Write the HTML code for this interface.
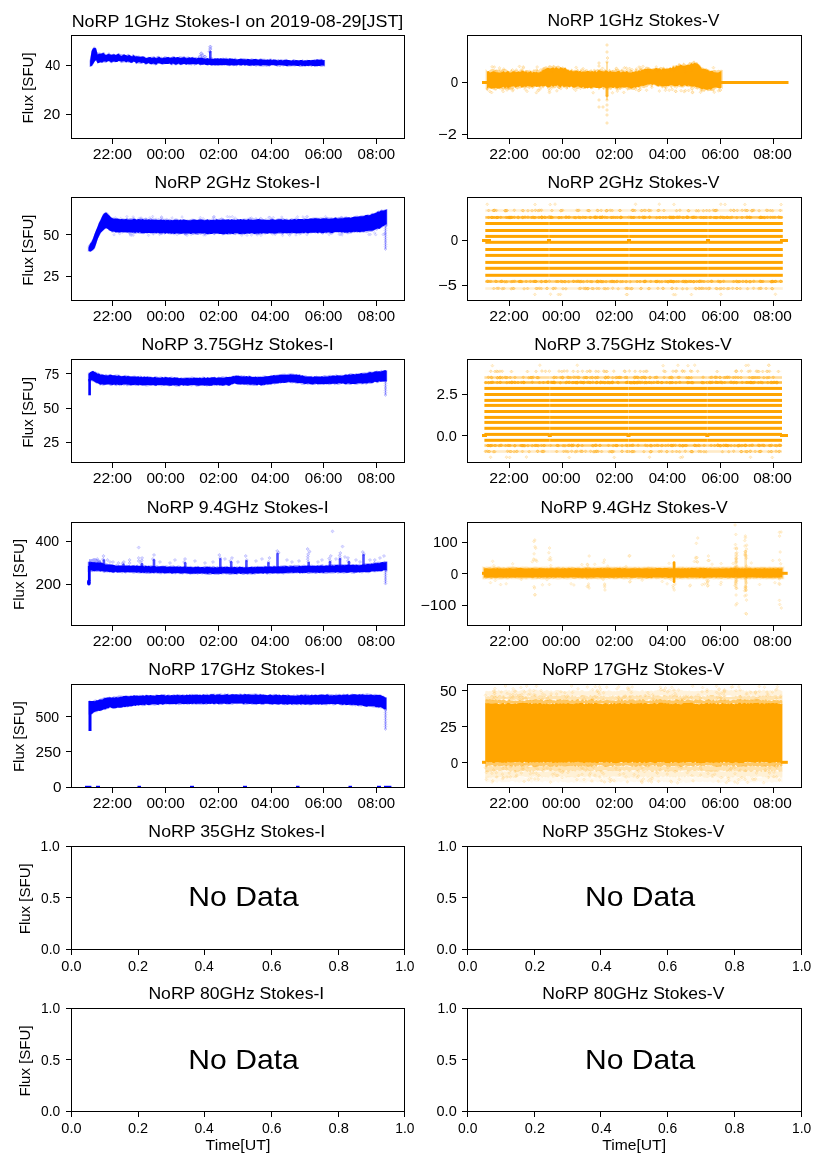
<!DOCTYPE html>
<html><head><meta charset="utf-8"><title>NoRP plots</title>
<style>
html,body{margin:0;padding:0;background:#fff;}
svg{display:block;will-change:transform;}
text{font-family:"Liberation Sans",sans-serif;fill:#000;}
</style></head>
<body>
<svg width="827" height="1169" viewBox="0 0 827 1169">
<rect x="0" y="0" width="827" height="1169" fill="#fff"/>
<defs>
<clipPath id="c00"><rect x="71" y="35" width="334" height="103"/></clipPath>
<clipPath id="c01"><rect x="467" y="35" width="335" height="103"/></clipPath>
<clipPath id="c10"><rect x="71" y="197" width="334" height="103"/></clipPath>
<clipPath id="c11"><rect x="467" y="197" width="335" height="103"/></clipPath>
<clipPath id="c20"><rect x="71" y="359" width="334" height="103"/></clipPath>
<clipPath id="c21"><rect x="467" y="359" width="335" height="103"/></clipPath>
<clipPath id="c30"><rect x="71" y="522" width="334" height="103"/></clipPath>
<clipPath id="c31"><rect x="467" y="522" width="335" height="103"/></clipPath>
<clipPath id="c40"><rect x="71" y="684" width="334" height="103"/></clipPath>
<clipPath id="c41"><rect x="467" y="684" width="335" height="103"/></clipPath>
</defs>
<g clip-path="url(#c00)">
<path d="M89.5,60.9 L91,54.06 L92.5,48.48 L94,46.54 L95.5,47.29 L97,52.08 L98.5,52.7 L100,52.43 L101.51,53.78 L103.01,51.93 L104.51,52.56 L106.01,54.99 L107.51,53.63 L109.01,52.22 L110.51,54.36 L112.01,54.68 L113.51,53.59 L115.01,54.32 L116.51,54.93 L118.01,53.02 L119.51,53.43 L121.01,54.35 L122.51,54.31 L124.01,53.99 L125.52,55.39 L127.02,54.45 L128.52,53.86 L130.02,55.4 L131.52,55.8 L133.02,54.08 L134.52,55.59 L136.02,55.61 L137.52,55.82 L139.02,55.45 L140.52,56.62 L142.02,56.09 L143.52,56.17 L145.02,56.74 L146.52,57.4 L148.02,56.77 L149.53,57.11 L151.03,56.74 L152.53,56.63 L154.03,56.08 L155.53,57.42 L157.03,56.36 L158.53,55.76 L160.03,57.04 L161.53,56.83 L163.03,57.46 L164.53,56.28 L166.03,56.6 L167.53,57.1 L169.03,56.67 L170.53,57.85 L172.04,56.47 L173.54,55.98 L175.04,57.01 L176.54,57.01 L178.04,57.35 L179.54,56.13 L181.04,56.44 L182.54,56.75 L184.04,55.95 L185.54,57.11 L187.04,56.83 L188.54,56.46 L190.04,57.68 L191.54,57.05 L193.04,56.87 L194.54,57.32 L196.05,56.98 L197.55,57.85 L199.05,57.73 L200.55,57.96 L202.05,57.25 L203.55,57.48 L205.05,57.61 L206.55,58.16 L208.05,57.91 L209.55,57.71 L211.05,57.53 L212.55,57.49 L214.05,58.7 L215.55,58.66 L217.05,58.52 L218.55,58.43 L220.06,58.36 L221.56,58.28 L223.06,57.53 L224.56,58.15 L226.06,57.51 L227.56,58.06 L229.06,57.88 L230.56,58.54 L232.06,58.25 L233.56,58.96 L235.06,57.62 L236.56,58.63 L238.06,58.97 L239.56,59.05 L241.06,58.04 L242.56,58.28 L244.07,58.27 L245.57,58.49 L247.07,58.71 L248.57,59.28 L250.07,59.02 L251.57,58.21 L253.07,58.79 L254.57,58.94 L256.07,58.61 L257.57,59.47 L259.07,58.91 L260.57,58.35 L262.07,58.79 L263.57,58.77 L265.07,58.76 L266.58,59.49 L268.08,59.32 L269.58,58.7 L271.08,58.49 L272.58,59.53 L274.08,59.44 L275.58,59.23 L277.08,59.64 L278.58,59.01 L280.08,59.99 L281.58,59.13 L283.08,59.71 L284.58,59.22 L286.08,58.84 L287.58,59.92 L289.08,60.1 L290.59,60.06 L292.09,59.97 L293.59,58.99 L295.09,59.77 L296.59,60.03 L298.09,59.89 L299.59,60.21 L301.09,60.46 L302.59,59.14 L304.09,60.53 L305.59,60.52 L307.09,59.56 L308.59,60.62 L310.09,60.5 L311.59,59.81 L313.09,59.79 L314.6,59 L316.1,59.25 L317.6,59.61 L319.1,59.07 L320.6,58.77 L322.1,58.65 L323.6,60.08 L325.1,60.03 L325.1,66.7 L323.6,66.26 L322.1,66.79 L320.6,66.8 L319.1,65.94 L317.6,66.25 L316.1,65.72 L314.6,66.88 L313.09,65.85 L311.59,66.99 L310.09,66.11 L308.59,66.46 L307.09,66 L305.59,66.54 L304.09,66.37 L302.59,66.67 L301.09,66.82 L299.59,67.04 L298.09,66 L296.59,65.84 L295.09,66.5 L293.59,66.27 L292.09,66.13 L290.59,66.45 L289.08,66.56 L287.58,66.79 L286.08,65.99 L284.58,65.89 L283.08,66.44 L281.58,65.77 L280.08,66.88 L278.58,66.13 L277.08,66.84 L275.58,65.53 L274.08,65.61 L272.58,65.84 L271.08,65.37 L269.58,66.79 L268.08,66.25 L266.58,66.68 L265.07,66.32 L263.57,66.56 L262.07,66.39 L260.57,66.41 L259.07,66.29 L257.57,65.92 L256.07,66.63 L254.57,65.9 L253.07,65.5 L251.57,66.21 L250.07,66.17 L248.57,65.74 L247.07,65.41 L245.57,65.64 L244.07,65.7 L242.56,65.06 L241.06,65.68 L239.56,66.22 L238.06,65.09 L236.56,66.46 L235.06,65.48 L233.56,66.16 L232.06,65.76 L230.56,65.95 L229.06,66.34 L227.56,65.64 L226.06,65.01 L224.56,65.67 L223.06,65.27 L221.56,65.28 L220.06,64.86 L218.55,65.83 L217.05,65.84 L215.55,65.9 L214.05,65.42 L212.55,65.87 L211.05,65.96 L209.55,64.67 L208.05,65.63 L206.55,64.8 L205.05,64.81 L203.55,64.93 L202.05,64.59 L200.55,65.67 L199.05,64.65 L197.55,64.37 L196.05,64.8 L194.54,65.64 L193.04,64.44 L191.54,65.62 L190.04,64.96 L188.54,65.3 L187.04,64.4 L185.54,64.74 L184.04,64.13 L182.54,64.72 L181.04,65.15 L179.54,65.07 L178.04,64.16 L176.54,65.3 L175.04,65.2 L173.54,64.15 L172.04,65.58 L170.53,64.71 L169.03,63.77 L167.53,64.09 L166.03,64.06 L164.53,64.26 L163.03,64.85 L161.53,64.44 L160.03,64.01 L158.53,63.84 L157.03,64.68 L155.53,65.48 L154.03,64.82 L152.53,64.6 L151.03,64.38 L149.53,64.34 L148.02,63.33 L146.52,64.78 L145.02,64.66 L143.52,62.73 L142.02,63.91 L140.52,63.96 L139.02,63.51 L137.52,63.45 L136.02,64.35 L134.52,61.97 L133.02,62.35 L131.52,63.26 L130.02,62.76 L128.52,62.77 L127.02,62.19 L125.52,62.49 L124.01,62.15 L122.51,62.79 L121.01,63.34 L119.51,61.18 L118.01,61.15 L116.51,61.96 L115.01,62.46 L113.51,62.06 L112.01,63.28 L110.51,62.9 L109.01,61.38 L107.51,61.85 L106.01,62.95 L104.51,62.41 L103.01,62.51 L101.51,62.53 L100,62.67 L98.5,62.87 L97,62.3 L95.5,60.45 L94,63.12 L92.5,66.01 L91,66.77 L89.5,67.08Z" fill="#0000ff" fill-opacity="0.35"/>
<path d="M90.1,61.05 L91.6,50.81 L93.11,48.22 L94.61,48.04 L96.11,48.3 L97.61,54.38 L99.12,53.67 L100.62,53.65 L102.12,53.25 L103.62,53.05 L105.13,54.66 L106.63,54.82 L108.13,54.04 L109.63,54.24 L111.14,54.83 L112.64,54.41 L114.14,54.21 L115.64,55.07 L117.15,54.23 L118.65,53.69 L120.15,55.22 L121.65,55.93 L123.16,54.63 L124.66,54.58 L126.16,55.19 L127.66,55.77 L129.17,54.87 L130.67,55.78 L132.17,56.43 L133.67,54.93 L135.18,56.38 L136.68,56.19 L138.18,56.54 L139.68,56.78 L141.19,56.66 L142.69,56.41 L144.19,56.82 L145.69,57.96 L147.2,57.92 L148.7,57.17 L150.2,56.95 L151.71,57.96 L153.21,57.56 L154.71,57.17 L156.21,58.35 L157.72,57.53 L159.22,56.75 L160.72,58.04 L162.22,58.21 L163.73,57.47 L165.23,57.65 L166.73,57.17 L168.23,57.04 L169.74,57.76 L171.24,57.5 L172.74,57.53 L174.24,56.71 L175.75,57.84 L177.25,57.12 L178.75,57.21 L180.25,57.92 L181.76,57.78 L183.26,57.28 L184.76,57.28 L186.26,58.27 L187.77,58 L189.27,57.29 L190.77,57.68 L192.27,57.34 L193.78,58.07 L195.28,58.09 L196.78,58.43 L198.28,57.56 L199.79,57.98 L201.29,57.57 L202.79,57.92 L204.29,58.53 L205.8,58.71 L207.3,58.09 L208.8,58.83 L210.31,58.43 L211.81,58.65 L213.31,58.96 L214.81,58.36 L216.32,58.38 L217.82,58.35 L219.32,58.82 L220.82,58.3 L222.33,58.8 L223.83,58.38 L225.33,58.65 L226.83,58.71 L228.34,59.24 L229.84,58.35 L231.34,58.64 L232.84,58.66 L234.35,58.98 L235.85,59.36 L237.35,59.44 L238.85,59.02 L240.36,58.82 L241.86,58.93 L243.36,59.32 L244.86,59.3 L246.37,59.44 L247.87,58.77 L249.37,59.28 L250.87,59.44 L252.38,59.61 L253.88,59.04 L255.38,59.01 L256.88,59.35 L258.39,59.84 L259.89,59.18 L261.39,59.35 L262.89,59.82 L264.4,59.69 L265.9,59.97 L267.4,59.6 L268.91,59.95 L270.41,59.33 L271.91,60.26 L273.41,59.5 L274.92,59.69 L276.42,60.12 L277.92,60.44 L279.42,60.03 L280.93,59.69 L282.43,60.41 L283.93,59.95 L285.43,59.98 L286.94,59.83 L288.44,59.98 L289.94,60.22 L291.44,60.71 L292.95,60.03 L294.45,60.49 L295.95,60.09 L297.45,60.2 L298.96,60.44 L300.46,59.95 L301.96,59.95 L303.46,60.77 L304.97,60.3 L306.47,60.57 L307.97,60.09 L309.47,60.05 L310.98,60.25 L312.48,60.03 L313.98,59.96 L315.48,60.24 L316.99,59.32 L318.49,59.69 L319.99,59.97 L321.49,59.51 L323,60.35 L324.5,59.95 L324.5,65.77 L323,65.51 L321.49,65.49 L319.99,66.12 L318.49,66.07 L316.99,66.28 L315.48,66.2 L313.98,66.02 L312.48,66.12 L310.98,65.5 L309.47,65.76 L307.97,66.09 L306.47,65.85 L304.97,66.18 L303.46,65.72 L301.96,65.98 L300.46,65.34 L298.96,66.04 L297.45,65.99 L295.95,65.75 L294.45,65.57 L292.95,65.39 L291.44,65.68 L289.94,65.38 L288.44,65.38 L286.94,66.13 L285.43,65.81 L283.93,65.59 L282.43,65.17 L280.93,65.35 L279.42,65.12 L277.92,65.22 L276.42,65.86 L274.92,65.62 L273.41,65.08 L271.91,65.05 L270.41,65.46 L268.91,65.83 L267.4,65.46 L265.9,65.36 L264.4,65.21 L262.89,65.08 L261.39,65.85 L259.89,65.73 L258.39,65.36 L256.88,65.16 L255.38,65.21 L253.88,65.72 L252.38,65.22 L250.87,65.44 L249.37,65.64 L247.87,65.39 L246.37,64.89 L244.86,65.38 L243.36,64.69 L241.86,65.59 L240.36,65.15 L238.85,64.87 L237.35,65.22 L235.85,65.36 L234.35,65.43 L232.84,65.16 L231.34,64.95 L229.84,65.43 L228.34,65.17 L226.83,65.13 L225.33,64.89 L223.83,65.06 L222.33,65.26 L220.82,65.33 L219.32,65.13 L217.82,65.34 L216.32,65.12 L214.81,65.3 L213.31,64.9 L211.81,65.31 L210.31,65.01 L208.8,64.87 L207.3,65.16 L205.8,65.06 L204.29,64.15 L202.79,64.66 L201.29,64.69 L199.79,64.73 L198.28,63.79 L196.78,64.52 L195.28,64.17 L193.78,63.95 L192.27,64.07 L190.77,64.21 L189.27,64.36 L187.77,63.98 L186.26,64.87 L184.76,63.9 L183.26,64.11 L181.76,64.5 L180.25,64.72 L178.75,63.5 L177.25,64.33 L175.75,64.67 L174.24,64.04 L172.74,63.58 L171.24,64.8 L169.74,63.62 L168.23,63.97 L166.73,64.06 L165.23,63.88 L163.73,63.7 L162.22,64.24 L160.72,63.76 L159.22,63.17 L157.72,63.31 L156.21,64.72 L154.71,63.93 L153.21,63.41 L151.71,64.37 L150.2,63.93 L148.7,62.88 L147.2,63.71 L145.69,64.02 L144.19,63.06 L142.69,62.76 L141.19,63.01 L139.68,62.34 L138.18,62.34 L136.68,63.38 L135.18,62.3 L133.67,61.48 L132.17,62.63 L130.67,62.66 L129.17,61.75 L127.66,61.48 L126.16,62.5 L124.66,61.31 L123.16,61.29 L121.65,61.79 L120.15,61.26 L118.65,60.93 L117.15,62.12 L115.64,61.92 L114.14,61.6 L112.64,61.86 L111.14,62.47 L109.63,61.17 L108.13,61.02 L106.63,62.08 L105.13,61.62 L103.62,61.45 L102.12,62.69 L100.62,62.24 L99.12,62.85 L97.61,63.54 L96.11,60.04 L94.61,61.6 L93.11,64.06 L91.6,65.96 L90.1,66.26Z" fill="#0000ff"/>
<rect x="209" y="51" width="2.6" height="8" rx="1" fill="#0000ff" fill-opacity="0.75"/>
<path d="M210.3,45l1.8,1.8l-1.8,1.8l-1.8,-1.8zM210.3,47.2l1.8,1.8l-1.8,1.8l-1.8,-1.8zM209.8,49.7l1.8,1.8l-1.8,1.8l-1.8,-1.8zM201.3,51.7l1.8,1.8l-1.8,1.8l-1.8,-1.8zM202.5,53.7l1.8,1.8l-1.8,1.8l-1.8,-1.8zM200,54.7l1.8,1.8l-1.8,1.8l-1.8,-1.8zM205,55l1.8,1.8l-1.8,1.8l-1.8,-1.8z" fill="#0000ff" fill-opacity="0.210" stroke="#0000ff" stroke-opacity="0.300" stroke-width="0.7"/>
</g>
<g clip-path="url(#c01)">
<rect x="482" y="81" width="6" height="3" fill="#ffa500"/>
<rect x="721" y="81" width="67.5" height="3" fill="#ffa500"/>
<path d="M485.7,68.73 L487.21,71.53 L488.72,71.09 L490.23,69.72 L491.74,69.04 L493.25,68.87 L494.76,69.98 L496.27,69.76 L497.78,69.72 L499.29,69.24 L500.8,70.97 L502.31,69.35 L503.81,69.09 L505.32,69.02 L506.83,69.8 L508.34,71.12 L509.85,70.96 L511.36,69.04 L512.87,71.47 L514.38,69.9 L515.89,71.75 L517.4,71.8 L518.91,70.38 L520.42,70.67 L521.93,69.15 L523.44,70.78 L524.95,71.01 L526.46,70.27 L527.97,69.88 L529.48,71.64 L530.99,70.83 L532.5,70.69 L534.01,69.04 L535.52,70.7 L537.02,69.21 L538.53,70.26 L540.04,70.88 L541.55,70.24 L543.06,68.15 L544.57,66.76 L546.08,66.24 L547.59,66.99 L549.1,65.35 L550.61,65.47 L552.12,66.33 L553.63,64.82 L555.14,66.29 L556.65,65.89 L558.16,65.57 L559.67,66.2 L561.18,68.08 L562.69,66.33 L564.2,67.83 L565.71,67.45 L567.22,69.38 L568.73,69.21 L570.24,70.26 L571.74,68.39 L573.25,70.23 L574.76,69.73 L576.27,70.18 L577.78,68.51 L579.29,71.25 L580.8,68.89 L582.31,70.91 L583.82,70.44 L585.33,69.51 L586.84,70.99 L588.35,71.02 L589.86,69.9 L591.37,69.14 L592.88,71.53 L594.39,69.78 L595.9,70.03 L597.41,69.08 L598.92,69.38 L600.43,68.67 L601.94,69.65 L603.45,70.27 L604.95,68.88 L606.46,70.23 L607.97,70.89 L609.48,68.77 L610.99,70.41 L612.5,69.99 L614.01,70.74 L615.52,69.1 L617.03,69.59 L618.54,68.82 L620.05,70.58 L621.56,69.58 L623.07,69.96 L624.58,71.5 L626.09,70.9 L627.6,70.55 L629.11,71.71 L630.62,69.53 L632.13,70.34 L633.64,71.66 L635.15,69.47 L636.66,68.86 L638.16,70.94 L639.67,69.43 L641.18,67.92 L642.69,68.47 L644.2,69.02 L645.71,66.87 L647.22,66.68 L648.73,67.11 L650.24,67.96 L651.75,68.69 L653.26,68.01 L654.77,68.01 L656.28,67.67 L657.79,68.53 L659.3,67.87 L660.81,66.72 L662.32,67.59 L663.83,66.38 L665.34,69.11 L666.85,67.39 L668.36,68.24 L669.87,67.4 L671.38,67.88 L672.88,65.16 L674.39,65.71 L675.9,65.17 L677.41,65.19 L678.92,62.99 L680.43,63.98 L681.94,65.04 L683.45,62.6 L684.96,63.77 L686.47,64.66 L687.98,64.06 L689.49,62.02 L691,62.6 L692.51,61.71 L694.02,60.41 L695.53,62.32 L697.04,62.11 L698.55,64.1 L700.06,64.96 L701.57,67.18 L703.08,67.58 L704.59,68.95 L706.09,67.88 L707.6,69.13 L709.11,69.49 L710.62,70.81 L712.13,70.53 L713.64,70.54 L715.15,69.98 L716.66,70.55 L718.17,69.65 L719.68,70.11 L721.19,69.66 L722.7,69.96 L722.7,89.24 L721.19,87.52 L719.68,88.33 L718.17,87.8 L716.66,88.32 L715.15,88.88 L713.64,91.4 L712.13,91.12 L710.62,90.65 L709.11,90.91 L707.6,91.15 L706.09,89.78 L704.59,91.71 L703.08,91.57 L701.57,91.64 L700.06,88.65 L698.55,88.64 L697.04,89.71 L695.53,87.1 L694.02,87.96 L692.51,86.26 L691,88.11 L689.49,86.8 L687.98,87.36 L686.47,86.09 L684.96,86.55 L683.45,87.56 L681.94,87.45 L680.43,87.14 L678.92,87 L677.41,86.47 L675.9,85.61 L674.39,87.88 L672.88,85.9 L671.38,88.65 L669.87,86.23 L668.36,86.68 L666.85,86.77 L665.34,89.12 L663.83,87.28 L662.32,88.59 L660.81,86.69 L659.3,86.64 L657.79,86.82 L656.28,86.19 L654.77,85.31 L653.26,84.88 L651.75,87.4 L650.24,85.15 L648.73,85.58 L647.22,87.27 L645.71,87.31 L644.2,88.3 L642.69,87.86 L641.18,87.13 L639.67,88.97 L638.16,86.95 L636.66,86.96 L635.15,89.35 L633.64,90.03 L632.13,89.74 L630.62,89.49 L629.11,89.46 L627.6,90.68 L626.09,88.46 L624.58,87.88 L623.07,88.29 L621.56,88.85 L620.05,90.29 L618.54,88.22 L617.03,90.08 L615.52,89.14 L614.01,88.06 L612.5,88.12 L610.99,90.07 L609.48,89.14 L607.97,89.87 L606.46,89.35 L604.95,87.43 L603.45,89.96 L601.94,87.76 L600.43,88.01 L598.92,90.27 L597.41,87.34 L595.9,87.43 L594.39,87.48 L592.88,88.87 L591.37,89.32 L589.86,87.87 L588.35,87.52 L586.84,87.95 L585.33,88.58 L583.82,89.37 L582.31,88.52 L580.8,87.09 L579.29,88.05 L577.78,89.35 L576.27,88.99 L574.76,87.34 L573.25,86.94 L571.74,87.12 L570.24,87.28 L568.73,86.78 L567.22,89.23 L565.71,87.05 L564.2,88.26 L562.69,87.18 L561.18,87.62 L559.67,88.92 L558.16,88.52 L556.65,87.09 L555.14,88.18 L553.63,88.24 L552.12,87.78 L550.61,87.54 L549.1,87.44 L547.59,88.56 L546.08,86.25 L544.57,86.7 L543.06,88.49 L541.55,86.21 L540.04,87.17 L538.53,87.18 L537.02,86.69 L535.52,86.5 L534.01,87.79 L532.5,89.08 L530.99,87.62 L529.48,89.35 L527.97,87.99 L526.46,87.74 L524.95,88.26 L523.44,88.26 L521.93,87.47 L520.42,88.57 L518.91,88.21 L517.4,89.51 L515.89,88.4 L514.38,87.44 L512.87,89.43 L511.36,88.98 L509.85,89.45 L508.34,90.05 L506.83,89.1 L505.32,89.03 L503.81,89.73 L502.31,89.23 L500.8,88.13 L499.29,89.4 L497.78,87.83 L496.27,90.52 L494.76,90.6 L493.25,88.82 L491.74,88.61 L490.23,89.01 L488.72,88.4 L487.21,91.09 L485.7,88.52Z" fill="#ffa500" fill-opacity="0.4"/>
<path d="M487,71.45 L488.5,71.1 L490.01,72.45 L491.51,71.96 L493.01,71.16 L494.51,71.46 L496.02,72.32 L497.52,72.32 L499.02,72.56 L500.52,72.55 L502.03,72.03 L503.53,71.02 L505.03,72.58 L506.53,71.68 L508.04,70.73 L509.54,72.47 L511.04,72.43 L512.54,71.46 L514.05,71.31 L515.55,72.36 L517.05,71.9 L518.55,71.51 L520.06,71.93 L521.56,71.25 L523.06,70.75 L524.56,71.99 L526.07,71.32 L527.57,72.47 L529.07,71.97 L530.57,71.08 L532.08,72.64 L533.58,71.84 L535.08,72.26 L536.58,71.92 L538.09,72.49 L539.59,72.34 L541.09,71.86 L542.59,70.2 L544.1,69.73 L545.6,68.74 L547.1,68.1 L548.61,67.99 L550.11,68.51 L551.61,68.01 L553.11,67.14 L554.62,68.51 L556.12,67.04 L557.62,68.2 L559.12,68.71 L560.63,66.93 L562.13,67.99 L563.63,68.46 L565.13,67.6 L566.64,69.56 L568.14,69.81 L569.64,71 L571.14,69.97 L572.65,71.25 L574.15,71.35 L575.65,70.95 L577.15,70.65 L578.66,71.56 L580.16,70.84 L581.66,72.02 L583.16,71.52 L584.67,71.56 L586.17,71.39 L587.67,70.74 L589.17,71.14 L590.68,71.48 L592.18,70.97 L593.68,71.75 L595.18,70.87 L596.69,72.2 L598.19,70.32 L599.69,70.23 L601.19,70.96 L602.7,71.31 L604.2,71.41 L605.7,70.28 L607.21,71.11 L608.71,71.98 L610.21,70.87 L611.71,71.82 L613.22,71.71 L614.72,72.11 L616.22,71.82 L617.72,70.99 L619.23,70.7 L620.73,72.57 L622.23,71.8 L623.73,71.41 L625.24,72.33 L626.74,70.98 L628.24,72.21 L629.74,72.59 L631.25,72.4 L632.75,71.64 L634.25,72.12 L635.75,71.04 L637.26,71.56 L638.76,70.15 L640.26,71.19 L641.76,69.81 L643.27,69.67 L644.77,68.75 L646.27,69.02 L647.77,68.6 L649.28,68.75 L650.78,69.01 L652.28,69.22 L653.78,69.22 L655.29,68.17 L656.79,67.95 L658.29,69.1 L659.79,68.13 L661.3,69.72 L662.8,68.34 L664.3,68.51 L665.81,68.7 L667.31,68.82 L668.81,68.57 L670.31,67.42 L671.82,68.33 L673.32,66.35 L674.82,67.71 L676.32,65.6 L677.83,66.16 L679.33,65.8 L680.83,64.38 L682.33,65.52 L683.84,65.73 L685.34,65.59 L686.84,65.12 L688.34,64.69 L689.85,64.75 L691.35,63 L692.85,64.1 L694.35,62.81 L695.86,63.18 L697.36,63.57 L698.86,64.84 L700.36,66.52 L701.87,68.71 L703.37,68.71 L704.87,68.78 L706.37,69.41 L707.88,69.7 L709.38,71.24 L710.88,71.12 L712.38,70.73 L713.89,72.35 L715.39,72.37 L716.89,72.59 L718.39,72.44 L719.9,71.5 L721.4,70.88 L721.4,87.79 L719.9,88.49 L718.39,88.2 L716.89,87.59 L715.39,87.47 L713.89,87.83 L712.38,88.14 L710.88,89.65 L709.38,89.11 L707.88,89.66 L706.37,89.68 L704.87,89.28 L703.37,88.86 L701.87,89.27 L700.36,88.26 L698.86,87.69 L697.36,87.24 L695.86,87 L694.35,86.3 L692.85,86.77 L691.35,86.61 L689.85,86.01 L688.34,85.61 L686.84,86.52 L685.34,85.28 L683.84,85.4 L682.33,86.39 L680.83,86.15 L679.33,84.71 L677.83,85.98 L676.32,86.23 L674.82,86.33 L673.32,85.78 L671.82,85.33 L670.31,85.31 L668.81,85.92 L667.31,86.03 L665.81,85.95 L664.3,86.24 L662.8,86.44 L661.3,86.31 L659.79,85.48 L658.29,86.4 L656.79,85.66 L655.29,84.84 L653.78,84.17 L652.28,84.98 L650.78,83.97 L649.28,84.44 L647.77,84.62 L646.27,84.93 L644.77,85.6 L643.27,86.07 L641.76,85.79 L640.26,86.33 L638.76,87.17 L637.26,86.69 L635.75,87.71 L634.25,87.21 L632.75,87.93 L631.25,88.63 L629.74,87.86 L628.24,87.54 L626.74,86.97 L625.24,87.59 L623.73,87.6 L622.23,87.26 L620.73,87.85 L619.23,87.59 L617.72,88.16 L616.22,88.21 L614.72,86.98 L613.22,88.13 L611.71,87.55 L610.21,87.49 L608.71,87.74 L607.21,87.89 L605.7,87.99 L604.2,87.21 L602.7,86.75 L601.19,88.1 L599.69,88.32 L598.19,88.11 L596.69,87.95 L595.18,87.67 L593.68,87.3 L592.18,87.74 L590.68,88.4 L589.17,87.4 L587.67,88.42 L586.17,87.68 L584.67,88.32 L583.16,86.77 L581.66,88 L580.16,87.55 L578.66,86.6 L577.15,86.45 L575.65,87.35 L574.15,87.77 L572.65,87.57 L571.14,86.08 L569.64,87.57 L568.14,86.84 L566.64,86.55 L565.13,86.69 L563.63,86.95 L562.13,85.39 L560.63,87.31 L559.12,86.52 L557.62,85.27 L556.12,85.91 L554.62,85.74 L553.11,87.04 L551.61,85.61 L550.11,87.1 L548.61,87.18 L547.1,87.2 L545.6,85.86 L544.1,86.22 L542.59,86.57 L541.09,85.85 L539.59,86.7 L538.09,86.45 L536.58,86.93 L535.08,86.28 L533.58,86.5 L532.08,87.14 L530.57,86.54 L529.07,86.6 L527.57,86.08 L526.07,87 L524.56,86.41 L523.06,87.05 L521.56,87.7 L520.06,85.86 L518.55,86.83 L517.05,86.79 L515.55,87.65 L514.05,86.2 L512.54,86.5 L511.04,86.87 L509.54,87.17 L508.04,88.29 L506.53,86.66 L505.03,88.38 L503.53,86.66 L502.03,87.51 L500.52,88.15 L499.02,88.48 L497.52,88.71 L496.02,87.83 L494.51,88.33 L493.01,88.27 L491.51,88.75 L490.01,87.93 L488.5,87.53 L487,88.61Z" fill="#ffa500"/>
<path d="M576.16,65.88l1.5,1.5l-1.5,1.5l-1.5,-1.5zM525.85,69.98l1.5,1.5l-1.5,1.5l-1.5,-1.5zM622.24,68.64l1.5,1.5l-1.5,1.5l-1.5,-1.5zM616.42,66.8l1.5,1.5l-1.5,1.5l-1.5,-1.5zM658.2,67.96l1.5,1.5l-1.5,1.5l-1.5,-1.5zM669.8,68.47l1.5,1.5l-1.5,1.5l-1.5,-1.5zM683.4,67.14l1.5,1.5l-1.5,1.5l-1.5,-1.5zM523.28,65.4l1.5,1.5l-1.5,1.5l-1.5,-1.5zM656.22,65.51l1.5,1.5l-1.5,1.5l-1.5,-1.5zM640.19,68.22l1.5,1.5l-1.5,1.5l-1.5,-1.5zM500.92,69.21l1.5,1.5l-1.5,1.5l-1.5,-1.5zM494.72,69.7l1.5,1.5l-1.5,1.5l-1.5,-1.5zM683.8,65.8l1.5,1.5l-1.5,1.5l-1.5,-1.5zM656.94,68.89l1.5,1.5l-1.5,1.5l-1.5,-1.5zM516.25,68.52l1.5,1.5l-1.5,1.5l-1.5,-1.5zM515.96,69.98l1.5,1.5l-1.5,1.5l-1.5,-1.5zM648.19,70.38l1.5,1.5l-1.5,1.5l-1.5,-1.5zM499.53,66.41l1.5,1.5l-1.5,1.5l-1.5,-1.5zM632.06,68.15l1.5,1.5l-1.5,1.5l-1.5,-1.5zM529.61,69.83l1.5,1.5l-1.5,1.5l-1.5,-1.5zM685.09,66.31l1.5,1.5l-1.5,1.5l-1.5,-1.5zM521.14,68.51l1.5,1.5l-1.5,1.5l-1.5,-1.5zM582.28,68.48l1.5,1.5l-1.5,1.5l-1.5,-1.5zM602.42,66.87l1.5,1.5l-1.5,1.5l-1.5,-1.5zM492.07,65.31l1.5,1.5l-1.5,1.5l-1.5,-1.5zM594.27,68.87l1.5,1.5l-1.5,1.5l-1.5,-1.5zM586.61,68.97l1.5,1.5l-1.5,1.5l-1.5,-1.5zM613.31,69.78l1.5,1.5l-1.5,1.5l-1.5,-1.5zM640.3,66.43l1.5,1.5l-1.5,1.5l-1.5,-1.5zM519.48,64.89l1.5,1.5l-1.5,1.5l-1.5,-1.5zM496.27,69.67l1.5,1.5l-1.5,1.5l-1.5,-1.5zM691.65,69.01l1.5,1.5l-1.5,1.5l-1.5,-1.5zM512.58,68.46l1.5,1.5l-1.5,1.5l-1.5,-1.5zM516.87,69.83l1.5,1.5l-1.5,1.5l-1.5,-1.5zM640.37,69l1.5,1.5l-1.5,1.5l-1.5,-1.5zM629.52,67.01l1.5,1.5l-1.5,1.5l-1.5,-1.5zM685.53,70.27l1.5,1.5l-1.5,1.5l-1.5,-1.5zM543.57,67.12l1.5,1.5l-1.5,1.5l-1.5,-1.5zM658.62,68.58l1.5,1.5l-1.5,1.5l-1.5,-1.5zM583.08,67.2l1.5,1.5l-1.5,1.5l-1.5,-1.5zM713.43,66.16l1.5,1.5l-1.5,1.5l-1.5,-1.5zM536.5,68.62l1.5,1.5l-1.5,1.5l-1.5,-1.5zM551.81,69.88l1.5,1.5l-1.5,1.5l-1.5,-1.5zM563.22,70.05l1.5,1.5l-1.5,1.5l-1.5,-1.5zM575.88,69.81l1.5,1.5l-1.5,1.5l-1.5,-1.5zM662.76,68.89l1.5,1.5l-1.5,1.5l-1.5,-1.5zM537.15,65.49l1.5,1.5l-1.5,1.5l-1.5,-1.5zM494.26,65.58l1.5,1.5l-1.5,1.5l-1.5,-1.5zM642.97,64.89l1.5,1.5l-1.5,1.5l-1.5,-1.5zM542.51,67.9l1.5,1.5l-1.5,1.5l-1.5,-1.5zM523.31,66.47l1.5,1.5l-1.5,1.5l-1.5,-1.5zM540.44,68.56l1.5,1.5l-1.5,1.5l-1.5,-1.5zM514.73,70.49l1.5,1.5l-1.5,1.5l-1.5,-1.5zM627.1,68.78l1.5,1.5l-1.5,1.5l-1.5,-1.5zM616.3,67.49l1.5,1.5l-1.5,1.5l-1.5,-1.5zM714.14,69.86l1.5,1.5l-1.5,1.5l-1.5,-1.5zM679.34,64.68l1.5,1.5l-1.5,1.5l-1.5,-1.5zM624.95,70.15l1.5,1.5l-1.5,1.5l-1.5,-1.5zM636.36,67.58l1.5,1.5l-1.5,1.5l-1.5,-1.5zM639.03,65.56l1.5,1.5l-1.5,1.5l-1.5,-1.5zM657.28,69.2l1.5,1.5l-1.5,1.5l-1.5,-1.5zM503.78,67.56l1.5,1.5l-1.5,1.5l-1.5,-1.5zM626.28,66.61l1.5,1.5l-1.5,1.5l-1.5,-1.5zM646.52,70.03l1.5,1.5l-1.5,1.5l-1.5,-1.5zM699.05,66.35l1.5,1.5l-1.5,1.5l-1.5,-1.5zM522.51,69.62l1.5,1.5l-1.5,1.5l-1.5,-1.5zM630.2,69.48l1.5,1.5l-1.5,1.5l-1.5,-1.5zM690.33,66.18l1.5,1.5l-1.5,1.5l-1.5,-1.5zM624.45,66.32l1.5,1.5l-1.5,1.5l-1.5,-1.5zM673.61,68.65l1.5,1.5l-1.5,1.5l-1.5,-1.5zM636.63,85.65l1.5,1.5l-1.5,1.5l-1.5,-1.5zM551.36,86.84l1.5,1.5l-1.5,1.5l-1.5,-1.5zM659.33,89.56l1.5,1.5l-1.5,1.5l-1.5,-1.5zM695.77,86.02l1.5,1.5l-1.5,1.5l-1.5,-1.5zM585.73,85.68l1.5,1.5l-1.5,1.5l-1.5,-1.5zM538.16,88.53l1.5,1.5l-1.5,1.5l-1.5,-1.5zM493.21,86.69l1.5,1.5l-1.5,1.5l-1.5,-1.5zM639.07,88.77l1.5,1.5l-1.5,1.5l-1.5,-1.5zM538.58,89.04l1.5,1.5l-1.5,1.5l-1.5,-1.5zM676.41,85.54l1.5,1.5l-1.5,1.5l-1.5,-1.5zM675.56,89.69l1.5,1.5l-1.5,1.5l-1.5,-1.5zM566.62,86.43l1.5,1.5l-1.5,1.5l-1.5,-1.5zM710.99,87.52l1.5,1.5l-1.5,1.5l-1.5,-1.5zM508.7,86.08l1.5,1.5l-1.5,1.5l-1.5,-1.5zM685.31,89.12l1.5,1.5l-1.5,1.5l-1.5,-1.5zM675.87,89.88l1.5,1.5l-1.5,1.5l-1.5,-1.5zM612.48,91.34l1.5,1.5l-1.5,1.5l-1.5,-1.5zM575.58,88.81l1.5,1.5l-1.5,1.5l-1.5,-1.5zM681.08,89.21l1.5,1.5l-1.5,1.5l-1.5,-1.5zM688.64,88.96l1.5,1.5l-1.5,1.5l-1.5,-1.5zM651.87,85.77l1.5,1.5l-1.5,1.5l-1.5,-1.5zM540.33,87.24l1.5,1.5l-1.5,1.5l-1.5,-1.5zM505.67,86.9l1.5,1.5l-1.5,1.5l-1.5,-1.5zM510.63,87.17l1.5,1.5l-1.5,1.5l-1.5,-1.5zM635.75,87.69l1.5,1.5l-1.5,1.5l-1.5,-1.5zM573.62,86.76l1.5,1.5l-1.5,1.5l-1.5,-1.5zM549.47,91.12l1.5,1.5l-1.5,1.5l-1.5,-1.5zM638.64,89.15l1.5,1.5l-1.5,1.5l-1.5,-1.5zM527.05,89.87l1.5,1.5l-1.5,1.5l-1.5,-1.5zM525.24,87.78l1.5,1.5l-1.5,1.5l-1.5,-1.5zM718.55,89.34l1.5,1.5l-1.5,1.5l-1.5,-1.5zM617.33,89.61l1.5,1.5l-1.5,1.5l-1.5,-1.5zM684.23,90.16l1.5,1.5l-1.5,1.5l-1.5,-1.5zM540.6,85.69l1.5,1.5l-1.5,1.5l-1.5,-1.5zM560.82,87.11l1.5,1.5l-1.5,1.5l-1.5,-1.5zM536.37,91.16l1.5,1.5l-1.5,1.5l-1.5,-1.5zM692.07,87.39l1.5,1.5l-1.5,1.5l-1.5,-1.5zM640.37,87.87l1.5,1.5l-1.5,1.5l-1.5,-1.5zM701,88.25l1.5,1.5l-1.5,1.5l-1.5,-1.5zM548.98,86.98l1.5,1.5l-1.5,1.5l-1.5,-1.5zM618.36,87.08l1.5,1.5l-1.5,1.5l-1.5,-1.5zM623.79,90.89l1.5,1.5l-1.5,1.5l-1.5,-1.5zM580.46,86.82l1.5,1.5l-1.5,1.5l-1.5,-1.5zM720.42,88.56l1.5,1.5l-1.5,1.5l-1.5,-1.5zM508.27,85.78l1.5,1.5l-1.5,1.5l-1.5,-1.5zM512.66,89.26l1.5,1.5l-1.5,1.5l-1.5,-1.5zM672.35,88.03l1.5,1.5l-1.5,1.5l-1.5,-1.5zM501.87,87.79l1.5,1.5l-1.5,1.5l-1.5,-1.5zM720.09,88.67l1.5,1.5l-1.5,1.5l-1.5,-1.5zM714.23,90.66l1.5,1.5l-1.5,1.5l-1.5,-1.5zM489.69,89.82l1.5,1.5l-1.5,1.5l-1.5,-1.5zM646.52,88.72l1.5,1.5l-1.5,1.5l-1.5,-1.5zM549.44,89.35l1.5,1.5l-1.5,1.5l-1.5,-1.5zM513.1,88.11l1.5,1.5l-1.5,1.5l-1.5,-1.5zM593.17,91.22l1.5,1.5l-1.5,1.5l-1.5,-1.5zM691.95,87.08l1.5,1.5l-1.5,1.5l-1.5,-1.5zM604.14,86.57l1.5,1.5l-1.5,1.5l-1.5,-1.5zM700.55,90.72l1.5,1.5l-1.5,1.5l-1.5,-1.5zM556.84,89.33l1.5,1.5l-1.5,1.5l-1.5,-1.5zM629.5,86.42l1.5,1.5l-1.5,1.5l-1.5,-1.5zM665.43,88.74l1.5,1.5l-1.5,1.5l-1.5,-1.5zM669.2,88.68l1.5,1.5l-1.5,1.5l-1.5,-1.5zM487.13,87.44l1.5,1.5l-1.5,1.5l-1.5,-1.5zM491.56,91.07l1.5,1.5l-1.5,1.5l-1.5,-1.5zM692.62,90.49l1.5,1.5l-1.5,1.5l-1.5,-1.5zM558.96,85.85l1.5,1.5l-1.5,1.5l-1.5,-1.5zM692.45,91.18l1.5,1.5l-1.5,1.5l-1.5,-1.5zM507.04,88.42l1.5,1.5l-1.5,1.5l-1.5,-1.5zM503.2,90.06l1.5,1.5l-1.5,1.5l-1.5,-1.5zM666.21,86.27l1.5,1.5l-1.5,1.5l-1.5,-1.5z" fill="#ffa500" fill-opacity="0.175" stroke="#ffa500" stroke-opacity="0.250" stroke-width="0.7"/>
<path d="M607,43.5l1.5,1.5l-1.5,1.5l-1.5,-1.5zM607,50.5l1.5,1.5l-1.5,1.5l-1.5,-1.5zM607.5,56.5l1.5,1.5l-1.5,1.5l-1.5,-1.5zM607,60.5l1.5,1.5l-1.5,1.5l-1.5,-1.5zM599,61.5l1.5,1.5l-1.5,1.5l-1.5,-1.5zM599,64.5l1.5,1.5l-1.5,1.5l-1.5,-1.5zM607,94.5l1.5,1.5l-1.5,1.5l-1.5,-1.5zM607,98.5l1.5,1.5l-1.5,1.5l-1.5,-1.5zM607,103.5l1.5,1.5l-1.5,1.5l-1.5,-1.5zM607,108.5l1.5,1.5l-1.5,1.5l-1.5,-1.5zM607,113.5l1.5,1.5l-1.5,1.5l-1.5,-1.5zM607,121.5l1.5,1.5l-1.5,1.5l-1.5,-1.5zM599,98.5l1.5,1.5l-1.5,1.5l-1.5,-1.5zM599,105.5l1.5,1.5l-1.5,1.5l-1.5,-1.5zM603,105.5l1.5,1.5l-1.5,1.5l-1.5,-1.5z" fill="#ffa500" fill-opacity="0.210" stroke="#ffa500" stroke-opacity="0.300" stroke-width="0.7"/>
<rect x="606" y="62" width="2" height="38" fill="#ffa500" fill-opacity="0.35"/>
<rect x="605.5" y="86" width="3" height="11" rx="1.4" fill="#ffa500" fill-opacity="0.75"/>
</g>
<g clip-path="url(#c10)">
<path d="M87.8,246.06 L89.31,244.23 L90.81,241.84 L92.32,239.31 L93.82,235.8 L95.33,231.79 L96.84,228.32 L98.34,223.62 L99.85,220.52 L101.35,217.31 L102.86,213.89 L104.37,212.82 L105.87,211.63 L107.38,212.46 L108.88,214 L110.39,216.22 L111.9,217.38 L113.4,217.62 L114.91,217.96 L116.41,218.7 L117.92,217.77 L119.43,218.85 L120.93,218.98 L122.44,218.21 L123.94,218.59 L125.45,218.68 L126.96,217.97 L128.46,218.77 L129.97,218 L131.47,217.96 L132.98,218.41 L134.49,218.36 L135.99,219.02 L137.5,219.21 L139.01,219.28 L140.51,218.31 L142.02,218.16 L143.52,218.58 L145.03,218.29 L146.54,217.97 L148.04,219.17 L149.55,218.78 L151.05,218.1 L152.56,219.2 L154.07,218.76 L155.57,218.76 L157.08,219.22 L158.58,218.27 L160.09,219.13 L161.6,218.45 L163.1,218.66 L164.61,218.67 L166.11,218.78 L167.62,219.32 L169.13,218.63 L170.63,218.98 L172.14,219.67 L173.64,219.35 L175.15,218.62 L176.66,218.47 L178.16,219.08 L179.67,219.59 L181.17,219.24 L182.68,218.86 L184.19,219.36 L185.69,219.7 L187.2,219.6 L188.7,219.64 L190.21,219.25 L191.72,218.83 L193.22,218.84 L194.73,219.03 L196.23,219.41 L197.74,219.71 L199.25,218.54 L200.75,218.66 L202.26,218.91 L203.76,219.33 L205.27,219.35 L206.78,219.28 L208.28,219.15 L209.79,219.05 L211.29,219.38 L212.8,219.62 L214.31,219.35 L215.81,218.98 L217.32,219.03 L218.82,218.87 L220.33,218.42 L221.84,218.42 L223.34,218.22 L224.85,219.62 L226.35,219.26 L227.86,219.44 L229.37,219.52 L230.87,219.06 L232.38,219.21 L233.88,218.28 L235.39,219.4 L236.9,218.28 L238.4,219.62 L239.91,219.44 L241.42,218.95 L242.92,218.8 L244.43,218.42 L245.93,218.76 L247.44,219.45 L248.95,218.36 L250.45,219.01 L251.96,218.72 L253.46,218.36 L254.97,219.11 L256.48,218.53 L257.98,219.18 L259.49,218.18 L260.99,219.46 L262.5,218.49 L264.01,219.59 L265.51,218.56 L267.02,218.85 L268.52,219.04 L270.03,219.18 L271.54,218.42 L273.04,219.03 L274.55,219.18 L276.05,218.98 L277.56,218.42 L279.07,218.2 L280.57,218.72 L282.08,218.74 L283.58,218.18 L285.09,219 L286.6,218.39 L288.1,219.08 L289.61,219.6 L291.11,218.15 L292.62,218.5 L294.13,219.1 L295.63,218.56 L297.14,218.53 L298.64,218.55 L300.15,219.21 L301.66,219.04 L303.16,218.75 L304.67,218.04 L306.17,218.31 L307.68,218.54 L309.19,218.61 L310.69,218.22 L312.2,217.72 L313.7,217.42 L315.21,217.62 L316.72,217.41 L318.22,217.68 L319.73,217.66 L321.23,217.23 L322.74,218.39 L324.25,218.39 L325.75,217.27 L327.26,216.97 L328.76,217.59 L330.27,217.45 L331.78,217.29 L333.28,217.91 L334.79,217.06 L336.29,216.88 L337.8,217.73 L339.31,217.01 L340.81,216.49 L342.32,216.69 L343.83,217 L345.33,216.61 L346.84,217.55 L348.34,217.17 L349.85,216.89 L351.36,216.85 L352.86,217.16 L354.37,216.08 L355.87,215.64 L357.38,215.48 L358.89,216.28 L360.39,215.42 L361.9,215.18 L363.4,215.15 L364.91,214.93 L366.42,214.63 L367.92,214.12 L369.43,214.73 L370.93,213.44 L372.44,212.65 L373.95,213.28 L375.45,212.33 L376.96,211.52 L378.46,210.51 L379.97,210.69 L381.48,209.31 L382.98,209.98 L384.49,209.42 L385.99,208.98 L387.5,208.89 L387.5,226.15 L385.99,226.54 L384.49,225.45 L382.98,227.21 L381.48,228.07 L379.97,228.91 L378.46,228.91 L376.96,230.65 L375.45,229.89 L373.95,230.75 L372.44,231.76 L370.93,231.88 L369.43,231.98 L367.92,232.43 L366.42,232.66 L364.91,232.16 L363.4,232.66 L361.9,232.18 L360.39,233.09 L358.89,231.93 L357.38,233 L355.87,232.21 L354.37,232.91 L352.86,232.57 L351.36,233.45 L349.85,233.61 L348.34,233.15 L346.84,233.49 L345.33,233.27 L343.83,233.19 L342.32,233.49 L340.81,232.37 L339.31,232.61 L337.8,232.5 L336.29,232.7 L334.79,232.56 L333.28,233.58 L331.78,233.81 L330.27,234 L328.76,232.94 L327.26,233.5 L325.75,233.65 L324.25,232.72 L322.74,233.85 L321.23,234.09 L319.73,232.82 L318.22,234.09 L316.72,232.92 L315.21,233.57 L313.7,232.77 L312.2,233.2 L310.69,233.59 L309.19,233.22 L307.68,234.28 L306.17,233.13 L304.67,233.76 L303.16,233.81 L301.66,233.86 L300.15,233.62 L298.64,233.12 L297.14,233.73 L295.63,233.07 L294.13,233.25 L292.62,234.02 L291.11,234.15 L289.61,233.64 L288.1,233.16 L286.6,233.68 L285.09,233.2 L283.58,234.12 L282.08,234.52 L280.57,233.8 L279.07,233.98 L277.56,234.06 L276.05,233.47 L274.55,234.24 L273.04,233.62 L271.54,234.15 L270.03,233.92 L268.52,233.39 L267.02,233.63 L265.51,234.47 L264.01,233.95 L262.5,234.62 L260.99,233.96 L259.49,234.88 L257.98,234.75 L256.48,234.83 L254.97,234.44 L253.46,234.13 L251.96,234.29 L250.45,233.99 L248.95,233.84 L247.44,233.69 L245.93,234.05 L244.43,234.49 L242.92,234.76 L241.42,234.68 L239.91,234.73 L238.4,234.57 L236.9,233.94 L235.39,235.15 L233.88,234.69 L232.38,233.84 L230.87,234.76 L229.37,234.85 L227.86,235 L226.35,234.28 L224.85,234.94 L223.34,234.67 L221.84,234.09 L220.33,234.1 L218.82,234.37 L217.32,233.88 L215.81,233.86 L214.31,234.97 L212.8,234.01 L211.29,234.09 L209.79,234.5 L208.28,234.89 L206.78,234.24 L205.27,235.09 L203.76,234.17 L202.26,234.08 L200.75,234.64 L199.25,234.37 L197.74,234.94 L196.23,234.96 L194.73,234.4 L193.22,234.41 L191.72,234.32 L190.21,233.71 L188.7,234.26 L187.2,234.6 L185.69,234.87 L184.19,234.75 L182.68,233.57 L181.17,234.23 L179.67,234.38 L178.16,234.32 L176.66,233.59 L175.15,233.81 L173.64,234.24 L172.14,234.32 L170.63,234.57 L169.13,234.13 L167.62,233.88 L166.11,233.59 L164.61,234.44 L163.1,233.78 L161.6,234.47 L160.09,234.43 L158.58,233.72 L157.08,233.65 L155.57,234.21 L154.07,233.21 L152.56,233.07 L151.05,234.31 L149.55,233.14 L148.04,232.93 L146.54,233.34 L145.03,233.26 L143.52,234.19 L142.02,234.1 L140.51,234.1 L139.01,233.82 L137.5,233.19 L135.99,234 L134.49,233.92 L132.98,233.84 L131.47,232.79 L129.97,233.46 L128.46,232.52 L126.96,233.15 L125.45,232.75 L123.94,232.81 L122.44,233.45 L120.93,232.6 L119.43,232.3 L117.92,232.41 L116.41,232.57 L114.91,232.31 L113.4,232.5 L111.9,232.7 L110.39,230.92 L108.88,230.63 L107.38,228.68 L105.87,228.49 L104.37,229.78 L102.86,231.03 L101.35,232.16 L99.85,235.45 L98.34,238 L96.84,242.06 L95.33,247.63 L93.82,249.89 L92.32,250.93 L90.81,251.86 L89.31,251.11 L87.8,251.97Z" fill="#0000ff" fill-opacity="0.3"/>
<path d="M88.5,247.64 L90.01,243.71 L91.51,241.94 L93.02,238.53 L94.53,233.93 L96.03,230.29 L97.54,226.76 L99.05,222.71 L100.55,220.12 L102.06,216.53 L103.57,214.12 L105.07,212.85 L106.58,212.78 L108.09,214.38 L109.59,215.65 L111.1,217.46 L112.61,218.37 L114.11,218.84 L115.62,218.59 L117.12,218.45 L118.63,218.9 L120.14,219.34 L121.64,219.06 L123.15,219.32 L124.66,219.3 L126.16,218.97 L127.67,219.46 L129.18,219.38 L130.68,219.45 L132.19,219.59 L133.7,218.73 L135.2,218.99 L136.71,219.69 L138.22,218.95 L139.72,219.14 L141.23,219.39 L142.74,218.94 L144.24,219.65 L145.75,219.5 L147.26,219.76 L148.76,219.32 L150.27,219.73 L151.78,219.38 L153.28,219.63 L154.79,219.67 L156.3,219.87 L157.8,219.95 L159.31,220.01 L160.82,219.55 L162.32,220.09 L163.83,219.81 L165.33,220.17 L166.84,220.08 L168.35,219.95 L169.85,220.17 L171.36,219.9 L172.87,220.28 L174.37,219.82 L175.88,219.82 L177.39,219.69 L178.89,220.35 L180.4,219.49 L181.91,220.13 L183.41,219.53 L184.92,219.78 L186.43,220.12 L187.93,220.15 L189.44,220.31 L190.95,220.25 L192.45,219.73 L193.96,219.54 L195.47,219.83 L196.97,219.97 L198.48,219.85 L199.99,219.42 L201.49,219.45 L203,219.96 L204.51,220.22 L206.01,219.88 L207.52,219.36 L209.03,220.18 L210.53,220.09 L212.04,219.89 L213.54,219.65 L215.05,220.18 L216.56,219.31 L218.06,219.69 L219.57,219.82 L221.08,219.94 L222.58,219.48 L224.09,219.62 L225.6,219.69 L227.1,219.5 L228.61,219.21 L230.12,219.96 L231.62,219.29 L233.13,219.8 L234.64,219.8 L236.14,220.05 L237.65,219.37 L239.16,219.38 L240.66,219.1 L242.17,219.68 L243.68,219.27 L245.18,219.81 L246.69,219.99 L248.2,219.1 L249.7,219.83 L251.21,219.65 L252.72,220.07 L254.22,219.77 L255.73,219.85 L257.24,219.25 L258.74,219.11 L260.25,219.62 L261.76,219.64 L263.26,219.56 L264.77,219.72 L266.27,219.91 L267.78,220.07 L269.29,219.92 L270.79,219.51 L272.3,219.21 L273.81,219.58 L275.31,219.89 L276.82,219.45 L278.33,219.14 L279.83,219.24 L281.34,219.26 L282.85,220.05 L284.35,219.17 L285.86,219.61 L287.37,219.86 L288.87,220.09 L290.38,219.33 L291.89,219.82 L293.39,219.29 L294.9,219.02 L296.41,219.79 L297.91,218.9 L299.42,218.95 L300.93,219.01 L302.43,219.09 L303.94,219.5 L305.45,218.99 L306.95,218.89 L308.46,218.97 L309.97,218.56 L311.47,218.57 L312.98,218.76 L314.48,218.35 L315.99,218.28 L317.5,218.51 L319,218.45 L320.51,219.01 L322.02,218.62 L323.52,218.2 L325.03,218.48 L326.54,218.32 L328.04,218.75 L329.55,218.64 L331.06,218.43 L332.56,218.47 L334.07,218.34 L335.58,217.61 L337.08,218.42 L338.59,218.41 L340.1,218.22 L341.6,218.36 L343.11,218.28 L344.62,217.71 L346.12,217.57 L347.63,217.48 L349.14,217.28 L350.64,217.96 L352.15,217.3 L353.66,216.84 L355.16,216.72 L356.67,216.81 L358.18,216.76 L359.68,216.29 L361.19,216.37 L362.69,216.35 L364.2,216.09 L365.71,215.09 L367.21,215.05 L368.72,215.36 L370.23,214.97 L371.73,214.1 L373.24,213.78 L374.75,213.37 L376.25,212.63 L377.76,211.51 L379.27,211.69 L380.77,210.46 L382.28,210.44 L383.79,210.44 L385.29,209.92 L386.8,209.59 L386.8,224.62 L385.29,224.75 L383.79,225.92 L382.28,226.53 L380.77,227.84 L379.27,228.9 L377.76,228.59 L376.25,228.91 L374.75,229.65 L373.24,230.43 L371.73,230.71 L370.23,230.64 L368.72,230.78 L367.21,230.99 L365.71,231.11 L364.2,231.81 L362.69,231.69 L361.19,231.84 L359.68,232.13 L358.18,231.89 L356.67,231.64 L355.16,231.92 L353.66,231.75 L352.15,232.19 L350.64,232.38 L349.14,231.97 L347.63,232.63 L346.12,232.56 L344.62,232.76 L343.11,232.12 L341.6,232.61 L340.1,232.09 L338.59,232.34 L337.08,232.1 L335.58,232.08 L334.07,232.22 L332.56,232.97 L331.06,233.02 L329.55,232.4 L328.04,232.31 L326.54,232.86 L325.03,232.54 L323.52,233.14 L322.02,232.99 L320.51,232.67 L319,232.59 L317.5,233.15 L315.99,232.59 L314.48,232.72 L312.98,232.71 L311.47,232.81 L309.97,232.71 L308.46,233.13 L306.95,232.98 L305.45,232.45 L303.94,233.14 L302.43,232.69 L300.93,233.12 L299.42,233.16 L297.91,233.31 L296.41,233.43 L294.9,233.28 L293.39,232.98 L291.89,232.63 L290.38,232.93 L288.87,233.06 L287.37,233.16 L285.86,233.26 L284.35,232.92 L282.85,233.18 L281.34,232.85 L279.83,232.86 L278.33,232.76 L276.82,233.18 L275.31,233.52 L273.81,233.62 L272.3,233.3 L270.79,233.13 L269.29,232.94 L267.78,233.68 L266.27,233.45 L264.77,233.37 L263.26,233.11 L261.76,233.83 L260.25,233.21 L258.74,233.73 L257.24,233.4 L255.73,233.85 L254.22,233.95 L252.72,233.29 L251.21,233.06 L249.7,233.85 L248.2,233.56 L246.69,233.41 L245.18,233.88 L243.68,233.86 L242.17,233.78 L240.66,233.98 L239.16,234.06 L237.65,233.32 L236.14,233.26 L234.64,233.33 L233.13,234.23 L231.62,233.81 L230.12,233.83 L228.61,233.41 L227.1,234.13 L225.6,233.86 L224.09,234.2 L222.58,234.21 L221.08,233.98 L219.57,234.06 L218.06,233.62 L216.56,233.4 L215.05,233.49 L213.54,233.36 L212.04,234.12 L210.53,234.03 L209.03,233.75 L207.52,234.2 L206.01,233.65 L204.51,233.33 L203,233.58 L201.49,233.4 L199.99,233.29 L198.48,233.31 L196.97,233.46 L195.47,233.72 L193.96,233.35 L192.45,233.15 L190.95,233.9 L189.44,233.54 L187.93,233.48 L186.43,233.41 L184.92,233.48 L183.41,233.37 L181.91,233.79 L180.4,233.84 L178.89,233.58 L177.39,233.34 L175.88,233.48 L174.37,233.94 L172.87,233.27 L171.36,233.74 L169.85,233.34 L168.35,233.43 L166.84,233.1 L165.33,233.76 L163.83,232.82 L162.32,233.13 L160.82,233.2 L159.31,233.27 L157.8,232.81 L156.3,233.24 L154.79,232.81 L153.28,233.21 L151.78,233.04 L150.27,233.03 L148.76,233.1 L147.26,233.32 L145.75,233.03 L144.24,233.13 L142.74,233.04 L141.23,233.07 L139.72,232.33 L138.22,232.97 L136.71,232.24 L135.2,233 L133.7,232.42 L132.19,232.65 L130.68,232.33 L129.18,232.16 L127.67,232.38 L126.16,232.25 L124.66,232.28 L123.15,232.31 L121.64,231.93 L120.14,232.4 L118.63,232.43 L117.12,232.34 L115.62,232.41 L114.11,231.59 L112.61,231.7 L111.1,231.3 L109.59,230.5 L108.09,229.24 L106.58,228.29 L105.07,228.53 L103.57,229.9 L102.06,231.47 L100.55,233.07 L99.05,236.12 L97.54,239.57 L96.03,244.37 L94.53,248.2 L93.02,249.81 L91.51,250.9 L90.01,251.75 L88.5,250.79Z" fill="#0000ff"/>
<path d="M120.64,217.19l1.4,1.4l-1.4,1.4l-1.4,-1.4zM149.73,216.49l1.4,1.4l-1.4,1.4l-1.4,-1.4zM295.37,217.48l1.4,1.4l-1.4,1.4l-1.4,-1.4zM235.08,216.59l1.4,1.4l-1.4,1.4l-1.4,-1.4zM115.29,216.4l1.4,1.4l-1.4,1.4l-1.4,-1.4zM212.78,217.66l1.4,1.4l-1.4,1.4l-1.4,-1.4zM260.97,217.37l1.4,1.4l-1.4,1.4l-1.4,-1.4zM229.8,215.63l1.4,1.4l-1.4,1.4l-1.4,-1.4zM344.84,217.56l1.4,1.4l-1.4,1.4l-1.4,-1.4zM213.74,215.39l1.4,1.4l-1.4,1.4l-1.4,-1.4zM251.43,216.59l1.4,1.4l-1.4,1.4l-1.4,-1.4zM323.16,216.89l1.4,1.4l-1.4,1.4l-1.4,-1.4zM249.84,216.83l1.4,1.4l-1.4,1.4l-1.4,-1.4zM214.03,215.25l1.4,1.4l-1.4,1.4l-1.4,-1.4zM126.89,217.93l1.4,1.4l-1.4,1.4l-1.4,-1.4zM341.59,215.99l1.4,1.4l-1.4,1.4l-1.4,-1.4zM355.3,216.67l1.4,1.4l-1.4,1.4l-1.4,-1.4zM138.44,217.67l1.4,1.4l-1.4,1.4l-1.4,-1.4zM271.29,217.9l1.4,1.4l-1.4,1.4l-1.4,-1.4zM297.47,215.38l1.4,1.4l-1.4,1.4l-1.4,-1.4zM281.88,217.46l1.4,1.4l-1.4,1.4l-1.4,-1.4zM358.1,216.09l1.4,1.4l-1.4,1.4l-1.4,-1.4zM255.97,217.2l1.4,1.4l-1.4,1.4l-1.4,-1.4zM156.04,217.65l1.4,1.4l-1.4,1.4l-1.4,-1.4zM325.52,215.25l1.4,1.4l-1.4,1.4l-1.4,-1.4zM273.23,216.2l1.4,1.4l-1.4,1.4l-1.4,-1.4zM161.34,216.91l1.4,1.4l-1.4,1.4l-1.4,-1.4zM377.49,216.76l1.4,1.4l-1.4,1.4l-1.4,-1.4zM141.27,216.58l1.4,1.4l-1.4,1.4l-1.4,-1.4zM325.04,217.97l1.4,1.4l-1.4,1.4l-1.4,-1.4zM307.39,215.22l1.4,1.4l-1.4,1.4l-1.4,-1.4zM376.77,216.91l1.4,1.4l-1.4,1.4l-1.4,-1.4zM133.09,215.48l1.4,1.4l-1.4,1.4l-1.4,-1.4zM133.8,217.09l1.4,1.4l-1.4,1.4l-1.4,-1.4zM152.53,217.52l1.4,1.4l-1.4,1.4l-1.4,-1.4zM140.07,216.71l1.4,1.4l-1.4,1.4l-1.4,-1.4zM232.29,215.21l1.4,1.4l-1.4,1.4l-1.4,-1.4zM110.7,217.81l1.4,1.4l-1.4,1.4l-1.4,-1.4zM379.54,215.47l1.4,1.4l-1.4,1.4l-1.4,-1.4zM312.75,218.07l1.4,1.4l-1.4,1.4l-1.4,-1.4zM359.45,217.76l1.4,1.4l-1.4,1.4l-1.4,-1.4zM203.19,217.25l1.4,1.4l-1.4,1.4l-1.4,-1.4zM247.48,217.91l1.4,1.4l-1.4,1.4l-1.4,-1.4zM304.03,217.63l1.4,1.4l-1.4,1.4l-1.4,-1.4zM346.59,216.26l1.4,1.4l-1.4,1.4l-1.4,-1.4zM306.61,215.38l1.4,1.4l-1.4,1.4l-1.4,-1.4zM166.88,217.91l1.4,1.4l-1.4,1.4l-1.4,-1.4zM221.69,217.16l1.4,1.4l-1.4,1.4l-1.4,-1.4zM268.87,215.88l1.4,1.4l-1.4,1.4l-1.4,-1.4zM271.83,217.84l1.4,1.4l-1.4,1.4l-1.4,-1.4zM200.35,216.14l1.4,1.4l-1.4,1.4l-1.4,-1.4zM161.28,215.63l1.4,1.4l-1.4,1.4l-1.4,-1.4zM338.35,217.22l1.4,1.4l-1.4,1.4l-1.4,-1.4zM376.34,217.11l1.4,1.4l-1.4,1.4l-1.4,-1.4zM374.63,215.77l1.4,1.4l-1.4,1.4l-1.4,-1.4zM161.83,215.75l1.4,1.4l-1.4,1.4l-1.4,-1.4zM215.92,218.07l1.4,1.4l-1.4,1.4l-1.4,-1.4zM172.06,216.47l1.4,1.4l-1.4,1.4l-1.4,-1.4zM126.9,215.18l1.4,1.4l-1.4,1.4l-1.4,-1.4zM260.64,216.94l1.4,1.4l-1.4,1.4l-1.4,-1.4zM250.99,217.84l1.4,1.4l-1.4,1.4l-1.4,-1.4zM347.63,217.95l1.4,1.4l-1.4,1.4l-1.4,-1.4zM269.79,215.89l1.4,1.4l-1.4,1.4l-1.4,-1.4zM145.86,217.39l1.4,1.4l-1.4,1.4l-1.4,-1.4zM152.67,215.12l1.4,1.4l-1.4,1.4l-1.4,-1.4zM302.99,215.47l1.4,1.4l-1.4,1.4l-1.4,-1.4zM281.79,215.7l1.4,1.4l-1.4,1.4l-1.4,-1.4zM227.33,215.14l1.4,1.4l-1.4,1.4l-1.4,-1.4zM213.81,216.09l1.4,1.4l-1.4,1.4l-1.4,-1.4zM182.07,215.5l1.4,1.4l-1.4,1.4l-1.4,-1.4zM222.76,232.73l1.4,1.4l-1.4,1.4l-1.4,-1.4zM347.92,231.63l1.4,1.4l-1.4,1.4l-1.4,-1.4zM172.14,231.19l1.4,1.4l-1.4,1.4l-1.4,-1.4zM142.2,231.13l1.4,1.4l-1.4,1.4l-1.4,-1.4zM153.25,232.64l1.4,1.4l-1.4,1.4l-1.4,-1.4zM383.1,233.18l1.4,1.4l-1.4,1.4l-1.4,-1.4zM214.45,232.32l1.4,1.4l-1.4,1.4l-1.4,-1.4zM300.8,232.08l1.4,1.4l-1.4,1.4l-1.4,-1.4zM130.3,233.62l1.4,1.4l-1.4,1.4l-1.4,-1.4zM280.35,231.44l1.4,1.4l-1.4,1.4l-1.4,-1.4zM129.34,231.38l1.4,1.4l-1.4,1.4l-1.4,-1.4zM374.66,231.42l1.4,1.4l-1.4,1.4l-1.4,-1.4zM282.59,234.01l1.4,1.4l-1.4,1.4l-1.4,-1.4zM119.66,232.26l1.4,1.4l-1.4,1.4l-1.4,-1.4zM241.73,233.85l1.4,1.4l-1.4,1.4l-1.4,-1.4zM162.05,231.88l1.4,1.4l-1.4,1.4l-1.4,-1.4zM178.44,231.25l1.4,1.4l-1.4,1.4l-1.4,-1.4zM295.95,233.55l1.4,1.4l-1.4,1.4l-1.4,-1.4zM230.44,231.21l1.4,1.4l-1.4,1.4l-1.4,-1.4zM306.95,233.31l1.4,1.4l-1.4,1.4l-1.4,-1.4zM290.35,232.09l1.4,1.4l-1.4,1.4l-1.4,-1.4zM339.21,232.99l1.4,1.4l-1.4,1.4l-1.4,-1.4zM272.83,232.72l1.4,1.4l-1.4,1.4l-1.4,-1.4zM174.38,232.47l1.4,1.4l-1.4,1.4l-1.4,-1.4zM329.16,233.15l1.4,1.4l-1.4,1.4l-1.4,-1.4zM205.47,233.56l1.4,1.4l-1.4,1.4l-1.4,-1.4zM341.68,231.23l1.4,1.4l-1.4,1.4l-1.4,-1.4zM153.41,231.77l1.4,1.4l-1.4,1.4l-1.4,-1.4zM114.03,233.36l1.4,1.4l-1.4,1.4l-1.4,-1.4zM288.51,232.73l1.4,1.4l-1.4,1.4l-1.4,-1.4zM384.53,232.17l1.4,1.4l-1.4,1.4l-1.4,-1.4zM164.94,231.43l1.4,1.4l-1.4,1.4l-1.4,-1.4zM203.88,233.61l1.4,1.4l-1.4,1.4l-1.4,-1.4zM277.46,231.28l1.4,1.4l-1.4,1.4l-1.4,-1.4zM229.57,231.24l1.4,1.4l-1.4,1.4l-1.4,-1.4zM281.97,231.47l1.4,1.4l-1.4,1.4l-1.4,-1.4zM159.53,233.03l1.4,1.4l-1.4,1.4l-1.4,-1.4zM340.61,232.96l1.4,1.4l-1.4,1.4l-1.4,-1.4zM191.06,233.04l1.4,1.4l-1.4,1.4l-1.4,-1.4zM185.09,231.12l1.4,1.4l-1.4,1.4l-1.4,-1.4zM185.6,233.16l1.4,1.4l-1.4,1.4l-1.4,-1.4zM282.91,231.68l1.4,1.4l-1.4,1.4l-1.4,-1.4zM342.01,233.59l1.4,1.4l-1.4,1.4l-1.4,-1.4zM187.11,233.98l1.4,1.4l-1.4,1.4l-1.4,-1.4zM182.47,231.29l1.4,1.4l-1.4,1.4l-1.4,-1.4zM251.38,233.69l1.4,1.4l-1.4,1.4l-1.4,-1.4zM275.52,232.74l1.4,1.4l-1.4,1.4l-1.4,-1.4zM244.59,231.95l1.4,1.4l-1.4,1.4l-1.4,-1.4zM192.77,232.31l1.4,1.4l-1.4,1.4l-1.4,-1.4zM261,233.93l1.4,1.4l-1.4,1.4l-1.4,-1.4zM130.09,231.86l1.4,1.4l-1.4,1.4l-1.4,-1.4zM370.4,233.07l1.4,1.4l-1.4,1.4l-1.4,-1.4zM130.52,232.42l1.4,1.4l-1.4,1.4l-1.4,-1.4zM289.68,233.84l1.4,1.4l-1.4,1.4l-1.4,-1.4zM133.25,233.81l1.4,1.4l-1.4,1.4l-1.4,-1.4zM322.71,231.94l1.4,1.4l-1.4,1.4l-1.4,-1.4zM257.22,233.58l1.4,1.4l-1.4,1.4l-1.4,-1.4zM177.1,233.2l1.4,1.4l-1.4,1.4l-1.4,-1.4zM264.58,231.32l1.4,1.4l-1.4,1.4l-1.4,-1.4zM185,232.34l1.4,1.4l-1.4,1.4l-1.4,-1.4zM148.52,233.93l1.4,1.4l-1.4,1.4l-1.4,-1.4zM179.02,231.8l1.4,1.4l-1.4,1.4l-1.4,-1.4zM274.82,232.68l1.4,1.4l-1.4,1.4l-1.4,-1.4zM198.07,232.08l1.4,1.4l-1.4,1.4l-1.4,-1.4zM247.04,233.83l1.4,1.4l-1.4,1.4l-1.4,-1.4zM131.8,233.84l1.4,1.4l-1.4,1.4l-1.4,-1.4zM368.89,233.15l1.4,1.4l-1.4,1.4l-1.4,-1.4zM331.54,232.25l1.4,1.4l-1.4,1.4l-1.4,-1.4zM375.69,233.33l1.4,1.4l-1.4,1.4l-1.4,-1.4zM299.54,232.45l1.4,1.4l-1.4,1.4l-1.4,-1.4z" fill="#0000ff" fill-opacity="0.098" stroke="#0000ff" stroke-opacity="0.140" stroke-width="0.7"/>
<path d="M385.5,224.5l1.5,1.5l-1.5,1.5l-1.5,-1.5zM385.5,226.8l1.5,1.5l-1.5,1.5l-1.5,-1.5zM385.5,229.1l1.5,1.5l-1.5,1.5l-1.5,-1.5zM385.5,231.4l1.5,1.5l-1.5,1.5l-1.5,-1.5zM385.5,233.7l1.5,1.5l-1.5,1.5l-1.5,-1.5zM385.5,236l1.5,1.5l-1.5,1.5l-1.5,-1.5zM385.5,238.3l1.5,1.5l-1.5,1.5l-1.5,-1.5zM385.5,240.6l1.5,1.5l-1.5,1.5l-1.5,-1.5zM385.5,242.9l1.5,1.5l-1.5,1.5l-1.5,-1.5zM385.5,245.2l1.5,1.5l-1.5,1.5l-1.5,-1.5zM385.5,247.5l1.5,1.5l-1.5,1.5l-1.5,-1.5z" fill="#0000ff" fill-opacity="0.154" stroke="#0000ff" stroke-opacity="0.220" stroke-width="0.7"/>
<rect x="385" y="226" width="1" height="23" fill="#0000ff" fill-opacity="0.25"/>
</g>
<g clip-path="url(#c11)">
<path d="M535.04,203.01l1.5,1.5l-1.5,1.5l-1.5,-1.5zM673.94,202.89l1.5,1.5l-1.5,1.5l-1.5,-1.5zM550.13,203.08l1.5,1.5l-1.5,1.5l-1.5,-1.5zM725.02,202.91l1.5,1.5l-1.5,1.5l-1.5,-1.5zM635.55,202.74l1.5,1.5l-1.5,1.5l-1.5,-1.5zM487.24,202.82l1.5,1.5l-1.5,1.5l-1.5,-1.5zM659.27,202.64l1.5,1.5l-1.5,1.5l-1.5,-1.5zM720.85,202.74l1.5,1.5l-1.5,1.5l-1.5,-1.5zM555.06,202.63l1.5,1.5l-1.5,1.5l-1.5,-1.5zM781.08,203.04l1.5,1.5l-1.5,1.5l-1.5,-1.5zM744.87,202.97l1.5,1.5l-1.5,1.5l-1.5,-1.5z" fill="#ffa500" fill-opacity="0.167" stroke="#ffa500" stroke-opacity="0.238" stroke-width="0.7"/>
<rect x="485.3" y="209.2" width="297.5" height="2.6" fill="#ffa500" fill-opacity="0.16499999999999998"/>
<path d="M496.37,208.9l1.5,1.5l-1.5,1.5l-1.5,-1.5zM633.33,208.77l1.5,1.5l-1.5,1.5l-1.5,-1.5zM767.61,208.92l1.5,1.5l-1.5,1.5l-1.5,-1.5zM532.05,209.19l1.5,1.5l-1.5,1.5l-1.5,-1.5zM523.2,209.26l1.5,1.5l-1.5,1.5l-1.5,-1.5zM620.2,209.03l1.5,1.5l-1.5,1.5l-1.5,-1.5zM587.63,208.99l1.5,1.5l-1.5,1.5l-1.5,-1.5zM541.53,208.72l1.5,1.5l-1.5,1.5l-1.5,-1.5zM742.17,208.84l1.5,1.5l-1.5,1.5l-1.5,-1.5zM716.87,208.83l1.5,1.5l-1.5,1.5l-1.5,-1.5zM772.57,209.24l1.5,1.5l-1.5,1.5l-1.5,-1.5zM709.34,209.16l1.5,1.5l-1.5,1.5l-1.5,-1.5zM657.92,209.14l1.5,1.5l-1.5,1.5l-1.5,-1.5zM522.49,208.99l1.5,1.5l-1.5,1.5l-1.5,-1.5zM730.68,208.82l1.5,1.5l-1.5,1.5l-1.5,-1.5zM759.1,209.23l1.5,1.5l-1.5,1.5l-1.5,-1.5zM607.34,208.92l1.5,1.5l-1.5,1.5l-1.5,-1.5zM619.67,208.93l1.5,1.5l-1.5,1.5l-1.5,-1.5zM780.28,208.93l1.5,1.5l-1.5,1.5l-1.5,-1.5zM494.23,208.76l1.5,1.5l-1.5,1.5l-1.5,-1.5zM698.5,209.3l1.5,1.5l-1.5,1.5l-1.5,-1.5zM632.87,208.99l1.5,1.5l-1.5,1.5l-1.5,-1.5zM648.95,209.15l1.5,1.5l-1.5,1.5l-1.5,-1.5zM551.91,209.07l1.5,1.5l-1.5,1.5l-1.5,-1.5zM650.74,209.07l1.5,1.5l-1.5,1.5l-1.5,-1.5zM539.69,208.8l1.5,1.5l-1.5,1.5l-1.5,-1.5zM589.2,209.26l1.5,1.5l-1.5,1.5l-1.5,-1.5zM588.72,209.06l1.5,1.5l-1.5,1.5l-1.5,-1.5zM576.9,208.76l1.5,1.5l-1.5,1.5l-1.5,-1.5zM505.7,209.19l1.5,1.5l-1.5,1.5l-1.5,-1.5zM715.91,208.92l1.5,1.5l-1.5,1.5l-1.5,-1.5zM688.23,209.11l1.5,1.5l-1.5,1.5l-1.5,-1.5zM751.87,209.27l1.5,1.5l-1.5,1.5l-1.5,-1.5zM606.57,209.29l1.5,1.5l-1.5,1.5l-1.5,-1.5zM770.4,209.05l1.5,1.5l-1.5,1.5l-1.5,-1.5zM747.28,208.99l1.5,1.5l-1.5,1.5l-1.5,-1.5zM597.28,208.85l1.5,1.5l-1.5,1.5l-1.5,-1.5zM745.2,208.8l1.5,1.5l-1.5,1.5l-1.5,-1.5zM506.79,209.18l1.5,1.5l-1.5,1.5l-1.5,-1.5zM714.99,208.99l1.5,1.5l-1.5,1.5l-1.5,-1.5zM733.63,208.73l1.5,1.5l-1.5,1.5l-1.5,-1.5zM562.53,208.87l1.5,1.5l-1.5,1.5l-1.5,-1.5zM610.28,208.8l1.5,1.5l-1.5,1.5l-1.5,-1.5zM506.82,208.9l1.5,1.5l-1.5,1.5l-1.5,-1.5zM752,209.29l1.5,1.5l-1.5,1.5l-1.5,-1.5zM706.7,208.99l1.5,1.5l-1.5,1.5l-1.5,-1.5zM560.83,209.28l1.5,1.5l-1.5,1.5l-1.5,-1.5zM641.62,209.14l1.5,1.5l-1.5,1.5l-1.5,-1.5zM494.66,208.83l1.5,1.5l-1.5,1.5l-1.5,-1.5zM734.01,209.18l1.5,1.5l-1.5,1.5l-1.5,-1.5zM746.77,209.06l1.5,1.5l-1.5,1.5l-1.5,-1.5zM612.21,209.05l1.5,1.5l-1.5,1.5l-1.5,-1.5zM737.28,208.88l1.5,1.5l-1.5,1.5l-1.5,-1.5zM644.2,208.87l1.5,1.5l-1.5,1.5l-1.5,-1.5zM713.32,208.71l1.5,1.5l-1.5,1.5l-1.5,-1.5zM688.81,209.27l1.5,1.5l-1.5,1.5l-1.5,-1.5zM493.24,209.06l1.5,1.5l-1.5,1.5l-1.5,-1.5zM676.56,209.21l1.5,1.5l-1.5,1.5l-1.5,-1.5zM658.97,208.85l1.5,1.5l-1.5,1.5l-1.5,-1.5zM606.16,209.28l1.5,1.5l-1.5,1.5l-1.5,-1.5zM753.91,208.78l1.5,1.5l-1.5,1.5l-1.5,-1.5zM514.32,208.76l1.5,1.5l-1.5,1.5l-1.5,-1.5zM493.78,208.97l1.5,1.5l-1.5,1.5l-1.5,-1.5zM527.91,209.22l1.5,1.5l-1.5,1.5l-1.5,-1.5zM679.95,208.78l1.5,1.5l-1.5,1.5l-1.5,-1.5zM645.47,208.89l1.5,1.5l-1.5,1.5l-1.5,-1.5zM632.24,208.83l1.5,1.5l-1.5,1.5l-1.5,-1.5zM535.38,208.81l1.5,1.5l-1.5,1.5l-1.5,-1.5zM597.94,209.13l1.5,1.5l-1.5,1.5l-1.5,-1.5zM648.84,208.73l1.5,1.5l-1.5,1.5l-1.5,-1.5zM696.36,209.22l1.5,1.5l-1.5,1.5l-1.5,-1.5zM715.09,209.17l1.5,1.5l-1.5,1.5l-1.5,-1.5zM488.61,208.98l1.5,1.5l-1.5,1.5l-1.5,-1.5zM505.06,209.16l1.5,1.5l-1.5,1.5l-1.5,-1.5zM538.1,209.13l1.5,1.5l-1.5,1.5l-1.5,-1.5zM561.03,209.12l1.5,1.5l-1.5,1.5l-1.5,-1.5zM578.97,208.73l1.5,1.5l-1.5,1.5l-1.5,-1.5zM601.21,208.89l1.5,1.5l-1.5,1.5l-1.5,-1.5zM752.47,208.88l1.5,1.5l-1.5,1.5l-1.5,-1.5zM634.97,209.03l1.5,1.5l-1.5,1.5l-1.5,-1.5zM766.5,208.76l1.5,1.5l-1.5,1.5l-1.5,-1.5zM663.95,209l1.5,1.5l-1.5,1.5l-1.5,-1.5zM703.37,209.28l1.5,1.5l-1.5,1.5l-1.5,-1.5zM577.95,209.12l1.5,1.5l-1.5,1.5l-1.5,-1.5zM641.67,209.04l1.5,1.5l-1.5,1.5l-1.5,-1.5zM505.13,209.19l1.5,1.5l-1.5,1.5l-1.5,-1.5z" fill="#ffa500" fill-opacity="0.264" stroke="#ffa500" stroke-opacity="0.378" stroke-width="0.7"/>
<rect x="485.3" y="216.1" width="297.5" height="2.6" fill="#ffa500" fill-opacity="0.6600000000000001"/>
<path d="M774.96,215.81l1.5,1.5l-1.5,1.5l-1.5,-1.5zM580.3,216.2l1.5,1.5l-1.5,1.5l-1.5,-1.5zM518.1,215.65l1.5,1.5l-1.5,1.5l-1.5,-1.5zM507.97,216.09l1.5,1.5l-1.5,1.5l-1.5,-1.5zM710.85,215.87l1.5,1.5l-1.5,1.5l-1.5,-1.5zM669.92,215.61l1.5,1.5l-1.5,1.5l-1.5,-1.5zM676.79,215.87l1.5,1.5l-1.5,1.5l-1.5,-1.5zM639.2,215.83l1.5,1.5l-1.5,1.5l-1.5,-1.5zM604.95,215.74l1.5,1.5l-1.5,1.5l-1.5,-1.5zM500.73,215.86l1.5,1.5l-1.5,1.5l-1.5,-1.5zM559.31,216.02l1.5,1.5l-1.5,1.5l-1.5,-1.5zM727.81,216.03l1.5,1.5l-1.5,1.5l-1.5,-1.5zM621.05,215.74l1.5,1.5l-1.5,1.5l-1.5,-1.5zM600.19,215.89l1.5,1.5l-1.5,1.5l-1.5,-1.5zM673,216.18l1.5,1.5l-1.5,1.5l-1.5,-1.5zM511.54,215.89l1.5,1.5l-1.5,1.5l-1.5,-1.5zM631.65,216.03l1.5,1.5l-1.5,1.5l-1.5,-1.5zM749.44,216.07l1.5,1.5l-1.5,1.5l-1.5,-1.5zM671.52,216.06l1.5,1.5l-1.5,1.5l-1.5,-1.5zM683.7,216.12l1.5,1.5l-1.5,1.5l-1.5,-1.5zM692.86,216.01l1.5,1.5l-1.5,1.5l-1.5,-1.5zM558.79,216.15l1.5,1.5l-1.5,1.5l-1.5,-1.5zM600.35,215.97l1.5,1.5l-1.5,1.5l-1.5,-1.5zM730.04,216.18l1.5,1.5l-1.5,1.5l-1.5,-1.5zM778.61,215.6l1.5,1.5l-1.5,1.5l-1.5,-1.5zM578.68,215.79l1.5,1.5l-1.5,1.5l-1.5,-1.5zM601.91,215.69l1.5,1.5l-1.5,1.5l-1.5,-1.5zM649.78,215.65l1.5,1.5l-1.5,1.5l-1.5,-1.5zM575.72,216.17l1.5,1.5l-1.5,1.5l-1.5,-1.5zM705.67,215.88l1.5,1.5l-1.5,1.5l-1.5,-1.5zM518.28,216.17l1.5,1.5l-1.5,1.5l-1.5,-1.5zM694.32,215.72l1.5,1.5l-1.5,1.5l-1.5,-1.5zM585.38,215.98l1.5,1.5l-1.5,1.5l-1.5,-1.5zM687.72,215.76l1.5,1.5l-1.5,1.5l-1.5,-1.5zM767.39,215.79l1.5,1.5l-1.5,1.5l-1.5,-1.5zM561.43,216.11l1.5,1.5l-1.5,1.5l-1.5,-1.5zM531.63,216.01l1.5,1.5l-1.5,1.5l-1.5,-1.5zM545.36,215.96l1.5,1.5l-1.5,1.5l-1.5,-1.5zM568.27,215.83l1.5,1.5l-1.5,1.5l-1.5,-1.5zM764.29,215.88l1.5,1.5l-1.5,1.5l-1.5,-1.5zM615.4,215.97l1.5,1.5l-1.5,1.5l-1.5,-1.5zM569.23,215.7l1.5,1.5l-1.5,1.5l-1.5,-1.5zM599.96,215.76l1.5,1.5l-1.5,1.5l-1.5,-1.5zM541.99,216.18l1.5,1.5l-1.5,1.5l-1.5,-1.5zM496.46,216.09l1.5,1.5l-1.5,1.5l-1.5,-1.5zM762.52,216.02l1.5,1.5l-1.5,1.5l-1.5,-1.5zM491.91,215.9l1.5,1.5l-1.5,1.5l-1.5,-1.5zM497.9,215.96l1.5,1.5l-1.5,1.5l-1.5,-1.5zM693.27,215.74l1.5,1.5l-1.5,1.5l-1.5,-1.5zM488.55,215.93l1.5,1.5l-1.5,1.5l-1.5,-1.5zM514.23,215.79l1.5,1.5l-1.5,1.5l-1.5,-1.5zM620.49,216.14l1.5,1.5l-1.5,1.5l-1.5,-1.5zM595.65,215.68l1.5,1.5l-1.5,1.5l-1.5,-1.5zM720.25,216.09l1.5,1.5l-1.5,1.5l-1.5,-1.5zM642.74,215.63l1.5,1.5l-1.5,1.5l-1.5,-1.5zM541.73,215.84l1.5,1.5l-1.5,1.5l-1.5,-1.5zM649.39,215.74l1.5,1.5l-1.5,1.5l-1.5,-1.5zM723.4,216.11l1.5,1.5l-1.5,1.5l-1.5,-1.5zM759.69,216.13l1.5,1.5l-1.5,1.5l-1.5,-1.5zM491.5,215.95l1.5,1.5l-1.5,1.5l-1.5,-1.5zM510.07,216.14l1.5,1.5l-1.5,1.5l-1.5,-1.5zM707.02,216.06l1.5,1.5l-1.5,1.5l-1.5,-1.5zM541.94,215.64l1.5,1.5l-1.5,1.5l-1.5,-1.5zM727.19,215.96l1.5,1.5l-1.5,1.5l-1.5,-1.5zM669.59,215.88l1.5,1.5l-1.5,1.5l-1.5,-1.5zM722.73,215.8l1.5,1.5l-1.5,1.5l-1.5,-1.5zM566,215.81l1.5,1.5l-1.5,1.5l-1.5,-1.5zM574.36,215.98l1.5,1.5l-1.5,1.5l-1.5,-1.5zM749.34,215.64l1.5,1.5l-1.5,1.5l-1.5,-1.5zM506.28,215.91l1.5,1.5l-1.5,1.5l-1.5,-1.5zM686.65,215.71l1.5,1.5l-1.5,1.5l-1.5,-1.5zM566.04,215.64l1.5,1.5l-1.5,1.5l-1.5,-1.5zM497.28,215.9l1.5,1.5l-1.5,1.5l-1.5,-1.5zM687.46,215.99l1.5,1.5l-1.5,1.5l-1.5,-1.5zM533.04,215.66l1.5,1.5l-1.5,1.5l-1.5,-1.5zM761.37,215.92l1.5,1.5l-1.5,1.5l-1.5,-1.5zM606.99,216.01l1.5,1.5l-1.5,1.5l-1.5,-1.5zM701.37,215.91l1.5,1.5l-1.5,1.5l-1.5,-1.5zM509.44,216.1l1.5,1.5l-1.5,1.5l-1.5,-1.5zM549.45,215.62l1.5,1.5l-1.5,1.5l-1.5,-1.5zM590.4,215.92l1.5,1.5l-1.5,1.5l-1.5,-1.5zM671.94,215.7l1.5,1.5l-1.5,1.5l-1.5,-1.5zM696,215.9l1.5,1.5l-1.5,1.5l-1.5,-1.5zM534.17,216.11l1.5,1.5l-1.5,1.5l-1.5,-1.5zM724.69,216.14l1.5,1.5l-1.5,1.5l-1.5,-1.5zM687.09,215.73l1.5,1.5l-1.5,1.5l-1.5,-1.5zM716.1,216.14l1.5,1.5l-1.5,1.5l-1.5,-1.5zM643.88,216.15l1.5,1.5l-1.5,1.5l-1.5,-1.5zM772.99,215.83l1.5,1.5l-1.5,1.5l-1.5,-1.5zM764.61,216.16l1.5,1.5l-1.5,1.5l-1.5,-1.5zM720.89,215.61l1.5,1.5l-1.5,1.5l-1.5,-1.5zM590.29,215.97l1.5,1.5l-1.5,1.5l-1.5,-1.5zM665.72,216.05l1.5,1.5l-1.5,1.5l-1.5,-1.5zM677.45,215.7l1.5,1.5l-1.5,1.5l-1.5,-1.5zM761.35,215.92l1.5,1.5l-1.5,1.5l-1.5,-1.5zM746.84,215.72l1.5,1.5l-1.5,1.5l-1.5,-1.5zM781.23,215.93l1.5,1.5l-1.5,1.5l-1.5,-1.5zM715.48,216.04l1.5,1.5l-1.5,1.5l-1.5,-1.5zM747.16,215.82l1.5,1.5l-1.5,1.5l-1.5,-1.5zM510.77,215.84l1.5,1.5l-1.5,1.5l-1.5,-1.5zM538.98,215.92l1.5,1.5l-1.5,1.5l-1.5,-1.5zM727.13,215.82l1.5,1.5l-1.5,1.5l-1.5,-1.5zM525.03,215.62l1.5,1.5l-1.5,1.5l-1.5,-1.5zM611.28,215.95l1.5,1.5l-1.5,1.5l-1.5,-1.5zM494.07,216l1.5,1.5l-1.5,1.5l-1.5,-1.5zM548.61,215.66l1.5,1.5l-1.5,1.5l-1.5,-1.5zM760.43,215.91l1.5,1.5l-1.5,1.5l-1.5,-1.5zM750.79,215.91l1.5,1.5l-1.5,1.5l-1.5,-1.5zM522.6,215.74l1.5,1.5l-1.5,1.5l-1.5,-1.5zM611.67,215.98l1.5,1.5l-1.5,1.5l-1.5,-1.5zM714.09,216.05l1.5,1.5l-1.5,1.5l-1.5,-1.5zM678.61,215.75l1.5,1.5l-1.5,1.5l-1.5,-1.5zM613.4,215.83l1.5,1.5l-1.5,1.5l-1.5,-1.5zM630.97,215.76l1.5,1.5l-1.5,1.5l-1.5,-1.5zM645.23,215.88l1.5,1.5l-1.5,1.5l-1.5,-1.5zM496.81,216.09l1.5,1.5l-1.5,1.5l-1.5,-1.5zM659.59,216.08l1.5,1.5l-1.5,1.5l-1.5,-1.5zM703.95,216.04l1.5,1.5l-1.5,1.5l-1.5,-1.5zM779.87,215.83l1.5,1.5l-1.5,1.5l-1.5,-1.5zM602.61,215.6l1.5,1.5l-1.5,1.5l-1.5,-1.5zM682.61,215.95l1.5,1.5l-1.5,1.5l-1.5,-1.5zM656.64,216.2l1.5,1.5l-1.5,1.5l-1.5,-1.5zM544.49,215.74l1.5,1.5l-1.5,1.5l-1.5,-1.5zM703.24,216.09l1.5,1.5l-1.5,1.5l-1.5,-1.5zM628.98,215.63l1.5,1.5l-1.5,1.5l-1.5,-1.5zM595.76,216.1l1.5,1.5l-1.5,1.5l-1.5,-1.5zM634,215.88l1.5,1.5l-1.5,1.5l-1.5,-1.5zM601.38,215.98l1.5,1.5l-1.5,1.5l-1.5,-1.5zM663.15,216.02l1.5,1.5l-1.5,1.5l-1.5,-1.5zM741.99,216.05l1.5,1.5l-1.5,1.5l-1.5,-1.5zM597.09,215.75l1.5,1.5l-1.5,1.5l-1.5,-1.5zM717.35,216.08l1.5,1.5l-1.5,1.5l-1.5,-1.5zM760.57,215.72l1.5,1.5l-1.5,1.5l-1.5,-1.5zM736.79,216.13l1.5,1.5l-1.5,1.5l-1.5,-1.5zM509.12,215.78l1.5,1.5l-1.5,1.5l-1.5,-1.5zM673.55,215.69l1.5,1.5l-1.5,1.5l-1.5,-1.5zM731.91,215.76l1.5,1.5l-1.5,1.5l-1.5,-1.5zM687.93,215.78l1.5,1.5l-1.5,1.5l-1.5,-1.5zM550.78,215.72l1.5,1.5l-1.5,1.5l-1.5,-1.5zM633.33,216.03l1.5,1.5l-1.5,1.5l-1.5,-1.5zM550.68,216.01l1.5,1.5l-1.5,1.5l-1.5,-1.5zM585.32,215.99l1.5,1.5l-1.5,1.5l-1.5,-1.5zM595.1,215.72l1.5,1.5l-1.5,1.5l-1.5,-1.5zM527.97,215.63l1.5,1.5l-1.5,1.5l-1.5,-1.5zM692.07,215.85l1.5,1.5l-1.5,1.5l-1.5,-1.5zM522.72,216.13l1.5,1.5l-1.5,1.5l-1.5,-1.5zM679.79,215.61l1.5,1.5l-1.5,1.5l-1.5,-1.5zM700.46,215.96l1.5,1.5l-1.5,1.5l-1.5,-1.5zM617.43,215.9l1.5,1.5l-1.5,1.5l-1.5,-1.5zM770.63,215.82l1.5,1.5l-1.5,1.5l-1.5,-1.5zM674.3,215.98l1.5,1.5l-1.5,1.5l-1.5,-1.5zM594.37,215.81l1.5,1.5l-1.5,1.5l-1.5,-1.5zM709.4,215.98l1.5,1.5l-1.5,1.5l-1.5,-1.5zM621.32,215.91l1.5,1.5l-1.5,1.5l-1.5,-1.5zM552.34,216.07l1.5,1.5l-1.5,1.5l-1.5,-1.5zM492.17,215.99l1.5,1.5l-1.5,1.5l-1.5,-1.5zM620.74,215.73l1.5,1.5l-1.5,1.5l-1.5,-1.5zM659.7,215.95l1.5,1.5l-1.5,1.5l-1.5,-1.5zM511.94,215.89l1.5,1.5l-1.5,1.5l-1.5,-1.5zM535.08,216.08l1.5,1.5l-1.5,1.5l-1.5,-1.5zM582.91,215.8l1.5,1.5l-1.5,1.5l-1.5,-1.5zM549.95,215.63l1.5,1.5l-1.5,1.5l-1.5,-1.5zM541.46,215.69l1.5,1.5l-1.5,1.5l-1.5,-1.5zM670.74,216.11l1.5,1.5l-1.5,1.5l-1.5,-1.5zM551.61,215.67l1.5,1.5l-1.5,1.5l-1.5,-1.5zM644.23,215.67l1.5,1.5l-1.5,1.5l-1.5,-1.5z" fill="#ffa500" fill-opacity="0.406" stroke="#ffa500" stroke-opacity="0.580" stroke-width="0.7"/>
<rect x="485.3" y="222" width="297.5" height="3" fill="#ffa500"/>
<rect x="485.3" y="229" width="297.5" height="3" fill="#ffa500"/>
<rect x="485.3" y="234.9" width="297.5" height="3" fill="#ffa500"/>
<rect x="485.3" y="240.8" width="297.5" height="3" fill="#ffa500"/>
<rect x="485.3" y="248" width="297.5" height="3" fill="#ffa500"/>
<rect x="485.3" y="253.9" width="297.5" height="3" fill="#ffa500"/>
<rect x="485.3" y="260.9" width="297.5" height="3" fill="#ffa500"/>
<rect x="485.3" y="266.8" width="297.5" height="3" fill="#ffa500"/>
<rect x="485.3" y="273.8" width="297.5" height="3" fill="#ffa500"/>
<rect x="485.3" y="280.2" width="297.5" height="2.6" fill="#ffa500" fill-opacity="0.5499999999999999"/>
<path d="M606.05,280.16l1.5,1.5l-1.5,1.5l-1.5,-1.5zM546.33,280.12l1.5,1.5l-1.5,1.5l-1.5,-1.5zM645.49,279.75l1.5,1.5l-1.5,1.5l-1.5,-1.5zM557.97,280.06l1.5,1.5l-1.5,1.5l-1.5,-1.5zM514.74,279.82l1.5,1.5l-1.5,1.5l-1.5,-1.5zM656.72,280.19l1.5,1.5l-1.5,1.5l-1.5,-1.5zM640.08,280.1l1.5,1.5l-1.5,1.5l-1.5,-1.5zM488.98,279.88l1.5,1.5l-1.5,1.5l-1.5,-1.5zM580.31,280.25l1.5,1.5l-1.5,1.5l-1.5,-1.5zM591.95,280.17l1.5,1.5l-1.5,1.5l-1.5,-1.5zM496.44,280l1.5,1.5l-1.5,1.5l-1.5,-1.5zM749.72,280.16l1.5,1.5l-1.5,1.5l-1.5,-1.5zM657.59,279.81l1.5,1.5l-1.5,1.5l-1.5,-1.5zM760,279.75l1.5,1.5l-1.5,1.5l-1.5,-1.5zM771.37,280.17l1.5,1.5l-1.5,1.5l-1.5,-1.5zM698.97,280.02l1.5,1.5l-1.5,1.5l-1.5,-1.5zM534.76,279.9l1.5,1.5l-1.5,1.5l-1.5,-1.5zM682.5,280.09l1.5,1.5l-1.5,1.5l-1.5,-1.5zM601.34,280.18l1.5,1.5l-1.5,1.5l-1.5,-1.5zM502.08,279.87l1.5,1.5l-1.5,1.5l-1.5,-1.5zM513.03,279.89l1.5,1.5l-1.5,1.5l-1.5,-1.5zM720.61,280.15l1.5,1.5l-1.5,1.5l-1.5,-1.5zM530.44,279.89l1.5,1.5l-1.5,1.5l-1.5,-1.5zM519.43,280.1l1.5,1.5l-1.5,1.5l-1.5,-1.5zM617.08,279.84l1.5,1.5l-1.5,1.5l-1.5,-1.5zM596.87,280.22l1.5,1.5l-1.5,1.5l-1.5,-1.5zM611.93,280.11l1.5,1.5l-1.5,1.5l-1.5,-1.5zM671.79,279.98l1.5,1.5l-1.5,1.5l-1.5,-1.5zM650.72,279.92l1.5,1.5l-1.5,1.5l-1.5,-1.5zM544.92,280l1.5,1.5l-1.5,1.5l-1.5,-1.5zM576.28,279.9l1.5,1.5l-1.5,1.5l-1.5,-1.5zM541.42,280.25l1.5,1.5l-1.5,1.5l-1.5,-1.5zM612.04,279.82l1.5,1.5l-1.5,1.5l-1.5,-1.5zM495.68,279.83l1.5,1.5l-1.5,1.5l-1.5,-1.5zM742.93,279.9l1.5,1.5l-1.5,1.5l-1.5,-1.5zM683.42,279.84l1.5,1.5l-1.5,1.5l-1.5,-1.5zM678.56,279.97l1.5,1.5l-1.5,1.5l-1.5,-1.5zM703.9,280.02l1.5,1.5l-1.5,1.5l-1.5,-1.5zM597.22,279.87l1.5,1.5l-1.5,1.5l-1.5,-1.5zM661.9,280.2l1.5,1.5l-1.5,1.5l-1.5,-1.5zM690.66,279.99l1.5,1.5l-1.5,1.5l-1.5,-1.5zM583.37,280.23l1.5,1.5l-1.5,1.5l-1.5,-1.5zM736.36,279.79l1.5,1.5l-1.5,1.5l-1.5,-1.5zM687.02,280.16l1.5,1.5l-1.5,1.5l-1.5,-1.5zM685.99,280.28l1.5,1.5l-1.5,1.5l-1.5,-1.5zM746.05,279.85l1.5,1.5l-1.5,1.5l-1.5,-1.5zM780.84,279.9l1.5,1.5l-1.5,1.5l-1.5,-1.5zM598.54,280.29l1.5,1.5l-1.5,1.5l-1.5,-1.5zM535.73,279.94l1.5,1.5l-1.5,1.5l-1.5,-1.5zM671.26,279.86l1.5,1.5l-1.5,1.5l-1.5,-1.5zM565.2,280.18l1.5,1.5l-1.5,1.5l-1.5,-1.5zM667.3,280.15l1.5,1.5l-1.5,1.5l-1.5,-1.5zM719.72,280.22l1.5,1.5l-1.5,1.5l-1.5,-1.5zM750.36,280.19l1.5,1.5l-1.5,1.5l-1.5,-1.5zM775.43,280l1.5,1.5l-1.5,1.5l-1.5,-1.5zM693.62,280.01l1.5,1.5l-1.5,1.5l-1.5,-1.5zM772.73,280.09l1.5,1.5l-1.5,1.5l-1.5,-1.5zM613.54,280.1l1.5,1.5l-1.5,1.5l-1.5,-1.5zM573.44,279.78l1.5,1.5l-1.5,1.5l-1.5,-1.5zM600.45,279.78l1.5,1.5l-1.5,1.5l-1.5,-1.5zM487.49,279.76l1.5,1.5l-1.5,1.5l-1.5,-1.5zM620.56,280.16l1.5,1.5l-1.5,1.5l-1.5,-1.5zM500.64,280.08l1.5,1.5l-1.5,1.5l-1.5,-1.5zM519.2,280.01l1.5,1.5l-1.5,1.5l-1.5,-1.5zM573.7,279.97l1.5,1.5l-1.5,1.5l-1.5,-1.5zM696.67,279.95l1.5,1.5l-1.5,1.5l-1.5,-1.5zM602.06,280.14l1.5,1.5l-1.5,1.5l-1.5,-1.5zM520.54,279.91l1.5,1.5l-1.5,1.5l-1.5,-1.5zM693.69,280.2l1.5,1.5l-1.5,1.5l-1.5,-1.5zM775.72,279.85l1.5,1.5l-1.5,1.5l-1.5,-1.5zM671.05,279.89l1.5,1.5l-1.5,1.5l-1.5,-1.5zM693.69,280.21l1.5,1.5l-1.5,1.5l-1.5,-1.5zM526.22,279.91l1.5,1.5l-1.5,1.5l-1.5,-1.5zM762.96,279.91l1.5,1.5l-1.5,1.5l-1.5,-1.5zM673.1,280.19l1.5,1.5l-1.5,1.5l-1.5,-1.5zM568.65,280.17l1.5,1.5l-1.5,1.5l-1.5,-1.5zM487.37,279.9l1.5,1.5l-1.5,1.5l-1.5,-1.5zM535.62,279.91l1.5,1.5l-1.5,1.5l-1.5,-1.5zM549.28,279.72l1.5,1.5l-1.5,1.5l-1.5,-1.5zM723.63,279.8l1.5,1.5l-1.5,1.5l-1.5,-1.5zM655.68,280.03l1.5,1.5l-1.5,1.5l-1.5,-1.5zM737.32,280.21l1.5,1.5l-1.5,1.5l-1.5,-1.5zM670,279.8l1.5,1.5l-1.5,1.5l-1.5,-1.5zM711.13,279.76l1.5,1.5l-1.5,1.5l-1.5,-1.5zM760.69,279.89l1.5,1.5l-1.5,1.5l-1.5,-1.5zM560.99,279.83l1.5,1.5l-1.5,1.5l-1.5,-1.5zM603.35,280.17l1.5,1.5l-1.5,1.5l-1.5,-1.5zM738.92,280.15l1.5,1.5l-1.5,1.5l-1.5,-1.5zM701.81,279.85l1.5,1.5l-1.5,1.5l-1.5,-1.5zM581.21,279.88l1.5,1.5l-1.5,1.5l-1.5,-1.5zM614.35,280.22l1.5,1.5l-1.5,1.5l-1.5,-1.5zM780.6,279.75l1.5,1.5l-1.5,1.5l-1.5,-1.5zM771.33,280.25l1.5,1.5l-1.5,1.5l-1.5,-1.5zM622.5,280.12l1.5,1.5l-1.5,1.5l-1.5,-1.5zM718.12,279.81l1.5,1.5l-1.5,1.5l-1.5,-1.5zM668.28,280.29l1.5,1.5l-1.5,1.5l-1.5,-1.5zM746.45,280.25l1.5,1.5l-1.5,1.5l-1.5,-1.5zM511.34,280.13l1.5,1.5l-1.5,1.5l-1.5,-1.5zM630.07,280.25l1.5,1.5l-1.5,1.5l-1.5,-1.5zM535.62,280.03l1.5,1.5l-1.5,1.5l-1.5,-1.5zM521.94,280.18l1.5,1.5l-1.5,1.5l-1.5,-1.5zM699.82,279.72l1.5,1.5l-1.5,1.5l-1.5,-1.5zM577.78,279.78l1.5,1.5l-1.5,1.5l-1.5,-1.5zM674.08,280.08l1.5,1.5l-1.5,1.5l-1.5,-1.5zM504.82,280.27l1.5,1.5l-1.5,1.5l-1.5,-1.5zM771.54,279.96l1.5,1.5l-1.5,1.5l-1.5,-1.5zM655.97,279.92l1.5,1.5l-1.5,1.5l-1.5,-1.5zM665.42,279.94l1.5,1.5l-1.5,1.5l-1.5,-1.5zM616.53,280.15l1.5,1.5l-1.5,1.5l-1.5,-1.5zM541.4,279.88l1.5,1.5l-1.5,1.5l-1.5,-1.5zM711.96,279.83l1.5,1.5l-1.5,1.5l-1.5,-1.5zM506.63,280.25l1.5,1.5l-1.5,1.5l-1.5,-1.5zM533.44,279.95l1.5,1.5l-1.5,1.5l-1.5,-1.5zM578.94,279.86l1.5,1.5l-1.5,1.5l-1.5,-1.5zM590.45,280.02l1.5,1.5l-1.5,1.5l-1.5,-1.5zM520.59,280.02l1.5,1.5l-1.5,1.5l-1.5,-1.5zM501.39,279.75l1.5,1.5l-1.5,1.5l-1.5,-1.5zM546.04,279.84l1.5,1.5l-1.5,1.5l-1.5,-1.5zM587.22,279.87l1.5,1.5l-1.5,1.5l-1.5,-1.5zM733.59,280.09l1.5,1.5l-1.5,1.5l-1.5,-1.5zM626.12,280.16l1.5,1.5l-1.5,1.5l-1.5,-1.5zM688.98,279.89l1.5,1.5l-1.5,1.5l-1.5,-1.5zM668.29,280.15l1.5,1.5l-1.5,1.5l-1.5,-1.5zM644.2,280.15l1.5,1.5l-1.5,1.5l-1.5,-1.5zM673.29,280.26l1.5,1.5l-1.5,1.5l-1.5,-1.5zM564.35,280.1l1.5,1.5l-1.5,1.5l-1.5,-1.5zM774.95,280.02l1.5,1.5l-1.5,1.5l-1.5,-1.5zM753.8,279.76l1.5,1.5l-1.5,1.5l-1.5,-1.5zM700.1,279.86l1.5,1.5l-1.5,1.5l-1.5,-1.5zM708.01,279.95l1.5,1.5l-1.5,1.5l-1.5,-1.5zM644.4,279.85l1.5,1.5l-1.5,1.5l-1.5,-1.5zM562.26,280.22l1.5,1.5l-1.5,1.5l-1.5,-1.5zM676.4,280.08l1.5,1.5l-1.5,1.5l-1.5,-1.5zM520.5,279.88l1.5,1.5l-1.5,1.5l-1.5,-1.5zM772.38,279.82l1.5,1.5l-1.5,1.5l-1.5,-1.5zM645.23,280.12l1.5,1.5l-1.5,1.5l-1.5,-1.5zM637.15,280.03l1.5,1.5l-1.5,1.5l-1.5,-1.5zM772.99,280.17l1.5,1.5l-1.5,1.5l-1.5,-1.5zM556.34,279.96l1.5,1.5l-1.5,1.5l-1.5,-1.5zM610.32,280.11l1.5,1.5l-1.5,1.5l-1.5,-1.5zM685.76,279.86l1.5,1.5l-1.5,1.5l-1.5,-1.5zM690.91,279.96l1.5,1.5l-1.5,1.5l-1.5,-1.5zM490.81,279.88l1.5,1.5l-1.5,1.5l-1.5,-1.5zM597.67,279.82l1.5,1.5l-1.5,1.5l-1.5,-1.5zM684.5,280.3l1.5,1.5l-1.5,1.5l-1.5,-1.5zM761.56,280.08l1.5,1.5l-1.5,1.5l-1.5,-1.5zM739.61,279.99l1.5,1.5l-1.5,1.5l-1.5,-1.5zM659.64,280.24l1.5,1.5l-1.5,1.5l-1.5,-1.5z" fill="#ffa500" fill-opacity="0.374" stroke="#ffa500" stroke-opacity="0.535" stroke-width="0.7"/>
<rect x="485.3" y="287.2" width="297.5" height="2.6" fill="#ffa500" fill-opacity="0.16499999999999998"/>
<path d="M503.93,286.92l1.5,1.5l-1.5,1.5l-1.5,-1.5zM596.85,286.9l1.5,1.5l-1.5,1.5l-1.5,-1.5zM612.72,286.73l1.5,1.5l-1.5,1.5l-1.5,-1.5zM686.96,287.27l1.5,1.5l-1.5,1.5l-1.5,-1.5zM555.5,286.81l1.5,1.5l-1.5,1.5l-1.5,-1.5zM585.19,287.18l1.5,1.5l-1.5,1.5l-1.5,-1.5zM553.23,287.16l1.5,1.5l-1.5,1.5l-1.5,-1.5zM537.33,287.06l1.5,1.5l-1.5,1.5l-1.5,-1.5zM699.41,287.1l1.5,1.5l-1.5,1.5l-1.5,-1.5zM511.25,287.27l1.5,1.5l-1.5,1.5l-1.5,-1.5zM736.88,286.99l1.5,1.5l-1.5,1.5l-1.5,-1.5zM740.25,287.06l1.5,1.5l-1.5,1.5l-1.5,-1.5zM536.11,286.94l1.5,1.5l-1.5,1.5l-1.5,-1.5zM728.83,286.98l1.5,1.5l-1.5,1.5l-1.5,-1.5zM498.68,286.8l1.5,1.5l-1.5,1.5l-1.5,-1.5zM541.32,287.05l1.5,1.5l-1.5,1.5l-1.5,-1.5zM676.54,286.97l1.5,1.5l-1.5,1.5l-1.5,-1.5zM605.61,287.28l1.5,1.5l-1.5,1.5l-1.5,-1.5zM587.62,287.1l1.5,1.5l-1.5,1.5l-1.5,-1.5zM546.75,287.01l1.5,1.5l-1.5,1.5l-1.5,-1.5zM539.37,286.77l1.5,1.5l-1.5,1.5l-1.5,-1.5zM585.8,286.77l1.5,1.5l-1.5,1.5l-1.5,-1.5zM598.94,287.09l1.5,1.5l-1.5,1.5l-1.5,-1.5zM648.56,287.18l1.5,1.5l-1.5,1.5l-1.5,-1.5zM627.34,286.75l1.5,1.5l-1.5,1.5l-1.5,-1.5zM701.23,286.94l1.5,1.5l-1.5,1.5l-1.5,-1.5zM708.36,287.29l1.5,1.5l-1.5,1.5l-1.5,-1.5zM641.21,286.85l1.5,1.5l-1.5,1.5l-1.5,-1.5zM592.04,287l1.5,1.5l-1.5,1.5l-1.5,-1.5zM580.61,286.76l1.5,1.5l-1.5,1.5l-1.5,-1.5zM604.03,287.09l1.5,1.5l-1.5,1.5l-1.5,-1.5zM727.43,287.16l1.5,1.5l-1.5,1.5l-1.5,-1.5zM747.54,287.18l1.5,1.5l-1.5,1.5l-1.5,-1.5zM607.87,287.09l1.5,1.5l-1.5,1.5l-1.5,-1.5zM502.3,287.18l1.5,1.5l-1.5,1.5l-1.5,-1.5zM695.51,286.86l1.5,1.5l-1.5,1.5l-1.5,-1.5zM625.86,286.86l1.5,1.5l-1.5,1.5l-1.5,-1.5zM721.26,286.96l1.5,1.5l-1.5,1.5l-1.5,-1.5zM717.07,287.25l1.5,1.5l-1.5,1.5l-1.5,-1.5zM716.1,286.93l1.5,1.5l-1.5,1.5l-1.5,-1.5zM587.49,287.27l1.5,1.5l-1.5,1.5l-1.5,-1.5zM753.58,286.81l1.5,1.5l-1.5,1.5l-1.5,-1.5zM593.34,287.17l1.5,1.5l-1.5,1.5l-1.5,-1.5zM709.83,286.87l1.5,1.5l-1.5,1.5l-1.5,-1.5zM618.18,287.28l1.5,1.5l-1.5,1.5l-1.5,-1.5zM512.96,286.86l1.5,1.5l-1.5,1.5l-1.5,-1.5zM682.6,287.24l1.5,1.5l-1.5,1.5l-1.5,-1.5zM766.1,286.98l1.5,1.5l-1.5,1.5l-1.5,-1.5zM719.83,287.28l1.5,1.5l-1.5,1.5l-1.5,-1.5zM583.66,286.84l1.5,1.5l-1.5,1.5l-1.5,-1.5zM563,287.17l1.5,1.5l-1.5,1.5l-1.5,-1.5zM527.54,287.03l1.5,1.5l-1.5,1.5l-1.5,-1.5zM761.05,286.82l1.5,1.5l-1.5,1.5l-1.5,-1.5zM672.1,287.02l1.5,1.5l-1.5,1.5l-1.5,-1.5zM771.84,287.01l1.5,1.5l-1.5,1.5l-1.5,-1.5zM631.35,287.24l1.5,1.5l-1.5,1.5l-1.5,-1.5zM708.61,286.79l1.5,1.5l-1.5,1.5l-1.5,-1.5zM723.82,286.94l1.5,1.5l-1.5,1.5l-1.5,-1.5zM772.56,287.28l1.5,1.5l-1.5,1.5l-1.5,-1.5zM632.05,286.95l1.5,1.5l-1.5,1.5l-1.5,-1.5zM553.38,286.87l1.5,1.5l-1.5,1.5l-1.5,-1.5zM547.2,286.8l1.5,1.5l-1.5,1.5l-1.5,-1.5zM702.07,286.73l1.5,1.5l-1.5,1.5l-1.5,-1.5zM663.24,287.06l1.5,1.5l-1.5,1.5l-1.5,-1.5zM703.66,287.04l1.5,1.5l-1.5,1.5l-1.5,-1.5zM760.31,286.87l1.5,1.5l-1.5,1.5l-1.5,-1.5zM513.81,287.05l1.5,1.5l-1.5,1.5l-1.5,-1.5zM565.89,287.29l1.5,1.5l-1.5,1.5l-1.5,-1.5zM758.69,287.11l1.5,1.5l-1.5,1.5l-1.5,-1.5zM732.64,286.85l1.5,1.5l-1.5,1.5l-1.5,-1.5zM629.61,286.93l1.5,1.5l-1.5,1.5l-1.5,-1.5zM588.3,286.92l1.5,1.5l-1.5,1.5l-1.5,-1.5zM627.47,287.09l1.5,1.5l-1.5,1.5l-1.5,-1.5zM493.74,287.02l1.5,1.5l-1.5,1.5l-1.5,-1.5zM524.1,287.28l1.5,1.5l-1.5,1.5l-1.5,-1.5zM649.34,287.05l1.5,1.5l-1.5,1.5l-1.5,-1.5zM579.39,287.12l1.5,1.5l-1.5,1.5l-1.5,-1.5zM696.11,287.25l1.5,1.5l-1.5,1.5l-1.5,-1.5zM657.89,286.86l1.5,1.5l-1.5,1.5l-1.5,-1.5zM672.04,286.73l1.5,1.5l-1.5,1.5l-1.5,-1.5zM706.17,286.88l1.5,1.5l-1.5,1.5l-1.5,-1.5zM698.88,286.78l1.5,1.5l-1.5,1.5l-1.5,-1.5zM662.86,286.8l1.5,1.5l-1.5,1.5l-1.5,-1.5zM497.1,286.86l1.5,1.5l-1.5,1.5l-1.5,-1.5zM737.01,286.93l1.5,1.5l-1.5,1.5l-1.5,-1.5zM640.79,287.17l1.5,1.5l-1.5,1.5l-1.5,-1.5z" fill="#ffa500" fill-opacity="0.264" stroke="#ffa500" stroke-opacity="0.378" stroke-width="0.7"/>
<path d="M775.41,292.76l1.5,1.5l-1.5,1.5l-1.5,-1.5zM691.4,293.07l1.5,1.5l-1.5,1.5l-1.5,-1.5zM720.88,292.81l1.5,1.5l-1.5,1.5l-1.5,-1.5zM626.48,293.07l1.5,1.5l-1.5,1.5l-1.5,-1.5zM560.42,292.89l1.5,1.5l-1.5,1.5l-1.5,-1.5zM673.5,293.11l1.5,1.5l-1.5,1.5l-1.5,-1.5zM558.34,293l1.5,1.5l-1.5,1.5l-1.5,-1.5zM550.46,292.69l1.5,1.5l-1.5,1.5l-1.5,-1.5zM627.26,292.99l1.5,1.5l-1.5,1.5l-1.5,-1.5zM675.46,293.17l1.5,1.5l-1.5,1.5l-1.5,-1.5zM534.86,292.92l1.5,1.5l-1.5,1.5l-1.5,-1.5z" fill="#ffa500" fill-opacity="0.170" stroke="#ffa500" stroke-opacity="0.242" stroke-width="0.7"/>
<rect x="548.5" y="202.4" width="1" height="94" fill="#ffffff" fill-opacity="0.3"/>
<rect x="628.5" y="202.4" width="1" height="94" fill="#ffffff" fill-opacity="0.3"/>
<rect x="707.5" y="202.4" width="1" height="94" fill="#ffffff" fill-opacity="0.3"/>
<rect x="482" y="239" width="9" height="3" fill="#ffa500"/>
<rect x="780" y="239" width="8" height="3" fill="#ffa500"/>
<rect x="547" y="239" width="4" height="3" fill="#ffa500"/>
<rect x="627" y="239" width="4" height="3" fill="#ffa500"/>
<rect x="706" y="239" width="4" height="3" fill="#ffa500"/>
</g>
<g clip-path="url(#c20)">
<rect x="88.3" y="379" width="2.6" height="16.3" fill="#0000ff"/>
<path d="M87.9,372.58 L89.4,372.65 L90.91,371.43 L92.41,371.16 L93.92,371.38 L95.42,371.27 L96.93,372.45 L98.43,372.38 L99.94,373.84 L101.44,373.63 L102.95,374.38 L104.45,374.8 L105.95,373.76 L107.46,374.63 L108.96,374.4 L110.47,373.97 L111.97,374.93 L113.48,375.4 L114.98,374.6 L116.49,374.47 L117.99,374.5 L119.49,374.77 L121,375.84 L122.5,375.84 L124.01,375.45 L125.51,374.81 L127.02,375.6 L128.52,375.31 L130.03,376.19 L131.53,376.21 L133.04,375.67 L134.54,375.5 L136.04,376.04 L137.55,376.42 L139.05,375.98 L140.56,375.58 L142.06,376.38 L143.57,376.31 L145.07,376.36 L146.58,377.02 L148.08,376.06 L149.59,376.37 L151.09,376.61 L152.59,376.94 L154.1,376.88 L155.6,376.01 L157.11,376.46 L158.61,377.07 L160.12,376.48 L161.62,376.61 L163.13,377.21 L164.63,376.52 L166.14,376.62 L167.64,377.73 L169.14,377.7 L170.65,376.58 L172.15,376.55 L173.66,377.28 L175.16,377.92 L176.67,377.97 L178.17,377.26 L179.68,378.07 L181.18,376.95 L182.68,377.84 L184.19,377.34 L185.69,376.88 L187.2,377.01 L188.7,377.06 L190.21,377.05 L191.71,376.52 L193.22,376.74 L194.72,377.69 L196.23,377.76 L197.73,377.51 L199.23,377.57 L200.74,377.53 L202.24,376.76 L203.75,376.45 L205.25,377.44 L206.76,377.51 L208.26,376.97 L209.77,377.28 L211.27,376.74 L212.78,377.69 L214.28,376.51 L215.78,377.38 L217.29,377.24 L218.79,376.56 L220.3,377.17 L221.8,376.23 L223.31,376.22 L224.81,376.66 L226.32,376.2 L227.82,377.23 L229.33,376.13 L230.83,376.61 L232.33,375.64 L233.84,375.45 L235.34,375.2 L236.85,375.95 L238.35,374.72 L239.86,375.78 L241.36,375.05 L242.87,375.82 L244.37,375.36 L245.87,376.16 L247.38,376.37 L248.88,375.28 L250.39,375.75 L251.89,376.51 L253.4,376.15 L254.9,376.65 L256.41,376.76 L257.91,375.71 L259.42,376.4 L260.92,376.43 L262.42,375.75 L263.93,375.59 L265.43,375.46 L266.94,376.35 L268.44,376.09 L269.95,375.76 L271.45,374.65 L272.96,375.26 L274.46,374.7 L275.97,374.81 L277.47,374.53 L278.97,374.2 L280.48,374.22 L281.98,373.83 L283.49,373.77 L284.99,373.5 L286.5,374.14 L288,373.63 L289.51,373.59 L291.01,373.34 L292.52,373.41 L294.02,373.85 L295.52,374.29 L297.03,373.82 L298.53,374.93 L300.04,374.27 L301.54,375.25 L303.05,375.45 L304.55,375.14 L306.06,375.18 L307.56,376.27 L309.06,376.23 L310.57,375.9 L312.07,375.87 L313.58,376.47 L315.08,376.62 L316.59,375.55 L318.09,376.67 L319.6,376.32 L321.1,376.1 L322.61,376.07 L324.11,375.12 L325.61,375.15 L327.12,375.77 L328.62,374.91 L330.13,374.69 L331.63,375.12 L333.14,375.8 L334.64,374.97 L336.15,374.36 L337.65,374.98 L339.16,375.27 L340.66,374.69 L342.16,374.86 L343.67,375.08 L345.17,373.67 L346.68,375 L348.18,374.65 L349.69,373.34 L351.19,373.25 L352.7,373.48 L354.2,373.91 L355.71,373.25 L357.21,373.74 L358.71,372.99 L360.22,373.53 L361.72,372.79 L363.23,372.4 L364.73,372.21 L366.24,372.59 L367.74,371.89 L369.25,371.25 L370.75,371.42 L372.25,371.73 L373.76,371.25 L375.26,371.31 L376.77,370.39 L378.27,370.96 L379.78,371.13 L381.28,369.64 L382.79,370.7 L384.29,370.7 L385.8,370 L387.3,370.14 L387.3,381 L385.8,381.71 L384.29,381.83 L382.79,381.9 L381.28,382.1 L379.78,382.05 L378.27,382.98 L376.77,383.22 L375.26,382.04 L373.76,382.81 L372.25,383.76 L370.75,384.04 L369.25,384.07 L367.74,383.82 L366.24,384.65 L364.73,383.88 L363.23,384.33 L361.72,384.52 L360.22,383.94 L358.71,384.31 L357.21,384.77 L355.71,384.83 L354.2,384.48 L352.7,383.54 L351.19,385 L349.69,384.89 L348.18,384.42 L346.68,384.7 L345.17,384.82 L343.67,384.05 L342.16,383.86 L340.66,384.29 L339.16,384.76 L337.65,385 L336.15,384.31 L334.64,385.15 L333.14,383.77 L331.63,384.48 L330.13,385.01 L328.62,385.23 L327.12,383.92 L325.61,384.01 L324.11,384.96 L322.61,383.93 L321.1,384.04 L319.6,384.65 L318.09,385.24 L316.59,384.1 L315.08,384.99 L313.58,385 L312.07,384.71 L310.57,384.85 L309.06,384.62 L307.56,385.02 L306.06,383.9 L304.55,384.89 L303.05,384.71 L301.54,384.64 L300.04,383.69 L298.53,383.13 L297.03,383.65 L295.52,383.85 L294.02,382.65 L292.52,383.59 L291.01,383.31 L289.51,382.92 L288,382.88 L286.5,383.26 L284.99,382.39 L283.49,383.32 L281.98,383.01 L280.48,383.88 L278.97,383.37 L277.47,383.13 L275.97,383.88 L274.46,384.79 L272.96,383.8 L271.45,385.18 L269.95,384.86 L268.44,385.1 L266.94,385.32 L265.43,385.1 L263.93,385.88 L262.42,385.72 L260.92,385.74 L259.42,384.97 L257.91,385.03 L256.41,385.78 L254.9,386.08 L253.4,386.07 L251.89,385.49 L250.39,385.72 L248.88,385.34 L247.38,385.69 L245.87,384.55 L244.37,385.25 L242.87,384.4 L241.36,384.86 L239.86,385.05 L238.35,385.07 L236.85,384.42 L235.34,383.89 L233.84,384.09 L232.33,385.11 L230.83,384.71 L229.33,385.82 L227.82,386.29 L226.32,385.62 L224.81,385.93 L223.31,385.45 L221.8,385.93 L220.3,385.46 L218.79,385.47 L217.29,386.15 L215.78,385.49 L214.28,386.24 L212.78,385.41 L211.27,385.4 L209.77,386.31 L208.26,385.89 L206.76,386.66 L205.25,385.29 L203.75,385.56 L202.24,386.13 L200.74,385.69 L199.23,386.16 L197.73,386.55 L196.23,386.7 L194.72,385.49 L193.22,385.78 L191.71,386.55 L190.21,385.9 L188.7,385.98 L187.2,385.69 L185.69,386.06 L184.19,385.44 L182.68,385.55 L181.18,385.5 L179.68,386.71 L178.17,386.39 L176.67,386.73 L175.16,386.55 L173.66,385.56 L172.15,385.61 L170.65,386.07 L169.14,386.44 L167.64,385.94 L166.14,385.83 L164.63,385.7 L163.13,385.79 L161.62,386.56 L160.12,385.82 L158.61,385.99 L157.11,385.19 L155.6,386.35 L154.1,385.65 L152.59,385.59 L151.09,385.71 L149.59,385.97 L148.08,386.31 L146.58,386.57 L145.07,386.22 L143.57,385.53 L142.06,385.13 L140.56,385.41 L139.05,385.67 L137.55,385.29 L136.04,386.25 L134.54,385.59 L133.04,385.56 L131.53,385.93 L130.03,385.9 L128.52,385.72 L127.02,386.39 L125.51,385.06 L124.01,385.84 L122.5,385.01 L121,385.51 L119.49,386.13 L117.99,385.11 L116.49,386.17 L114.98,385.85 L113.48,384.76 L111.97,385.93 L110.47,385.95 L108.96,385.08 L107.46,384.96 L105.95,384.71 L104.45,385.58 L102.95,385.84 L101.44,385.05 L99.94,385.76 L98.43,383.74 L96.93,384.11 L95.42,383.11 L93.92,382.02 L92.41,381.49 L90.91,381.36 L89.4,381.85 L87.9,381.61Z" fill="#0000ff" fill-opacity="0.3"/>
<path d="M88.5,373.89 L90.01,372.14 L91.51,371.6 L93.02,370.78 L94.52,371.96 L96.03,372.62 L97.54,373.65 L99.04,373.62 L100.55,374.77 L102.05,374.5 L103.56,374.67 L105.07,375.16 L106.57,375.29 L108.08,375.43 L109.58,374.63 L111.09,374.71 L112.6,375.19 L114.1,375.21 L115.61,375.4 L117.12,375.9 L118.62,375.3 L120.13,376.08 L121.63,376.15 L123.14,375.97 L124.65,375.74 L126.15,376.38 L127.66,376.01 L129.16,376.32 L130.67,376.44 L132.18,376.43 L133.68,376.53 L135.19,376.47 L136.69,376.64 L138.2,376.3 L139.71,377.14 L141.21,376.56 L142.72,377.29 L144.22,376.41 L145.73,377.06 L147.24,376.51 L148.74,377.2 L150.25,376.92 L151.75,377.34 L153.26,377.61 L154.77,376.71 L156.27,377.46 L157.78,377.43 L159.28,377.8 L160.79,377.69 L162.3,377.06 L163.8,377.73 L165.31,377.11 L166.82,377.32 L168.32,377.57 L169.83,377.23 L171.33,377.71 L172.84,377.9 L174.35,377.36 L175.85,377.59 L177.36,377.5 L178.86,378.22 L180.37,378.03 L181.88,378.21 L183.38,378.26 L184.89,378.3 L186.39,377.98 L187.9,378.02 L189.41,378.13 L190.91,377.94 L192.42,378.13 L193.92,377.61 L195.43,377.65 L196.94,377.65 L198.44,377.93 L199.95,377.6 L201.45,378.2 L202.96,377.96 L204.47,377.27 L205.97,378.13 L207.48,377.24 L208.98,378.06 L210.49,377.71 L212,377.24 L213.5,377.17 L215.01,377.29 L216.52,377.93 L218.02,377.45 L219.53,377.58 L221.03,377.51 L222.54,377.69 L224.05,377.72 L225.55,377.31 L227.06,376.94 L228.56,376.93 L230.07,376.96 L231.58,376.66 L233.08,375.96 L234.59,376.34 L236.09,375.47 L237.6,375.78 L239.11,376.03 L240.61,376.17 L242.12,376.61 L243.62,376.16 L245.13,376.38 L246.64,375.89 L248.14,376.72 L249.65,376.12 L251.15,376.67 L252.66,377.01 L254.17,376.97 L255.67,376.42 L257.18,377.27 L258.68,376.88 L260.19,376.83 L261.7,376.94 L263.2,376.99 L264.71,376.44 L266.22,376.25 L267.72,376.35 L269.23,376.1 L270.73,375.78 L272.24,375.68 L273.75,374.96 L275.25,375.41 L276.76,375.36 L278.26,375.13 L279.77,374.78 L281.28,374.7 L282.78,374.65 L284.29,374.67 L285.79,374.78 L287.3,374.84 L288.81,374.71 L290.31,374.14 L291.82,374.55 L293.32,374.52 L294.83,374.78 L296.34,374.42 L297.84,375.05 L299.35,374.54 L300.85,375.74 L302.36,375.13 L303.87,376.1 L305.37,376.45 L306.88,376.61 L308.38,376.51 L309.89,376.61 L311.4,376.56 L312.9,377.19 L314.41,376.37 L315.92,376.53 L317.42,376.52 L318.93,376.61 L320.43,376.78 L321.94,376.22 L323.45,376.69 L324.95,376.61 L326.46,376.4 L327.96,376.46 L329.47,376.02 L330.98,376.36 L332.48,375.38 L333.99,375.38 L335.49,375.94 L337,375.17 L338.51,375.44 L340.01,375.55 L341.52,375.79 L343.02,375.47 L344.53,375.05 L346.04,374.49 L347.54,374.85 L349.05,374.17 L350.55,374.64 L352.06,374.28 L353.57,374 L355.07,374.4 L356.58,373.87 L358.08,373.96 L359.59,373.82 L361.1,373.01 L362.6,373.59 L364.11,373.48 L365.62,373.27 L367.12,373.31 L368.63,372.47 L370.13,372.03 L371.64,372.52 L373.15,372.31 L374.65,371.53 L376.16,371.3 L377.66,371.45 L379.17,371.31 L380.68,371.51 L382.18,370.91 L383.69,370.53 L385.19,370.12 L386.7,371 L386.7,381.41 L385.19,381.26 L383.69,381.46 L382.18,381.39 L380.68,381.77 L379.17,381.33 L377.66,382.24 L376.16,381.91 L374.65,381.7 L373.15,382.71 L371.64,383.07 L370.13,382.87 L368.63,382.82 L367.12,383.45 L365.62,383.15 L364.11,383.22 L362.6,383.66 L361.1,383.17 L359.59,383.23 L358.08,383.33 L356.58,383.8 L355.07,384.06 L353.57,384.08 L352.06,384.11 L350.55,384 L349.05,383.61 L347.54,383.39 L346.04,384.14 L344.53,384.03 L343.02,383.37 L341.52,383.66 L340.01,383.31 L338.51,383.35 L337,384.11 L335.49,383.8 L333.99,383.7 L332.48,383.74 L330.98,384.06 L329.47,383.79 L327.96,383.89 L326.46,384.34 L324.95,384.01 L323.45,384.21 L321.94,384.31 L320.43,384.36 L318.93,384.04 L317.42,384.28 L315.92,383.75 L314.41,383.8 L312.9,384.39 L311.4,384.35 L309.89,384.03 L308.38,383.57 L306.88,383.71 L305.37,384.03 L303.87,383.84 L302.36,383.08 L300.85,383.08 L299.35,383.06 L297.84,383.28 L296.34,382.85 L294.83,382.48 L293.32,382.57 L291.82,382.2 L290.31,382.54 L288.81,381.84 L287.3,382.34 L285.79,382.76 L284.29,383.05 L282.78,382.86 L281.28,383.04 L279.77,382.64 L278.26,383.52 L276.76,383.6 L275.25,383.51 L273.75,383.38 L272.24,383.78 L270.73,384.25 L269.23,384.3 L267.72,384.6 L266.22,384.3 L264.71,384.95 L263.2,384.76 L261.7,385.46 L260.19,385.33 L258.68,384.62 L257.18,385.41 L255.67,384.74 L254.17,384.69 L252.66,384.61 L251.15,384.86 L249.65,384.75 L248.14,384.19 L246.64,384.46 L245.13,384.61 L243.62,384.61 L242.12,384.14 L240.61,384.48 L239.11,384.3 L237.6,384.32 L236.09,384.04 L234.59,383.26 L233.08,383.94 L231.58,384.25 L230.07,385.52 L228.56,385.64 L227.06,384.95 L225.55,384.73 L224.05,385.42 L222.54,385.72 L221.03,385.28 L219.53,385.55 L218.02,384.78 L216.52,385.16 L215.01,385.1 L213.5,384.87 L212,385.64 L210.49,385.8 L208.98,385.69 L207.48,385.38 L205.97,385.52 L204.47,385.72 L202.96,385.33 L201.45,385.28 L199.95,385.44 L198.44,385.82 L196.94,385.55 L195.43,385.13 L193.92,385.06 L192.42,385.07 L190.91,385.06 L189.41,385.31 L187.9,385.74 L186.39,385.51 L184.89,385.23 L183.38,385.67 L181.88,385.09 L180.37,385.34 L178.86,385.92 L177.36,385.59 L175.85,385.28 L174.35,385.5 L172.84,385.33 L171.33,385.77 L169.83,385.68 L168.32,385.5 L166.82,385.26 L165.31,385.17 L163.8,385.47 L162.3,385.12 L160.79,385.08 L159.28,384.98 L157.78,385.07 L156.27,385.75 L154.77,385.38 L153.26,385.1 L151.75,385.16 L150.25,385.23 L148.74,384.94 L147.24,385 L145.73,385.3 L144.22,385.14 L142.72,385.41 L141.21,385.26 L139.71,384.82 L138.2,385.6 L136.69,384.89 L135.19,384.74 L133.68,385.07 L132.18,385.07 L130.67,385.29 L129.16,384.68 L127.66,384.67 L126.15,384.55 L124.65,384.58 L123.14,384.57 L121.63,385.23 L120.13,384.86 L118.62,384.89 L117.12,384.44 L115.61,384.95 L114.1,384.39 L112.6,385.12 L111.09,384.66 L109.58,384.6 L108.08,384.37 L106.57,384.47 L105.07,384.75 L103.56,384.74 L102.05,384.19 L100.55,384.82 L99.04,383.88 L97.54,382.99 L96.03,382.79 L94.52,381.7 L93.02,380.67 L91.51,380.26 L90.01,380.94 L88.5,380.7Z" fill="#0000ff"/>
<path d="M385.5,379.5l1.5,1.5l-1.5,1.5l-1.5,-1.5zM385.5,381.83l1.5,1.5l-1.5,1.5l-1.5,-1.5zM385.5,384.17l1.5,1.5l-1.5,1.5l-1.5,-1.5zM385.5,386.5l1.5,1.5l-1.5,1.5l-1.5,-1.5zM385.5,388.83l1.5,1.5l-1.5,1.5l-1.5,-1.5zM385.5,391.17l1.5,1.5l-1.5,1.5l-1.5,-1.5zM385.5,393.5l1.5,1.5l-1.5,1.5l-1.5,-1.5z" fill="#0000ff" fill-opacity="0.154" stroke="#0000ff" stroke-opacity="0.220" stroke-width="0.7"/>
<rect x="385" y="381" width="1" height="14" fill="#0000ff" fill-opacity="0.25"/>
</g>
<g clip-path="url(#c21)">
<path d="M768.65,363.68l1.5,1.5l-1.5,1.5l-1.5,-1.5zM492.38,364.2l1.5,1.5l-1.5,1.5l-1.5,-1.5zM539.87,363.67l1.5,1.5l-1.5,1.5l-1.5,-1.5zM677.96,363.81l1.5,1.5l-1.5,1.5l-1.5,-1.5zM748.35,363.74l1.5,1.5l-1.5,1.5l-1.5,-1.5zM769.02,363.79l1.5,1.5l-1.5,1.5l-1.5,-1.5zM663.1,364.16l1.5,1.5l-1.5,1.5l-1.5,-1.5zM687.96,364.15l1.5,1.5l-1.5,1.5l-1.5,-1.5zM694.72,363.63l1.5,1.5l-1.5,1.5l-1.5,-1.5zM745.93,363.95l1.5,1.5l-1.5,1.5l-1.5,-1.5zM577.24,363.71l1.5,1.5l-1.5,1.5l-1.5,-1.5z" fill="#ffa500" fill-opacity="0.163" stroke="#ffa500" stroke-opacity="0.234" stroke-width="0.7"/>
<rect x="484.4" y="370" width="297.6" height="2.6" fill="#ffa500" fill-opacity="0.021999999999999992"/>
<path d="M736.6,369.85l1.5,1.5l-1.5,1.5l-1.5,-1.5zM762.67,369.96l1.5,1.5l-1.5,1.5l-1.5,-1.5zM769.53,369.84l1.5,1.5l-1.5,1.5l-1.5,-1.5zM691.84,369.87l1.5,1.5l-1.5,1.5l-1.5,-1.5zM561.79,370.07l1.5,1.5l-1.5,1.5l-1.5,-1.5zM577.77,369.97l1.5,1.5l-1.5,1.5l-1.5,-1.5zM767.59,369.89l1.5,1.5l-1.5,1.5l-1.5,-1.5zM527.44,370l1.5,1.5l-1.5,1.5l-1.5,-1.5zM682.71,369.61l1.5,1.5l-1.5,1.5l-1.5,-1.5zM499.92,369.82l1.5,1.5l-1.5,1.5l-1.5,-1.5zM494.94,370.06l1.5,1.5l-1.5,1.5l-1.5,-1.5zM635.06,369.81l1.5,1.5l-1.5,1.5l-1.5,-1.5zM606.43,369.9l1.5,1.5l-1.5,1.5l-1.5,-1.5zM756.31,369.68l1.5,1.5l-1.5,1.5l-1.5,-1.5zM595.89,369.85l1.5,1.5l-1.5,1.5l-1.5,-1.5zM573.29,369.86l1.5,1.5l-1.5,1.5l-1.5,-1.5zM645.95,369.76l1.5,1.5l-1.5,1.5l-1.5,-1.5zM684.41,369.82l1.5,1.5l-1.5,1.5l-1.5,-1.5zM511.45,370.1l1.5,1.5l-1.5,1.5l-1.5,-1.5zM590.54,369.76l1.5,1.5l-1.5,1.5l-1.5,-1.5zM604.47,370.06l1.5,1.5l-1.5,1.5l-1.5,-1.5zM766.86,369.81l1.5,1.5l-1.5,1.5l-1.5,-1.5zM603.83,369.56l1.5,1.5l-1.5,1.5l-1.5,-1.5zM750.11,369.6l1.5,1.5l-1.5,1.5l-1.5,-1.5zM646.98,369.71l1.5,1.5l-1.5,1.5l-1.5,-1.5zM582.44,369.71l1.5,1.5l-1.5,1.5l-1.5,-1.5zM541.94,369.52l1.5,1.5l-1.5,1.5l-1.5,-1.5zM643.68,369.98l1.5,1.5l-1.5,1.5l-1.5,-1.5zM676.68,369.62l1.5,1.5l-1.5,1.5l-1.5,-1.5zM690.44,369.53l1.5,1.5l-1.5,1.5l-1.5,-1.5zM606.82,370l1.5,1.5l-1.5,1.5l-1.5,-1.5zM757.65,369.78l1.5,1.5l-1.5,1.5l-1.5,-1.5zM735.64,369.8l1.5,1.5l-1.5,1.5l-1.5,-1.5zM640.28,369.85l1.5,1.5l-1.5,1.5l-1.5,-1.5zM778.42,369.95l1.5,1.5l-1.5,1.5l-1.5,-1.5zM625.23,369.94l1.5,1.5l-1.5,1.5l-1.5,-1.5zM675.55,369.71l1.5,1.5l-1.5,1.5l-1.5,-1.5zM717.2,369.99l1.5,1.5l-1.5,1.5l-1.5,-1.5zM665.25,370.07l1.5,1.5l-1.5,1.5l-1.5,-1.5zM490.78,369.8l1.5,1.5l-1.5,1.5l-1.5,-1.5zM672.98,369.7l1.5,1.5l-1.5,1.5l-1.5,-1.5zM536.06,369.92l1.5,1.5l-1.5,1.5l-1.5,-1.5zM613.81,369.66l1.5,1.5l-1.5,1.5l-1.5,-1.5zM497.78,370.08l1.5,1.5l-1.5,1.5l-1.5,-1.5zM589.53,369.57l1.5,1.5l-1.5,1.5l-1.5,-1.5zM549.35,369.65l1.5,1.5l-1.5,1.5l-1.5,-1.5zM741.45,369.61l1.5,1.5l-1.5,1.5l-1.5,-1.5zM567.09,369.56l1.5,1.5l-1.5,1.5l-1.5,-1.5zM624.32,369.62l1.5,1.5l-1.5,1.5l-1.5,-1.5zM587.13,369.94l1.5,1.5l-1.5,1.5l-1.5,-1.5zM758.85,370l1.5,1.5l-1.5,1.5l-1.5,-1.5zM496.72,369.73l1.5,1.5l-1.5,1.5l-1.5,-1.5zM736.35,369.52l1.5,1.5l-1.5,1.5l-1.5,-1.5zM545.47,369.79l1.5,1.5l-1.5,1.5l-1.5,-1.5zM598.45,369.95l1.5,1.5l-1.5,1.5l-1.5,-1.5zM697.68,369.78l1.5,1.5l-1.5,1.5l-1.5,-1.5zM559.01,369.64l1.5,1.5l-1.5,1.5l-1.5,-1.5zM564.11,369.54l1.5,1.5l-1.5,1.5l-1.5,-1.5zM682.2,369.59l1.5,1.5l-1.5,1.5l-1.5,-1.5zM748.31,369.89l1.5,1.5l-1.5,1.5l-1.5,-1.5zM502.19,369.8l1.5,1.5l-1.5,1.5l-1.5,-1.5zM663.84,369.53l1.5,1.5l-1.5,1.5l-1.5,-1.5zM629.28,369.52l1.5,1.5l-1.5,1.5l-1.5,-1.5z" fill="#ffa500" fill-opacity="0.223" stroke="#ffa500" stroke-opacity="0.319" stroke-width="0.7"/>
<rect x="484.4" y="376.2" width="297.6" height="2.6" fill="#ffa500" fill-opacity="0.38500000000000006"/>
<path d="M711.91,375.7l1.5,1.5l-1.5,1.5l-1.5,-1.5zM672.22,376.29l1.5,1.5l-1.5,1.5l-1.5,-1.5zM735.59,375.84l1.5,1.5l-1.5,1.5l-1.5,-1.5zM643.41,375.78l1.5,1.5l-1.5,1.5l-1.5,-1.5zM586.58,376.22l1.5,1.5l-1.5,1.5l-1.5,-1.5zM727.12,375.71l1.5,1.5l-1.5,1.5l-1.5,-1.5zM597.69,376.08l1.5,1.5l-1.5,1.5l-1.5,-1.5zM537.27,376.18l1.5,1.5l-1.5,1.5l-1.5,-1.5zM749.39,376.03l1.5,1.5l-1.5,1.5l-1.5,-1.5zM592.43,376.21l1.5,1.5l-1.5,1.5l-1.5,-1.5zM636.99,375.81l1.5,1.5l-1.5,1.5l-1.5,-1.5zM567.51,375.8l1.5,1.5l-1.5,1.5l-1.5,-1.5zM733.33,376.01l1.5,1.5l-1.5,1.5l-1.5,-1.5zM691.33,376.19l1.5,1.5l-1.5,1.5l-1.5,-1.5zM773.25,375.81l1.5,1.5l-1.5,1.5l-1.5,-1.5zM605.33,376.22l1.5,1.5l-1.5,1.5l-1.5,-1.5zM710.55,375.93l1.5,1.5l-1.5,1.5l-1.5,-1.5zM679.25,375.82l1.5,1.5l-1.5,1.5l-1.5,-1.5zM533.21,375.73l1.5,1.5l-1.5,1.5l-1.5,-1.5zM597.64,375.84l1.5,1.5l-1.5,1.5l-1.5,-1.5zM638.43,376.28l1.5,1.5l-1.5,1.5l-1.5,-1.5zM530.59,376.03l1.5,1.5l-1.5,1.5l-1.5,-1.5zM740.99,376.06l1.5,1.5l-1.5,1.5l-1.5,-1.5zM641.24,376.16l1.5,1.5l-1.5,1.5l-1.5,-1.5zM491.85,376.27l1.5,1.5l-1.5,1.5l-1.5,-1.5zM688.32,376.18l1.5,1.5l-1.5,1.5l-1.5,-1.5zM729.33,375.76l1.5,1.5l-1.5,1.5l-1.5,-1.5zM505.09,375.81l1.5,1.5l-1.5,1.5l-1.5,-1.5zM634.61,376.26l1.5,1.5l-1.5,1.5l-1.5,-1.5zM754.19,375.95l1.5,1.5l-1.5,1.5l-1.5,-1.5zM669.39,376.14l1.5,1.5l-1.5,1.5l-1.5,-1.5zM583.66,376.28l1.5,1.5l-1.5,1.5l-1.5,-1.5zM763.79,376.14l1.5,1.5l-1.5,1.5l-1.5,-1.5zM751.86,376.18l1.5,1.5l-1.5,1.5l-1.5,-1.5zM678.2,375.89l1.5,1.5l-1.5,1.5l-1.5,-1.5zM568.57,375.84l1.5,1.5l-1.5,1.5l-1.5,-1.5zM502.36,376.26l1.5,1.5l-1.5,1.5l-1.5,-1.5zM573.59,375.71l1.5,1.5l-1.5,1.5l-1.5,-1.5zM578.84,375.76l1.5,1.5l-1.5,1.5l-1.5,-1.5zM616.99,375.9l1.5,1.5l-1.5,1.5l-1.5,-1.5zM537.27,375.99l1.5,1.5l-1.5,1.5l-1.5,-1.5zM608.03,375.91l1.5,1.5l-1.5,1.5l-1.5,-1.5zM725.8,375.88l1.5,1.5l-1.5,1.5l-1.5,-1.5zM645.39,376.23l1.5,1.5l-1.5,1.5l-1.5,-1.5zM768.9,375.92l1.5,1.5l-1.5,1.5l-1.5,-1.5zM497.37,376.27l1.5,1.5l-1.5,1.5l-1.5,-1.5zM637.38,375.83l1.5,1.5l-1.5,1.5l-1.5,-1.5zM523.29,375.84l1.5,1.5l-1.5,1.5l-1.5,-1.5zM577.18,375.78l1.5,1.5l-1.5,1.5l-1.5,-1.5zM499.89,376.3l1.5,1.5l-1.5,1.5l-1.5,-1.5zM727.87,375.77l1.5,1.5l-1.5,1.5l-1.5,-1.5zM627.5,376.18l1.5,1.5l-1.5,1.5l-1.5,-1.5zM634.53,375.74l1.5,1.5l-1.5,1.5l-1.5,-1.5zM585.8,375.93l1.5,1.5l-1.5,1.5l-1.5,-1.5zM755.73,376.05l1.5,1.5l-1.5,1.5l-1.5,-1.5zM621.07,376.08l1.5,1.5l-1.5,1.5l-1.5,-1.5zM499.78,376.11l1.5,1.5l-1.5,1.5l-1.5,-1.5zM724.24,376.1l1.5,1.5l-1.5,1.5l-1.5,-1.5zM592.07,375.87l1.5,1.5l-1.5,1.5l-1.5,-1.5zM488.4,375.75l1.5,1.5l-1.5,1.5l-1.5,-1.5zM531.09,375.97l1.5,1.5l-1.5,1.5l-1.5,-1.5zM715.46,375.83l1.5,1.5l-1.5,1.5l-1.5,-1.5zM625.03,376.08l1.5,1.5l-1.5,1.5l-1.5,-1.5zM671.48,375.71l1.5,1.5l-1.5,1.5l-1.5,-1.5zM757.52,376.05l1.5,1.5l-1.5,1.5l-1.5,-1.5zM575.04,375.84l1.5,1.5l-1.5,1.5l-1.5,-1.5zM689.06,376.26l1.5,1.5l-1.5,1.5l-1.5,-1.5zM585.12,375.94l1.5,1.5l-1.5,1.5l-1.5,-1.5zM650.08,375.8l1.5,1.5l-1.5,1.5l-1.5,-1.5zM605.38,376.25l1.5,1.5l-1.5,1.5l-1.5,-1.5zM649.87,376.19l1.5,1.5l-1.5,1.5l-1.5,-1.5zM562.81,376.22l1.5,1.5l-1.5,1.5l-1.5,-1.5zM716.75,375.84l1.5,1.5l-1.5,1.5l-1.5,-1.5zM642.07,376.11l1.5,1.5l-1.5,1.5l-1.5,-1.5zM654.74,376.06l1.5,1.5l-1.5,1.5l-1.5,-1.5zM556.36,376.03l1.5,1.5l-1.5,1.5l-1.5,-1.5zM590.21,376.18l1.5,1.5l-1.5,1.5l-1.5,-1.5zM595.57,376.29l1.5,1.5l-1.5,1.5l-1.5,-1.5zM657,375.84l1.5,1.5l-1.5,1.5l-1.5,-1.5zM608.29,375.78l1.5,1.5l-1.5,1.5l-1.5,-1.5zM703.07,375.73l1.5,1.5l-1.5,1.5l-1.5,-1.5zM664.22,375.88l1.5,1.5l-1.5,1.5l-1.5,-1.5zM715.09,375.78l1.5,1.5l-1.5,1.5l-1.5,-1.5zM686.54,376.13l1.5,1.5l-1.5,1.5l-1.5,-1.5zM554.31,375.78l1.5,1.5l-1.5,1.5l-1.5,-1.5zM595.52,376.09l1.5,1.5l-1.5,1.5l-1.5,-1.5zM562.53,375.71l1.5,1.5l-1.5,1.5l-1.5,-1.5zM615.89,376.19l1.5,1.5l-1.5,1.5l-1.5,-1.5zM532.05,376.26l1.5,1.5l-1.5,1.5l-1.5,-1.5zM635.63,375.8l1.5,1.5l-1.5,1.5l-1.5,-1.5zM514.98,375.92l1.5,1.5l-1.5,1.5l-1.5,-1.5zM626.22,375.81l1.5,1.5l-1.5,1.5l-1.5,-1.5zM510.26,376l1.5,1.5l-1.5,1.5l-1.5,-1.5zM560.49,375.97l1.5,1.5l-1.5,1.5l-1.5,-1.5zM618.64,376.12l1.5,1.5l-1.5,1.5l-1.5,-1.5zM656.13,375.84l1.5,1.5l-1.5,1.5l-1.5,-1.5zM538.52,376.22l1.5,1.5l-1.5,1.5l-1.5,-1.5zM500.33,375.77l1.5,1.5l-1.5,1.5l-1.5,-1.5zM506.06,376.2l1.5,1.5l-1.5,1.5l-1.5,-1.5zM645.31,376.25l1.5,1.5l-1.5,1.5l-1.5,-1.5zM670.53,375.9l1.5,1.5l-1.5,1.5l-1.5,-1.5zM612.65,376.14l1.5,1.5l-1.5,1.5l-1.5,-1.5zM553.75,376.18l1.5,1.5l-1.5,1.5l-1.5,-1.5zM605.86,375.73l1.5,1.5l-1.5,1.5l-1.5,-1.5zM586.99,376.04l1.5,1.5l-1.5,1.5l-1.5,-1.5zM528.73,376.24l1.5,1.5l-1.5,1.5l-1.5,-1.5zM759.17,376.01l1.5,1.5l-1.5,1.5l-1.5,-1.5zM752.8,376.11l1.5,1.5l-1.5,1.5l-1.5,-1.5zM644.44,375.79l1.5,1.5l-1.5,1.5l-1.5,-1.5zM767.05,376.25l1.5,1.5l-1.5,1.5l-1.5,-1.5zM619.01,375.93l1.5,1.5l-1.5,1.5l-1.5,-1.5zM507.17,376.07l1.5,1.5l-1.5,1.5l-1.5,-1.5zM738.11,375.93l1.5,1.5l-1.5,1.5l-1.5,-1.5zM570.76,376.07l1.5,1.5l-1.5,1.5l-1.5,-1.5zM719.92,375.8l1.5,1.5l-1.5,1.5l-1.5,-1.5zM568.86,376.09l1.5,1.5l-1.5,1.5l-1.5,-1.5zM497.61,376.19l1.5,1.5l-1.5,1.5l-1.5,-1.5zM578.67,376.2l1.5,1.5l-1.5,1.5l-1.5,-1.5zM619.86,375.8l1.5,1.5l-1.5,1.5l-1.5,-1.5zM491.13,375.77l1.5,1.5l-1.5,1.5l-1.5,-1.5zM562.35,376.15l1.5,1.5l-1.5,1.5l-1.5,-1.5zM720.11,376.08l1.5,1.5l-1.5,1.5l-1.5,-1.5z" fill="#ffa500" fill-opacity="0.327" stroke="#ffa500" stroke-opacity="0.468" stroke-width="0.7"/>
<rect x="484.4" y="381.2" width="297.6" height="2.6" fill="#ffa500" fill-opacity="0.715"/>
<path d="M576.19,381.1l1.5,1.5l-1.5,1.5l-1.5,-1.5zM701.93,380.92l1.5,1.5l-1.5,1.5l-1.5,-1.5zM509.51,380.98l1.5,1.5l-1.5,1.5l-1.5,-1.5zM551.02,380.81l1.5,1.5l-1.5,1.5l-1.5,-1.5zM600.85,380.74l1.5,1.5l-1.5,1.5l-1.5,-1.5zM750.83,380.87l1.5,1.5l-1.5,1.5l-1.5,-1.5zM750.98,381.14l1.5,1.5l-1.5,1.5l-1.5,-1.5zM488.59,381.24l1.5,1.5l-1.5,1.5l-1.5,-1.5zM724.66,381.02l1.5,1.5l-1.5,1.5l-1.5,-1.5zM746.79,380.99l1.5,1.5l-1.5,1.5l-1.5,-1.5zM492.83,380.79l1.5,1.5l-1.5,1.5l-1.5,-1.5zM577.2,381.21l1.5,1.5l-1.5,1.5l-1.5,-1.5zM730.59,380.77l1.5,1.5l-1.5,1.5l-1.5,-1.5zM588.83,380.77l1.5,1.5l-1.5,1.5l-1.5,-1.5zM552.92,380.91l1.5,1.5l-1.5,1.5l-1.5,-1.5zM607.91,380.79l1.5,1.5l-1.5,1.5l-1.5,-1.5zM679.79,380.85l1.5,1.5l-1.5,1.5l-1.5,-1.5zM748.5,380.99l1.5,1.5l-1.5,1.5l-1.5,-1.5zM612.39,381.16l1.5,1.5l-1.5,1.5l-1.5,-1.5zM587.37,380.85l1.5,1.5l-1.5,1.5l-1.5,-1.5zM521.63,380.88l1.5,1.5l-1.5,1.5l-1.5,-1.5zM554.74,381.14l1.5,1.5l-1.5,1.5l-1.5,-1.5zM590.32,381.12l1.5,1.5l-1.5,1.5l-1.5,-1.5zM566.85,380.74l1.5,1.5l-1.5,1.5l-1.5,-1.5zM575.52,380.94l1.5,1.5l-1.5,1.5l-1.5,-1.5zM754.43,380.82l1.5,1.5l-1.5,1.5l-1.5,-1.5zM547.96,380.79l1.5,1.5l-1.5,1.5l-1.5,-1.5zM560.26,381.28l1.5,1.5l-1.5,1.5l-1.5,-1.5zM760.86,380.84l1.5,1.5l-1.5,1.5l-1.5,-1.5zM500.13,380.99l1.5,1.5l-1.5,1.5l-1.5,-1.5zM658.22,380.77l1.5,1.5l-1.5,1.5l-1.5,-1.5zM609,381.16l1.5,1.5l-1.5,1.5l-1.5,-1.5zM485.8,381.13l1.5,1.5l-1.5,1.5l-1.5,-1.5zM687.86,381.17l1.5,1.5l-1.5,1.5l-1.5,-1.5zM629.31,380.98l1.5,1.5l-1.5,1.5l-1.5,-1.5zM638.68,380.78l1.5,1.5l-1.5,1.5l-1.5,-1.5zM637.31,380.84l1.5,1.5l-1.5,1.5l-1.5,-1.5zM580.28,380.73l1.5,1.5l-1.5,1.5l-1.5,-1.5zM532.25,380.73l1.5,1.5l-1.5,1.5l-1.5,-1.5zM645.32,380.84l1.5,1.5l-1.5,1.5l-1.5,-1.5zM649.64,381l1.5,1.5l-1.5,1.5l-1.5,-1.5zM554.27,380.78l1.5,1.5l-1.5,1.5l-1.5,-1.5zM661.58,381.11l1.5,1.5l-1.5,1.5l-1.5,-1.5zM689.46,381l1.5,1.5l-1.5,1.5l-1.5,-1.5zM656.85,380.71l1.5,1.5l-1.5,1.5l-1.5,-1.5zM575.96,381.18l1.5,1.5l-1.5,1.5l-1.5,-1.5zM596.9,380.76l1.5,1.5l-1.5,1.5l-1.5,-1.5zM609.81,381.2l1.5,1.5l-1.5,1.5l-1.5,-1.5zM514.4,380.77l1.5,1.5l-1.5,1.5l-1.5,-1.5zM632.7,381.22l1.5,1.5l-1.5,1.5l-1.5,-1.5zM600.81,380.85l1.5,1.5l-1.5,1.5l-1.5,-1.5zM712.41,380.76l1.5,1.5l-1.5,1.5l-1.5,-1.5zM572.72,381.06l1.5,1.5l-1.5,1.5l-1.5,-1.5zM736.49,381.22l1.5,1.5l-1.5,1.5l-1.5,-1.5zM581.69,380.86l1.5,1.5l-1.5,1.5l-1.5,-1.5zM592.81,380.77l1.5,1.5l-1.5,1.5l-1.5,-1.5zM565.99,381.16l1.5,1.5l-1.5,1.5l-1.5,-1.5zM774.78,380.86l1.5,1.5l-1.5,1.5l-1.5,-1.5zM506.8,381.14l1.5,1.5l-1.5,1.5l-1.5,-1.5zM770.99,381.18l1.5,1.5l-1.5,1.5l-1.5,-1.5zM607.38,381.15l1.5,1.5l-1.5,1.5l-1.5,-1.5zM710.21,381.15l1.5,1.5l-1.5,1.5l-1.5,-1.5zM631.08,381.3l1.5,1.5l-1.5,1.5l-1.5,-1.5zM716.19,380.84l1.5,1.5l-1.5,1.5l-1.5,-1.5zM612.72,380.75l1.5,1.5l-1.5,1.5l-1.5,-1.5zM596.15,381.19l1.5,1.5l-1.5,1.5l-1.5,-1.5zM629.14,381.01l1.5,1.5l-1.5,1.5l-1.5,-1.5zM715.68,380.75l1.5,1.5l-1.5,1.5l-1.5,-1.5zM589.95,380.99l1.5,1.5l-1.5,1.5l-1.5,-1.5zM631.39,381.11l1.5,1.5l-1.5,1.5l-1.5,-1.5zM762.36,381.18l1.5,1.5l-1.5,1.5l-1.5,-1.5zM646.65,381.11l1.5,1.5l-1.5,1.5l-1.5,-1.5zM644.58,381.29l1.5,1.5l-1.5,1.5l-1.5,-1.5zM661.73,381.06l1.5,1.5l-1.5,1.5l-1.5,-1.5zM602.44,380.95l1.5,1.5l-1.5,1.5l-1.5,-1.5zM711.24,380.92l1.5,1.5l-1.5,1.5l-1.5,-1.5zM752.56,381.14l1.5,1.5l-1.5,1.5l-1.5,-1.5zM767.74,381.12l1.5,1.5l-1.5,1.5l-1.5,-1.5zM653.89,380.92l1.5,1.5l-1.5,1.5l-1.5,-1.5zM490.73,381.1l1.5,1.5l-1.5,1.5l-1.5,-1.5zM707.5,381.13l1.5,1.5l-1.5,1.5l-1.5,-1.5zM709.79,380.72l1.5,1.5l-1.5,1.5l-1.5,-1.5zM687.61,380.87l1.5,1.5l-1.5,1.5l-1.5,-1.5zM600.26,381.22l1.5,1.5l-1.5,1.5l-1.5,-1.5zM605.1,380.98l1.5,1.5l-1.5,1.5l-1.5,-1.5zM500.39,380.81l1.5,1.5l-1.5,1.5l-1.5,-1.5zM547.53,380.83l1.5,1.5l-1.5,1.5l-1.5,-1.5zM639.88,380.73l1.5,1.5l-1.5,1.5l-1.5,-1.5zM511.72,380.75l1.5,1.5l-1.5,1.5l-1.5,-1.5zM702.23,381.28l1.5,1.5l-1.5,1.5l-1.5,-1.5zM707.11,381.01l1.5,1.5l-1.5,1.5l-1.5,-1.5zM523.98,381.17l1.5,1.5l-1.5,1.5l-1.5,-1.5zM523.68,380.75l1.5,1.5l-1.5,1.5l-1.5,-1.5zM636.59,381.22l1.5,1.5l-1.5,1.5l-1.5,-1.5zM577.23,381.22l1.5,1.5l-1.5,1.5l-1.5,-1.5zM583.59,381.28l1.5,1.5l-1.5,1.5l-1.5,-1.5zM703.75,381.22l1.5,1.5l-1.5,1.5l-1.5,-1.5zM776.42,381.19l1.5,1.5l-1.5,1.5l-1.5,-1.5zM543.41,381.01l1.5,1.5l-1.5,1.5l-1.5,-1.5zM646.42,381.13l1.5,1.5l-1.5,1.5l-1.5,-1.5zM553.29,381.05l1.5,1.5l-1.5,1.5l-1.5,-1.5zM569.39,380.81l1.5,1.5l-1.5,1.5l-1.5,-1.5zM618.32,381.18l1.5,1.5l-1.5,1.5l-1.5,-1.5zM649.11,380.91l1.5,1.5l-1.5,1.5l-1.5,-1.5zM552.15,380.92l1.5,1.5l-1.5,1.5l-1.5,-1.5zM603.34,380.86l1.5,1.5l-1.5,1.5l-1.5,-1.5zM577.33,380.84l1.5,1.5l-1.5,1.5l-1.5,-1.5zM572.33,381.1l1.5,1.5l-1.5,1.5l-1.5,-1.5zM670.2,381.08l1.5,1.5l-1.5,1.5l-1.5,-1.5zM758.5,381.1l1.5,1.5l-1.5,1.5l-1.5,-1.5zM523.85,380.94l1.5,1.5l-1.5,1.5l-1.5,-1.5zM640.36,381.15l1.5,1.5l-1.5,1.5l-1.5,-1.5zM642.14,380.76l1.5,1.5l-1.5,1.5l-1.5,-1.5zM626.1,381.09l1.5,1.5l-1.5,1.5l-1.5,-1.5zM717.52,380.97l1.5,1.5l-1.5,1.5l-1.5,-1.5zM548.61,380.72l1.5,1.5l-1.5,1.5l-1.5,-1.5zM634.11,381.15l1.5,1.5l-1.5,1.5l-1.5,-1.5zM518.04,381.01l1.5,1.5l-1.5,1.5l-1.5,-1.5zM661.83,381.04l1.5,1.5l-1.5,1.5l-1.5,-1.5zM553.86,380.76l1.5,1.5l-1.5,1.5l-1.5,-1.5zM491.77,380.88l1.5,1.5l-1.5,1.5l-1.5,-1.5zM750.49,380.95l1.5,1.5l-1.5,1.5l-1.5,-1.5zM777.13,381.19l1.5,1.5l-1.5,1.5l-1.5,-1.5zM657.99,380.96l1.5,1.5l-1.5,1.5l-1.5,-1.5zM651.62,381.2l1.5,1.5l-1.5,1.5l-1.5,-1.5zM584.23,380.79l1.5,1.5l-1.5,1.5l-1.5,-1.5zM751.05,381.08l1.5,1.5l-1.5,1.5l-1.5,-1.5zM597.08,380.94l1.5,1.5l-1.5,1.5l-1.5,-1.5zM515.3,381.04l1.5,1.5l-1.5,1.5l-1.5,-1.5zM717.77,381l1.5,1.5l-1.5,1.5l-1.5,-1.5zM691.54,381.14l1.5,1.5l-1.5,1.5l-1.5,-1.5zM583.23,381.08l1.5,1.5l-1.5,1.5l-1.5,-1.5zM772.77,381.13l1.5,1.5l-1.5,1.5l-1.5,-1.5zM539.49,381.1l1.5,1.5l-1.5,1.5l-1.5,-1.5zM675.96,381.17l1.5,1.5l-1.5,1.5l-1.5,-1.5zM692.9,381.25l1.5,1.5l-1.5,1.5l-1.5,-1.5zM773.97,380.83l1.5,1.5l-1.5,1.5l-1.5,-1.5zM627.15,380.73l1.5,1.5l-1.5,1.5l-1.5,-1.5zM776.92,380.76l1.5,1.5l-1.5,1.5l-1.5,-1.5zM611.43,381.07l1.5,1.5l-1.5,1.5l-1.5,-1.5zM612.26,380.8l1.5,1.5l-1.5,1.5l-1.5,-1.5zM633.91,380.83l1.5,1.5l-1.5,1.5l-1.5,-1.5zM630.24,381.13l1.5,1.5l-1.5,1.5l-1.5,-1.5zM573.81,380.97l1.5,1.5l-1.5,1.5l-1.5,-1.5zM672.19,381.02l1.5,1.5l-1.5,1.5l-1.5,-1.5zM722.14,381.23l1.5,1.5l-1.5,1.5l-1.5,-1.5zM771.23,380.8l1.5,1.5l-1.5,1.5l-1.5,-1.5zM628.04,380.77l1.5,1.5l-1.5,1.5l-1.5,-1.5zM691.85,380.94l1.5,1.5l-1.5,1.5l-1.5,-1.5zM736.51,380.99l1.5,1.5l-1.5,1.5l-1.5,-1.5zM721.35,380.72l1.5,1.5l-1.5,1.5l-1.5,-1.5zM666.62,380.95l1.5,1.5l-1.5,1.5l-1.5,-1.5zM731.57,380.76l1.5,1.5l-1.5,1.5l-1.5,-1.5zM511.69,381.11l1.5,1.5l-1.5,1.5l-1.5,-1.5zM581.84,380.96l1.5,1.5l-1.5,1.5l-1.5,-1.5zM604.86,381.29l1.5,1.5l-1.5,1.5l-1.5,-1.5zM669.8,381.2l1.5,1.5l-1.5,1.5l-1.5,-1.5zM733.46,381.21l1.5,1.5l-1.5,1.5l-1.5,-1.5zM617.58,380.87l1.5,1.5l-1.5,1.5l-1.5,-1.5zM637.66,381.24l1.5,1.5l-1.5,1.5l-1.5,-1.5zM746.5,380.99l1.5,1.5l-1.5,1.5l-1.5,-1.5zM753.45,381.16l1.5,1.5l-1.5,1.5l-1.5,-1.5zM497.34,381.08l1.5,1.5l-1.5,1.5l-1.5,-1.5zM720.03,380.73l1.5,1.5l-1.5,1.5l-1.5,-1.5zM596.99,381.09l1.5,1.5l-1.5,1.5l-1.5,-1.5zM635.29,381.02l1.5,1.5l-1.5,1.5l-1.5,-1.5zM512.04,380.86l1.5,1.5l-1.5,1.5l-1.5,-1.5zM742.19,380.91l1.5,1.5l-1.5,1.5l-1.5,-1.5zM627.02,381.05l1.5,1.5l-1.5,1.5l-1.5,-1.5zM568.94,380.95l1.5,1.5l-1.5,1.5l-1.5,-1.5zM634.85,381.22l1.5,1.5l-1.5,1.5l-1.5,-1.5zM734.42,380.81l1.5,1.5l-1.5,1.5l-1.5,-1.5zM634.15,381.15l1.5,1.5l-1.5,1.5l-1.5,-1.5zM750.42,381.02l1.5,1.5l-1.5,1.5l-1.5,-1.5zM672.08,381.09l1.5,1.5l-1.5,1.5l-1.5,-1.5z" fill="#ffa500" fill-opacity="0.422" stroke="#ffa500" stroke-opacity="0.603" stroke-width="0.7"/>
<rect x="484.4" y="386.9" width="297.6" height="3" fill="#ffa500"/>
<rect x="484.4" y="393" width="297.6" height="3" fill="#ffa500"/>
<rect x="484.4" y="398.9" width="297.6" height="3" fill="#ffa500"/>
<rect x="484.4" y="403.9" width="297.6" height="3" fill="#ffa500"/>
<rect x="484.4" y="410" width="297.6" height="3" fill="#ffa500"/>
<rect x="484.4" y="415.9" width="297.6" height="3" fill="#ffa500"/>
<rect x="484.4" y="420.9" width="297.6" height="3" fill="#ffa500"/>
<rect x="484.4" y="426.8" width="297.6" height="3" fill="#ffa500"/>
<rect x="484.4" y="432.9" width="297.6" height="3" fill="#ffa500"/>
<rect x="484.4" y="438.8" width="297.6" height="3" fill="#ffa500"/>
<rect x="484.4" y="444.2" width="297.6" height="2.6" fill="#ffa500" fill-opacity="0.5499999999999999"/>
<path d="M682.72,444.24l1.5,1.5l-1.5,1.5l-1.5,-1.5zM776.71,444.29l1.5,1.5l-1.5,1.5l-1.5,-1.5zM522.22,444.13l1.5,1.5l-1.5,1.5l-1.5,-1.5zM600.07,443.87l1.5,1.5l-1.5,1.5l-1.5,-1.5zM514.89,444.25l1.5,1.5l-1.5,1.5l-1.5,-1.5zM749.57,444.02l1.5,1.5l-1.5,1.5l-1.5,-1.5zM632.5,443.82l1.5,1.5l-1.5,1.5l-1.5,-1.5zM759.5,444.15l1.5,1.5l-1.5,1.5l-1.5,-1.5zM534.84,444.04l1.5,1.5l-1.5,1.5l-1.5,-1.5zM779.77,443.86l1.5,1.5l-1.5,1.5l-1.5,-1.5zM595.71,443.92l1.5,1.5l-1.5,1.5l-1.5,-1.5zM595.28,443.77l1.5,1.5l-1.5,1.5l-1.5,-1.5zM671.1,443.85l1.5,1.5l-1.5,1.5l-1.5,-1.5zM686.54,443.98l1.5,1.5l-1.5,1.5l-1.5,-1.5zM734.55,444.15l1.5,1.5l-1.5,1.5l-1.5,-1.5zM739.11,443.79l1.5,1.5l-1.5,1.5l-1.5,-1.5zM720.28,444.16l1.5,1.5l-1.5,1.5l-1.5,-1.5zM571.69,443.7l1.5,1.5l-1.5,1.5l-1.5,-1.5zM514.73,444.16l1.5,1.5l-1.5,1.5l-1.5,-1.5zM771.57,443.74l1.5,1.5l-1.5,1.5l-1.5,-1.5zM557.29,443.94l1.5,1.5l-1.5,1.5l-1.5,-1.5zM505.57,444.08l1.5,1.5l-1.5,1.5l-1.5,-1.5zM738.97,444.21l1.5,1.5l-1.5,1.5l-1.5,-1.5zM538.21,444.25l1.5,1.5l-1.5,1.5l-1.5,-1.5zM717.61,443.79l1.5,1.5l-1.5,1.5l-1.5,-1.5zM737.65,444.26l1.5,1.5l-1.5,1.5l-1.5,-1.5zM745.28,444.15l1.5,1.5l-1.5,1.5l-1.5,-1.5zM726.83,444.02l1.5,1.5l-1.5,1.5l-1.5,-1.5zM487.97,444.11l1.5,1.5l-1.5,1.5l-1.5,-1.5zM633.07,443.79l1.5,1.5l-1.5,1.5l-1.5,-1.5zM524.84,444.23l1.5,1.5l-1.5,1.5l-1.5,-1.5zM752.68,443.73l1.5,1.5l-1.5,1.5l-1.5,-1.5zM490.94,444.12l1.5,1.5l-1.5,1.5l-1.5,-1.5zM571.6,444.22l1.5,1.5l-1.5,1.5l-1.5,-1.5zM622.04,444.13l1.5,1.5l-1.5,1.5l-1.5,-1.5zM499.19,444.17l1.5,1.5l-1.5,1.5l-1.5,-1.5zM544.37,443.96l1.5,1.5l-1.5,1.5l-1.5,-1.5zM629.05,443.89l1.5,1.5l-1.5,1.5l-1.5,-1.5zM557.3,443.97l1.5,1.5l-1.5,1.5l-1.5,-1.5zM500.65,443.79l1.5,1.5l-1.5,1.5l-1.5,-1.5zM523.9,444.21l1.5,1.5l-1.5,1.5l-1.5,-1.5zM577.57,444.29l1.5,1.5l-1.5,1.5l-1.5,-1.5zM751.57,443.8l1.5,1.5l-1.5,1.5l-1.5,-1.5zM738.41,444.29l1.5,1.5l-1.5,1.5l-1.5,-1.5zM616.26,443.99l1.5,1.5l-1.5,1.5l-1.5,-1.5zM684.7,443.99l1.5,1.5l-1.5,1.5l-1.5,-1.5zM563.13,444.14l1.5,1.5l-1.5,1.5l-1.5,-1.5zM550.36,443.93l1.5,1.5l-1.5,1.5l-1.5,-1.5zM492.09,443.89l1.5,1.5l-1.5,1.5l-1.5,-1.5zM723.7,443.78l1.5,1.5l-1.5,1.5l-1.5,-1.5zM541.53,443.94l1.5,1.5l-1.5,1.5l-1.5,-1.5zM573.36,443.7l1.5,1.5l-1.5,1.5l-1.5,-1.5zM501.47,443.82l1.5,1.5l-1.5,1.5l-1.5,-1.5zM719.75,444.17l1.5,1.5l-1.5,1.5l-1.5,-1.5zM723.73,444.12l1.5,1.5l-1.5,1.5l-1.5,-1.5zM780.45,443.85l1.5,1.5l-1.5,1.5l-1.5,-1.5zM694.61,443.97l1.5,1.5l-1.5,1.5l-1.5,-1.5zM769.33,443.97l1.5,1.5l-1.5,1.5l-1.5,-1.5zM699.35,444.17l1.5,1.5l-1.5,1.5l-1.5,-1.5zM770.32,444.16l1.5,1.5l-1.5,1.5l-1.5,-1.5zM582.21,444.09l1.5,1.5l-1.5,1.5l-1.5,-1.5zM720.89,444.26l1.5,1.5l-1.5,1.5l-1.5,-1.5zM558.38,444.14l1.5,1.5l-1.5,1.5l-1.5,-1.5zM698.64,443.79l1.5,1.5l-1.5,1.5l-1.5,-1.5zM520.6,444.04l1.5,1.5l-1.5,1.5l-1.5,-1.5zM662.34,443.9l1.5,1.5l-1.5,1.5l-1.5,-1.5zM668.18,443.79l1.5,1.5l-1.5,1.5l-1.5,-1.5zM654.64,444.02l1.5,1.5l-1.5,1.5l-1.5,-1.5zM731.12,444.13l1.5,1.5l-1.5,1.5l-1.5,-1.5zM508.91,444.03l1.5,1.5l-1.5,1.5l-1.5,-1.5zM522.91,444.02l1.5,1.5l-1.5,1.5l-1.5,-1.5zM685.94,444.12l1.5,1.5l-1.5,1.5l-1.5,-1.5zM488.12,444.02l1.5,1.5l-1.5,1.5l-1.5,-1.5zM537.04,444l1.5,1.5l-1.5,1.5l-1.5,-1.5zM631.13,443.99l1.5,1.5l-1.5,1.5l-1.5,-1.5zM711.12,443.88l1.5,1.5l-1.5,1.5l-1.5,-1.5zM626.24,443.85l1.5,1.5l-1.5,1.5l-1.5,-1.5zM543.89,444.08l1.5,1.5l-1.5,1.5l-1.5,-1.5zM532.22,444.18l1.5,1.5l-1.5,1.5l-1.5,-1.5zM596.11,443.77l1.5,1.5l-1.5,1.5l-1.5,-1.5zM718.04,443.71l1.5,1.5l-1.5,1.5l-1.5,-1.5zM572.68,444.09l1.5,1.5l-1.5,1.5l-1.5,-1.5zM490.08,444.12l1.5,1.5l-1.5,1.5l-1.5,-1.5zM651.61,444.29l1.5,1.5l-1.5,1.5l-1.5,-1.5zM577.79,444.2l1.5,1.5l-1.5,1.5l-1.5,-1.5zM775.23,444l1.5,1.5l-1.5,1.5l-1.5,-1.5zM507.97,443.9l1.5,1.5l-1.5,1.5l-1.5,-1.5zM725.95,443.7l1.5,1.5l-1.5,1.5l-1.5,-1.5zM672.61,444.01l1.5,1.5l-1.5,1.5l-1.5,-1.5zM704.19,443.92l1.5,1.5l-1.5,1.5l-1.5,-1.5zM762.04,443.77l1.5,1.5l-1.5,1.5l-1.5,-1.5zM608.53,443.88l1.5,1.5l-1.5,1.5l-1.5,-1.5zM650.71,443.83l1.5,1.5l-1.5,1.5l-1.5,-1.5zM599.8,443.97l1.5,1.5l-1.5,1.5l-1.5,-1.5zM758.19,443.72l1.5,1.5l-1.5,1.5l-1.5,-1.5zM569.26,443.79l1.5,1.5l-1.5,1.5l-1.5,-1.5zM696.77,444.16l1.5,1.5l-1.5,1.5l-1.5,-1.5zM490.22,444.17l1.5,1.5l-1.5,1.5l-1.5,-1.5zM745.83,443.98l1.5,1.5l-1.5,1.5l-1.5,-1.5zM661.44,444.18l1.5,1.5l-1.5,1.5l-1.5,-1.5zM759.48,443.84l1.5,1.5l-1.5,1.5l-1.5,-1.5zM694.68,443.75l1.5,1.5l-1.5,1.5l-1.5,-1.5zM593.11,444.25l1.5,1.5l-1.5,1.5l-1.5,-1.5zM671.03,444.02l1.5,1.5l-1.5,1.5l-1.5,-1.5zM617.15,443.97l1.5,1.5l-1.5,1.5l-1.5,-1.5zM494.58,444.04l1.5,1.5l-1.5,1.5l-1.5,-1.5zM763.58,443.77l1.5,1.5l-1.5,1.5l-1.5,-1.5zM495.64,444.07l1.5,1.5l-1.5,1.5l-1.5,-1.5zM728.57,443.96l1.5,1.5l-1.5,1.5l-1.5,-1.5zM510.18,444.09l1.5,1.5l-1.5,1.5l-1.5,-1.5zM679.53,443.84l1.5,1.5l-1.5,1.5l-1.5,-1.5zM725.96,444.03l1.5,1.5l-1.5,1.5l-1.5,-1.5zM717.84,443.84l1.5,1.5l-1.5,1.5l-1.5,-1.5zM592.48,444.1l1.5,1.5l-1.5,1.5l-1.5,-1.5zM682.97,444.21l1.5,1.5l-1.5,1.5l-1.5,-1.5zM764.23,444.13l1.5,1.5l-1.5,1.5l-1.5,-1.5zM488.3,443.98l1.5,1.5l-1.5,1.5l-1.5,-1.5zM682.33,444.17l1.5,1.5l-1.5,1.5l-1.5,-1.5zM578.29,443.74l1.5,1.5l-1.5,1.5l-1.5,-1.5zM657,443.82l1.5,1.5l-1.5,1.5l-1.5,-1.5zM638.07,443.84l1.5,1.5l-1.5,1.5l-1.5,-1.5zM745.12,443.72l1.5,1.5l-1.5,1.5l-1.5,-1.5zM650.39,444.23l1.5,1.5l-1.5,1.5l-1.5,-1.5zM675.34,443.79l1.5,1.5l-1.5,1.5l-1.5,-1.5zM647.29,444.2l1.5,1.5l-1.5,1.5l-1.5,-1.5zM672.02,444.24l1.5,1.5l-1.5,1.5l-1.5,-1.5zM726.37,443.93l1.5,1.5l-1.5,1.5l-1.5,-1.5zM521.94,444.11l1.5,1.5l-1.5,1.5l-1.5,-1.5zM627.5,444.19l1.5,1.5l-1.5,1.5l-1.5,-1.5zM616.9,444.13l1.5,1.5l-1.5,1.5l-1.5,-1.5zM527.93,444.15l1.5,1.5l-1.5,1.5l-1.5,-1.5zM741.2,444.19l1.5,1.5l-1.5,1.5l-1.5,-1.5zM714.6,444.1l1.5,1.5l-1.5,1.5l-1.5,-1.5zM535.86,443.9l1.5,1.5l-1.5,1.5l-1.5,-1.5zM568.34,443.88l1.5,1.5l-1.5,1.5l-1.5,-1.5zM658.21,443.92l1.5,1.5l-1.5,1.5l-1.5,-1.5zM680.05,444.23l1.5,1.5l-1.5,1.5l-1.5,-1.5zM779.01,443.7l1.5,1.5l-1.5,1.5l-1.5,-1.5zM665.62,444.05l1.5,1.5l-1.5,1.5l-1.5,-1.5zM613.18,444.14l1.5,1.5l-1.5,1.5l-1.5,-1.5zM745.62,443.85l1.5,1.5l-1.5,1.5l-1.5,-1.5zM673.33,443.79l1.5,1.5l-1.5,1.5l-1.5,-1.5zM615.54,443.91l1.5,1.5l-1.5,1.5l-1.5,-1.5zM727.79,444.25l1.5,1.5l-1.5,1.5l-1.5,-1.5zM742.67,444.01l1.5,1.5l-1.5,1.5l-1.5,-1.5zM695.32,444.09l1.5,1.5l-1.5,1.5l-1.5,-1.5zM645.38,443.78l1.5,1.5l-1.5,1.5l-1.5,-1.5zM564.96,444.27l1.5,1.5l-1.5,1.5l-1.5,-1.5z" fill="#ffa500" fill-opacity="0.374" stroke="#ffa500" stroke-opacity="0.535" stroke-width="0.7"/>
<rect x="484.4" y="450.2" width="297.6" height="2.6" fill="#ffa500" fill-opacity="0.22000000000000003"/>
<path d="M661.34,449.77l1.5,1.5l-1.5,1.5l-1.5,-1.5zM590.59,449.78l1.5,1.5l-1.5,1.5l-1.5,-1.5zM522.44,449.93l1.5,1.5l-1.5,1.5l-1.5,-1.5zM571.67,449.71l1.5,1.5l-1.5,1.5l-1.5,-1.5zM631.87,450.26l1.5,1.5l-1.5,1.5l-1.5,-1.5zM622.13,449.94l1.5,1.5l-1.5,1.5l-1.5,-1.5zM598.18,449.86l1.5,1.5l-1.5,1.5l-1.5,-1.5zM582.08,449.82l1.5,1.5l-1.5,1.5l-1.5,-1.5zM612.28,450.25l1.5,1.5l-1.5,1.5l-1.5,-1.5zM593.51,450.23l1.5,1.5l-1.5,1.5l-1.5,-1.5zM632.95,450.08l1.5,1.5l-1.5,1.5l-1.5,-1.5zM627.86,449.94l1.5,1.5l-1.5,1.5l-1.5,-1.5zM747.07,450.05l1.5,1.5l-1.5,1.5l-1.5,-1.5zM541.68,449.88l1.5,1.5l-1.5,1.5l-1.5,-1.5zM601.59,450.04l1.5,1.5l-1.5,1.5l-1.5,-1.5zM596.89,449.86l1.5,1.5l-1.5,1.5l-1.5,-1.5zM575.27,450.3l1.5,1.5l-1.5,1.5l-1.5,-1.5zM703.98,450.22l1.5,1.5l-1.5,1.5l-1.5,-1.5zM749.97,449.78l1.5,1.5l-1.5,1.5l-1.5,-1.5zM643.87,450.13l1.5,1.5l-1.5,1.5l-1.5,-1.5zM629.35,450.02l1.5,1.5l-1.5,1.5l-1.5,-1.5zM672.4,450.08l1.5,1.5l-1.5,1.5l-1.5,-1.5zM537.4,449.73l1.5,1.5l-1.5,1.5l-1.5,-1.5zM565.97,449.72l1.5,1.5l-1.5,1.5l-1.5,-1.5zM576.86,449.72l1.5,1.5l-1.5,1.5l-1.5,-1.5zM516.43,450.09l1.5,1.5l-1.5,1.5l-1.5,-1.5zM543.08,450.13l1.5,1.5l-1.5,1.5l-1.5,-1.5zM609.31,450.2l1.5,1.5l-1.5,1.5l-1.5,-1.5zM650.3,450.22l1.5,1.5l-1.5,1.5l-1.5,-1.5zM611.03,449.95l1.5,1.5l-1.5,1.5l-1.5,-1.5zM759.89,450.11l1.5,1.5l-1.5,1.5l-1.5,-1.5zM611.99,450.22l1.5,1.5l-1.5,1.5l-1.5,-1.5zM700.81,450.09l1.5,1.5l-1.5,1.5l-1.5,-1.5zM493.53,450.23l1.5,1.5l-1.5,1.5l-1.5,-1.5zM517.02,449.71l1.5,1.5l-1.5,1.5l-1.5,-1.5zM585.58,449.82l1.5,1.5l-1.5,1.5l-1.5,-1.5zM556.69,449.99l1.5,1.5l-1.5,1.5l-1.5,-1.5zM634.22,450.11l1.5,1.5l-1.5,1.5l-1.5,-1.5zM741.26,450.12l1.5,1.5l-1.5,1.5l-1.5,-1.5zM741.45,449.96l1.5,1.5l-1.5,1.5l-1.5,-1.5zM529.15,450.13l1.5,1.5l-1.5,1.5l-1.5,-1.5zM779.59,449.8l1.5,1.5l-1.5,1.5l-1.5,-1.5zM666.84,449.93l1.5,1.5l-1.5,1.5l-1.5,-1.5zM776.03,449.72l1.5,1.5l-1.5,1.5l-1.5,-1.5zM626.73,449.92l1.5,1.5l-1.5,1.5l-1.5,-1.5zM594.55,450.15l1.5,1.5l-1.5,1.5l-1.5,-1.5zM485.56,449.87l1.5,1.5l-1.5,1.5l-1.5,-1.5zM771.27,449.98l1.5,1.5l-1.5,1.5l-1.5,-1.5zM489.45,450.07l1.5,1.5l-1.5,1.5l-1.5,-1.5zM679.56,450.26l1.5,1.5l-1.5,1.5l-1.5,-1.5zM746.92,450.27l1.5,1.5l-1.5,1.5l-1.5,-1.5zM563.65,449.89l1.5,1.5l-1.5,1.5l-1.5,-1.5zM691.34,449.91l1.5,1.5l-1.5,1.5l-1.5,-1.5zM596.46,449.72l1.5,1.5l-1.5,1.5l-1.5,-1.5zM544.04,449.78l1.5,1.5l-1.5,1.5l-1.5,-1.5zM595.55,450.12l1.5,1.5l-1.5,1.5l-1.5,-1.5zM542.67,449.87l1.5,1.5l-1.5,1.5l-1.5,-1.5zM509.79,449.94l1.5,1.5l-1.5,1.5l-1.5,-1.5zM659.17,450.06l1.5,1.5l-1.5,1.5l-1.5,-1.5zM676.51,450.02l1.5,1.5l-1.5,1.5l-1.5,-1.5zM691.1,450.18l1.5,1.5l-1.5,1.5l-1.5,-1.5zM733.69,449.7l1.5,1.5l-1.5,1.5l-1.5,-1.5zM760.41,449.99l1.5,1.5l-1.5,1.5l-1.5,-1.5zM778.89,450.16l1.5,1.5l-1.5,1.5l-1.5,-1.5zM621.99,449.73l1.5,1.5l-1.5,1.5l-1.5,-1.5zM514.1,450.17l1.5,1.5l-1.5,1.5l-1.5,-1.5zM487.39,449.73l1.5,1.5l-1.5,1.5l-1.5,-1.5zM691.89,450.06l1.5,1.5l-1.5,1.5l-1.5,-1.5zM685.27,449.74l1.5,1.5l-1.5,1.5l-1.5,-1.5zM768.69,450.15l1.5,1.5l-1.5,1.5l-1.5,-1.5zM488.86,450.04l1.5,1.5l-1.5,1.5l-1.5,-1.5zM581.88,449.84l1.5,1.5l-1.5,1.5l-1.5,-1.5zM666.88,450.29l1.5,1.5l-1.5,1.5l-1.5,-1.5zM494.71,450.18l1.5,1.5l-1.5,1.5l-1.5,-1.5zM760.91,449.75l1.5,1.5l-1.5,1.5l-1.5,-1.5zM750.64,449.71l1.5,1.5l-1.5,1.5l-1.5,-1.5zM580.56,449.71l1.5,1.5l-1.5,1.5l-1.5,-1.5zM537.9,449.8l1.5,1.5l-1.5,1.5l-1.5,-1.5zM651.43,449.96l1.5,1.5l-1.5,1.5l-1.5,-1.5zM771.43,450.15l1.5,1.5l-1.5,1.5l-1.5,-1.5zM507.49,449.74l1.5,1.5l-1.5,1.5l-1.5,-1.5zM567.85,450.19l1.5,1.5l-1.5,1.5l-1.5,-1.5zM722.44,450.2l1.5,1.5l-1.5,1.5l-1.5,-1.5zM741.38,450.14l1.5,1.5l-1.5,1.5l-1.5,-1.5zM650.72,450.2l1.5,1.5l-1.5,1.5l-1.5,-1.5zM728.76,450.19l1.5,1.5l-1.5,1.5l-1.5,-1.5zM745.37,450.02l1.5,1.5l-1.5,1.5l-1.5,-1.5zM511.05,450.07l1.5,1.5l-1.5,1.5l-1.5,-1.5zM692.52,450.27l1.5,1.5l-1.5,1.5l-1.5,-1.5zM706.21,450.24l1.5,1.5l-1.5,1.5l-1.5,-1.5zM755.18,449.9l1.5,1.5l-1.5,1.5l-1.5,-1.5zM759.12,450.04l1.5,1.5l-1.5,1.5l-1.5,-1.5zM613.54,449.97l1.5,1.5l-1.5,1.5l-1.5,-1.5zM632.16,449.95l1.5,1.5l-1.5,1.5l-1.5,-1.5zM698.81,449.85l1.5,1.5l-1.5,1.5l-1.5,-1.5z" fill="#ffa500" fill-opacity="0.280" stroke="#ffa500" stroke-opacity="0.400" stroke-width="0.7"/>
<path d="M614.27,455.89l1.5,1.5l-1.5,1.5l-1.5,-1.5zM772.26,455.94l1.5,1.5l-1.5,1.5l-1.5,-1.5zM649.48,455.72l1.5,1.5l-1.5,1.5l-1.5,-1.5zM680.55,456.05l1.5,1.5l-1.5,1.5l-1.5,-1.5zM490.61,455.73l1.5,1.5l-1.5,1.5l-1.5,-1.5zM569.23,455.97l1.5,1.5l-1.5,1.5l-1.5,-1.5zM682.56,455.5l1.5,1.5l-1.5,1.5l-1.5,-1.5zM750.54,455.74l1.5,1.5l-1.5,1.5l-1.5,-1.5zM526.4,455.56l1.5,1.5l-1.5,1.5l-1.5,-1.5zM506.48,455.65l1.5,1.5l-1.5,1.5l-1.5,-1.5zM509.67,455.92l1.5,1.5l-1.5,1.5l-1.5,-1.5z" fill="#ffa500" fill-opacity="0.179" stroke="#ffa500" stroke-opacity="0.256" stroke-width="0.7"/>
<rect x="549.3" y="363.4" width="1" height="95.9" fill="#ffffff" fill-opacity="0.3"/>
<rect x="628" y="363.4" width="1" height="95.9" fill="#ffffff" fill-opacity="0.3"/>
<rect x="706.8" y="363.4" width="1" height="95.9" fill="#ffffff" fill-opacity="0.3"/>
<rect x="482" y="434" width="5" height="3" fill="#ffa500"/>
<rect x="780" y="434" width="8" height="3" fill="#ffa500"/>
<rect x="547.8" y="434" width="4" height="3" fill="#ffa500"/>
<rect x="626.5" y="434" width="4" height="3" fill="#ffa500"/>
<rect x="705.3" y="434" width="4" height="3" fill="#ffa500"/>
</g>
<g clip-path="url(#c30)">
<rect x="87.9" y="566" width="2.8" height="15" fill="#0000ff"/>
<ellipse cx="88.9" cy="582.6" rx="1.9" ry="3" fill="#0000ff"/>
<path d="M89,559.06 L90.5,559.14 L92,559.07 L93.5,558.37 L95,558.33 L96.5,558.97 L98,559.59 L99.5,559.84 L101,560.52 L101,566.35 L99.5,565.9 L98,565.86 L96.5,566.13 L95,566.23 L93.5,565.9 L92,566.05 L90.5,566.32 L89,566Z" fill="#0000ff" fill-opacity="0.35"/>
<path d="M87.7,561.75 L89.21,561.2 L90.71,561.19 L92.22,562.21 L93.73,561.98 L95.24,561.81 L96.74,562.19 L98.25,561.37 L99.76,561.44 L101.26,561.81 L102.77,562.86 L104.28,563.64 L105.78,563.32 L107.29,563.53 L108.8,564.15 L110.31,563.98 L111.81,564.01 L113.32,564.68 L114.83,564.93 L116.33,564.15 L117.84,564.78 L119.35,564.91 L120.85,564.91 L122.36,565.47 L123.87,565.22 L125.38,565.09 L126.88,564.85 L128.39,565.05 L129.9,564.91 L131.4,565.59 L132.91,565.58 L134.42,564.66 L135.93,565.48 L137.43,564.62 L138.94,565.58 L140.45,565.07 L141.95,565.29 L143.46,565.27 L144.97,565.07 L146.47,565.49 L147.98,565.81 L149.49,565.47 L151,565.15 L152.5,565.3 L154.01,566.04 L155.52,565.77 L157.02,565.14 L158.53,566.1 L160.04,565.97 L161.54,565.87 L163.05,565.49 L164.56,565.76 L166.07,565.44 L167.57,565.86 L169.08,566.22 L170.59,565.53 L172.09,565.73 L173.6,565.35 L175.11,566.35 L176.62,566.08 L178.12,565.54 L179.63,565.66 L181.14,566.2 L182.64,566.23 L184.15,566.27 L185.66,565.61 L187.16,566.14 L188.67,566.69 L190.18,565.83 L191.69,566.34 L193.19,566.71 L194.7,566.37 L196.21,566.47 L197.71,565.76 L199.22,566.45 L200.73,566.84 L202.23,566.75 L203.74,566.28 L205.25,565.86 L206.76,566.06 L208.26,566.54 L209.77,565.75 L211.28,566.87 L212.78,565.74 L214.29,565.89 L215.8,566.89 L217.31,566.02 L218.81,566.87 L220.32,566.85 L221.83,565.81 L223.33,566.73 L224.84,566.2 L226.35,565.86 L227.85,566.49 L229.36,566.82 L230.87,566.59 L232.38,566.32 L233.88,566.76 L235.39,566.85 L236.9,566.24 L238.4,566.71 L239.91,566.03 L241.42,566.75 L242.92,566.47 L244.43,566.91 L245.94,566.44 L247.45,566.71 L248.95,566.79 L250.46,566.94 L251.97,566.12 L253.47,566.52 L254.98,565.9 L256.49,566.32 L257.99,565.7 L259.5,566.22 L261.01,566.73 L262.52,566.07 L264.02,565.74 L265.53,565.87 L267.04,566.19 L268.54,566.28 L270.05,566.52 L271.56,565.93 L273.07,565.82 L274.57,565.39 L276.08,566.35 L277.59,566.33 L279.09,566.24 L280.6,565.61 L282.11,565.52 L283.61,565.14 L285.12,565.05 L286.63,565.61 L288.14,566 L289.64,564.93 L291.15,565.07 L292.66,565.61 L294.16,564.86 L295.67,565.08 L297.18,565.05 L298.68,564.74 L300.19,565.58 L301.7,565.34 L303.21,564.79 L304.71,564.75 L306.22,565.7 L307.73,564.7 L309.23,565.51 L310.74,564.68 L312.25,564.73 L313.76,565.58 L315.26,565.19 L316.77,565.24 L318.28,564.77 L319.78,564.95 L321.29,564.6 L322.8,564.26 L324.3,565.38 L325.81,564.65 L327.32,565.08 L328.83,564.46 L330.33,564.87 L331.84,564.09 L333.35,564.46 L334.85,564.19 L336.36,564.32 L337.87,564.1 L339.37,564.42 L340.88,563.96 L342.39,563.98 L343.9,564.34 L345.4,563.88 L346.91,564.31 L348.42,564.37 L349.92,564.63 L351.43,564.61 L352.94,564.35 L354.45,564.25 L355.95,564.07 L357.46,564.24 L358.97,564.33 L360.47,564.32 L361.98,564.48 L363.49,563.4 L364.99,563.23 L366.5,563.35 L368.01,562.89 L369.52,563.08 L371.02,562.83 L372.53,563.4 L374.04,562.48 L375.54,562.8 L377.05,561.87 L378.56,561.76 L380.06,561.75 L381.57,562.09 L383.08,561.85 L384.59,560.7 L386.09,561.28 L387.6,561.55 L387.6,571.29 L386.09,571.63 L384.59,570.83 L383.08,570.92 L381.57,572 L380.06,572.03 L378.56,571.71 L377.05,572.03 L375.54,572.23 L374.04,572.31 L372.53,571.95 L371.02,572 L369.52,572.95 L368.01,573.2 L366.5,572.81 L364.99,572.23 L363.49,572.65 L361.98,573.44 L360.47,572.84 L358.97,572.75 L357.46,572.75 L355.95,572.85 L354.45,573.65 L352.94,573.52 L351.43,573.62 L349.92,572.85 L348.42,572.96 L346.91,573.19 L345.4,573.26 L343.9,573.66 L342.39,573.23 L340.88,573.27 L339.37,573.29 L337.87,573.78 L336.36,572.68 L334.85,573.36 L333.35,573.49 L331.84,573.5 L330.33,573.42 L328.83,573.19 L327.32,573.65 L325.81,573.87 L324.3,573.81 L322.8,573.74 L321.29,573.21 L319.78,573.46 L318.28,572.96 L316.77,573.67 L315.26,573.92 L313.76,573.22 L312.25,573.51 L310.74,573.53 L309.23,574.1 L307.73,574.02 L306.22,573.06 L304.71,573.61 L303.21,573.48 L301.7,573.32 L300.19,574.06 L298.68,573.04 L297.18,573.61 L295.67,573.25 L294.16,573.54 L292.66,573.63 L291.15,573.46 L289.64,573.77 L288.14,573.9 L286.63,573.73 L285.12,573.87 L283.61,574.39 L282.11,574.04 L280.6,573.42 L279.09,573.92 L277.59,574.27 L276.08,573.64 L274.57,573.92 L273.07,573.75 L271.56,573.76 L270.05,574.53 L268.54,573.88 L267.04,574.66 L265.53,573.58 L264.02,573.75 L262.52,573.91 L261.01,573.76 L259.5,573.7 L257.99,574.09 L256.49,573.76 L254.98,574.77 L253.47,574.26 L251.97,574.65 L250.46,574.38 L248.95,574.31 L247.45,574.89 L245.94,573.97 L244.43,574.85 L242.92,574.99 L241.42,574.37 L239.91,573.96 L238.4,574.02 L236.9,574.91 L235.39,574.34 L233.88,574.4 L232.38,574.44 L230.87,574.92 L229.36,574.98 L227.85,574.24 L226.35,574.61 L224.84,574.12 L223.33,574.27 L221.83,574.38 L220.32,573.9 L218.81,574.96 L217.31,574.7 L215.8,574.65 L214.29,574.78 L212.78,573.93 L211.28,574.82 L209.77,574.89 L208.26,574.88 L206.76,574.87 L205.25,574.6 L203.74,573.96 L202.23,574.5 L200.73,573.92 L199.22,573.87 L197.71,574.69 L196.21,574.11 L194.7,574.31 L193.19,574.27 L191.69,574.23 L190.18,574.81 L188.67,573.96 L187.16,574.21 L185.66,573.89 L184.15,573.86 L182.64,574.48 L181.14,574.04 L179.63,574.29 L178.12,573.75 L176.62,573.61 L175.11,574.48 L173.6,573.57 L172.09,574.37 L170.59,573.57 L169.08,574 L167.57,573.59 L166.07,573.42 L164.56,574.37 L163.05,573.28 L161.54,574.29 L160.04,574.17 L158.53,573.73 L157.02,573.79 L155.52,573.19 L154.01,573.93 L152.5,573.28 L151,573.66 L149.49,573.92 L147.98,573.84 L146.47,574.09 L144.97,573.42 L143.46,573.41 L141.95,573.2 L140.45,573.46 L138.94,573.46 L137.43,573.2 L135.93,572.9 L134.42,573.59 L132.91,573.48 L131.4,572.78 L129.9,573.02 L128.39,572.83 L126.88,573.09 L125.38,573.48 L123.87,572.53 L122.36,573.43 L120.85,573 L119.35,572.98 L117.84,573.01 L116.33,572.57 L114.83,572.47 L113.32,573.27 L111.81,572.8 L110.31,572.23 L108.8,572.29 L107.29,572.56 L105.78,572.14 L104.28,573.05 L102.77,572.21 L101.26,571.62 L99.76,571.95 L98.25,571.78 L96.74,571.97 L95.24,571.82 L93.73,571.46 L92.22,572.21 L90.71,571.8 L89.21,571.27 L87.7,572.11Z" fill="#0000ff" fill-opacity="0.35"/>
<path d="M88.5,562.03 L90.01,562.24 L91.51,562.06 L93.02,562.18 L94.53,562.22 L96.03,562.74 L97.54,562.39 L99.05,562.77 L100.55,562.49 L102.06,563.02 L103.57,563.4 L105.07,564.42 L106.58,564.42 L108.09,564.46 L109.59,564.6 L111.1,564.69 L112.61,564.67 L114.11,565.12 L115.62,565.65 L117.12,565.67 L118.63,565.41 L120.14,565.87 L121.64,565.42 L123.15,566.05 L124.66,565.79 L126.16,565.75 L127.67,565.81 L129.18,565.48 L130.68,566.07 L132.19,565.62 L133.7,565.58 L135.2,565.97 L136.71,565.62 L138.22,565.99 L139.72,566 L141.23,565.75 L142.74,565.86 L144.24,566.44 L145.75,565.75 L147.26,566.13 L148.76,565.78 L150.27,566.54 L151.78,566.16 L153.28,566.02 L154.79,566.12 L156.3,566.63 L157.8,566.46 L159.31,566.45 L160.82,566.29 L162.32,566.33 L163.83,566.18 L165.33,566.15 L166.84,566.88 L168.35,566.64 L169.85,566.53 L171.36,566.78 L172.87,566.74 L174.37,566.48 L175.88,566.8 L177.39,566.52 L178.89,567.07 L180.4,566.45 L181.91,567.08 L183.41,566.74 L184.92,566.51 L186.43,567.17 L187.93,566.69 L189.44,566.92 L190.95,567.02 L192.45,567.36 L193.96,567.26 L195.47,566.75 L196.97,566.98 L198.48,566.87 L199.99,567.31 L201.49,567.09 L203,567.08 L204.51,567.38 L206.01,566.89 L207.52,566.82 L209.03,566.99 L210.53,567.3 L212.04,567.31 L213.54,567.48 L215.05,566.97 L216.56,567.45 L218.06,567.37 L219.57,566.9 L221.08,567.11 L222.58,567.36 L224.09,566.86 L225.6,567.22 L227.1,566.85 L228.61,567.1 L230.12,567.18 L231.62,567.19 L233.13,567.22 L234.64,566.83 L236.14,567.37 L237.65,567.56 L239.16,566.86 L240.66,567.05 L242.17,567.09 L243.68,567.56 L245.18,567.22 L246.69,567.28 L248.2,567.27 L249.7,566.99 L251.21,566.81 L252.72,567.16 L254.22,567.05 L255.73,567.3 L257.24,566.83 L258.74,566.88 L260.25,566.83 L261.76,566.65 L263.26,567.17 L264.77,566.55 L266.27,566.53 L267.78,566.99 L269.29,566.44 L270.79,566.61 L272.3,566.99 L273.81,566.28 L275.31,566.41 L276.82,566.67 L278.33,566.33 L279.83,566.57 L281.34,566.59 L282.85,566.18 L284.35,566.59 L285.86,566.03 L287.37,566.25 L288.87,566.64 L290.38,566.17 L291.89,566.15 L293.39,566.09 L294.9,566.41 L296.41,566.38 L297.91,566.4 L299.42,565.87 L300.93,566.35 L302.43,565.92 L303.94,565.97 L305.45,565.77 L306.95,565.79 L308.46,565.68 L309.97,565.69 L311.47,565.99 L312.98,565.82 L314.48,565.74 L315.99,565.89 L317.5,565.4 L319,566.11 L320.51,565.38 L322.02,565.55 L323.52,565.98 L325.03,565.65 L326.54,565.47 L328.04,565.63 L329.55,565.27 L331.06,565.72 L332.56,565.19 L334.07,565.71 L335.58,565.03 L337.08,564.98 L338.59,565.33 L340.1,565.23 L341.6,565.28 L343.11,565.09 L344.62,565.3 L346.12,565 L347.63,564.77 L349.14,564.84 L350.64,565.09 L352.15,564.82 L353.66,564.68 L355.16,565.17 L356.67,564.76 L358.18,565.25 L359.68,565.18 L361.19,564.99 L362.69,564.45 L364.2,564.4 L365.71,564.46 L367.21,564.09 L368.72,563.9 L370.23,564.21 L371.73,563.45 L373.24,563.77 L374.75,563.82 L376.25,563.37 L377.76,563.1 L379.27,563.15 L380.77,562.51 L382.28,562.01 L383.79,562.28 L385.29,562.13 L386.8,561.72 L386.8,570.19 L385.29,570.04 L383.79,570.11 L382.28,570.93 L380.77,571.07 L379.27,571.1 L377.76,571.33 L376.25,571.06 L374.75,571.58 L373.24,571.33 L371.73,571.33 L370.23,572.05 L368.72,571.89 L367.21,572.06 L365.71,572.28 L364.2,572.1 L362.69,571.99 L361.19,572.1 L359.68,572.56 L358.18,572.04 L356.67,572.48 L355.16,572.57 L353.66,572.55 L352.15,572.03 L350.64,571.99 L349.14,572.43 L347.63,572.66 L346.12,572.72 L344.62,572.15 L343.11,572.37 L341.6,572.54 L340.1,572.63 L338.59,572.13 L337.08,572.07 L335.58,572.75 L334.07,572.34 L332.56,572.15 L331.06,572.36 L329.55,572.39 L328.04,572.6 L326.54,572.17 L325.03,572.25 L323.52,572.9 L322.02,572.51 L320.51,572.87 L319,572.89 L317.5,572.53 L315.99,572.76 L314.48,572.51 L312.98,572.74 L311.47,572.6 L309.97,572.48 L308.46,572.35 L306.95,572.83 L305.45,572.98 L303.94,572.79 L302.43,573.14 L300.93,572.81 L299.42,573.16 L297.91,572.62 L296.41,572.85 L294.9,572.67 L293.39,573.07 L291.89,572.59 L290.38,572.74 L288.87,572.76 L287.37,572.68 L285.86,572.93 L284.35,572.96 L282.85,573.29 L281.34,573.35 L279.83,573.22 L278.33,573.31 L276.82,573.26 L275.31,573.11 L273.81,573.34 L272.3,573.6 L270.79,573.06 L269.29,573.01 L267.78,573.38 L266.27,573.49 L264.77,573.06 L263.26,573.68 L261.76,573.37 L260.25,573.29 L258.74,573.62 L257.24,573.49 L255.73,573.28 L254.22,573.55 L252.72,573.93 L251.21,573.54 L249.7,573.33 L248.2,573.71 L246.69,573.84 L245.18,573.83 L243.68,573.56 L242.17,573.57 L240.66,574 L239.16,573.34 L237.65,573.47 L236.14,573.96 L234.64,573.98 L233.13,573.54 L231.62,573.68 L230.12,573.58 L228.61,573.6 L227.1,573.5 L225.6,573.54 L224.09,573.24 L222.58,573.33 L221.08,573.91 L219.57,573.78 L218.06,573.74 L216.56,573.72 L215.05,573.83 L213.54,573.93 L212.04,574 L210.53,573.3 L209.03,573.53 L207.52,573.99 L206.01,573.47 L204.51,573.77 L203,573.57 L201.49,573.29 L199.99,573.65 L198.48,573.47 L196.97,573.59 L195.47,573.65 L193.96,573.62 L192.45,573.7 L190.95,573.68 L189.44,573.75 L187.93,573.44 L186.43,573.25 L184.92,573.05 L183.41,573.19 L181.91,573.57 L180.4,573.46 L178.89,572.99 L177.39,573.1 L175.88,573.28 L174.37,573.02 L172.87,573.48 L171.36,573.51 L169.85,572.81 L168.35,572.98 L166.84,573.18 L165.33,573.34 L163.83,573.24 L162.32,572.82 L160.82,573.11 L159.31,572.8 L157.8,573.02 L156.3,572.48 L154.79,572.65 L153.28,572.9 L151.78,572.77 L150.27,573.05 L148.76,572.38 L147.26,572.71 L145.75,572.42 L144.24,572.99 L142.74,572.48 L141.23,572.96 L139.72,572.5 L138.22,572.26 L136.71,572.77 L135.2,572.16 L133.7,572.34 L132.19,572.3 L130.68,572.26 L129.18,572.27 L127.67,572.1 L126.16,572.24 L124.66,572.57 L123.15,571.9 L121.64,571.91 L120.14,572.2 L118.63,572.34 L117.12,572.47 L115.62,571.8 L114.11,572.4 L112.61,572.4 L111.1,571.89 L109.59,572.27 L108.09,571.77 L106.58,571.51 L105.07,571.77 L103.57,571.58 L102.06,571.11 L100.55,571.39 L99.05,570.77 L97.54,570.78 L96.03,570.8 L94.53,571.3 L93.02,571.02 L91.51,570.47 L90.01,570.55 L88.5,570.41Z" fill="#0000ff"/>
<rect x="102.6" y="559.2" width="2.6" height="8.8" rx="1.2" fill="#0000ff" fill-opacity="0.7"/>
<path d="M103.48,554.4l1.6,1.6l-1.6,1.6l-1.6,-1.6zM103.06,557.6l1.6,1.6l-1.6,1.6l-1.6,-1.6z" fill="#0000ff" fill-opacity="0.154" stroke="#0000ff" stroke-opacity="0.220" stroke-width="0.7"/>
<rect x="122.2" y="563.5" width="2.6" height="4.5" rx="1.2" fill="#0000ff" fill-opacity="0.7"/>
<path d="M123.86,560.4l1.6,1.6l-1.6,1.6l-1.6,-1.6zM122.47,561.9l1.6,1.6l-1.6,1.6l-1.6,-1.6z" fill="#0000ff" fill-opacity="0.154" stroke="#0000ff" stroke-opacity="0.220" stroke-width="0.7"/>
<rect x="140.7" y="563.1" width="2.6" height="4.9" rx="1.2" fill="#0000ff" fill-opacity="0.7"/>
<path d="M142.09,556.4l1.6,1.6l-1.6,1.6l-1.6,-1.6zM141.68,558.95l1.6,1.6l-1.6,1.6l-1.6,-1.6zM140.94,561.5l1.6,1.6l-1.6,1.6l-1.6,-1.6z" fill="#0000ff" fill-opacity="0.154" stroke="#0000ff" stroke-opacity="0.220" stroke-width="0.7"/>
<rect x="152.7" y="559" width="2.6" height="9" rx="1.2" fill="#0000ff" fill-opacity="0.7"/>
<path d="M154.02,553.4l1.6,1.6l-1.6,1.6l-1.6,-1.6zM152.89,557.4l1.6,1.6l-1.6,1.6l-1.6,-1.6z" fill="#0000ff" fill-opacity="0.154" stroke="#0000ff" stroke-opacity="0.220" stroke-width="0.7"/>
<rect x="183.9" y="562" width="2.6" height="6" rx="1.2" fill="#0000ff" fill-opacity="0.7"/>
<path d="M185.04,557.4l1.6,1.6l-1.6,1.6l-1.6,-1.6zM184.17,560.4l1.6,1.6l-1.6,1.6l-1.6,-1.6z" fill="#0000ff" fill-opacity="0.154" stroke="#0000ff" stroke-opacity="0.220" stroke-width="0.7"/>
<rect x="219" y="558" width="2.6" height="10" rx="1.2" fill="#0000ff" fill-opacity="0.7"/>
<path d="M219.32,553.4l1.6,1.6l-1.6,1.6l-1.6,-1.6zM220.12,556.4l1.6,1.6l-1.6,1.6l-1.6,-1.6z" fill="#0000ff" fill-opacity="0.154" stroke="#0000ff" stroke-opacity="0.220" stroke-width="0.7"/>
<rect x="229.9" y="561" width="2.6" height="7" rx="1.2" fill="#0000ff" fill-opacity="0.7"/>
<path d="M231.98,556.4l1.6,1.6l-1.6,1.6l-1.6,-1.6zM230.3,559.4l1.6,1.6l-1.6,1.6l-1.6,-1.6z" fill="#0000ff" fill-opacity="0.154" stroke="#0000ff" stroke-opacity="0.220" stroke-width="0.7"/>
<rect x="245.1" y="560" width="2.6" height="8" rx="1.2" fill="#0000ff" fill-opacity="0.7"/>
<path d="M245.74,554.4l1.6,1.6l-1.6,1.6l-1.6,-1.6zM246.71,558.4l1.6,1.6l-1.6,1.6l-1.6,-1.6z" fill="#0000ff" fill-opacity="0.154" stroke="#0000ff" stroke-opacity="0.220" stroke-width="0.7"/>
<rect x="267.1" y="562" width="2.6" height="6" rx="1.2" fill="#0000ff" fill-opacity="0.7"/>
<path d="M269.47,556.4l1.6,1.6l-1.6,1.6l-1.6,-1.6zM268.59,560.4l1.6,1.6l-1.6,1.6l-1.6,-1.6z" fill="#0000ff" fill-opacity="0.154" stroke="#0000ff" stroke-opacity="0.220" stroke-width="0.7"/>
<rect x="276.2" y="552.7" width="2.6" height="15.3" rx="1.2" fill="#0000ff" fill-opacity="0.7"/>
<path d="M277.25,549.4l1.6,1.6l-1.6,1.6l-1.6,-1.6zM278.64,551.1l1.6,1.6l-1.6,1.6l-1.6,-1.6z" fill="#0000ff" fill-opacity="0.154" stroke="#0000ff" stroke-opacity="0.220" stroke-width="0.7"/>
<rect x="307.4" y="561.8" width="2.6" height="6.2" rx="1.2" fill="#0000ff" fill-opacity="0.7"/>
<path d="M307.61,547.4l1.6,1.6l-1.6,1.6l-1.6,-1.6zM309.56,549.96l1.6,1.6l-1.6,1.6l-1.6,-1.6zM308.2,552.52l1.6,1.6l-1.6,1.6l-1.6,-1.6zM307.85,555.08l1.6,1.6l-1.6,1.6l-1.6,-1.6zM307.78,557.64l1.6,1.6l-1.6,1.6l-1.6,-1.6zM308.24,560.2l1.6,1.6l-1.6,1.6l-1.6,-1.6z" fill="#0000ff" fill-opacity="0.154" stroke="#0000ff" stroke-opacity="0.220" stroke-width="0.7"/>
<rect x="328.7" y="561" width="2.6" height="7" rx="1.2" fill="#0000ff" fill-opacity="0.7"/>
<path d="M330.76,554.4l1.6,1.6l-1.6,1.6l-1.6,-1.6zM329.23,556.9l1.6,1.6l-1.6,1.6l-1.6,-1.6zM330.2,559.4l1.6,1.6l-1.6,1.6l-1.6,-1.6z" fill="#0000ff" fill-opacity="0.154" stroke="#0000ff" stroke-opacity="0.220" stroke-width="0.7"/>
<rect x="338.7" y="558" width="2.6" height="10" rx="1.2" fill="#0000ff" fill-opacity="0.7"/>
<path d="M340.33,551.4l1.6,1.6l-1.6,1.6l-1.6,-1.6zM339.69,553.9l1.6,1.6l-1.6,1.6l-1.6,-1.6zM340.11,556.4l1.6,1.6l-1.6,1.6l-1.6,-1.6z" fill="#0000ff" fill-opacity="0.154" stroke="#0000ff" stroke-opacity="0.220" stroke-width="0.7"/>
<rect x="347.7" y="561" width="2.6" height="7" rx="1.2" fill="#0000ff" fill-opacity="0.7"/>
<path d="M347.95,556.4l1.6,1.6l-1.6,1.6l-1.6,-1.6zM347.94,559.4l1.6,1.6l-1.6,1.6l-1.6,-1.6z" fill="#0000ff" fill-opacity="0.154" stroke="#0000ff" stroke-opacity="0.220" stroke-width="0.7"/>
<rect x="362.2" y="554" width="2.6" height="14" rx="1.2" fill="#0000ff" fill-opacity="0.7"/>
<path d="M362.79,550.4l1.6,1.6l-1.6,1.6l-1.6,-1.6zM363.93,552.4l1.6,1.6l-1.6,1.6l-1.6,-1.6z" fill="#0000ff" fill-opacity="0.154" stroke="#0000ff" stroke-opacity="0.220" stroke-width="0.7"/>
<rect x="373.7" y="563" width="2.6" height="5" rx="1.2" fill="#0000ff" fill-opacity="0.7"/>
<path d="M374.83,558.4l1.6,1.6l-1.6,1.6l-1.6,-1.6zM374.55,561.4l1.6,1.6l-1.6,1.6l-1.6,-1.6z" fill="#0000ff" fill-opacity="0.154" stroke="#0000ff" stroke-opacity="0.220" stroke-width="0.7"/>
<path d="M97.3,557.4l1.6,1.6l-1.6,1.6l-1.6,-1.6zM107.5,558.4l1.6,1.6l-1.6,1.6l-1.6,-1.6zM118.4,561.4l1.6,1.6l-1.6,1.6l-1.6,-1.6zM129.6,558.4l1.6,1.6l-1.6,1.6l-1.6,-1.6zM129.6,561.4l1.6,1.6l-1.6,1.6l-1.6,-1.6zM138.7,545.9l1.6,1.6l-1.6,1.6l-1.6,-1.6zM138.7,556.4l1.6,1.6l-1.6,1.6l-1.6,-1.6zM138.7,559.4l1.6,1.6l-1.6,1.6l-1.6,-1.6zM332.5,529.7l1.6,1.6l-1.6,1.6l-1.6,-1.6zM342.5,544.9l1.6,1.6l-1.6,1.6l-1.6,-1.6zM113,560.4l1.6,1.6l-1.6,1.6l-1.6,-1.6zM160,560.4l1.6,1.6l-1.6,1.6l-1.6,-1.6zM170,561.4l1.6,1.6l-1.6,1.6l-1.6,-1.6zM195,559.4l1.6,1.6l-1.6,1.6l-1.6,-1.6zM205,561.4l1.6,1.6l-1.6,1.6l-1.6,-1.6zM213,560.4l1.6,1.6l-1.6,1.6l-1.6,-1.6zM225,557.4l1.6,1.6l-1.6,1.6l-1.6,-1.6zM238,560.4l1.6,1.6l-1.6,1.6l-1.6,-1.6zM256,559.4l1.6,1.6l-1.6,1.6l-1.6,-1.6zM262,557.4l1.6,1.6l-1.6,1.6l-1.6,-1.6zM287,558.4l1.6,1.6l-1.6,1.6l-1.6,-1.6zM292,560.4l1.6,1.6l-1.6,1.6l-1.6,-1.6zM299,559.4l1.6,1.6l-1.6,1.6l-1.6,-1.6zM318,560.4l1.6,1.6l-1.6,1.6l-1.6,-1.6zM322,558.4l1.6,1.6l-1.6,1.6l-1.6,-1.6zM336,557.4l1.6,1.6l-1.6,1.6l-1.6,-1.6zM345,555.4l1.6,1.6l-1.6,1.6l-1.6,-1.6zM356,558.4l1.6,1.6l-1.6,1.6l-1.6,-1.6zM360,560.4l1.6,1.6l-1.6,1.6l-1.6,-1.6zM370,558.4l1.6,1.6l-1.6,1.6l-1.6,-1.6zM380,556.4l1.6,1.6l-1.6,1.6l-1.6,-1.6zM384,554.4l1.6,1.6l-1.6,1.6l-1.6,-1.6zM110,560.4l1.6,1.6l-1.6,1.6l-1.6,-1.6zM175,558.4l1.6,1.6l-1.6,1.6l-1.6,-1.6z" fill="#0000ff" fill-opacity="0.140" stroke="#0000ff" stroke-opacity="0.200" stroke-width="0.7"/>
<path d="M385.5,568.5l1.5,1.5l-1.5,1.5l-1.5,-1.5zM385.5,570.77l1.5,1.5l-1.5,1.5l-1.5,-1.5zM385.5,573.03l1.5,1.5l-1.5,1.5l-1.5,-1.5zM385.5,575.3l1.5,1.5l-1.5,1.5l-1.5,-1.5zM385.5,577.57l1.5,1.5l-1.5,1.5l-1.5,-1.5zM385.5,579.83l1.5,1.5l-1.5,1.5l-1.5,-1.5zM385.5,582.1l1.5,1.5l-1.5,1.5l-1.5,-1.5z" fill="#0000ff" fill-opacity="0.154" stroke="#0000ff" stroke-opacity="0.220" stroke-width="0.7"/>
<rect x="385" y="570" width="1" height="13.6" fill="#0000ff" fill-opacity="0.25"/>
</g>
<g clip-path="url(#c31)">
<rect x="482" y="571.8" width="3" height="3" fill="#ffa500"/>
<rect x="781" y="571.8" width="6.7" height="3" fill="#ffa500"/>
<path d="M481.9,566.08 L483.4,566.57 L484.91,566.7 L486.41,566.06 L487.92,566.13 L489.42,566.18 L490.93,565.86 L492.43,565.99 L493.94,565.88 L495.44,565.91 L496.95,566.63 L498.45,566 L499.96,566.42 L501.46,566.72 L502.97,566.49 L504.47,566.64 L505.98,566.74 L507.48,566.24 L508.99,565.98 L510.49,565.99 L512,565.96 L513.5,565.9 L515.01,566.36 L516.51,566.7 L518.02,566.26 L519.52,566.71 L521.03,566.42 L522.53,565.86 L524.04,566.26 L525.54,566.04 L527.05,566.11 L528.55,566.71 L530.06,566.53 L531.56,566.63 L533.07,566.44 L534.57,566.07 L536.08,565.93 L537.58,566.44 L539.09,566.4 L540.59,566.71 L542.1,566.28 L543.6,566.19 L545.11,566.32 L546.61,566.02 L548.12,566.73 L549.62,566.49 L551.13,566.69 L552.63,566.66 L554.14,566.72 L555.64,566.14 L557.15,566.73 L558.65,566.31 L560.16,566.17 L561.66,566.39 L563.17,565.88 L564.67,566.47 L566.18,566.21 L567.68,566.39 L569.19,566.12 L570.69,566.16 L572.2,565.91 L573.7,566.62 L575.21,566.69 L576.71,566.36 L578.22,566.3 L579.72,565.93 L581.23,566.66 L582.73,566.07 L584.24,566.09 L585.74,566.19 L587.25,566.26 L588.75,565.9 L590.26,566.7 L591.76,566.65 L593.27,566.56 L594.77,566.7 L596.28,566.51 L597.78,566.28 L599.29,566.1 L600.79,566.52 L602.3,566.5 L603.8,565.88 L605.31,566.32 L606.81,566.51 L608.32,566.7 L609.82,566.21 L611.33,566.21 L612.83,566.55 L614.34,566.11 L615.84,566.72 L617.35,566.06 L618.85,566.66 L620.36,565.87 L621.86,566.75 L623.37,565.93 L624.87,566.07 L626.38,566.02 L627.88,566.41 L629.39,566.13 L630.89,566.13 L632.4,566.39 L633.9,566.17 L635.41,566.37 L636.91,566.51 L638.42,566.02 L639.92,566.42 L641.43,566.51 L642.93,566.48 L644.44,565.92 L645.94,566.43 L647.45,566.3 L648.95,566.05 L650.46,566.35 L651.96,566.12 L653.47,566.35 L654.97,566.68 L656.48,566.54 L657.98,566.15 L659.49,566.72 L660.99,566.14 L662.5,566.34 L664,566.04 L665.51,566.35 L667.01,566.29 L668.52,566.13 L670.02,566.19 L671.53,566.25 L673.03,566.17 L674.54,565.86 L676.04,566.72 L677.55,566.19 L679.05,565.92 L680.56,565.95 L682.06,566.23 L683.57,566.1 L685.07,566.74 L686.58,566.08 L688.08,566.73 L689.59,566.42 L691.09,566.44 L692.6,566.22 L694.1,565.92 L695.61,566.43 L697.11,566.07 L698.62,566.74 L700.12,565.95 L701.63,566.61 L703.13,566.27 L704.64,566.06 L706.14,566.7 L707.65,566.22 L709.15,566.39 L710.66,566.34 L712.16,566.18 L713.67,566.61 L715.17,566.73 L716.68,566.3 L718.18,566.42 L719.69,566.06 L721.19,566.4 L722.7,566 L724.2,566.07 L725.71,566.49 L727.21,566.02 L728.72,565.91 L730.22,566.33 L731.73,566.49 L733.23,566.7 L734.74,565.86 L736.24,566.15 L737.75,566.54 L739.25,566.14 L740.76,566.2 L742.26,565.94 L743.77,566.32 L745.27,565.89 L746.78,566.52 L748.28,566.29 L749.79,566.6 L751.29,566.15 L752.8,566.57 L754.3,566.26 L755.81,566.44 L757.31,566.4 L758.82,566.71 L760.32,566.15 L761.83,566.23 L763.33,566.29 L764.84,566.26 L766.34,566.52 L767.85,566.43 L769.35,565.85 L770.86,566.45 L772.36,566.61 L773.87,565.9 L775.37,566.19 L776.88,566.69 L778.38,566.7 L779.89,566.11 L781.39,566.41 L782.9,566.7 L784.4,565.93 L784.4,579.35 L782.9,579.53 L781.39,579.6 L779.89,579.91 L778.38,579.79 L776.88,579.48 L775.37,579.25 L773.87,579.69 L772.36,579.9 L770.86,579.39 L769.35,579.55 L767.85,579.55 L766.34,580.02 L764.84,579.39 L763.33,579.39 L761.83,579.22 L760.32,579.97 L758.82,579.22 L757.31,579.7 L755.81,579.32 L754.3,579.8 L752.8,579.19 L751.29,579.18 L749.79,579.89 L748.28,579.53 L746.78,579.83 L745.27,579.78 L743.77,579.88 L742.26,579.97 L740.76,579.95 L739.25,579.21 L737.75,579.34 L736.24,579.94 L734.74,579.39 L733.23,579.47 L731.73,580.01 L730.22,579.47 L728.72,579.4 L727.21,579.63 L725.71,579.72 L724.2,580.02 L722.7,579.43 L721.19,579.4 L719.69,579.45 L718.18,579.95 L716.68,579.24 L715.17,579.47 L713.67,579.99 L712.16,579.28 L710.66,579.29 L709.15,579.33 L707.65,579.59 L706.14,579.43 L704.64,579.5 L703.13,579.88 L701.63,579.28 L700.12,579.57 L698.62,579.62 L697.11,579.81 L695.61,579.65 L694.1,579.68 L692.6,579.61 L691.09,579.48 L689.59,579.81 L688.08,579.92 L686.58,579.52 L685.07,579.45 L683.57,579.66 L682.06,579.93 L680.56,579.61 L679.05,579.48 L677.55,579.92 L676.04,579.42 L674.54,579.6 L673.03,579.21 L671.53,579.42 L670.02,579.98 L668.52,580.01 L667.01,579.4 L665.51,580.04 L664,579.67 L662.5,579.26 L660.99,579.37 L659.49,579.39 L657.98,579.33 L656.48,579.82 L654.97,579.22 L653.47,579.34 L651.96,579.55 L650.46,579.42 L648.95,579.57 L647.45,579.19 L645.94,579.27 L644.44,579.74 L642.93,579.65 L641.43,579.77 L639.92,579.57 L638.42,579.74 L636.91,579.24 L635.41,580.01 L633.9,579.32 L632.4,580 L630.89,579.26 L629.39,579.84 L627.88,579.73 L626.38,579.21 L624.87,580 L623.37,580.05 L621.86,579.2 L620.36,579.24 L618.85,579.16 L617.35,579.57 L615.84,579.79 L614.34,579.77 L612.83,579.38 L611.33,579.36 L609.82,579.43 L608.32,579.2 L606.81,580 L605.31,579.19 L603.8,579.67 L602.3,579.73 L600.79,579.85 L599.29,579.44 L597.78,579.89 L596.28,579.33 L594.77,579.16 L593.27,579.3 L591.76,579.82 L590.26,579.59 L588.75,580.04 L587.25,579.87 L585.74,579.76 L584.24,579.18 L582.73,579.28 L581.23,579.34 L579.72,579.79 L578.22,579.16 L576.71,579.35 L575.21,579.4 L573.7,579.37 L572.2,579.19 L570.69,579.81 L569.19,579.61 L567.68,579.88 L566.18,580.03 L564.67,579.28 L563.17,579.55 L561.66,579.24 L560.16,579.64 L558.65,579.99 L557.15,580 L555.64,579.53 L554.14,579.17 L552.63,579.7 L551.13,579.3 L549.62,579.54 L548.12,579.54 L546.61,579.18 L545.11,579.67 L543.6,579.89 L542.1,580.03 L540.59,579.66 L539.09,579.18 L537.58,579.57 L536.08,579.78 L534.57,579.85 L533.07,579.97 L531.56,580.01 L530.06,579.22 L528.55,579.24 L527.05,579.67 L525.54,580 L524.04,579.24 L522.53,579.23 L521.03,579.85 L519.52,579.52 L518.02,579.79 L516.51,579.22 L515.01,579.62 L513.5,579.5 L512,579.38 L510.49,579.33 L508.99,579.53 L507.48,579.88 L505.98,579.69 L504.47,579.19 L502.97,579.64 L501.46,580.02 L499.96,579.89 L498.45,580.01 L496.95,579.69 L495.44,579.35 L493.94,579.18 L492.43,579.86 L490.93,579.52 L489.42,580.01 L487.92,579.6 L486.41,579.19 L484.91,579.85 L483.4,579.69 L481.9,579.33Z" fill="#ffa500" fill-opacity="0.12"/>
<path d="M482.9,567.17 L484.4,566.89 L485.9,567.69 L487.41,567.45 L488.91,567.02 L490.41,566.93 L491.91,567.69 L493.42,567.23 L494.92,567 L496.42,567.08 L497.92,566.86 L499.43,566.87 L500.93,567.52 L502.43,567.45 L503.94,567.12 L505.44,567.66 L506.94,567.48 L508.44,566.91 L509.94,567.27 L511.45,567.11 L512.95,566.85 L514.45,566.88 L515.95,567.05 L517.46,567.23 L518.96,567.47 L520.46,567.02 L521.96,567.43 L523.47,567.59 L524.97,567.29 L526.47,567.6 L527.98,567.31 L529.48,567.45 L530.98,567.44 L532.48,567.52 L533.99,567.13 L535.49,567.33 L536.99,567.22 L538.49,567.56 L540,567.25 L541.5,567.13 L543,567.7 L544.5,567.48 L546,567.66 L547.51,567.38 L549.01,567.75 L550.51,566.99 L552.01,567.19 L553.52,567.58 L555.02,567.45 L556.52,566.96 L558.02,566.86 L559.53,566.98 L561.03,567.63 L562.53,567.01 L564.03,567.21 L565.54,567.72 L567.04,567.47 L568.54,567 L570.04,567.48 L571.55,567.01 L573.05,567.11 L574.55,567.13 L576.05,567.64 L577.56,567.2 L579.06,567.36 L580.56,567.64 L582.06,567.67 L583.57,567.6 L585.07,567.11 L586.57,566.9 L588.07,567.23 L589.58,566.98 L591.08,567.55 L592.58,567.57 L594.09,567.26 L595.59,567.42 L597.09,567.56 L598.59,567.6 L600.1,567.28 L601.6,566.93 L603.1,567.33 L604.6,567.21 L606.11,567.09 L607.61,567.03 L609.11,567 L610.61,567.26 L612.12,567.16 L613.62,567.16 L615.12,566.91 L616.62,567.1 L618.12,567.41 L619.63,566.86 L621.13,567.44 L622.63,566.9 L624.13,567.58 L625.64,567.55 L627.14,567.2 L628.64,567.55 L630.14,567.47 L631.65,567.6 L633.15,567.51 L634.65,567 L636.15,567.33 L637.66,567.7 L639.16,567.04 L640.66,567.65 L642.16,567.48 L643.67,567.24 L645.17,567.19 L646.67,567.27 L648.17,567.17 L649.68,566.88 L651.18,567.05 L652.68,567.26 L654.18,567.18 L655.69,567.07 L657.19,567.73 L658.69,567.31 L660.19,567.37 L661.7,567.73 L663.2,567.66 L664.7,567.2 L666.2,567.59 L667.71,567.31 L669.21,566.89 L670.71,567.22 L672.21,567.61 L673.72,566.88 L675.22,567.57 L676.72,567.58 L678.22,567.34 L679.73,567.36 L681.23,567.4 L682.73,566.87 L684.24,567.44 L685.74,567.61 L687.24,567.62 L688.74,567.05 L690.25,567.62 L691.75,566.93 L693.25,567.4 L694.75,567.51 L696.25,566.93 L697.76,567.31 L699.26,566.93 L700.76,566.88 L702.26,567.17 L703.77,567.11 L705.27,567.73 L706.77,567.02 L708.27,567.64 L709.78,567.12 L711.28,567.24 L712.78,567.46 L714.28,567.09 L715.79,567.21 L717.29,567.35 L718.79,567.05 L720.29,567.7 L721.8,566.88 L723.3,566.98 L724.8,567.24 L726.3,567.01 L727.81,567.3 L729.31,567.58 L730.81,566.87 L732.31,567.31 L733.82,566.93 L735.32,567.08 L736.82,567.51 L738.33,566.92 L739.83,567.37 L741.33,567.35 L742.83,566.86 L744.34,567.5 L745.84,567.19 L747.34,566.92 L748.84,567.42 L750.35,567.24 L751.85,567.55 L753.35,567.47 L754.85,567.18 L756.36,567.3 L757.86,566.98 L759.36,567.29 L760.86,567.06 L762.37,566.92 L763.87,567.05 L765.37,567.06 L766.87,567.6 L768.38,567.3 L769.88,567.02 L771.38,567.14 L772.88,567.37 L774.38,567.14 L775.89,566.96 L777.39,567.34 L778.89,566.98 L780.39,567.37 L781.9,567.22 L783.4,567.27 L783.4,578.78 L781.9,578.81 L780.39,578.69 L778.89,579.01 L777.39,578.37 L775.89,578.75 L774.38,578.7 L772.88,578.87 L771.38,578.77 L769.88,578.64 L768.38,578.64 L766.87,578.68 L765.37,578.38 L763.87,578.59 L762.37,578.77 L760.86,578.59 L759.36,578.18 L757.86,578.18 L756.36,578.76 L754.85,578.54 L753.35,578.79 L751.85,578.28 L750.35,578.99 L748.84,578.52 L747.34,578.9 L745.84,578.78 L744.34,578.63 L742.83,578.24 L741.33,578.74 L739.83,578.59 L738.33,578.71 L736.82,579.03 L735.32,578.8 L733.82,578.29 L732.31,578.22 L730.81,578.54 L729.31,578.83 L727.81,578.95 L726.3,578.27 L724.8,578.32 L723.3,578.19 L721.8,579.03 L720.29,578.8 L718.79,578.6 L717.29,578.53 L715.79,578.75 L714.28,578.16 L712.78,578.37 L711.28,578.44 L709.78,578.63 L708.27,578.6 L706.77,578.59 L705.27,578.75 L703.77,578.98 L702.26,578.38 L700.76,578.16 L699.26,578.65 L697.76,578.53 L696.25,578.93 L694.75,578.23 L693.25,578.82 L691.75,578.8 L690.25,578.4 L688.74,578.85 L687.24,578.77 L685.74,578.21 L684.24,578.54 L682.73,578.5 L681.23,578.73 L679.73,579.04 L678.22,578.27 L676.72,578.52 L675.22,578.45 L673.72,578.81 L672.21,578.57 L670.71,578.59 L669.21,578.49 L667.71,578.73 L666.2,578.65 L664.7,578.95 L663.2,578.31 L661.7,578.4 L660.19,578.23 L658.69,578.81 L657.19,578.63 L655.69,578.82 L654.18,578.25 L652.68,578.45 L651.18,579.01 L649.68,578.26 L648.17,578.83 L646.67,578.91 L645.17,578.38 L643.67,578.54 L642.16,578.86 L640.66,578.85 L639.16,578.99 L637.66,578.91 L636.15,578.19 L634.65,578.25 L633.15,578.39 L631.65,578.51 L630.14,578.42 L628.64,578.46 L627.14,579.04 L625.64,578.63 L624.13,578.87 L622.63,578.87 L621.13,578.82 L619.63,578.21 L618.12,578.45 L616.62,579.02 L615.12,578.78 L613.62,578.91 L612.12,578.27 L610.61,578.55 L609.11,579.03 L607.61,578.27 L606.11,578.19 L604.6,578.67 L603.1,578.21 L601.6,579.02 L600.1,578.8 L598.59,578.46 L597.09,578.78 L595.59,578.72 L594.09,578.84 L592.58,578.65 L591.08,578.99 L589.58,578.69 L588.07,578.62 L586.57,578.98 L585.07,578.17 L583.57,578.64 L582.06,578.98 L580.56,578.51 L579.06,578.43 L577.56,578.22 L576.05,578.7 L574.55,578.96 L573.05,579.05 L571.55,578.29 L570.04,578.33 L568.54,578.54 L567.04,578.57 L565.54,578.59 L564.03,578.92 L562.53,578.24 L561.03,578.57 L559.53,578.42 L558.02,578.32 L556.52,578.46 L555.02,578.5 L553.52,578.9 L552.01,578.35 L550.51,578.82 L549.01,578.96 L547.51,578.56 L546,578.66 L544.5,578.7 L543,578.87 L541.5,578.15 L540,578.96 L538.49,578.85 L536.99,578.97 L535.49,578.61 L533.99,578.42 L532.48,578.65 L530.98,578.25 L529.48,578.2 L527.98,578.23 L526.47,578.84 L524.97,578.62 L523.47,578.47 L521.96,578.85 L520.46,578.47 L518.96,578.54 L517.46,578.52 L515.95,578.46 L514.45,578.16 L512.95,578.31 L511.45,578.39 L509.94,578.3 L508.44,578.85 L506.94,578.82 L505.44,578.5 L503.94,578.62 L502.43,578.74 L500.93,578.7 L499.43,578.73 L497.92,578.16 L496.42,578.74 L494.92,578.85 L493.42,578.22 L491.91,578.98 L490.41,578.59 L488.91,578.32 L487.41,578.49 L485.9,578.89 L484.4,578.33 L482.9,578.78Z" fill="#ffa500" fill-opacity="0.4"/>
<path d="M483.9,568.38 L485.4,568.35 L486.9,568.35 L488.4,568.44 L489.9,568.59 L491.4,568.4 L492.9,568.15 L494.4,568.13 L495.9,568.45 L497.4,568.12 L498.9,568.58 L500.4,568.22 L501.9,568.47 L503.4,568.45 L504.9,568.39 L506.4,568.21 L507.9,568.42 L509.4,568.02 L510.9,568.13 L512.4,568.46 L513.9,568.42 L515.4,568.56 L516.9,568.16 L518.4,568.09 L519.9,568.05 L521.4,568.12 L522.9,568.23 L524.4,568.59 L525.9,568.46 L527.4,568.38 L528.9,568.2 L530.4,568.41 L531.9,568.03 L533.4,568.21 L534.9,568.46 L536.4,568.54 L537.9,568.59 L539.4,568.05 L540.9,568.19 L542.4,568.14 L543.9,568.22 L545.4,568.49 L546.9,568.28 L548.4,568.54 L549.9,568.37 L551.4,568.32 L552.9,568.32 L554.4,568.58 L555.9,568.2 L557.4,568.3 L558.9,568.47 L560.4,568.54 L561.9,568.34 L563.4,568.46 L564.9,568.07 L566.4,568.47 L567.9,568.2 L569.4,568.08 L570.9,568.34 L572.4,568.42 L573.9,568.53 L575.4,568 L576.9,568.3 L578.4,568.32 L579.9,568.3 L581.4,568.55 L582.9,568.2 L584.4,568.41 L585.9,568.12 L587.4,568.57 L588.9,568.5 L590.4,568.36 L591.9,568.47 L593.4,568.17 L594.9,568.47 L596.4,568.23 L597.9,568.06 L599.4,568.22 L600.9,568.03 L602.4,568.47 L603.9,568.09 L605.4,568.2 L606.9,568.15 L608.4,568.29 L609.9,568.12 L611.4,568.47 L612.9,568.39 L614.4,568.15 L615.9,568.53 L617.4,568.04 L618.9,568 L620.4,568.03 L621.9,568.49 L623.4,568.15 L624.9,568.03 L626.4,568.48 L627.9,568.49 L629.4,568.55 L630.9,568.51 L632.4,568.13 L633.9,568.35 L635.4,568.53 L636.9,568.35 L638.4,568.37 L639.9,568.15 L641.4,568.59 L642.9,568.55 L644.4,568.35 L645.9,568.24 L647.4,568.16 L648.9,568.57 L650.4,568.39 L651.9,568.35 L653.4,568.5 L654.9,568.57 L656.4,568.09 L657.9,568.04 L659.4,568.02 L660.9,568.07 L662.4,568.25 L663.9,568.02 L665.4,568.09 L666.9,568.06 L668.4,568.28 L669.9,568.41 L671.4,568.25 L672.9,568.51 L674.4,568.43 L675.9,568.35 L677.4,568.19 L678.9,568.23 L680.4,568.42 L681.9,568.33 L683.4,568.56 L684.9,568.06 L686.4,568.42 L687.9,568.03 L689.4,568.59 L690.9,568.07 L692.4,568.03 L693.9,568.1 L695.4,568.02 L696.9,568.6 L698.4,568.55 L699.9,568.03 L701.4,568.04 L702.9,568.14 L704.4,568.1 L705.9,568.1 L707.4,568.41 L708.9,568.35 L710.4,568.15 L711.9,568.48 L713.4,568.58 L714.9,568.6 L716.4,568.54 L717.9,568.44 L719.4,568.3 L720.9,568.6 L722.4,568.45 L723.9,568.53 L725.4,568.31 L726.9,568.23 L728.4,568.47 L729.9,568.37 L731.4,568.02 L732.9,568.21 L734.4,568.04 L735.9,568.22 L737.4,568.44 L738.9,568.05 L740.4,568.4 L741.9,568.13 L743.4,568.4 L744.9,568.28 L746.4,568.59 L747.9,568.36 L749.4,568.25 L750.9,568.18 L752.4,568.59 L753.9,568.44 L755.4,568.01 L756.9,568.52 L758.4,568.41 L759.9,568.22 L761.4,568.45 L762.9,568.59 L764.4,568.07 L765.9,568.48 L767.4,568.34 L768.9,568.47 L770.4,568.24 L771.9,568.52 L773.4,568.06 L774.9,568.46 L776.4,568.44 L777.9,568.05 L779.4,568.41 L780.9,568.45 L782.4,568.29 L782.4,577.39 L780.9,577.32 L779.4,577.5 L777.9,577.74 L776.4,577.58 L774.9,577.86 L773.4,577.42 L771.9,577.65 L770.4,577.66 L768.9,577.82 L767.4,577.39 L765.9,577.68 L764.4,577.79 L762.9,577.86 L761.4,577.55 L759.9,577.73 L758.4,577.55 L756.9,577.8 L755.4,577.6 L753.9,577.52 L752.4,577.33 L750.9,577.62 L749.4,577.62 L747.9,577.55 L746.4,577.9 L744.9,577.31 L743.4,577.58 L741.9,577.54 L740.4,577.77 L738.9,577.83 L737.4,577.86 L735.9,577.35 L734.4,577.76 L732.9,577.76 L731.4,577.39 L729.9,577.87 L728.4,577.41 L726.9,577.48 L725.4,577.86 L723.9,577.55 L722.4,577.55 L720.9,577.34 L719.4,577.51 L717.9,577.36 L716.4,577.74 L714.9,577.31 L713.4,577.35 L711.9,577.74 L710.4,577.39 L708.9,577.47 L707.4,577.4 L705.9,577.76 L704.4,577.88 L702.9,577.75 L701.4,577.55 L699.9,577.88 L698.4,577.55 L696.9,577.42 L695.4,577.58 L693.9,577.43 L692.4,577.57 L690.9,577.54 L689.4,577.37 L687.9,577.77 L686.4,577.69 L684.9,577.46 L683.4,577.79 L681.9,577.73 L680.4,577.87 L678.9,577.48 L677.4,577.85 L675.9,577.35 L674.4,577.67 L672.9,577.56 L671.4,577.48 L669.9,577.67 L668.4,577.88 L666.9,577.61 L665.4,577.33 L663.9,577.55 L662.4,577.67 L660.9,577.42 L659.4,577.4 L657.9,577.39 L656.4,577.57 L654.9,577.54 L653.4,577.33 L651.9,577.88 L650.4,577.69 L648.9,577.9 L647.4,577.63 L645.9,577.55 L644.4,577.77 L642.9,577.87 L641.4,577.42 L639.9,577.52 L638.4,577.42 L636.9,577.37 L635.4,577.82 L633.9,577.75 L632.4,577.76 L630.9,577.71 L629.4,577.32 L627.9,577.35 L626.4,577.56 L624.9,577.44 L623.4,577.37 L621.9,577.67 L620.4,577.39 L618.9,577.79 L617.4,577.74 L615.9,577.31 L614.4,577.84 L612.9,577.73 L611.4,577.65 L609.9,577.61 L608.4,577.67 L606.9,577.85 L605.4,577.68 L603.9,577.81 L602.4,577.6 L600.9,577.72 L599.4,577.39 L597.9,577.31 L596.4,577.33 L594.9,577.54 L593.4,577.68 L591.9,577.57 L590.4,577.53 L588.9,577.73 L587.4,577.5 L585.9,577.74 L584.4,577.58 L582.9,577.73 L581.4,577.68 L579.9,577.59 L578.4,577.65 L576.9,577.62 L575.4,577.48 L573.9,577.35 L572.4,577.48 L570.9,577.31 L569.4,577.43 L567.9,577.8 L566.4,577.41 L564.9,577.56 L563.4,577.83 L561.9,577.8 L560.4,577.37 L558.9,577.55 L557.4,577.36 L555.9,577.85 L554.4,577.42 L552.9,577.32 L551.4,577.74 L549.9,577.32 L548.4,577.39 L546.9,577.85 L545.4,577.31 L543.9,577.45 L542.4,577.39 L540.9,577.86 L539.4,577.37 L537.9,577.68 L536.4,577.37 L534.9,577.36 L533.4,577.79 L531.9,577.77 L530.4,577.61 L528.9,577.54 L527.4,577.62 L525.9,577.54 L524.4,577.39 L522.9,577.6 L521.4,577.57 L519.9,577.59 L518.4,577.59 L516.9,577.31 L515.4,577.72 L513.9,577.58 L512.4,577.39 L510.9,577.61 L509.4,577.8 L507.9,577.33 L506.4,577.87 L504.9,577.55 L503.4,577.77 L501.9,577.49 L500.4,577.48 L498.9,577.57 L497.4,577.7 L495.9,577.84 L494.4,577.87 L492.9,577.49 L491.4,577.39 L489.9,577.48 L488.4,577.68 L486.9,577.69 L485.4,577.57 L483.9,577.59Z" fill="#ffa500"/>
<path d="M735.06,523.5l1.5,1.5l-1.5,1.5l-1.5,-1.5zM735.87,603.5l1.5,1.5l-1.5,1.5l-1.5,-1.5zM734.79,570.34l1.5,1.5l-1.5,1.5l-1.5,-1.5zM736.3,559.75l1.5,1.5l-1.5,1.5l-1.5,-1.5zM736.53,547.48l1.5,1.5l-1.5,1.5l-1.5,-1.5zM736.08,587.05l1.5,1.5l-1.5,1.5l-1.5,-1.5zM736.8,579.42l1.5,1.5l-1.5,1.5l-1.5,-1.5zM735.45,543.03l1.5,1.5l-1.5,1.5l-1.5,-1.5zM736.37,569.45l1.5,1.5l-1.5,1.5l-1.5,-1.5zM736.13,565.52l1.5,1.5l-1.5,1.5l-1.5,-1.5zM736.09,593.51l1.5,1.5l-1.5,1.5l-1.5,-1.5zM735.79,581.86l1.5,1.5l-1.5,1.5l-1.5,-1.5zM736.72,546.54l1.5,1.5l-1.5,1.5l-1.5,-1.5zM736.97,601.91l1.5,1.5l-1.5,1.5l-1.5,-1.5zM735.84,532.95l1.5,1.5l-1.5,1.5l-1.5,-1.5zM736.29,556.95l1.5,1.5l-1.5,1.5l-1.5,-1.5zM734.85,584.07l1.5,1.5l-1.5,1.5l-1.5,-1.5z" fill="#ffa500" fill-opacity="0.140" stroke="#ffa500" stroke-opacity="0.200" stroke-width="0.7"/>
<path d="M745.34,534.5l1.5,1.5l-1.5,1.5l-1.5,-1.5zM746.49,612.5l1.5,1.5l-1.5,1.5l-1.5,-1.5zM744.59,589.22l1.5,1.5l-1.5,1.5l-1.5,-1.5zM745.48,584.98l1.5,1.5l-1.5,1.5l-1.5,-1.5zM745.72,611.96l1.5,1.5l-1.5,1.5l-1.5,-1.5zM746.52,598.61l1.5,1.5l-1.5,1.5l-1.5,-1.5zM746.37,556.7l1.5,1.5l-1.5,1.5l-1.5,-1.5zM746.47,564.59l1.5,1.5l-1.5,1.5l-1.5,-1.5zM745.07,586.65l1.5,1.5l-1.5,1.5l-1.5,-1.5zM745.4,536.26l1.5,1.5l-1.5,1.5l-1.5,-1.5zM745.26,570.51l1.5,1.5l-1.5,1.5l-1.5,-1.5zM746.52,547.61l1.5,1.5l-1.5,1.5l-1.5,-1.5zM746.7,543.63l1.5,1.5l-1.5,1.5l-1.5,-1.5zM744.76,539.1l1.5,1.5l-1.5,1.5l-1.5,-1.5zM744.82,594.42l1.5,1.5l-1.5,1.5l-1.5,-1.5zM744.96,544.59l1.5,1.5l-1.5,1.5l-1.5,-1.5zM744.96,553.81l1.5,1.5l-1.5,1.5l-1.5,-1.5z" fill="#ffa500" fill-opacity="0.140" stroke="#ffa500" stroke-opacity="0.200" stroke-width="0.7"/>
<path d="M781.07,530.5l1.5,1.5l-1.5,1.5l-1.5,-1.5zM781.3,606.5l1.5,1.5l-1.5,1.5l-1.5,-1.5zM781.11,567.36l1.5,1.5l-1.5,1.5l-1.5,-1.5zM780.14,575.27l1.5,1.5l-1.5,1.5l-1.5,-1.5zM780.16,550.47l1.5,1.5l-1.5,1.5l-1.5,-1.5zM779.45,530.81l1.5,1.5l-1.5,1.5l-1.5,-1.5zM780.72,562.34l1.5,1.5l-1.5,1.5l-1.5,-1.5zM779.35,558.56l1.5,1.5l-1.5,1.5l-1.5,-1.5zM779.36,573.54l1.5,1.5l-1.5,1.5l-1.5,-1.5zM779.7,602.94l1.5,1.5l-1.5,1.5l-1.5,-1.5zM779.59,582.98l1.5,1.5l-1.5,1.5l-1.5,-1.5zM780.02,569.68l1.5,1.5l-1.5,1.5l-1.5,-1.5zM779.33,577.44l1.5,1.5l-1.5,1.5l-1.5,-1.5zM779.2,581.89l1.5,1.5l-1.5,1.5l-1.5,-1.5zM779.56,534.6l1.5,1.5l-1.5,1.5l-1.5,-1.5zM779.44,598.86l1.5,1.5l-1.5,1.5l-1.5,-1.5z" fill="#ffa500" fill-opacity="0.140" stroke="#ffa500" stroke-opacity="0.200" stroke-width="0.7"/>
<path d="M534.82,538.5l1.5,1.5l-1.5,1.5l-1.5,-1.5zM534.86,593.5l1.5,1.5l-1.5,1.5l-1.5,-1.5zM533.91,558.5l1.5,1.5l-1.5,1.5l-1.5,-1.5zM533.95,539.9l1.5,1.5l-1.5,1.5l-1.5,-1.5zM534.52,586.59l1.5,1.5l-1.5,1.5l-1.5,-1.5zM534.34,572.27l1.5,1.5l-1.5,1.5l-1.5,-1.5zM535.69,546.67l1.5,1.5l-1.5,1.5l-1.5,-1.5zM534.09,552.37l1.5,1.5l-1.5,1.5l-1.5,-1.5zM533.76,557.61l1.5,1.5l-1.5,1.5l-1.5,-1.5zM535.98,558.53l1.5,1.5l-1.5,1.5l-1.5,-1.5zM534.97,545.26l1.5,1.5l-1.5,1.5l-1.5,-1.5zM534.05,585.19l1.5,1.5l-1.5,1.5l-1.5,-1.5zM535,593.12l1.5,1.5l-1.5,1.5l-1.5,-1.5z" fill="#ffa500" fill-opacity="0.140" stroke="#ffa500" stroke-opacity="0.200" stroke-width="0.7"/>
<path d="M629.53,554l1.5,1.5l-1.5,1.5l-1.5,-1.5zM629.78,580.5l1.5,1.5l-1.5,1.5l-1.5,-1.5zM629.3,554.72l1.5,1.5l-1.5,1.5l-1.5,-1.5zM630.75,567.99l1.5,1.5l-1.5,1.5l-1.5,-1.5zM630.18,579.93l1.5,1.5l-1.5,1.5l-1.5,-1.5zM630.77,576.88l1.5,1.5l-1.5,1.5l-1.5,-1.5zM629.69,572.45l1.5,1.5l-1.5,1.5l-1.5,-1.5z" fill="#ffa500" fill-opacity="0.140" stroke="#ffa500" stroke-opacity="0.200" stroke-width="0.7"/>
<path d="M697.76,536.5l1.5,1.5l-1.5,1.5l-1.5,-1.5zM697.58,560.5l1.5,1.5l-1.5,1.5l-1.5,-1.5zM696.34,541.85l1.5,1.5l-1.5,1.5l-1.5,-1.5zM697.04,555.98l1.5,1.5l-1.5,1.5l-1.5,-1.5zM696.65,560.14l1.5,1.5l-1.5,1.5l-1.5,-1.5zM695.87,556.96l1.5,1.5l-1.5,1.5l-1.5,-1.5zM695.87,555.85l1.5,1.5l-1.5,1.5l-1.5,-1.5z" fill="#ffa500" fill-opacity="0.140" stroke="#ffa500" stroke-opacity="0.200" stroke-width="0.7"/>
<path d="M589.17,554.5l1.5,1.5l-1.5,1.5l-1.5,-1.5zM589.09,586.5l1.5,1.5l-1.5,1.5l-1.5,-1.5zM587.68,563.44l1.5,1.5l-1.5,1.5l-1.5,-1.5zM587.33,562.79l1.5,1.5l-1.5,1.5l-1.5,-1.5zM587.34,576.66l1.5,1.5l-1.5,1.5l-1.5,-1.5zM587.27,585.11l1.5,1.5l-1.5,1.5l-1.5,-1.5zM587.29,568.81l1.5,1.5l-1.5,1.5l-1.5,-1.5zM588.3,584.48l1.5,1.5l-1.5,1.5l-1.5,-1.5z" fill="#ffa500" fill-opacity="0.140" stroke="#ffa500" stroke-opacity="0.200" stroke-width="0.7"/>
<path d="M604.39,558.5l1.5,1.5l-1.5,1.5l-1.5,-1.5zM604.98,588.5l1.5,1.5l-1.5,1.5l-1.5,-1.5zM604.68,585.51l1.5,1.5l-1.5,1.5l-1.5,-1.5zM604.6,583.71l1.5,1.5l-1.5,1.5l-1.5,-1.5zM603.95,572.88l1.5,1.5l-1.5,1.5l-1.5,-1.5zM603.23,578.09l1.5,1.5l-1.5,1.5l-1.5,-1.5zM604.69,582.49l1.5,1.5l-1.5,1.5l-1.5,-1.5zM603.6,561.04l1.5,1.5l-1.5,1.5l-1.5,-1.5z" fill="#ffa500" fill-opacity="0.140" stroke="#ffa500" stroke-opacity="0.200" stroke-width="0.7"/>
<path d="M549.56,546.5l1.5,1.5l-1.5,1.5l-1.5,-1.5zM550.87,558.5l1.5,1.5l-1.5,1.5l-1.5,-1.5zM550.34,556.11l1.5,1.5l-1.5,1.5l-1.5,-1.5zM549.01,558.16l1.5,1.5l-1.5,1.5l-1.5,-1.5zM548.9,551.25l1.5,1.5l-1.5,1.5l-1.5,-1.5z" fill="#ffa500" fill-opacity="0.140" stroke="#ffa500" stroke-opacity="0.200" stroke-width="0.7"/>
<path d="M708.38,554.5l1.5,1.5l-1.5,1.5l-1.5,-1.5zM707.64,584.5l1.5,1.5l-1.5,1.5l-1.5,-1.5zM708.12,559.03l1.5,1.5l-1.5,1.5l-1.5,-1.5zM707.11,581.65l1.5,1.5l-1.5,1.5l-1.5,-1.5zM706.83,578.7l1.5,1.5l-1.5,1.5l-1.5,-1.5zM709.13,558.89l1.5,1.5l-1.5,1.5l-1.5,-1.5zM708.36,579.3l1.5,1.5l-1.5,1.5l-1.5,-1.5zM708.06,583.91l1.5,1.5l-1.5,1.5l-1.5,-1.5z" fill="#ffa500" fill-opacity="0.140" stroke="#ffa500" stroke-opacity="0.200" stroke-width="0.7"/>
<path d="M673.38,554.5l1.5,1.5l-1.5,1.5l-1.5,-1.5zM674.21,588.5l1.5,1.5l-1.5,1.5l-1.5,-1.5zM673.42,586.24l1.5,1.5l-1.5,1.5l-1.5,-1.5zM673.81,569.25l1.5,1.5l-1.5,1.5l-1.5,-1.5zM673.11,584.14l1.5,1.5l-1.5,1.5l-1.5,-1.5zM674.98,582.59l1.5,1.5l-1.5,1.5l-1.5,-1.5zM673.65,561.68l1.5,1.5l-1.5,1.5l-1.5,-1.5zM673.9,563.06l1.5,1.5l-1.5,1.5l-1.5,-1.5zM674.2,564.46l1.5,1.5l-1.5,1.5l-1.5,-1.5z" fill="#ffa500" fill-opacity="0.140" stroke="#ffa500" stroke-opacity="0.200" stroke-width="0.7"/>
<rect x="672.8" y="561.2" width="2.6" height="21.8" rx="1.2" fill="#ffa500"/>
<rect x="744.4" y="550" width="2.6" height="42" rx="1.2" fill="#ffa500" fill-opacity="0.28"/>
<rect x="734.5" y="552" width="3" height="36" rx="1.2" fill="#ffa500" fill-opacity="0.2"/>
<path d="M737.21,565.01l1.5,1.5l-1.5,1.5l-1.5,-1.5zM737.25,568.57l1.5,1.5l-1.5,1.5l-1.5,-1.5zM736.1,569.53l1.5,1.5l-1.5,1.5l-1.5,-1.5zM734.56,565.87l1.5,1.5l-1.5,1.5l-1.5,-1.5zM735.05,546.67l1.5,1.5l-1.5,1.5l-1.5,-1.5zM736.9,554.08l1.5,1.5l-1.5,1.5l-1.5,-1.5zM735.92,578.41l1.5,1.5l-1.5,1.5l-1.5,-1.5zM736.17,560.84l1.5,1.5l-1.5,1.5l-1.5,-1.5zM736.06,570.94l1.5,1.5l-1.5,1.5l-1.5,-1.5zM736.85,551.17l1.5,1.5l-1.5,1.5l-1.5,-1.5zM736.18,557.43l1.5,1.5l-1.5,1.5l-1.5,-1.5zM735.33,580.48l1.5,1.5l-1.5,1.5l-1.5,-1.5zM736.02,571.22l1.5,1.5l-1.5,1.5l-1.5,-1.5zM736.78,586.65l1.5,1.5l-1.5,1.5l-1.5,-1.5zM745.49,577.13l1.5,1.5l-1.5,1.5l-1.5,-1.5zM745.61,572.11l1.5,1.5l-1.5,1.5l-1.5,-1.5zM745.99,569.12l1.5,1.5l-1.5,1.5l-1.5,-1.5zM745.67,570.4l1.5,1.5l-1.5,1.5l-1.5,-1.5zM746.48,581.46l1.5,1.5l-1.5,1.5l-1.5,-1.5zM746.35,593.61l1.5,1.5l-1.5,1.5l-1.5,-1.5zM745.12,574.48l1.5,1.5l-1.5,1.5l-1.5,-1.5zM746.49,588.5l1.5,1.5l-1.5,1.5l-1.5,-1.5zM744.87,552.58l1.5,1.5l-1.5,1.5l-1.5,-1.5zM745.48,550.13l1.5,1.5l-1.5,1.5l-1.5,-1.5zM745.08,550.16l1.5,1.5l-1.5,1.5l-1.5,-1.5zM745.94,585.7l1.5,1.5l-1.5,1.5l-1.5,-1.5zM746.39,554.22l1.5,1.5l-1.5,1.5l-1.5,-1.5zM746.03,579.51l1.5,1.5l-1.5,1.5l-1.5,-1.5z" fill="#ffa500" fill-opacity="0.126" stroke="#ffa500" stroke-opacity="0.180" stroke-width="0.7"/>
<path d="M670.64,577.79l1.5,1.5l-1.5,1.5l-1.5,-1.5zM720.61,583l1.5,1.5l-1.5,1.5l-1.5,-1.5zM704.57,582.48l1.5,1.5l-1.5,1.5l-1.5,-1.5zM498.41,570.61l1.5,1.5l-1.5,1.5l-1.5,-1.5zM763.57,575.37l1.5,1.5l-1.5,1.5l-1.5,-1.5zM751.26,561.44l1.5,1.5l-1.5,1.5l-1.5,-1.5zM626.03,564.91l1.5,1.5l-1.5,1.5l-1.5,-1.5zM647.69,573.42l1.5,1.5l-1.5,1.5l-1.5,-1.5zM493.8,564.13l1.5,1.5l-1.5,1.5l-1.5,-1.5zM571.05,582.32l1.5,1.5l-1.5,1.5l-1.5,-1.5zM712.06,562.65l1.5,1.5l-1.5,1.5l-1.5,-1.5zM721.17,562.11l1.5,1.5l-1.5,1.5l-1.5,-1.5zM669.06,561.79l1.5,1.5l-1.5,1.5l-1.5,-1.5zM490.51,581.16l1.5,1.5l-1.5,1.5l-1.5,-1.5zM550.74,564.1l1.5,1.5l-1.5,1.5l-1.5,-1.5zM774.9,581.18l1.5,1.5l-1.5,1.5l-1.5,-1.5zM573.9,583.5l1.5,1.5l-1.5,1.5l-1.5,-1.5zM646.37,576.12l1.5,1.5l-1.5,1.5l-1.5,-1.5zM549.39,582.97l1.5,1.5l-1.5,1.5l-1.5,-1.5zM690.29,583.63l1.5,1.5l-1.5,1.5l-1.5,-1.5zM749.19,566.27l1.5,1.5l-1.5,1.5l-1.5,-1.5zM594.75,562.81l1.5,1.5l-1.5,1.5l-1.5,-1.5zM532.25,560.19l1.5,1.5l-1.5,1.5l-1.5,-1.5zM577.39,574.18l1.5,1.5l-1.5,1.5l-1.5,-1.5zM490.98,576.13l1.5,1.5l-1.5,1.5l-1.5,-1.5zM587.99,566.56l1.5,1.5l-1.5,1.5l-1.5,-1.5zM727.37,571l1.5,1.5l-1.5,1.5l-1.5,-1.5zM581.58,571.01l1.5,1.5l-1.5,1.5l-1.5,-1.5zM694.35,559.98l1.5,1.5l-1.5,1.5l-1.5,-1.5zM772.78,559.09l1.5,1.5l-1.5,1.5l-1.5,-1.5zM707.44,580.47l1.5,1.5l-1.5,1.5l-1.5,-1.5zM495.24,578.98l1.5,1.5l-1.5,1.5l-1.5,-1.5zM596.19,573.54l1.5,1.5l-1.5,1.5l-1.5,-1.5zM492.63,559.71l1.5,1.5l-1.5,1.5l-1.5,-1.5zM542.47,583.33l1.5,1.5l-1.5,1.5l-1.5,-1.5zM546.99,578.15l1.5,1.5l-1.5,1.5l-1.5,-1.5zM759.6,582.99l1.5,1.5l-1.5,1.5l-1.5,-1.5zM589.87,567.72l1.5,1.5l-1.5,1.5l-1.5,-1.5zM642.16,578.67l1.5,1.5l-1.5,1.5l-1.5,-1.5zM521.34,577.96l1.5,1.5l-1.5,1.5l-1.5,-1.5zM721.2,580.85l1.5,1.5l-1.5,1.5l-1.5,-1.5zM500.62,583.09l1.5,1.5l-1.5,1.5l-1.5,-1.5zM516.44,567.36l1.5,1.5l-1.5,1.5l-1.5,-1.5zM667.14,582.37l1.5,1.5l-1.5,1.5l-1.5,-1.5zM588.59,582.53l1.5,1.5l-1.5,1.5l-1.5,-1.5zM648.09,566.62l1.5,1.5l-1.5,1.5l-1.5,-1.5zM581.87,563.11l1.5,1.5l-1.5,1.5l-1.5,-1.5zM512.68,562.37l1.5,1.5l-1.5,1.5l-1.5,-1.5zM689.86,584.41l1.5,1.5l-1.5,1.5l-1.5,-1.5zM536.84,559.76l1.5,1.5l-1.5,1.5l-1.5,-1.5zM776.14,572.37l1.5,1.5l-1.5,1.5l-1.5,-1.5zM607.71,564.67l1.5,1.5l-1.5,1.5l-1.5,-1.5zM662.25,579.98l1.5,1.5l-1.5,1.5l-1.5,-1.5zM622.14,569.47l1.5,1.5l-1.5,1.5l-1.5,-1.5zM506.16,582.32l1.5,1.5l-1.5,1.5l-1.5,-1.5zM499.49,571.33l1.5,1.5l-1.5,1.5l-1.5,-1.5zM733.14,561.89l1.5,1.5l-1.5,1.5l-1.5,-1.5zM702.18,583.19l1.5,1.5l-1.5,1.5l-1.5,-1.5zM672.82,578.99l1.5,1.5l-1.5,1.5l-1.5,-1.5zM520.92,569.8l1.5,1.5l-1.5,1.5l-1.5,-1.5z" fill="#ffa500" fill-opacity="0.126" stroke="#ffa500" stroke-opacity="0.180" stroke-width="0.7"/>
</g>
<g clip-path="url(#c40)">
<rect x="88.5" y="701" width="3" height="30" fill="#0000ff"/>
<path d="M88.4,700.98 L89.9,700.36 L91.4,701.45 L92.9,700.8 L94.4,699.83 L95.9,699.39 L97.4,700.31 L98.9,699.23 L100.4,698.48 L101.9,698.21 L103.41,697.41 L104.91,697.01 L106.41,697.79 L107.91,697.36 L109.41,696.51 L110.91,697.3 L112.41,697 L113.91,696.05 L115.41,696.61 L116.91,696.2 L118.41,695.61 L119.91,695.51 L121.41,695.58 L122.91,695.68 L124.41,695.87 L125.91,694.97 L127.41,695.56 L128.91,695.75 L130.41,695.16 L131.91,695.64 L133.42,695.11 L134.92,695.29 L136.42,695.24 L137.92,695.33 L139.42,694.63 L140.92,694.95 L142.42,694.75 L143.92,695.29 L145.42,694.76 L146.92,694.55 L148.42,695.48 L149.92,695.11 L151.42,695.39 L152.92,694.9 L154.42,695.5 L155.92,694.22 L157.42,694.54 L158.92,695.17 L160.42,694.95 L161.92,694.11 L163.43,693.93 L164.93,694.12 L166.43,695.18 L167.93,694.13 L169.43,694.46 L170.93,695.3 L172.43,694.86 L173.93,694.06 L175.43,694.84 L176.93,694.06 L178.43,694.19 L179.93,694.21 L181.43,695.04 L182.93,694.3 L184.43,694.54 L185.93,694.99 L187.43,695.03 L188.93,694.89 L190.43,694.06 L191.93,693.69 L193.44,694.21 L194.94,693.79 L196.44,694.71 L197.94,694.73 L199.44,694.19 L200.94,694.44 L202.44,694.66 L203.94,694.71 L205.44,694.16 L206.94,693.56 L208.44,694.19 L209.94,693.99 L211.44,693.76 L212.94,693.65 L214.44,693.58 L215.94,693.99 L217.44,693.8 L218.94,693.78 L220.44,693.35 L221.94,693.66 L223.45,694.14 L224.95,693.21 L226.45,694.16 L227.95,693.25 L229.45,694.36 L230.95,694.29 L232.45,693.68 L233.95,694.25 L235.45,694.11 L236.95,694.3 L238.45,694.13 L239.95,693.26 L241.45,693.8 L242.95,694.39 L244.45,693.28 L245.95,694.3 L247.45,694.06 L248.95,693.69 L250.45,693.64 L251.95,693.8 L253.46,693.67 L254.96,693.22 L256.46,693.54 L257.96,693.93 L259.46,693.81 L260.96,693.67 L262.46,694.8 L263.96,694.13 L265.46,694.27 L266.96,694.9 L268.46,694.83 L269.96,694.09 L271.46,694.77 L272.96,694.34 L274.46,693.67 L275.96,694.26 L277.46,694.94 L278.96,693.75 L280.46,694.94 L281.96,694.98 L283.47,694.61 L284.97,694.69 L286.47,694.78 L287.97,693.94 L289.47,694.93 L290.97,695.2 L292.47,695.22 L293.97,694.25 L295.47,695.19 L296.97,694.03 L298.47,694.8 L299.97,694.97 L301.47,694 L302.97,694.6 L304.47,693.96 L305.97,693.87 L307.47,694.34 L308.97,694.23 L310.47,695.25 L311.97,694.05 L313.48,695.08 L314.98,694.21 L316.48,694.39 L317.98,694.74 L319.48,694.12 L320.98,694.31 L322.48,694.52 L323.98,694.01 L325.48,695.08 L326.98,693.7 L328.48,693.85 L329.98,694.29 L331.48,693.88 L332.98,694.35 L334.48,694.8 L335.98,693.62 L337.48,694.33 L338.98,693.69 L340.48,693.92 L341.98,694.61 L343.49,693.6 L344.99,694.34 L346.49,694.28 L347.99,693.44 L349.49,694.48 L350.99,693.94 L352.49,693.47 L353.99,694.28 L355.49,693.96 L356.99,694.45 L358.49,694.29 L359.99,693.78 L361.49,693.96 L362.99,693.4 L364.49,693.89 L365.99,693.54 L367.49,693.37 L368.99,693.64 L370.49,693.71 L371.99,694.68 L373.5,694.25 L375,693.84 L376.5,694.1 L378,694.53 L379.5,694.21 L381,694.4 L382.5,695.74 L384,695.84 L385.5,697.2 L387,697.37 L387,710.65 L385.5,710.11 L384,710.08 L382.5,708.46 L381,708.52 L379.5,708.02 L378,708.17 L376.5,707.87 L375,707.53 L373.5,707.4 L371.99,707.34 L370.49,706.71 L368.99,706.93 L367.49,707.1 L365.99,706.68 L364.49,705.87 L362.99,705.77 L361.49,706.63 L359.99,706.16 L358.49,706.47 L356.99,705.52 L355.49,706.6 L353.99,705.72 L352.49,706.25 L350.99,705.94 L349.49,705.59 L347.99,704.84 L346.49,705.58 L344.99,705.22 L343.49,705.32 L341.98,705.76 L340.48,705.26 L338.98,704.39 L337.48,704.27 L335.98,704.81 L334.48,705.29 L332.98,705.49 L331.48,704.34 L329.98,704.43 L328.48,704.21 L326.98,705.62 L325.48,705.23 L323.98,704.9 L322.48,704.78 L320.98,705.15 L319.48,704.17 L317.98,704.52 L316.48,704.64 L314.98,704.96 L313.48,704.89 L311.97,704.88 L310.47,705.16 L308.97,705.53 L307.47,704.53 L305.97,704.17 L304.47,704.99 L302.97,704.78 L301.47,705.44 L299.97,704.29 L298.47,705.27 L296.97,705.23 L295.47,704.57 L293.97,705.31 L292.47,705.18 L290.97,704.26 L289.47,704.8 L287.97,704.7 L286.47,705.06 L284.97,705.56 L283.47,704.27 L281.96,704.66 L280.46,704.52 L278.96,705.11 L277.46,704.68 L275.96,704.7 L274.46,704.5 L272.96,704.89 L271.46,704.74 L269.96,705.21 L268.46,704.13 L266.96,704.26 L265.46,703.95 L263.96,704.9 L262.46,704.58 L260.96,704.88 L259.46,703.91 L257.96,704.23 L256.46,705.14 L254.96,703.87 L253.46,704.79 L251.95,704.91 L250.45,704.01 L248.95,704.25 L247.45,704.77 L245.95,704.73 L244.45,704.95 L242.95,704.83 L241.45,703.62 L239.95,703.73 L238.45,703.96 L236.95,704.18 L235.45,704.02 L233.95,704.11 L232.45,705.06 L230.95,704.39 L229.45,704.79 L227.95,704.8 L226.45,704.72 L224.95,703.71 L223.45,704.12 L221.94,705.07 L220.44,704.68 L218.94,704.9 L217.44,703.84 L215.94,704.31 L214.44,705.11 L212.94,703.84 L211.44,703.73 L209.94,704.53 L208.44,703.76 L206.94,705.11 L205.44,704.76 L203.94,704.2 L202.44,704.72 L200.94,704.64 L199.44,704.84 L197.94,704.53 L196.44,705.09 L194.94,704.61 L193.44,704.49 L191.93,705.09 L190.43,703.75 L188.93,704.54 L187.43,705.11 L185.93,704.33 L184.43,704.2 L182.93,703.86 L181.43,704.66 L179.93,705.1 L178.43,705.28 L176.93,704.05 L175.43,704.17 L173.93,704.56 L172.43,704.64 L170.93,704.71 L169.43,705.3 L167.93,704.21 L166.43,704.78 L164.93,704.57 L163.43,704.44 L161.92,704.72 L160.42,704.81 L158.92,705.54 L157.42,704.67 L155.92,705.49 L154.42,705.76 L152.92,705.15 L151.42,705.35 L149.92,705.47 L148.42,705.79 L146.92,704.65 L145.42,706.03 L143.92,705.89 L142.42,706.14 L140.92,705.59 L139.42,705.37 L137.92,705.93 L136.42,705.45 L134.92,705.55 L133.42,705.78 L131.91,706.97 L130.41,706.78 L128.91,706.69 L127.41,707.48 L125.91,706.99 L124.41,707.29 L122.91,707.47 L121.41,707.57 L119.91,707.29 L118.41,707.73 L116.91,708.08 L115.41,708.15 L113.91,708.94 L112.41,708.66 L110.91,707.88 L109.41,708.17 L107.91,708.96 L106.41,709.51 L104.91,710.13 L103.41,709.49 L101.9,710.76 L100.4,711.23 L98.9,710.62 L97.4,712.36 L95.9,712.2 L94.4,712.42 L92.9,713.71 L91.4,714.99 L89.9,714.04 L88.4,714.8Z" fill="#0000ff" fill-opacity="0.3"/>
<path d="M89,701.78 L90.5,701.09 L92,701.03 L93.51,700.89 L95.01,701.27 L96.51,700.22 L98.01,700.14 L99.51,699.46 L101.02,699.51 L102.52,699.43 L104.02,698.2 L105.52,697.99 L107.02,697.44 L108.53,697.55 L110.03,697.16 L111.53,697.72 L113.03,697.33 L114.53,697.66 L116.04,696.88 L117.54,697.53 L119.04,697.34 L120.54,696.87 L122.04,696.64 L123.55,695.94 L125.05,696.04 L126.55,695.98 L128.05,696.15 L129.55,696.13 L131.06,695.71 L132.56,696.09 L134.06,695.26 L135.56,695.8 L137.06,695.51 L138.57,696.03 L140.07,695.65 L141.57,695.71 L143.07,695.24 L144.57,695.88 L146.08,695.03 L147.58,695.36 L149.08,695.51 L150.58,694.93 L152.08,695.49 L153.59,695.61 L155.09,695.74 L156.59,694.99 L158.09,695.01 L159.59,694.99 L161.1,694.86 L162.6,695 L164.1,695.1 L165.6,695.67 L167.11,695.09 L168.61,695.18 L170.11,695.54 L171.61,694.96 L173.11,695.28 L174.62,695.1 L176.12,695.19 L177.62,694.87 L179.12,695.29 L180.62,695.23 L182.13,694.83 L183.63,695.13 L185.13,695.21 L186.63,694.59 L188.13,694.89 L189.64,694.48 L191.14,695.16 L192.64,694.85 L194.14,694.9 L195.64,694.83 L197.15,694.62 L198.65,694.92 L200.15,694.82 L201.65,695.32 L203.15,694.33 L204.66,694.83 L206.16,695.07 L207.66,694.74 L209.16,695.21 L210.66,694.32 L212.17,694.21 L213.67,694.28 L215.17,695.14 L216.67,694.39 L218.17,694.48 L219.68,694.32 L221.18,695.03 L222.68,694.89 L224.18,694.79 L225.68,694.49 L227.19,694.04 L228.69,694.99 L230.19,694.64 L231.69,694.13 L233.19,694.21 L234.7,694.61 L236.2,694.37 L237.7,694.4 L239.2,694.75 L240.7,694.17 L242.21,694.63 L243.71,694.6 L245.21,694.02 L246.71,694.54 L248.21,694.34 L249.72,694.38 L251.22,694.78 L252.72,694.81 L254.22,694.69 L255.72,694.16 L257.23,694.66 L258.73,694.94 L260.23,694.36 L261.73,694.85 L263.23,694.45 L264.74,694.95 L266.24,695.02 L267.74,695.3 L269.24,694.85 L270.74,694.48 L272.25,695.24 L273.75,695.37 L275.25,694.71 L276.75,694.54 L278.25,695.23 L279.76,694.65 L281.26,695.46 L282.76,694.82 L284.26,695.02 L285.76,694.91 L287.27,695.53 L288.77,694.93 L290.27,695.53 L291.77,695.38 L293.27,695.57 L294.78,695.73 L296.28,695.69 L297.78,695.25 L299.28,695.47 L300.78,694.82 L302.29,694.95 L303.79,695.48 L305.29,694.8 L306.79,695.44 L308.29,695.27 L309.8,695.44 L311.3,694.85 L312.8,695.13 L314.3,694.96 L315.81,694.72 L317.31,695.35 L318.81,695.08 L320.31,694.86 L321.81,694.59 L323.32,694.68 L324.82,695.05 L326.32,694.53 L327.82,694.54 L329.32,695.46 L330.83,695.27 L332.33,695.43 L333.83,695.01 L335.33,695.14 L336.83,695.17 L338.34,695.03 L339.84,694.84 L341.34,695.35 L342.84,694.82 L344.34,694.63 L345.85,694.69 L347.35,694.33 L348.85,695.15 L350.35,694.76 L351.85,694.45 L353.36,694.21 L354.86,694.35 L356.36,694.62 L357.86,694.73 L359.36,694.13 L360.87,694.67 L362.37,694.3 L363.87,694.82 L365.37,694.97 L366.87,694.81 L368.38,695.03 L369.88,694.72 L371.38,694.61 L372.88,694.98 L374.38,695.29 L375.89,694.97 L377.39,694.96 L378.89,695.1 L380.39,694.91 L381.89,695.84 L383.4,696.26 L384.9,697.31 L386.4,697.84 L386.4,709.27 L384.9,709.3 L383.4,708.8 L381.89,707.81 L380.39,707.04 L378.89,707.47 L377.39,706.9 L375.89,707.32 L374.38,706.32 L372.88,706.2 L371.38,706.36 L369.88,706.23 L368.38,705.89 L366.87,706.66 L365.37,706.42 L363.87,706.23 L362.37,705.46 L360.87,705.33 L359.36,705.16 L357.86,705.63 L356.36,705.06 L354.86,704.92 L353.36,704.72 L351.85,705.1 L350.35,704.83 L348.85,704.77 L347.35,705.07 L345.85,705.1 L344.34,704.37 L342.84,704.91 L341.34,704.43 L339.84,704.58 L338.34,704.06 L336.83,704.11 L335.33,704.41 L333.83,703.89 L332.33,703.92 L330.83,704.06 L329.32,704.27 L327.82,703.98 L326.32,704.28 L324.82,704.21 L323.32,704.29 L321.81,704.73 L320.31,704.04 L318.81,704.65 L317.31,704.2 L315.81,704.57 L314.3,703.93 L312.8,704.24 L311.3,704.74 L309.8,704.52 L308.29,704.26 L306.79,704.43 L305.29,704.74 L303.79,704.16 L302.29,704.01 L300.78,704.74 L299.28,704.1 L297.78,704.22 L296.28,704.47 L294.78,704.37 L293.27,704.12 L291.77,704.71 L290.27,703.88 L288.77,704.22 L287.27,704.63 L285.76,703.98 L284.26,704.5 L282.76,704.59 L281.26,703.79 L279.76,704.18 L278.25,704.51 L276.75,704.37 L275.25,703.92 L273.75,703.92 L272.25,704.49 L270.74,703.92 L269.24,703.95 L267.74,703.63 L266.24,703.67 L264.74,703.71 L263.23,704.24 L261.73,704.18 L260.23,703.83 L258.73,704.09 L257.23,703.98 L255.72,704.3 L254.22,704.13 L252.72,703.84 L251.22,703.84 L249.72,704.02 L248.21,703.63 L246.71,703.66 L245.21,703.35 L243.71,704.19 L242.21,703.57 L240.7,703.52 L239.2,703.47 L237.7,703.51 L236.2,703.47 L234.7,703.57 L233.19,703.52 L231.69,703.27 L230.19,704 L228.69,704 L227.19,703.66 L225.68,704.08 L224.18,703.61 L222.68,703.81 L221.18,703.81 L219.68,703.71 L218.17,704.13 L216.67,703.51 L215.17,703.83 L213.67,704.13 L212.17,703.4 L210.66,703.92 L209.16,703.78 L207.66,704.01 L206.16,703.59 L204.66,704.08 L203.15,704.16 L201.65,703.6 L200.15,703.81 L198.65,703.85 L197.15,703.8 L195.64,704.06 L194.14,703.55 L192.64,703.88 L191.14,703.72 L189.64,704.13 L188.13,703.74 L186.63,703.94 L185.13,703.96 L183.63,704.28 L182.13,703.96 L180.62,703.43 L179.12,703.61 L177.62,703.69 L176.12,704.46 L174.62,704.05 L173.11,704.06 L171.61,704.1 L170.11,703.94 L168.61,703.95 L167.11,703.96 L165.6,703.85 L164.1,704.2 L162.6,704.67 L161.1,703.97 L159.59,703.96 L158.09,704.88 L156.59,704.54 L155.09,704.26 L153.59,704.24 L152.08,704.33 L150.58,704.77 L149.08,704.96 L147.58,704.96 L146.08,704.34 L144.57,705.35 L143.07,704.72 L141.57,705.09 L140.07,704.97 L138.57,705.43 L137.06,705.12 L135.56,705.94 L134.06,705.53 L132.56,706.05 L131.06,706.13 L129.55,706.35 L128.05,706.68 L126.55,706.4 L125.05,707.15 L123.55,706.64 L122.04,707.39 L120.54,707.78 L119.04,707.79 L117.54,707.62 L116.04,708.37 L114.53,708.34 L113.03,708.28 L111.53,707.98 L110.03,707.11 L108.53,708.27 L107.02,708.2 L105.52,709.15 L104.02,709.15 L102.52,710.11 L101.02,710.6 L99.51,710.9 L98.01,710.75 L96.51,711.17 L95.01,711.78 L93.51,712.51 L92,714.1 L90.5,713.69 L89,714.21Z" fill="#0000ff"/>
<path d="M385.5,708.5l1.5,1.5l-1.5,1.5l-1.5,-1.5zM385.5,710.88l1.5,1.5l-1.5,1.5l-1.5,-1.5zM385.5,713.25l1.5,1.5l-1.5,1.5l-1.5,-1.5zM385.5,715.62l1.5,1.5l-1.5,1.5l-1.5,-1.5zM385.5,718l1.5,1.5l-1.5,1.5l-1.5,-1.5zM385.5,720.38l1.5,1.5l-1.5,1.5l-1.5,-1.5zM385.5,722.75l1.5,1.5l-1.5,1.5l-1.5,-1.5zM385.5,725.12l1.5,1.5l-1.5,1.5l-1.5,-1.5zM385.5,727.5l1.5,1.5l-1.5,1.5l-1.5,-1.5z" fill="#0000ff" fill-opacity="0.154" stroke="#0000ff" stroke-opacity="0.220" stroke-width="0.7"/>
<rect x="385" y="710" width="1" height="19" fill="#0000ff" fill-opacity="0.25"/>
<rect x="85" y="785.8" width="6.4" height="2" fill="#0000ff"/>
<rect x="96" y="785.8" width="4" height="2" fill="#0000ff"/>
<rect x="137.5" y="785.8" width="3.5" height="2" fill="#0000ff"/>
<rect x="190" y="785.8" width="4" height="2" fill="#0000ff"/>
<rect x="243" y="785.8" width="4" height="2" fill="#0000ff"/>
<rect x="296" y="785.8" width="3.5" height="2" fill="#0000ff"/>
<rect x="348.5" y="785.8" width="3.5" height="2" fill="#0000ff"/>
<rect x="377" y="785.8" width="4" height="2" fill="#0000ff"/>
<rect x="384" y="785.8" width="7.4" height="2" fill="#0000ff"/>
</g>
<g clip-path="url(#c41)">
<path d="M485.2,691.48 L486.7,690.71 L488.2,691.22 L489.7,691.04 L491.2,691.21 L492.71,690.18 L494.21,690.43 L495.71,690.67 L497.21,691.31 L498.71,689.62 L500.21,691.1 L501.71,690.77 L503.21,691.08 L504.71,690.33 L506.21,689.59 L507.72,690.79 L509.22,689.83 L510.72,691.44 L512.22,689.76 L513.72,691.06 L515.22,690.04 L516.72,690.22 L518.22,691.42 L519.72,690.83 L521.22,690.21 L522.73,689.58 L524.23,689.51 L525.73,690.89 L527.23,690.25 L528.73,690.15 L530.23,691.11 L531.73,690.3 L533.23,691.31 L534.73,689.68 L536.23,689.52 L537.74,690.59 L539.24,690.61 L540.74,690.38 L542.24,691.3 L543.74,691.26 L545.24,690.83 L546.74,689.79 L548.24,690.5 L549.74,690.94 L551.24,690.27 L552.75,691.42 L554.25,691.22 L555.75,690.11 L557.25,689.96 L558.75,689.97 L560.25,690.8 L561.75,690.75 L563.25,691.15 L564.75,691.25 L566.25,691.4 L567.76,691.09 L569.26,689.86 L570.76,691.13 L572.26,690.11 L573.76,689.78 L575.26,690.45 L576.76,690.58 L578.26,690.57 L579.76,691.25 L581.26,690.01 L582.77,690.12 L584.27,691.17 L585.77,691.26 L587.27,691.22 L588.77,690.89 L590.27,690.08 L591.77,691.01 L593.27,690.03 L594.77,691.43 L596.27,689.71 L597.78,691.1 L599.28,690.77 L600.78,689.86 L602.28,691.1 L603.78,690.81 L605.28,690.76 L606.78,691.37 L608.28,690.25 L609.78,690.5 L611.28,690.95 L612.79,691.43 L614.29,690.91 L615.79,691.49 L617.29,690.74 L618.79,690.9 L620.29,690.34 L621.79,689.95 L623.29,690.29 L624.79,690.42 L626.29,691.31 L627.8,691.12 L629.3,690.42 L630.8,690.15 L632.3,689.78 L633.8,690.72 L635.3,690.39 L636.8,690.68 L638.3,691.02 L639.8,691.4 L641.31,690.13 L642.81,689.53 L644.31,691.38 L645.81,690.52 L647.31,691.22 L648.81,690.87 L650.31,690.68 L651.81,690.62 L653.31,691.45 L654.81,690.62 L656.32,690.54 L657.82,689.7 L659.32,690.05 L660.82,691.16 L662.32,689.78 L663.82,690.36 L665.32,690.86 L666.82,690.66 L668.32,690.13 L669.82,691.42 L671.33,690.6 L672.83,689.87 L674.33,689.68 L675.83,689.68 L677.33,690.39 L678.83,690.59 L680.33,690.33 L681.83,689.76 L683.33,690.74 L684.83,690.82 L686.34,690.66 L687.84,690.95 L689.34,690.16 L690.84,691.13 L692.34,690.98 L693.84,691.16 L695.34,691.28 L696.84,690.97 L698.34,690.64 L699.84,691.31 L701.35,690.42 L702.85,690.8 L704.35,690.54 L705.85,690.3 L707.35,689.81 L708.85,689.95 L710.35,690.09 L711.85,689.8 L713.35,690.4 L714.85,689.97 L716.36,690.41 L717.86,690.31 L719.36,689.79 L720.86,690.98 L722.36,690.27 L723.86,689.56 L725.36,690.43 L726.86,689.76 L728.36,690.59 L729.86,690.58 L731.37,689.75 L732.87,690.72 L734.37,689.85 L735.87,690.5 L737.37,691.12 L738.87,689.79 L740.37,690.08 L741.87,690.32 L743.37,689.78 L744.87,691.36 L746.38,690.23 L747.88,691.16 L749.38,689.88 L750.88,690.8 L752.38,691.35 L753.88,690.9 L755.38,690.9 L756.88,691.37 L758.38,690.47 L759.88,691.43 L761.39,691.21 L762.89,689.78 L764.39,689.7 L765.89,691 L767.39,690.29 L768.89,690.78 L770.39,690.06 L771.89,691.17 L773.39,691.47 L774.89,689.65 L776.4,691.2 L777.9,690.2 L779.4,689.67 L780.9,690.52 L782.4,691.18 L782.4,695.94 L780.9,695.69 L779.4,696.32 L777.9,695.21 L776.4,696.38 L774.89,696.14 L773.39,696.12 L771.89,695.53 L770.39,696.76 L768.89,695.83 L767.39,696.85 L765.89,696.74 L764.39,695.65 L762.89,696.41 L761.39,696.95 L759.88,695.15 L758.38,695.32 L756.88,695.81 L755.38,696.64 L753.88,695.1 L752.38,695.83 L750.88,695.36 L749.38,696.7 L747.88,695.2 L746.38,695.58 L744.87,696.79 L743.37,696.57 L741.87,695.69 L740.37,696.48 L738.87,695.32 L737.37,695.27 L735.87,696.33 L734.37,695.67 L732.87,696.8 L731.37,695.71 L729.86,695.27 L728.36,695.36 L726.86,695.28 L725.36,696.63 L723.86,695.95 L722.36,695.3 L720.86,695.15 L719.36,696.95 L717.86,696.08 L716.36,696.57 L714.85,695.53 L713.35,696.18 L711.85,696.77 L710.35,696.22 L708.85,695.24 L707.35,696.1 L705.85,695.63 L704.35,695.12 L702.85,696.38 L701.35,695.97 L699.84,696.6 L698.34,695.16 L696.84,696.56 L695.34,696.57 L693.84,696.51 L692.34,696.81 L690.84,695.45 L689.34,695.69 L687.84,695.88 L686.34,695.63 L684.83,696.92 L683.33,695.46 L681.83,695.25 L680.33,696.74 L678.83,695.27 L677.33,696.57 L675.83,695.86 L674.33,696.48 L672.83,696.47 L671.33,695.8 L669.82,696.46 L668.32,696.68 L666.82,696.89 L665.32,695.78 L663.82,696.82 L662.32,695.11 L660.82,695.18 L659.32,695.68 L657.82,696.65 L656.32,696.37 L654.81,695.96 L653.31,696.61 L651.81,695.28 L650.31,696.08 L648.81,695.09 L647.31,695.1 L645.81,697 L644.31,695.5 L642.81,696.59 L641.31,695.65 L639.8,696.91 L638.3,696.41 L636.8,696.65 L635.3,695.44 L633.8,696.35 L632.3,695.62 L630.8,696.04 L629.3,696.88 L627.8,695.75 L626.29,696.15 L624.79,695.64 L623.29,696.69 L621.79,695.47 L620.29,695.81 L618.79,696.83 L617.29,696.52 L615.79,695 L614.29,695.95 L612.79,695.96 L611.28,695.36 L609.78,696.87 L608.28,695.96 L606.78,695.5 L605.28,696.54 L603.78,696.4 L602.28,695.43 L600.78,695.77 L599.28,695.8 L597.78,696.63 L596.27,695.52 L594.77,696.23 L593.27,696.65 L591.77,696.56 L590.27,696.08 L588.77,695.85 L587.27,695.76 L585.77,695.85 L584.27,696.71 L582.77,696.16 L581.26,696.89 L579.76,696.57 L578.26,695.27 L576.76,696.43 L575.26,696.43 L573.76,695.8 L572.26,696.05 L570.76,695.91 L569.26,695.6 L567.76,695.39 L566.25,696.23 L564.75,696.73 L563.25,695.09 L561.75,695.57 L560.25,695.02 L558.75,696.97 L557.25,695.51 L555.75,696.95 L554.25,696.45 L552.75,695.22 L551.24,696.27 L549.74,695.74 L548.24,696.58 L546.74,695.95 L545.24,696.43 L543.74,695.39 L542.24,696.97 L540.74,695.24 L539.24,696.58 L537.74,696.6 L536.23,695.39 L534.73,696.3 L533.23,695.8 L531.73,696.39 L530.23,696.84 L528.73,695.19 L527.23,696.09 L525.73,695.35 L524.23,696.58 L522.73,696.95 L521.22,696.67 L519.72,695.79 L518.22,695.67 L516.72,695.44 L515.22,695.39 L513.72,696.59 L512.22,696.3 L510.72,696.47 L509.22,696.98 L507.72,695.41 L506.21,696.68 L504.71,696.09 L503.21,695.43 L501.71,696.91 L500.21,695.66 L498.71,695.81 L497.21,695.04 L495.71,696.99 L494.21,695.9 L492.71,695.27 L491.2,696.48 L489.7,696.52 L488.2,695.22 L486.7,696.37 L485.2,695.22Z" fill="#ffa500" fill-opacity="0.14"/>
<path d="M485.2,696.85 L486.7,696.39 L488.2,696.01 L489.7,696.8 L491.2,695.31 L492.71,695.11 L494.21,696.26 L495.71,695.49 L497.21,696.98 L498.71,695.31 L500.21,695.09 L501.71,696.84 L503.21,695.04 L504.71,696.68 L506.21,696.9 L507.72,696.29 L509.22,696.38 L510.72,696.67 L512.22,695.52 L513.72,695.85 L515.22,695.83 L516.72,696.34 L518.22,696.2 L519.72,696.15 L521.22,696.05 L522.73,696.11 L524.23,696.82 L525.73,695.68 L527.23,696.4 L528.73,696.61 L530.23,696.99 L531.73,695.62 L533.23,696.02 L534.73,695.27 L536.23,695.95 L537.74,696.55 L539.24,695.55 L540.74,695.3 L542.24,695.79 L543.74,695.71 L545.24,696.5 L546.74,696.95 L548.24,695.81 L549.74,695.44 L551.24,695.07 L552.75,696.09 L554.25,696.36 L555.75,696.27 L557.25,695.57 L558.75,696.58 L560.25,695.83 L561.75,695.19 L563.25,695.36 L564.75,695.07 L566.25,696.99 L567.76,695.56 L569.26,695.47 L570.76,696.77 L572.26,695.09 L573.76,696.54 L575.26,696.1 L576.76,696.99 L578.26,696.49 L579.76,696.74 L581.26,695.23 L582.77,695.06 L584.27,695.5 L585.77,695.82 L587.27,695.99 L588.77,696.63 L590.27,695.05 L591.77,696.36 L593.27,695.98 L594.77,695.03 L596.27,696.27 L597.78,695.98 L599.28,696.64 L600.78,695.55 L602.28,696.25 L603.78,695.73 L605.28,696.74 L606.78,696.59 L608.28,696.82 L609.78,696.56 L611.28,696.36 L612.79,695.38 L614.29,696.69 L615.79,696.05 L617.29,696.75 L618.79,695.48 L620.29,696.49 L621.79,696.41 L623.29,695.62 L624.79,696.11 L626.29,695.43 L627.8,696.83 L629.3,695.4 L630.8,695.86 L632.3,695.03 L633.8,695.95 L635.3,696.06 L636.8,695.21 L638.3,696.21 L639.8,695.28 L641.31,695.19 L642.81,696.79 L644.31,695.8 L645.81,695.53 L647.31,695.8 L648.81,695.85 L650.31,695.91 L651.81,696.86 L653.31,695.32 L654.81,695.66 L656.32,695.64 L657.82,695.61 L659.32,695.77 L660.82,696.17 L662.32,696.65 L663.82,695.12 L665.32,695.3 L666.82,696.19 L668.32,696.84 L669.82,695 L671.33,696.66 L672.83,696.11 L674.33,695.02 L675.83,695.73 L677.33,695.89 L678.83,696.76 L680.33,695.54 L681.83,696.76 L683.33,695.29 L684.83,696.72 L686.34,695.66 L687.84,696.18 L689.34,696.72 L690.84,695.48 L692.34,696.6 L693.84,696.58 L695.34,695.53 L696.84,695.88 L698.34,695.96 L699.84,696.1 L701.35,696.94 L702.85,696.18 L704.35,696.15 L705.85,696.87 L707.35,695.09 L708.85,696.1 L710.35,695.11 L711.85,695.1 L713.35,695.11 L714.85,696.35 L716.36,696.03 L717.86,696.46 L719.36,696.84 L720.86,696.48 L722.36,696.88 L723.86,696.2 L725.36,696.56 L726.86,696.9 L728.36,696.99 L729.86,696.88 L731.37,696.85 L732.87,696.82 L734.37,696.61 L735.87,695.73 L737.37,696.59 L738.87,695.27 L740.37,695.1 L741.87,696.13 L743.37,696.61 L744.87,696.16 L746.38,696.6 L747.88,695.54 L749.38,695.77 L750.88,696.71 L752.38,695.79 L753.88,695.43 L755.38,696.7 L756.88,696.98 L758.38,696.83 L759.88,695.31 L761.39,696.8 L762.89,695.56 L764.39,696.06 L765.89,695.45 L767.39,696.98 L768.89,695.93 L770.39,695.81 L771.89,696.04 L773.39,695.88 L774.89,695.42 L776.4,695.43 L777.9,696.16 L779.4,696.38 L780.9,696.09 L782.4,696.41 L782.4,699.91 L780.9,699.21 L779.4,699.8 L777.9,699.43 L776.4,699.49 L774.89,699.04 L773.39,700.54 L771.89,700.1 L770.39,700.17 L768.89,699.84 L767.39,700.24 L765.89,699.79 L764.39,700.59 L762.89,699.02 L761.39,700.26 L759.88,699.17 L758.38,700.2 L756.88,700.82 L755.38,700.55 L753.88,699.43 L752.38,700.92 L750.88,700.04 L749.38,699.08 L747.88,700.32 L746.38,700.4 L744.87,700.88 L743.37,699.88 L741.87,699.66 L740.37,700.42 L738.87,700.71 L737.37,699.02 L735.87,699.74 L734.37,699.47 L732.87,699.33 L731.37,699.54 L729.86,699.38 L728.36,700.34 L726.86,699.69 L725.36,699.09 L723.86,700.94 L722.36,699.3 L720.86,700.7 L719.36,699.08 L717.86,699.72 L716.36,700.41 L714.85,699.27 L713.35,700.52 L711.85,700.53 L710.35,700.9 L708.85,700.67 L707.35,700.41 L705.85,700.33 L704.35,700.02 L702.85,699.2 L701.35,699.55 L699.84,699.38 L698.34,700.4 L696.84,699.17 L695.34,699.47 L693.84,699.48 L692.34,699.93 L690.84,699.24 L689.34,699.44 L687.84,699.2 L686.34,699.72 L684.83,700.11 L683.33,699.69 L681.83,700.49 L680.33,699.54 L678.83,700.67 L677.33,700.88 L675.83,699.88 L674.33,699.37 L672.83,700.09 L671.33,699.26 L669.82,700.24 L668.32,699.32 L666.82,700.53 L665.32,700.42 L663.82,699.15 L662.32,700.25 L660.82,700.35 L659.32,699.7 L657.82,699.16 L656.32,700.74 L654.81,700.25 L653.31,699.57 L651.81,700.22 L650.31,699.55 L648.81,699.03 L647.31,700.33 L645.81,700.26 L644.31,700.57 L642.81,699.7 L641.31,699.7 L639.8,700.44 L638.3,700.72 L636.8,699.98 L635.3,699.04 L633.8,699.98 L632.3,699.6 L630.8,699.15 L629.3,700.22 L627.8,700.9 L626.29,699.84 L624.79,699.3 L623.29,699 L621.79,700.99 L620.29,700.84 L618.79,699.89 L617.29,700.06 L615.79,700.07 L614.29,700.14 L612.79,699.54 L611.28,700.93 L609.78,700.7 L608.28,699.78 L606.78,699.39 L605.28,699.55 L603.78,700.04 L602.28,699.95 L600.78,700.84 L599.28,699.17 L597.78,700.5 L596.27,699.04 L594.77,700.24 L593.27,699.37 L591.77,700.43 L590.27,699.49 L588.77,700.98 L587.27,699.13 L585.77,700.98 L584.27,699.15 L582.77,700.73 L581.26,700.01 L579.76,699.17 L578.26,700.1 L576.76,700.66 L575.26,700.81 L573.76,699.88 L572.26,700.96 L570.76,699.64 L569.26,699.75 L567.76,700.35 L566.25,700.76 L564.75,699.37 L563.25,699.07 L561.75,699.75 L560.25,699.97 L558.75,700.56 L557.25,700.96 L555.75,699.17 L554.25,699.33 L552.75,699.17 L551.24,700.85 L549.74,699.63 L548.24,700.94 L546.74,700.9 L545.24,699 L543.74,699.28 L542.24,700.64 L540.74,700.02 L539.24,699.39 L537.74,699.75 L536.23,700.02 L534.73,700.24 L533.23,700.91 L531.73,700.9 L530.23,700.9 L528.73,699.07 L527.23,699.77 L525.73,699.1 L524.23,699.12 L522.73,700.4 L521.22,700.63 L519.72,699.14 L518.22,700.97 L516.72,699.49 L515.22,699.46 L513.72,700.54 L512.22,700.14 L510.72,700.63 L509.22,700.86 L507.72,699.33 L506.21,699.08 L504.71,699.04 L503.21,699.22 L501.71,699.24 L500.21,699.4 L498.71,700.67 L497.21,700.46 L495.71,699.25 L494.21,699 L492.71,700.76 L491.2,700.05 L489.7,700.02 L488.2,700.44 L486.7,700.8 L485.2,699.43Z" fill="#ffa500" fill-opacity="0.3"/>
<path d="M485.2,699.86 L486.7,699.37 L488.2,699.7 L489.7,699.18 L491.2,699.7 L492.71,699.99 L494.21,699.94 L495.71,699.11 L497.21,700.4 L498.71,700.01 L500.21,699.78 L501.71,700.15 L503.21,699.14 L504.71,699.64 L506.21,700.89 L507.72,700.43 L509.22,699.21 L510.72,700.75 L512.22,700.51 L513.72,700.99 L515.22,700.39 L516.72,700.63 L518.22,700.93 L519.72,699.51 L521.22,700.75 L522.73,700.76 L524.23,700.88 L525.73,700.59 L527.23,699.69 L528.73,700.05 L530.23,699.92 L531.73,700.38 L533.23,700.04 L534.73,699.44 L536.23,699.25 L537.74,699.92 L539.24,700.37 L540.74,699.6 L542.24,700.01 L543.74,700.93 L545.24,699.8 L546.74,700.07 L548.24,699.99 L549.74,699.25 L551.24,700.04 L552.75,700.21 L554.25,700.35 L555.75,700.63 L557.25,699.76 L558.75,699.75 L560.25,699.07 L561.75,700.13 L563.25,699.15 L564.75,699.5 L566.25,699.98 L567.76,699.75 L569.26,700.54 L570.76,700.46 L572.26,699.85 L573.76,700.62 L575.26,700.86 L576.76,699.46 L578.26,699.01 L579.76,700.99 L581.26,700.17 L582.77,699.37 L584.27,700.92 L585.77,699.44 L587.27,700.54 L588.77,700.27 L590.27,699.52 L591.77,699.06 L593.27,699.33 L594.77,700.99 L596.27,699.76 L597.78,700.74 L599.28,700.32 L600.78,700.1 L602.28,700.84 L603.78,700.74 L605.28,700.17 L606.78,699.4 L608.28,700.08 L609.78,700.53 L611.28,700.84 L612.79,700.28 L614.29,700.39 L615.79,700.98 L617.29,700.23 L618.79,699.55 L620.29,700.92 L621.79,699.04 L623.29,700.77 L624.79,699.71 L626.29,700.34 L627.8,700.92 L629.3,699.41 L630.8,699.42 L632.3,699.25 L633.8,699.75 L635.3,700.6 L636.8,700.14 L638.3,700.43 L639.8,699.19 L641.31,700.53 L642.81,699.1 L644.31,700.11 L645.81,700.8 L647.31,700.68 L648.81,700.93 L650.31,700.23 L651.81,700.65 L653.31,699.48 L654.81,700.73 L656.32,699.19 L657.82,699.86 L659.32,699.25 L660.82,699.2 L662.32,700.23 L663.82,699.42 L665.32,700.01 L666.82,700.38 L668.32,699.91 L669.82,700.08 L671.33,700.53 L672.83,700.39 L674.33,700.39 L675.83,699.14 L677.33,699.39 L678.83,700.1 L680.33,700.51 L681.83,699.26 L683.33,700.3 L684.83,700.94 L686.34,699.91 L687.84,699.35 L689.34,699.76 L690.84,700.34 L692.34,700.3 L693.84,700.77 L695.34,699.2 L696.84,699.57 L698.34,700.16 L699.84,699.19 L701.35,699.98 L702.85,700.49 L704.35,700.88 L705.85,699.9 L707.35,699.66 L708.85,699.02 L710.35,700.14 L711.85,700.64 L713.35,699.57 L714.85,700.65 L716.36,700.25 L717.86,700.41 L719.36,699.82 L720.86,699.82 L722.36,699.93 L723.86,700.36 L725.36,699.14 L726.86,700.18 L728.36,699.75 L729.86,700.67 L731.37,700.6 L732.87,699.48 L734.37,699.73 L735.87,700.33 L737.37,699.07 L738.87,699.49 L740.37,699.12 L741.87,699.67 L743.37,699.88 L744.87,699.17 L746.38,699.9 L747.88,699.74 L749.38,699.78 L750.88,699.51 L752.38,699.76 L753.88,699.52 L755.38,699.4 L756.88,699.34 L758.38,699.21 L759.88,699.62 L761.39,700.42 L762.89,699.21 L764.39,700.58 L765.89,699.18 L767.39,700.72 L768.89,699.9 L770.39,700.5 L771.89,700.91 L773.39,699.91 L774.89,700.01 L776.4,700.28 L777.9,699.96 L779.4,700.6 L780.9,699.69 L782.4,700.51 L782.4,704.98 L780.9,703.39 L779.4,703.7 L777.9,703 L776.4,703.75 L774.89,704.38 L773.39,704.52 L771.89,703.42 L770.39,704.58 L768.89,704.66 L767.39,703.22 L765.89,703.41 L764.39,704.51 L762.89,703.72 L761.39,704.28 L759.88,704 L758.38,704.82 L756.88,704.76 L755.38,703.73 L753.88,703.76 L752.38,704.75 L750.88,704.87 L749.38,704.43 L747.88,704.3 L746.38,703.8 L744.87,704.53 L743.37,704.49 L741.87,703.17 L740.37,703.35 L738.87,703.69 L737.37,703.63 L735.87,704.45 L734.37,703.38 L732.87,703.02 L731.37,704.28 L729.86,704.06 L728.36,703.58 L726.86,703.33 L725.36,704.31 L723.86,704.74 L722.36,704.17 L720.86,703.13 L719.36,703.62 L717.86,703.65 L716.36,703.6 L714.85,704.62 L713.35,703.26 L711.85,704.92 L710.35,703.67 L708.85,703.16 L707.35,703.52 L705.85,704.48 L704.35,703.03 L702.85,703.49 L701.35,703.71 L699.84,703.87 L698.34,703.63 L696.84,703.12 L695.34,703.06 L693.84,704.58 L692.34,703.58 L690.84,704.3 L689.34,704.65 L687.84,704.3 L686.34,703.56 L684.83,703.63 L683.33,703.24 L681.83,704.87 L680.33,704.2 L678.83,704.65 L677.33,703.39 L675.83,704.75 L674.33,704.65 L672.83,704.72 L671.33,703.51 L669.82,704.83 L668.32,703.57 L666.82,704.08 L665.32,704.01 L663.82,704.99 L662.32,704.17 L660.82,704.06 L659.32,704.99 L657.82,703.18 L656.32,704.84 L654.81,704.04 L653.31,703.19 L651.81,703.85 L650.31,703.95 L648.81,703.33 L647.31,703.44 L645.81,704.54 L644.31,703.8 L642.81,704.6 L641.31,704.34 L639.8,704.25 L638.3,704.46 L636.8,704.63 L635.3,704.77 L633.8,703.38 L632.3,703.16 L630.8,703.77 L629.3,704.03 L627.8,703.48 L626.29,704.62 L624.79,704.91 L623.29,704.94 L621.79,703.69 L620.29,703.32 L618.79,703.45 L617.29,703.56 L615.79,703.9 L614.29,704.67 L612.79,703.51 L611.28,703.67 L609.78,703.05 L608.28,704.28 L606.78,704.09 L605.28,703.26 L603.78,703.2 L602.28,703.41 L600.78,703.4 L599.28,703.99 L597.78,703.66 L596.27,703.65 L594.77,704.72 L593.27,703.03 L591.77,704.51 L590.27,704.73 L588.77,704.6 L587.27,703.23 L585.77,704.58 L584.27,703.04 L582.77,703.28 L581.26,704.83 L579.76,704.88 L578.26,704.36 L576.76,704.15 L575.26,704.85 L573.76,704.9 L572.26,703.4 L570.76,704.17 L569.26,703.18 L567.76,704.44 L566.25,704.7 L564.75,704.17 L563.25,704.74 L561.75,704.62 L560.25,704.66 L558.75,704.52 L557.25,703.57 L555.75,704.42 L554.25,703.21 L552.75,704.61 L551.24,703.04 L549.74,704.92 L548.24,703.52 L546.74,703.84 L545.24,704.46 L543.74,703.17 L542.24,704.22 L540.74,703.33 L539.24,704.78 L537.74,703.89 L536.23,703.03 L534.73,703.22 L533.23,703.76 L531.73,703.14 L530.23,704.57 L528.73,703.72 L527.23,703.92 L525.73,703.39 L524.23,703.55 L522.73,703.63 L521.22,703.3 L519.72,704.12 L518.22,704.75 L516.72,703.22 L515.22,703.79 L513.72,704.05 L512.22,703.55 L510.72,703.64 L509.22,704.5 L507.72,703.43 L506.21,704.96 L504.71,703.23 L503.21,704.11 L501.71,704.69 L500.21,704.47 L498.71,703.11 L497.21,703.62 L495.71,704.27 L494.21,703.89 L492.71,704.93 L491.2,704.23 L489.7,703.37 L488.2,704.78 L486.7,703.55 L485.2,704.26Z" fill="#ffa500" fill-opacity="0.6"/>
<path d="M485.2,761.94 L486.7,761.31 L488.2,761.24 L489.7,761.1 L491.2,762.39 L492.71,761.98 L494.21,762.45 L495.71,761.45 L497.21,762.83 L498.71,762.49 L500.21,761.32 L501.71,761.13 L503.21,761.73 L504.71,762.37 L506.21,761.93 L507.72,761.85 L509.22,762.15 L510.72,761.37 L512.22,761.5 L513.72,762.44 L515.22,762.43 L516.72,761.42 L518.22,761.45 L519.72,761.27 L521.22,761.52 L522.73,762.16 L524.23,762.74 L525.73,762.53 L527.23,762.86 L528.73,762.79 L530.23,762.19 L531.73,761.11 L533.23,761.94 L534.73,761.48 L536.23,761.78 L537.74,762.87 L539.24,762.33 L540.74,761.46 L542.24,762.32 L543.74,762.44 L545.24,761.77 L546.74,761.94 L548.24,762.46 L549.74,761.05 L551.24,761.9 L552.75,762.5 L554.25,761.01 L555.75,761.13 L557.25,762.26 L558.75,761.02 L560.25,762.07 L561.75,761.41 L563.25,761.5 L564.75,761.28 L566.25,761.28 L567.76,761.91 L569.26,762.19 L570.76,762.01 L572.26,762.71 L573.76,761.11 L575.26,761.03 L576.76,762.09 L578.26,761.24 L579.76,762.38 L581.26,761.49 L582.77,762.76 L584.27,761.56 L585.77,761.66 L587.27,761.24 L588.77,762.03 L590.27,762.4 L591.77,761.96 L593.27,761.13 L594.77,761.44 L596.27,761.23 L597.78,761.64 L599.28,762.39 L600.78,761.99 L602.28,762.87 L603.78,761.27 L605.28,761.27 L606.78,761.86 L608.28,762.13 L609.78,762.67 L611.28,762.81 L612.79,761.07 L614.29,761.5 L615.79,761.02 L617.29,761.65 L618.79,761.45 L620.29,762.78 L621.79,762.63 L623.29,762.6 L624.79,761.64 L626.29,761.63 L627.8,761.11 L629.3,761.98 L630.8,761.29 L632.3,762.66 L633.8,761.84 L635.3,761.57 L636.8,761.51 L638.3,762.29 L639.8,762.89 L641.31,762.53 L642.81,761.39 L644.31,761.14 L645.81,762.66 L647.31,761.66 L648.81,762.03 L650.31,762.45 L651.81,761.29 L653.31,762.5 L654.81,762.02 L656.32,762.45 L657.82,762.75 L659.32,761.84 L660.82,762.78 L662.32,761.62 L663.82,761.35 L665.32,761.78 L666.82,762.94 L668.32,762.94 L669.82,762.45 L671.33,762.88 L672.83,761.04 L674.33,761.76 L675.83,761.82 L677.33,762.47 L678.83,761.32 L680.33,761.6 L681.83,761.14 L683.33,761.2 L684.83,761.92 L686.34,762.85 L687.84,762.03 L689.34,762.97 L690.84,762.29 L692.34,762.82 L693.84,761.4 L695.34,762.77 L696.84,761.09 L698.34,761.11 L699.84,761.41 L701.35,762.84 L702.85,761.66 L704.35,761.93 L705.85,762.54 L707.35,762.07 L708.85,761.08 L710.35,761.94 L711.85,762.15 L713.35,762.55 L714.85,761.51 L716.36,761.01 L717.86,761.95 L719.36,761.64 L720.86,762.5 L722.36,761.61 L723.86,763 L725.36,761.69 L726.86,762.25 L728.36,762.5 L729.86,762.15 L731.37,761.7 L732.87,761.3 L734.37,761.51 L735.87,762.58 L737.37,761.65 L738.87,762.38 L740.37,761.08 L741.87,761.96 L743.37,762.35 L744.87,762.57 L746.38,762.49 L747.88,761.54 L749.38,762.81 L750.88,762.31 L752.38,761.26 L753.88,762.7 L755.38,761.6 L756.88,762.96 L758.38,761.74 L759.88,762.45 L761.39,762.27 L762.89,762.42 L764.39,761.9 L765.89,762.8 L767.39,762.06 L768.89,762.22 L770.39,761.13 L771.89,761.05 L773.39,761.03 L774.89,761.46 L776.4,762.63 L777.9,762.72 L779.4,761.99 L780.9,761.69 L782.4,762.54 L782.4,766 L780.9,766.61 L779.4,765 L777.9,766.89 L776.4,765.06 L774.89,766.77 L773.39,766.5 L771.89,765.72 L770.39,766.57 L768.89,766.86 L767.39,765.9 L765.89,766.74 L764.39,766.23 L762.89,766.55 L761.39,766.44 L759.88,765.67 L758.38,766.83 L756.88,765.92 L755.38,766.11 L753.88,766.15 L752.38,765.58 L750.88,766.23 L749.38,766.36 L747.88,765.44 L746.38,766.67 L744.87,766.59 L743.37,765.99 L741.87,766.42 L740.37,766.64 L738.87,766.65 L737.37,766.89 L735.87,765.09 L734.37,766.03 L732.87,766.97 L731.37,765.21 L729.86,765.7 L728.36,765.08 L726.86,766.51 L725.36,765.66 L723.86,765.73 L722.36,765.24 L720.86,766.87 L719.36,766.55 L717.86,766.76 L716.36,766.92 L714.85,766.32 L713.35,766.49 L711.85,765.4 L710.35,765.44 L708.85,765.37 L707.35,765.54 L705.85,765.01 L704.35,766.25 L702.85,765.71 L701.35,766.37 L699.84,765.23 L698.34,765.82 L696.84,766.24 L695.34,765.04 L693.84,766.49 L692.34,766.55 L690.84,765.79 L689.34,766.17 L687.84,765.98 L686.34,765.6 L684.83,765.21 L683.33,766.3 L681.83,766.7 L680.33,766.88 L678.83,765.65 L677.33,765.59 L675.83,765.8 L674.33,766.03 L672.83,766.07 L671.33,765.96 L669.82,766.69 L668.32,766.47 L666.82,766.51 L665.32,765.61 L663.82,765.15 L662.32,766.15 L660.82,766.9 L659.32,766.6 L657.82,766.51 L656.32,765.19 L654.81,765.89 L653.31,765.25 L651.81,765.28 L650.31,765.67 L648.81,766.42 L647.31,765.13 L645.81,766.62 L644.31,766.12 L642.81,765.22 L641.31,765.74 L639.8,766.79 L638.3,765.47 L636.8,766.59 L635.3,766.79 L633.8,765.53 L632.3,766.72 L630.8,765.88 L629.3,765.74 L627.8,765.47 L626.29,765.06 L624.79,765.44 L623.29,766.4 L621.79,765.45 L620.29,765.92 L618.79,765.63 L617.29,765.81 L615.79,766.06 L614.29,765.09 L612.79,766.98 L611.28,765.92 L609.78,765.89 L608.28,766.22 L606.78,766.69 L605.28,766.89 L603.78,766.2 L602.28,765.2 L600.78,765.07 L599.28,765.34 L597.78,765.07 L596.27,766.78 L594.77,765.59 L593.27,765.68 L591.77,766.94 L590.27,766.07 L588.77,766.71 L587.27,766.55 L585.77,765.56 L584.27,766.27 L582.77,765.47 L581.26,766.24 L579.76,766.34 L578.26,766.91 L576.76,765.44 L575.26,766.66 L573.76,765.61 L572.26,765.8 L570.76,765.78 L569.26,765.93 L567.76,765.92 L566.25,766.21 L564.75,766.47 L563.25,766.41 L561.75,765.53 L560.25,766.19 L558.75,765.3 L557.25,766.63 L555.75,766.97 L554.25,765.31 L552.75,766.39 L551.24,766.53 L549.74,766.72 L548.24,766 L546.74,765.12 L545.24,765.52 L543.74,766.87 L542.24,765.73 L540.74,766.48 L539.24,765.64 L537.74,766.47 L536.23,766.74 L534.73,766.93 L533.23,766.79 L531.73,765.62 L530.23,765.45 L528.73,766.05 L527.23,765.6 L525.73,765.59 L524.23,765.55 L522.73,765.92 L521.22,766.96 L519.72,765.18 L518.22,765.68 L516.72,765.81 L515.22,766.81 L513.72,765.23 L512.22,766.62 L510.72,766.16 L509.22,765.5 L507.72,765.78 L506.21,766.21 L504.71,765.41 L503.21,765.58 L501.71,766.18 L500.21,766.6 L498.71,766.1 L497.21,765.12 L495.71,766.51 L494.21,766.22 L492.71,765.31 L491.2,765.19 L489.7,765.85 L488.2,765.73 L486.7,766.8 L485.2,766.17Z" fill="#ffa500" fill-opacity="0.6"/>
<path d="M485.2,765.9 L486.7,765.51 L488.2,766.43 L489.7,765.87 L491.2,765.49 L492.71,766.45 L494.21,765.57 L495.71,765.5 L497.21,765.09 L498.71,765.56 L500.21,766.95 L501.71,766.9 L503.21,766.35 L504.71,766.67 L506.21,765.31 L507.72,766.68 L509.22,765.18 L510.72,765.36 L512.22,766.01 L513.72,766.22 L515.22,765.81 L516.72,765.99 L518.22,765.22 L519.72,765.66 L521.22,766.8 L522.73,765.29 L524.23,765.64 L525.73,765.83 L527.23,765.43 L528.73,766.96 L530.23,766.81 L531.73,766.65 L533.23,765.21 L534.73,766.98 L536.23,765.34 L537.74,765.49 L539.24,766.12 L540.74,766.89 L542.24,765.96 L543.74,765.92 L545.24,765.79 L546.74,765.2 L548.24,765.45 L549.74,765.87 L551.24,766.08 L552.75,765.4 L554.25,765.23 L555.75,766.79 L557.25,765.38 L558.75,765.24 L560.25,766.09 L561.75,765.35 L563.25,766.5 L564.75,766.18 L566.25,765.6 L567.76,765.38 L569.26,766.01 L570.76,765.25 L572.26,765.08 L573.76,765.44 L575.26,765.07 L576.76,766.51 L578.26,766.2 L579.76,766.54 L581.26,766 L582.77,765.48 L584.27,766.12 L585.77,765.78 L587.27,765.82 L588.77,765.81 L590.27,766.16 L591.77,766.56 L593.27,766.26 L594.77,765.91 L596.27,766.35 L597.78,766.76 L599.28,765.46 L600.78,765.76 L602.28,765.32 L603.78,766.3 L605.28,765.51 L606.78,766.07 L608.28,765.51 L609.78,766.77 L611.28,766.82 L612.79,766.43 L614.29,765.8 L615.79,766.33 L617.29,765.34 L618.79,765.49 L620.29,766.76 L621.79,766.28 L623.29,766.6 L624.79,766.82 L626.29,765.01 L627.8,766.29 L629.3,766.7 L630.8,766.45 L632.3,766.12 L633.8,766.05 L635.3,766.01 L636.8,765.26 L638.3,765.71 L639.8,766.91 L641.31,765.99 L642.81,766.63 L644.31,766.41 L645.81,765.38 L647.31,765.89 L648.81,766.01 L650.31,765.63 L651.81,765.28 L653.31,766.26 L654.81,765.1 L656.32,766.42 L657.82,765.26 L659.32,766.58 L660.82,766.83 L662.32,766.66 L663.82,766.1 L665.32,766.6 L666.82,766.05 L668.32,766.41 L669.82,765.77 L671.33,766.73 L672.83,766.32 L674.33,766.73 L675.83,765.46 L677.33,765.08 L678.83,765.59 L680.33,765.14 L681.83,766.27 L683.33,766.96 L684.83,766.61 L686.34,765.43 L687.84,766.49 L689.34,766.74 L690.84,766.99 L692.34,766.68 L693.84,765.69 L695.34,766.02 L696.84,766.26 L698.34,766.94 L699.84,765.63 L701.35,765.98 L702.85,766.21 L704.35,765.89 L705.85,766.12 L707.35,765.8 L708.85,765.45 L710.35,766.62 L711.85,765.99 L713.35,766.85 L714.85,765.83 L716.36,765.54 L717.86,765.9 L719.36,765.6 L720.86,765.06 L722.36,766.56 L723.86,765.39 L725.36,765.89 L726.86,765.93 L728.36,765.67 L729.86,765.46 L731.37,766.8 L732.87,766.84 L734.37,765.37 L735.87,766.91 L737.37,766.68 L738.87,766.15 L740.37,766.96 L741.87,765.61 L743.37,765.36 L744.87,765.79 L746.38,765.29 L747.88,766.2 L749.38,766.72 L750.88,765.55 L752.38,765.84 L753.88,765.68 L755.38,766.87 L756.88,765.37 L758.38,766.62 L759.88,766.67 L761.39,766.06 L762.89,765.95 L764.39,765.06 L765.89,765.13 L767.39,766.91 L768.89,766.63 L770.39,766.57 L771.89,765.79 L773.39,766.15 L774.89,765.28 L776.4,765.89 L777.9,765.63 L779.4,765.74 L780.9,765.36 L782.4,766.97 L782.4,771.49 L780.9,771.44 L779.4,771.67 L777.9,770.05 L776.4,770.18 L774.89,771.4 L773.39,770.51 L771.89,771.85 L770.39,770.23 L768.89,771.02 L767.39,770.25 L765.89,771.98 L764.39,771.74 L762.89,770.04 L761.39,771.97 L759.88,770.82 L758.38,771.72 L756.88,771.67 L755.38,770.02 L753.88,770.09 L752.38,771.23 L750.88,771.93 L749.38,770.76 L747.88,770.53 L746.38,772 L744.87,771.45 L743.37,771.86 L741.87,770.29 L740.37,771.12 L738.87,771.72 L737.37,771.05 L735.87,770.65 L734.37,771.03 L732.87,770.03 L731.37,771.52 L729.86,770.56 L728.36,770.94 L726.86,771.68 L725.36,770.5 L723.86,771.23 L722.36,770.61 L720.86,770.55 L719.36,770.33 L717.86,771.86 L716.36,771.62 L714.85,771.68 L713.35,771.3 L711.85,771.64 L710.35,771.73 L708.85,771.2 L707.35,771.58 L705.85,771.58 L704.35,770.69 L702.85,770.44 L701.35,771.01 L699.84,770.51 L698.34,770.98 L696.84,770.19 L695.34,770.66 L693.84,771.07 L692.34,770.11 L690.84,770.92 L689.34,771.57 L687.84,771.18 L686.34,770.26 L684.83,770.5 L683.33,770.4 L681.83,770.62 L680.33,771 L678.83,770.15 L677.33,771.97 L675.83,771.23 L674.33,771.15 L672.83,771.82 L671.33,771.46 L669.82,770.97 L668.32,771.99 L666.82,770.93 L665.32,771.97 L663.82,770.28 L662.32,770.56 L660.82,770.38 L659.32,771.73 L657.82,770.43 L656.32,771.82 L654.81,770.35 L653.31,771.72 L651.81,771.94 L650.31,770.66 L648.81,770.09 L647.31,771.05 L645.81,770.57 L644.31,770.37 L642.81,771.86 L641.31,770 L639.8,770.48 L638.3,770.44 L636.8,771.01 L635.3,770.29 L633.8,770.35 L632.3,770.14 L630.8,770.39 L629.3,771.89 L627.8,770.64 L626.29,770.15 L624.79,770.75 L623.29,770.85 L621.79,770.09 L620.29,771.55 L618.79,770.14 L617.29,770.7 L615.79,770.9 L614.29,770.43 L612.79,771.52 L611.28,770.7 L609.78,771.17 L608.28,770.92 L606.78,770.25 L605.28,770.28 L603.78,770.02 L602.28,770.86 L600.78,771.69 L599.28,770.95 L597.78,770.78 L596.27,771.98 L594.77,770.1 L593.27,770.73 L591.77,771.59 L590.27,771.14 L588.77,770.72 L587.27,770 L585.77,771.74 L584.27,770.88 L582.77,770.3 L581.26,770.8 L579.76,771.09 L578.26,770.52 L576.76,770.29 L575.26,771.53 L573.76,771.35 L572.26,771.04 L570.76,770.2 L569.26,771.6 L567.76,771.38 L566.25,770.36 L564.75,770.93 L563.25,772 L561.75,770.61 L560.25,770.49 L558.75,770.32 L557.25,770.74 L555.75,771.39 L554.25,771.3 L552.75,770.01 L551.24,771.37 L549.74,770.7 L548.24,770.17 L546.74,770.2 L545.24,770.58 L543.74,770.34 L542.24,771.24 L540.74,770.78 L539.24,770.79 L537.74,770.58 L536.23,770.33 L534.73,770.93 L533.23,771.23 L531.73,770.26 L530.23,771.9 L528.73,771.33 L527.23,771.63 L525.73,770.44 L524.23,770.52 L522.73,770.88 L521.22,770.75 L519.72,771.1 L518.22,771.66 L516.72,771.51 L515.22,771.93 L513.72,770.53 L512.22,770.79 L510.72,771.94 L509.22,771.09 L507.72,770.15 L506.21,770.17 L504.71,770.15 L503.21,770.31 L501.71,770.47 L500.21,771.35 L498.71,770.75 L497.21,770.02 L495.71,770.73 L494.21,771.17 L492.71,770.73 L491.2,771.86 L489.7,771.49 L488.2,771.93 L486.7,771.73 L485.2,771.5Z" fill="#ffa500" fill-opacity="0.32"/>
<path d="M485.2,771.34 L486.7,770.08 L488.2,770.42 L489.7,772 L491.2,771.5 L492.71,771.14 L494.21,770.91 L495.71,770.35 L497.21,771.31 L498.71,770.22 L500.21,771.75 L501.71,770.47 L503.21,771.63 L504.71,771.35 L506.21,771.66 L507.72,771.23 L509.22,771.72 L510.72,771.16 L512.22,771.58 L513.72,770.14 L515.22,770.12 L516.72,771.53 L518.22,770.7 L519.72,770.03 L521.22,771.53 L522.73,771.66 L524.23,771.52 L525.73,770.12 L527.23,770.75 L528.73,771.66 L530.23,770.54 L531.73,770.7 L533.23,770.62 L534.73,771.7 L536.23,770.42 L537.74,771.83 L539.24,771.45 L540.74,771.99 L542.24,770.88 L543.74,771.4 L545.24,771.84 L546.74,771.4 L548.24,771.46 L549.74,770.04 L551.24,771.1 L552.75,770.5 L554.25,771.75 L555.75,771.39 L557.25,770.86 L558.75,770.7 L560.25,771.01 L561.75,771.15 L563.25,771.28 L564.75,770.76 L566.25,771.16 L567.76,771.69 L569.26,770.78 L570.76,770.48 L572.26,770.15 L573.76,771.85 L575.26,770.97 L576.76,770.55 L578.26,770.64 L579.76,771.11 L581.26,770.94 L582.77,770.98 L584.27,771.15 L585.77,770.7 L587.27,770.85 L588.77,770.05 L590.27,770.6 L591.77,771.95 L593.27,771.24 L594.77,771.2 L596.27,770.74 L597.78,770.61 L599.28,770.3 L600.78,770.08 L602.28,770.84 L603.78,770.28 L605.28,770.66 L606.78,770.25 L608.28,770.61 L609.78,771.79 L611.28,770.28 L612.79,771.83 L614.29,770.18 L615.79,770.5 L617.29,770.11 L618.79,770.1 L620.29,771.98 L621.79,771.15 L623.29,771.83 L624.79,770.55 L626.29,771.35 L627.8,771.08 L629.3,771.57 L630.8,770.04 L632.3,771.71 L633.8,771.69 L635.3,770.82 L636.8,770.29 L638.3,770.51 L639.8,771.25 L641.31,770.28 L642.81,771.78 L644.31,771.39 L645.81,771.26 L647.31,770.66 L648.81,770.61 L650.31,771.86 L651.81,770.67 L653.31,771.05 L654.81,771.78 L656.32,771.42 L657.82,771.27 L659.32,771.89 L660.82,770.56 L662.32,771.67 L663.82,771.06 L665.32,770.1 L666.82,770.74 L668.32,770.75 L669.82,770.48 L671.33,771.96 L672.83,771.99 L674.33,770.5 L675.83,770.06 L677.33,770.68 L678.83,771.41 L680.33,771.05 L681.83,772 L683.33,771.47 L684.83,771 L686.34,770.84 L687.84,770.16 L689.34,770.78 L690.84,771.31 L692.34,770.44 L693.84,770.83 L695.34,770.04 L696.84,770.58 L698.34,771.97 L699.84,771.18 L701.35,771.64 L702.85,771.75 L704.35,771.94 L705.85,770.67 L707.35,770.55 L708.85,770.25 L710.35,770.53 L711.85,770.32 L713.35,770.65 L714.85,770.39 L716.36,770.03 L717.86,771.62 L719.36,770.04 L720.86,771.66 L722.36,771.28 L723.86,771.76 L725.36,771.54 L726.86,770.14 L728.36,770.43 L729.86,770.95 L731.37,770.77 L732.87,770.48 L734.37,770.7 L735.87,770.95 L737.37,771.18 L738.87,770.52 L740.37,771.03 L741.87,770.89 L743.37,771.75 L744.87,770.28 L746.38,770.47 L747.88,771.23 L749.38,770.71 L750.88,770.91 L752.38,770.57 L753.88,770.37 L755.38,770.5 L756.88,770.21 L758.38,771.91 L759.88,771.15 L761.39,770.76 L762.89,771 L764.39,770.95 L765.89,770.6 L767.39,770.76 L768.89,771.15 L770.39,771.26 L771.89,770.04 L773.39,771.75 L774.89,771.03 L776.4,770.96 L777.9,771.39 L779.4,770.13 L780.9,771.66 L782.4,771.06 L782.4,776.79 L780.9,777.63 L779.4,776.39 L777.9,777.03 L776.4,776.66 L774.89,777.42 L773.39,777.62 L771.89,777.58 L770.39,776.83 L768.89,777.7 L767.39,776.88 L765.89,777.22 L764.39,776.5 L762.89,777.54 L761.39,776.46 L759.88,776.45 L758.38,776.53 L756.88,776.89 L755.38,776.44 L753.88,776.81 L752.38,776.72 L750.88,777.9 L749.38,776.36 L747.88,776.44 L746.38,776.09 L744.87,777.97 L743.37,777.57 L741.87,777.08 L740.37,777.72 L738.87,777.04 L737.37,777.36 L735.87,776.32 L734.37,776.71 L732.87,777.56 L731.37,776.93 L729.86,777.79 L728.36,777.68 L726.86,777.66 L725.36,776.06 L723.86,777.51 L722.36,777.5 L720.86,776.68 L719.36,777.45 L717.86,777.37 L716.36,776.44 L714.85,776.41 L713.35,777.88 L711.85,777.73 L710.35,776.9 L708.85,777.53 L707.35,777.64 L705.85,777.87 L704.35,777.81 L702.85,776.99 L701.35,776.29 L699.84,776.9 L698.34,777.12 L696.84,776.64 L695.34,776.04 L693.84,777.49 L692.34,776.31 L690.84,776.23 L689.34,776.55 L687.84,776.78 L686.34,776.01 L684.83,777.43 L683.33,776.21 L681.83,777.48 L680.33,776.46 L678.83,777.63 L677.33,776.22 L675.83,777.55 L674.33,776.81 L672.83,777.18 L671.33,776.69 L669.82,777.64 L668.32,776.57 L666.82,777.03 L665.32,776.27 L663.82,776.95 L662.32,776.82 L660.82,776.37 L659.32,777.35 L657.82,777.31 L656.32,777.37 L654.81,776.56 L653.31,777.94 L651.81,777.89 L650.31,776.4 L648.81,777.14 L647.31,777.87 L645.81,776.25 L644.31,777.32 L642.81,776.89 L641.31,776.52 L639.8,776.69 L638.3,776.2 L636.8,777.55 L635.3,776.83 L633.8,777.79 L632.3,777.11 L630.8,776.68 L629.3,777.77 L627.8,777.44 L626.29,776.36 L624.79,777.46 L623.29,777.12 L621.79,776.3 L620.29,776.79 L618.79,777.01 L617.29,776.68 L615.79,776.63 L614.29,776.44 L612.79,776.6 L611.28,776.76 L609.78,777.67 L608.28,776.38 L606.78,777.02 L605.28,776.65 L603.78,777.89 L602.28,776.35 L600.78,776.03 L599.28,777.62 L597.78,776.81 L596.27,777.49 L594.77,777.04 L593.27,776.88 L591.77,776.35 L590.27,777.48 L588.77,777.33 L587.27,776.47 L585.77,776.78 L584.27,777.13 L582.77,776.85 L581.26,776.04 L579.76,776.98 L578.26,777.42 L576.76,777.35 L575.26,777.87 L573.76,777.21 L572.26,777.34 L570.76,776.71 L569.26,777.26 L567.76,777.06 L566.25,777.79 L564.75,776.83 L563.25,776.22 L561.75,776.28 L560.25,776.71 L558.75,776.65 L557.25,776.77 L555.75,776.9 L554.25,777.37 L552.75,777.81 L551.24,776.21 L549.74,776.28 L548.24,777.64 L546.74,776.75 L545.24,777.37 L543.74,777 L542.24,777.8 L540.74,776.6 L539.24,776.56 L537.74,777.81 L536.23,777.08 L534.73,776.28 L533.23,776.71 L531.73,776.42 L530.23,776.17 L528.73,777.13 L527.23,776.7 L525.73,777.09 L524.23,776.75 L522.73,776.13 L521.22,776.41 L519.72,776.17 L518.22,776.59 L516.72,777.01 L515.22,777.22 L513.72,778 L512.22,776.99 L510.72,776.74 L509.22,777.76 L507.72,777.97 L506.21,777.19 L504.71,777.77 L503.21,777.41 L501.71,777.05 L500.21,776.99 L498.71,776.78 L497.21,777.61 L495.71,777.96 L494.21,777.15 L492.71,777.12 L491.2,777.46 L489.7,777.25 L488.2,777.75 L486.7,777.84 L485.2,777.97Z" fill="#ffa500" fill-opacity="0.16"/>
<path d="M485.2,776.64 L486.7,776.76 L488.2,776.33 L489.7,776.74 L491.2,776.94 L492.71,776.63 L494.21,777.44 L495.71,776.53 L497.21,776.08 L498.71,776.32 L500.21,777.85 L501.71,777.28 L503.21,776.35 L504.71,776.72 L506.21,777.93 L507.72,777.57 L509.22,777.98 L510.72,776.18 L512.22,776.84 L513.72,777.3 L515.22,776.28 L516.72,776.21 L518.22,776.56 L519.72,776.98 L521.22,776.75 L522.73,776.57 L524.23,777.57 L525.73,777.9 L527.23,776.89 L528.73,776.7 L530.23,776.7 L531.73,777.94 L533.23,777.87 L534.73,776.99 L536.23,776.94 L537.74,776.85 L539.24,777.41 L540.74,776.61 L542.24,776.96 L543.74,777.98 L545.24,776.87 L546.74,776.49 L548.24,777.37 L549.74,776.07 L551.24,776.36 L552.75,776.21 L554.25,777.31 L555.75,776.16 L557.25,776.3 L558.75,777.61 L560.25,777.4 L561.75,777.47 L563.25,777.94 L564.75,777.11 L566.25,776.49 L567.76,776.07 L569.26,776.28 L570.76,776.3 L572.26,777.86 L573.76,776.76 L575.26,776.69 L576.76,777.83 L578.26,777.93 L579.76,777.91 L581.26,776.12 L582.77,777.83 L584.27,777.65 L585.77,776.65 L587.27,777.67 L588.77,777.36 L590.27,776.11 L591.77,777.79 L593.27,777.8 L594.77,777.28 L596.27,776.52 L597.78,776.7 L599.28,777.85 L600.78,776.1 L602.28,777.5 L603.78,777.88 L605.28,776.4 L606.78,776.33 L608.28,777.08 L609.78,776.73 L611.28,777.7 L612.79,777.1 L614.29,777.67 L615.79,776.83 L617.29,777.49 L618.79,777.68 L620.29,777.73 L621.79,776.3 L623.29,776.44 L624.79,776.96 L626.29,776.95 L627.8,777.49 L629.3,776.9 L630.8,777.02 L632.3,776.41 L633.8,776.32 L635.3,776.7 L636.8,776.83 L638.3,776.42 L639.8,777.55 L641.31,776.1 L642.81,776.9 L644.31,777.86 L645.81,777.13 L647.31,777.28 L648.81,776.3 L650.31,777.55 L651.81,776.11 L653.31,777.72 L654.81,777 L656.32,777.55 L657.82,776.27 L659.32,776.26 L660.82,777.92 L662.32,776.34 L663.82,777 L665.32,777.49 L666.82,776.73 L668.32,777.69 L669.82,777.83 L671.33,777.37 L672.83,777.09 L674.33,776.55 L675.83,776.46 L677.33,777.49 L678.83,776.42 L680.33,777.16 L681.83,777.28 L683.33,776.66 L684.83,776.17 L686.34,776.91 L687.84,776.23 L689.34,776.47 L690.84,777.77 L692.34,777.99 L693.84,777.65 L695.34,776.17 L696.84,776.88 L698.34,776.05 L699.84,777.65 L701.35,777.07 L702.85,777.1 L704.35,777.76 L705.85,777.74 L707.35,776.87 L708.85,777.69 L710.35,777.77 L711.85,776.07 L713.35,777.86 L714.85,777.33 L716.36,776.42 L717.86,777.43 L719.36,776.8 L720.86,777.69 L722.36,776.85 L723.86,777.86 L725.36,777.85 L726.86,777.46 L728.36,776.49 L729.86,777.42 L731.37,777.07 L732.87,776.01 L734.37,777.3 L735.87,777.11 L737.37,777.16 L738.87,777.67 L740.37,777.07 L741.87,777.09 L743.37,777.76 L744.87,776.81 L746.38,776.66 L747.88,776.44 L749.38,777.26 L750.88,777.67 L752.38,777.43 L753.88,776.35 L755.38,777.17 L756.88,776.9 L758.38,777.83 L759.88,777.71 L761.39,777.42 L762.89,777.41 L764.39,776.48 L765.89,776.41 L767.39,777.91 L768.89,776.43 L770.39,777.52 L771.89,777.58 L773.39,776.74 L774.89,777.5 L776.4,776.9 L777.9,777.32 L779.4,777.33 L780.9,777.36 L782.4,776.88 L782.4,782.81 L780.9,781.49 L779.4,781.97 L777.9,781.85 L776.4,782.55 L774.89,781.79 L773.39,782.14 L771.89,782.99 L770.39,781.91 L768.89,781.23 L767.39,782.65 L765.89,782.13 L764.39,782.61 L762.89,781.68 L761.39,781.38 L759.88,781.84 L758.38,781.1 L756.88,781.77 L755.38,782.36 L753.88,782.74 L752.38,781.9 L750.88,782.2 L749.38,782.24 L747.88,782.86 L746.38,781.64 L744.87,781.61 L743.37,781.02 L741.87,781.37 L740.37,781.9 L738.87,782.63 L737.37,781.23 L735.87,781.52 L734.37,782.49 L732.87,781.68 L731.37,781.82 L729.86,782.14 L728.36,781.74 L726.86,782.64 L725.36,782.69 L723.86,782.43 L722.36,781.94 L720.86,782.94 L719.36,782.94 L717.86,781.63 L716.36,781.44 L714.85,782.14 L713.35,782.96 L711.85,782.46 L710.35,781.48 L708.85,781.76 L707.35,782.58 L705.85,781.78 L704.35,782.2 L702.85,781.31 L701.35,782.04 L699.84,782.28 L698.34,781.99 L696.84,781.57 L695.34,781.41 L693.84,782.41 L692.34,782.01 L690.84,782.17 L689.34,782.44 L687.84,782.6 L686.34,782.92 L684.83,782.55 L683.33,781.13 L681.83,782.78 L680.33,782.79 L678.83,782.67 L677.33,782.31 L675.83,782.72 L674.33,782.63 L672.83,781.7 L671.33,781.4 L669.82,781.32 L668.32,782.58 L666.82,782.31 L665.32,781.69 L663.82,782.59 L662.32,781.08 L660.82,781.55 L659.32,782.31 L657.82,782.77 L656.32,781.23 L654.81,781.12 L653.31,781.19 L651.81,782.4 L650.31,781.87 L648.81,781.5 L647.31,781.29 L645.81,782.29 L644.31,781.99 L642.81,782.06 L641.31,782.31 L639.8,781.99 L638.3,782.23 L636.8,781.13 L635.3,782.22 L633.8,782.19 L632.3,781.8 L630.8,781.57 L629.3,781.49 L627.8,782.84 L626.29,781.5 L624.79,781.28 L623.29,781.16 L621.79,782.14 L620.29,782.3 L618.79,781.3 L617.29,781.96 L615.79,782.38 L614.29,782.57 L612.79,781.49 L611.28,781.99 L609.78,782.95 L608.28,782.07 L606.78,782.16 L605.28,782.89 L603.78,782.64 L602.28,782.35 L600.78,781.45 L599.28,782.09 L597.78,782.56 L596.27,781.66 L594.77,781.01 L593.27,782.93 L591.77,781.96 L590.27,782.25 L588.77,781.15 L587.27,781.47 L585.77,782.89 L584.27,782.42 L582.77,782.48 L581.26,782.19 L579.76,782.47 L578.26,781.29 L576.76,782.3 L575.26,782.15 L573.76,782.94 L572.26,781.89 L570.76,781.97 L569.26,782.87 L567.76,782.74 L566.25,782.24 L564.75,781.67 L563.25,782.18 L561.75,782.03 L560.25,781.01 L558.75,782.93 L557.25,782.35 L555.75,781.08 L554.25,782.1 L552.75,782.4 L551.24,782.41 L549.74,781.09 L548.24,781.39 L546.74,781.8 L545.24,781.11 L543.74,781.55 L542.24,782.83 L540.74,781.86 L539.24,781.42 L537.74,782.09 L536.23,781.95 L534.73,781.49 L533.23,781.31 L531.73,783 L530.23,781.68 L528.73,781.18 L527.23,781.01 L525.73,781.9 L524.23,782.24 L522.73,781.96 L521.22,781.57 L519.72,782.83 L518.22,782.4 L516.72,781.44 L515.22,782.46 L513.72,781.32 L512.22,781.05 L510.72,781.14 L509.22,782.31 L507.72,781.83 L506.21,782.05 L504.71,782.15 L503.21,782.13 L501.71,782.41 L500.21,781.58 L498.71,781.18 L497.21,782.94 L495.71,781.89 L494.21,781.76 L492.71,782.2 L491.2,781.22 L489.7,781.74 L488.2,782.03 L486.7,782.68 L485.2,781.18Z" fill="#ffa500" fill-opacity="0.07"/>
<path d="M485.2,703.28 L486.7,703.14 L488.2,703.18 L489.7,703.33 L491.2,703.75 L492.71,703.77 L494.21,703.54 L495.71,703.37 L497.21,703.32 L498.71,704.07 L500.21,704.28 L501.71,703.44 L503.21,702.76 L504.71,704.26 L506.21,703.9 L507.72,702.87 L509.22,703.07 L510.72,704.01 L512.22,703.63 L513.72,703.88 L515.22,703.2 L516.72,703.7 L518.22,703.13 L519.72,703.12 L521.22,702.93 L522.73,702.81 L524.23,702.95 L525.73,703.1 L527.23,702.88 L528.73,703.74 L530.23,702.71 L531.73,704.07 L533.23,703.25 L534.73,703.36 L536.23,703.02 L537.74,704.08 L539.24,703.1 L540.74,703.11 L542.24,704.25 L543.74,703.26 L545.24,704.16 L546.74,703.23 L548.24,703.88 L549.74,704.27 L551.24,703.92 L552.75,703.46 L554.25,704.18 L555.75,703.32 L557.25,703.27 L558.75,703.88 L560.25,703.3 L561.75,704 L563.25,703.16 L564.75,703.78 L566.25,704.03 L567.76,703.05 L569.26,703.31 L570.76,704.02 L572.26,703.71 L573.76,704.21 L575.26,703.54 L576.76,703.3 L578.26,703.73 L579.76,702.91 L581.26,702.86 L582.77,703.06 L584.27,704.23 L585.77,703.49 L587.27,703.71 L588.77,703.08 L590.27,703.63 L591.77,703.2 L593.27,703.92 L594.77,702.75 L596.27,702.93 L597.78,703.57 L599.28,703.9 L600.78,703.65 L602.28,704.18 L603.78,703.52 L605.28,702.9 L606.78,703.45 L608.28,704.29 L609.78,703.88 L611.28,702.98 L612.79,704.23 L614.29,702.75 L615.79,704.19 L617.29,703.2 L618.79,703.25 L620.29,702.87 L621.79,704.02 L623.29,703.7 L624.79,702.96 L626.29,703.96 L627.8,703.83 L629.3,704.21 L630.8,702.77 L632.3,703.15 L633.8,703.57 L635.3,704.07 L636.8,703.51 L638.3,703.37 L639.8,703.46 L641.31,702.77 L642.81,704.22 L644.31,703.06 L645.81,703.08 L647.31,703.69 L648.81,704.11 L650.31,703.98 L651.81,703.84 L653.31,703.35 L654.81,702.71 L656.32,704.27 L657.82,703.85 L659.32,702.77 L660.82,702.8 L662.32,702.76 L663.82,703.48 L665.32,703 L666.82,703.86 L668.32,703.01 L669.82,704.14 L671.33,703.75 L672.83,704.21 L674.33,703.72 L675.83,702.9 L677.33,703.97 L678.83,704.08 L680.33,704.23 L681.83,704.26 L683.33,702.95 L684.83,702.94 L686.34,702.93 L687.84,702.94 L689.34,702.95 L690.84,702.71 L692.34,702.75 L693.84,704.07 L695.34,703.76 L696.84,703.44 L698.34,704.24 L699.84,704.28 L701.35,703.31 L702.85,703.79 L704.35,703.54 L705.85,703.21 L707.35,702.83 L708.85,703.63 L710.35,703.06 L711.85,703.91 L713.35,703.1 L714.85,703.48 L716.36,704.23 L717.86,703.03 L719.36,704.21 L720.86,704.09 L722.36,702.79 L723.86,703.71 L725.36,703.75 L726.86,703.76 L728.36,703.16 L729.86,704.29 L731.37,703.12 L732.87,703.87 L734.37,704.16 L735.87,703.84 L737.37,703.98 L738.87,702.83 L740.37,702.73 L741.87,703.71 L743.37,703.28 L744.87,702.74 L746.38,703.99 L747.88,702.94 L749.38,704.12 L750.88,702.86 L752.38,703.7 L753.88,703.04 L755.38,702.92 L756.88,702.98 L758.38,702.84 L759.88,704.28 L761.39,703.11 L762.89,703.19 L764.39,704.15 L765.89,703.03 L767.39,703.22 L768.89,703.11 L770.39,703.6 L771.89,702.95 L773.39,702.98 L774.89,703.47 L776.4,702.97 L777.9,703.24 L779.4,703.71 L780.9,703.96 L782.4,704.24 L782.4,762.77 L780.9,762.88 L779.4,762.28 L777.9,762.88 L776.4,762 L774.89,762.52 L773.39,762.34 L771.89,762.57 L770.39,763.08 L768.89,763.18 L767.39,761.98 L765.89,762.28 L764.39,762.26 L762.89,762.35 L761.39,761.76 L759.88,763.26 L758.38,761.77 L756.88,762.34 L755.38,762.84 L753.88,762.77 L752.38,762.07 L750.88,762.03 L749.38,762.18 L747.88,761.86 L746.38,761.97 L744.87,761.92 L743.37,763.19 L741.87,763.09 L740.37,763.11 L738.87,763.3 L737.37,762.52 L735.87,762.23 L734.37,762.47 L732.87,763.19 L731.37,762.93 L729.86,762.86 L728.36,762.35 L726.86,762.86 L725.36,762.18 L723.86,761.76 L722.36,763.02 L720.86,761.99 L719.36,763.12 L717.86,762.41 L716.36,762.23 L714.85,762.53 L713.35,763.22 L711.85,762.52 L710.35,762.83 L708.85,762.61 L707.35,762.07 L705.85,762.48 L704.35,763.06 L702.85,763.06 L701.35,763.27 L699.84,763.3 L698.34,762.8 L696.84,763.17 L695.34,761.73 L693.84,762.76 L692.34,762.93 L690.84,761.88 L689.34,762.42 L687.84,762.08 L686.34,762.46 L684.83,763.04 L683.33,761.77 L681.83,762.59 L680.33,762.5 L678.83,763.17 L677.33,762.64 L675.83,761.94 L674.33,761.92 L672.83,763.19 L671.33,761.93 L669.82,763.21 L668.32,762.94 L666.82,762.92 L665.32,762.98 L663.82,761.75 L662.32,762.19 L660.82,762.16 L659.32,761.96 L657.82,762.32 L656.32,763.06 L654.81,763.29 L653.31,762.8 L651.81,762.09 L650.31,761.99 L648.81,762.17 L647.31,762.68 L645.81,763.26 L644.31,761.84 L642.81,763.29 L641.31,762.9 L639.8,762.13 L638.3,762.69 L636.8,763.03 L635.3,762.15 L633.8,762.82 L632.3,761.76 L630.8,762.56 L629.3,762.71 L627.8,763.07 L626.29,761.9 L624.79,762.37 L623.29,762.99 L621.79,761.97 L620.29,762.36 L618.79,762.8 L617.29,763.12 L615.79,763.14 L614.29,762.88 L612.79,763.02 L611.28,761.93 L609.78,763.3 L608.28,762.51 L606.78,761.7 L605.28,762.61 L603.78,762.65 L602.28,762.26 L600.78,761.89 L599.28,762.07 L597.78,763.26 L596.27,763.04 L594.77,762.28 L593.27,762.63 L591.77,762.64 L590.27,762.41 L588.77,762.4 L587.27,762.14 L585.77,762.22 L584.27,763.17 L582.77,762.77 L581.26,762.25 L579.76,762.59 L578.26,761.87 L576.76,762.06 L575.26,762.07 L573.76,762.51 L572.26,762.38 L570.76,762.65 L569.26,761.81 L567.76,762.09 L566.25,762.77 L564.75,762.15 L563.25,762.64 L561.75,762.35 L560.25,762.4 L558.75,762.35 L557.25,762.94 L555.75,762.16 L554.25,762.81 L552.75,763.21 L551.24,761.77 L549.74,762.18 L548.24,762.37 L546.74,762.03 L545.24,762.82 L543.74,761.74 L542.24,762.8 L540.74,762.12 L539.24,762.64 L537.74,762.53 L536.23,761.93 L534.73,762.57 L533.23,761.96 L531.73,762.41 L530.23,762.05 L528.73,763.15 L527.23,762.61 L525.73,762.54 L524.23,761.75 L522.73,762.97 L521.22,762.38 L519.72,761.75 L518.22,762.1 L516.72,762.08 L515.22,761.96 L513.72,762.39 L512.22,762.16 L510.72,762.43 L509.22,762.17 L507.72,761.84 L506.21,762.9 L504.71,762.46 L503.21,762.68 L501.71,762.8 L500.21,762.3 L498.71,762.54 L497.21,762.54 L495.71,762.06 L494.21,763.24 L492.71,762.86 L491.2,762.13 L489.7,761.97 L488.2,762.3 L486.7,761.81 L485.2,762.39Z" fill="#ffa500"/>
<path d="M720.98,696.01l1.5,1.5l-1.5,1.5l-1.5,-1.5zM629.35,688.16l1.5,1.5l-1.5,1.5l-1.5,-1.5zM485.33,693.78l1.5,1.5l-1.5,1.5l-1.5,-1.5zM624.96,695.14l1.5,1.5l-1.5,1.5l-1.5,-1.5zM596.1,695.28l1.5,1.5l-1.5,1.5l-1.5,-1.5zM566.25,695.73l1.5,1.5l-1.5,1.5l-1.5,-1.5zM702.1,690.3l1.5,1.5l-1.5,1.5l-1.5,-1.5zM645.18,694.05l1.5,1.5l-1.5,1.5l-1.5,-1.5zM542.56,692.25l1.5,1.5l-1.5,1.5l-1.5,-1.5zM724.48,688.22l1.5,1.5l-1.5,1.5l-1.5,-1.5zM723.96,694.1l1.5,1.5l-1.5,1.5l-1.5,-1.5zM736.12,689.2l1.5,1.5l-1.5,1.5l-1.5,-1.5zM512.88,695.7l1.5,1.5l-1.5,1.5l-1.5,-1.5zM724.38,690.73l1.5,1.5l-1.5,1.5l-1.5,-1.5zM513.07,687.26l1.5,1.5l-1.5,1.5l-1.5,-1.5zM673.9,688.58l1.5,1.5l-1.5,1.5l-1.5,-1.5zM767.95,692.74l1.5,1.5l-1.5,1.5l-1.5,-1.5zM544.9,693.68l1.5,1.5l-1.5,1.5l-1.5,-1.5zM592.3,697.56l1.5,1.5l-1.5,1.5l-1.5,-1.5zM755.51,691.71l1.5,1.5l-1.5,1.5l-1.5,-1.5zM676.77,694.27l1.5,1.5l-1.5,1.5l-1.5,-1.5zM724.6,698.17l1.5,1.5l-1.5,1.5l-1.5,-1.5zM493.65,689.56l1.5,1.5l-1.5,1.5l-1.5,-1.5zM664.04,688.76l1.5,1.5l-1.5,1.5l-1.5,-1.5zM660.3,685.76l1.5,1.5l-1.5,1.5l-1.5,-1.5zM746.76,691.85l1.5,1.5l-1.5,1.5l-1.5,-1.5zM519.92,693.78l1.5,1.5l-1.5,1.5l-1.5,-1.5zM578.01,687.25l1.5,1.5l-1.5,1.5l-1.5,-1.5zM628.97,686.43l1.5,1.5l-1.5,1.5l-1.5,-1.5zM547.58,696.62l1.5,1.5l-1.5,1.5l-1.5,-1.5zM692.71,684.68l1.5,1.5l-1.5,1.5l-1.5,-1.5zM716.44,684.74l1.5,1.5l-1.5,1.5l-1.5,-1.5zM584.14,697.16l1.5,1.5l-1.5,1.5l-1.5,-1.5zM669.54,688.79l1.5,1.5l-1.5,1.5l-1.5,-1.5zM597.36,689.95l1.5,1.5l-1.5,1.5l-1.5,-1.5zM522.9,698.5l1.5,1.5l-1.5,1.5l-1.5,-1.5zM501.2,690.42l1.5,1.5l-1.5,1.5l-1.5,-1.5zM707,690.07l1.5,1.5l-1.5,1.5l-1.5,-1.5zM776.75,687.93l1.5,1.5l-1.5,1.5l-1.5,-1.5zM776.23,696.99l1.5,1.5l-1.5,1.5l-1.5,-1.5zM684.39,696.95l1.5,1.5l-1.5,1.5l-1.5,-1.5zM618.11,696.14l1.5,1.5l-1.5,1.5l-1.5,-1.5zM721.8,691.73l1.5,1.5l-1.5,1.5l-1.5,-1.5zM625.16,694.38l1.5,1.5l-1.5,1.5l-1.5,-1.5zM606.77,685.7l1.5,1.5l-1.5,1.5l-1.5,-1.5zM707.06,688.22l1.5,1.5l-1.5,1.5l-1.5,-1.5zM630.13,695.48l1.5,1.5l-1.5,1.5l-1.5,-1.5zM536.36,684.81l1.5,1.5l-1.5,1.5l-1.5,-1.5zM521.9,692.75l1.5,1.5l-1.5,1.5l-1.5,-1.5zM592.5,688.09l1.5,1.5l-1.5,1.5l-1.5,-1.5zM619.4,697.49l1.5,1.5l-1.5,1.5l-1.5,-1.5zM560.92,690.25l1.5,1.5l-1.5,1.5l-1.5,-1.5zM746.53,693.07l1.5,1.5l-1.5,1.5l-1.5,-1.5zM564.83,691.15l1.5,1.5l-1.5,1.5l-1.5,-1.5zM627.42,686.49l1.5,1.5l-1.5,1.5l-1.5,-1.5zM597.39,688.78l1.5,1.5l-1.5,1.5l-1.5,-1.5zM724.37,689.03l1.5,1.5l-1.5,1.5l-1.5,-1.5zM681.13,698.09l1.5,1.5l-1.5,1.5l-1.5,-1.5zM759.54,689.76l1.5,1.5l-1.5,1.5l-1.5,-1.5zM664.42,688.98l1.5,1.5l-1.5,1.5l-1.5,-1.5zM603.57,691.33l1.5,1.5l-1.5,1.5l-1.5,-1.5zM721.01,697.61l1.5,1.5l-1.5,1.5l-1.5,-1.5zM571.62,684.59l1.5,1.5l-1.5,1.5l-1.5,-1.5zM618.75,685.3l1.5,1.5l-1.5,1.5l-1.5,-1.5zM494.15,695.33l1.5,1.5l-1.5,1.5l-1.5,-1.5zM518.53,694.56l1.5,1.5l-1.5,1.5l-1.5,-1.5zM592.79,697.64l1.5,1.5l-1.5,1.5l-1.5,-1.5zM738.86,685.37l1.5,1.5l-1.5,1.5l-1.5,-1.5zM542.45,697.76l1.5,1.5l-1.5,1.5l-1.5,-1.5zM667.51,690.41l1.5,1.5l-1.5,1.5l-1.5,-1.5zM717.7,695.89l1.5,1.5l-1.5,1.5l-1.5,-1.5zM631.33,691.06l1.5,1.5l-1.5,1.5l-1.5,-1.5zM514.97,689.57l1.5,1.5l-1.5,1.5l-1.5,-1.5zM528.28,693.26l1.5,1.5l-1.5,1.5l-1.5,-1.5zM665.48,686.52l1.5,1.5l-1.5,1.5l-1.5,-1.5zM671.84,685.86l1.5,1.5l-1.5,1.5l-1.5,-1.5zM516.53,693.54l1.5,1.5l-1.5,1.5l-1.5,-1.5zM622.72,697.09l1.5,1.5l-1.5,1.5l-1.5,-1.5zM672.2,694.32l1.5,1.5l-1.5,1.5l-1.5,-1.5zM522.95,696.16l1.5,1.5l-1.5,1.5l-1.5,-1.5zM510.03,693.15l1.5,1.5l-1.5,1.5l-1.5,-1.5zM756.07,697.21l1.5,1.5l-1.5,1.5l-1.5,-1.5zM750.69,690.83l1.5,1.5l-1.5,1.5l-1.5,-1.5zM691.4,695.58l1.5,1.5l-1.5,1.5l-1.5,-1.5zM525.94,697.71l1.5,1.5l-1.5,1.5l-1.5,-1.5zM755.29,690.67l1.5,1.5l-1.5,1.5l-1.5,-1.5zM716.57,690.76l1.5,1.5l-1.5,1.5l-1.5,-1.5zM567.35,694.47l1.5,1.5l-1.5,1.5l-1.5,-1.5zM504.12,695.7l1.5,1.5l-1.5,1.5l-1.5,-1.5zM775.88,688.5l1.5,1.5l-1.5,1.5l-1.5,-1.5zM764.47,685.67l1.5,1.5l-1.5,1.5l-1.5,-1.5zM740.22,688.42l1.5,1.5l-1.5,1.5l-1.5,-1.5zM772.36,690.53l1.5,1.5l-1.5,1.5l-1.5,-1.5zM759.27,684.95l1.5,1.5l-1.5,1.5l-1.5,-1.5zM510.65,695.93l1.5,1.5l-1.5,1.5l-1.5,-1.5zM674.98,692l1.5,1.5l-1.5,1.5l-1.5,-1.5zM494.92,686.93l1.5,1.5l-1.5,1.5l-1.5,-1.5zM595.31,685.23l1.5,1.5l-1.5,1.5l-1.5,-1.5zM780.33,695.21l1.5,1.5l-1.5,1.5l-1.5,-1.5zM767.48,694.31l1.5,1.5l-1.5,1.5l-1.5,-1.5zM587.28,685.59l1.5,1.5l-1.5,1.5l-1.5,-1.5zM702.61,686.1l1.5,1.5l-1.5,1.5l-1.5,-1.5zM647.81,691l1.5,1.5l-1.5,1.5l-1.5,-1.5zM632.17,685.55l1.5,1.5l-1.5,1.5l-1.5,-1.5zM507.18,691.78l1.5,1.5l-1.5,1.5l-1.5,-1.5zM494.26,691.86l1.5,1.5l-1.5,1.5l-1.5,-1.5zM529.87,688.44l1.5,1.5l-1.5,1.5l-1.5,-1.5zM530.08,692.46l1.5,1.5l-1.5,1.5l-1.5,-1.5zM600.61,687.62l1.5,1.5l-1.5,1.5l-1.5,-1.5zM551.06,692.4l1.5,1.5l-1.5,1.5l-1.5,-1.5zM755.82,690.37l1.5,1.5l-1.5,1.5l-1.5,-1.5zM533.7,688.93l1.5,1.5l-1.5,1.5l-1.5,-1.5zM556.63,692.51l1.5,1.5l-1.5,1.5l-1.5,-1.5zM718.92,692.46l1.5,1.5l-1.5,1.5l-1.5,-1.5zM541.12,689.05l1.5,1.5l-1.5,1.5l-1.5,-1.5zM598.46,690.67l1.5,1.5l-1.5,1.5l-1.5,-1.5zM603.34,698.47l1.5,1.5l-1.5,1.5l-1.5,-1.5zM648.97,693.77l1.5,1.5l-1.5,1.5l-1.5,-1.5zM698.11,693.53l1.5,1.5l-1.5,1.5l-1.5,-1.5zM724.52,689.71l1.5,1.5l-1.5,1.5l-1.5,-1.5zM683.3,698.12l1.5,1.5l-1.5,1.5l-1.5,-1.5zM533.98,693.26l1.5,1.5l-1.5,1.5l-1.5,-1.5zM599.53,685.35l1.5,1.5l-1.5,1.5l-1.5,-1.5zM497.05,695.13l1.5,1.5l-1.5,1.5l-1.5,-1.5zM519.26,694.45l1.5,1.5l-1.5,1.5l-1.5,-1.5zM514.96,689.65l1.5,1.5l-1.5,1.5l-1.5,-1.5zM494.76,692.1l1.5,1.5l-1.5,1.5l-1.5,-1.5zM718.92,687.66l1.5,1.5l-1.5,1.5l-1.5,-1.5zM653.21,697.41l1.5,1.5l-1.5,1.5l-1.5,-1.5zM572.43,691.09l1.5,1.5l-1.5,1.5l-1.5,-1.5zM700.42,696.6l1.5,1.5l-1.5,1.5l-1.5,-1.5zM535.31,693.76l1.5,1.5l-1.5,1.5l-1.5,-1.5zM520.88,686.07l1.5,1.5l-1.5,1.5l-1.5,-1.5zM777.42,685.2l1.5,1.5l-1.5,1.5l-1.5,-1.5zM758.56,695l1.5,1.5l-1.5,1.5l-1.5,-1.5zM686.09,694.71l1.5,1.5l-1.5,1.5l-1.5,-1.5zM678.67,688.52l1.5,1.5l-1.5,1.5l-1.5,-1.5zM616.97,687.33l1.5,1.5l-1.5,1.5l-1.5,-1.5zM740.58,695.4l1.5,1.5l-1.5,1.5l-1.5,-1.5zM719.26,687.5l1.5,1.5l-1.5,1.5l-1.5,-1.5zM661.21,688.07l1.5,1.5l-1.5,1.5l-1.5,-1.5zM720.15,694.93l1.5,1.5l-1.5,1.5l-1.5,-1.5zM780.95,694.41l1.5,1.5l-1.5,1.5l-1.5,-1.5zM688.45,695.38l1.5,1.5l-1.5,1.5l-1.5,-1.5zM513.04,692.84l1.5,1.5l-1.5,1.5l-1.5,-1.5zM494.93,689.64l1.5,1.5l-1.5,1.5l-1.5,-1.5zM520.01,697.78l1.5,1.5l-1.5,1.5l-1.5,-1.5zM493.53,697.4l1.5,1.5l-1.5,1.5l-1.5,-1.5zM766.91,690.6l1.5,1.5l-1.5,1.5l-1.5,-1.5zM732.61,685.22l1.5,1.5l-1.5,1.5l-1.5,-1.5zM526.63,684.64l1.5,1.5l-1.5,1.5l-1.5,-1.5zM505.44,684.54l1.5,1.5l-1.5,1.5l-1.5,-1.5zM731.38,685.73l1.5,1.5l-1.5,1.5l-1.5,-1.5zM660.77,688.33l1.5,1.5l-1.5,1.5l-1.5,-1.5zM524.54,690.37l1.5,1.5l-1.5,1.5l-1.5,-1.5zM539.24,698.18l1.5,1.5l-1.5,1.5l-1.5,-1.5zM599.3,692.81l1.5,1.5l-1.5,1.5l-1.5,-1.5zM652.69,693.28l1.5,1.5l-1.5,1.5l-1.5,-1.5zM627.99,688.28l1.5,1.5l-1.5,1.5l-1.5,-1.5zM525.85,696.93l1.5,1.5l-1.5,1.5l-1.5,-1.5z" fill="#ffa500" fill-opacity="0.112" stroke="#ffa500" stroke-opacity="0.160" stroke-width="0.7"/>
<path d="M581.44,766.22l1.5,1.5l-1.5,1.5l-1.5,-1.5zM678.66,764.8l1.5,1.5l-1.5,1.5l-1.5,-1.5zM644.46,770.08l1.5,1.5l-1.5,1.5l-1.5,-1.5zM502.44,772.63l1.5,1.5l-1.5,1.5l-1.5,-1.5zM496.34,771.31l1.5,1.5l-1.5,1.5l-1.5,-1.5zM505.96,765.13l1.5,1.5l-1.5,1.5l-1.5,-1.5zM611.37,778.38l1.5,1.5l-1.5,1.5l-1.5,-1.5zM521.99,767.52l1.5,1.5l-1.5,1.5l-1.5,-1.5zM671.67,780.56l1.5,1.5l-1.5,1.5l-1.5,-1.5zM656.71,770.64l1.5,1.5l-1.5,1.5l-1.5,-1.5zM775.34,764.34l1.5,1.5l-1.5,1.5l-1.5,-1.5zM740.34,768.71l1.5,1.5l-1.5,1.5l-1.5,-1.5zM528.07,765.62l1.5,1.5l-1.5,1.5l-1.5,-1.5zM576.88,778.19l1.5,1.5l-1.5,1.5l-1.5,-1.5zM538.91,773.97l1.5,1.5l-1.5,1.5l-1.5,-1.5zM675.09,770.2l1.5,1.5l-1.5,1.5l-1.5,-1.5zM647.99,764.63l1.5,1.5l-1.5,1.5l-1.5,-1.5zM502.91,767.21l1.5,1.5l-1.5,1.5l-1.5,-1.5zM687.41,771.2l1.5,1.5l-1.5,1.5l-1.5,-1.5zM578.56,774.04l1.5,1.5l-1.5,1.5l-1.5,-1.5zM619.89,768.9l1.5,1.5l-1.5,1.5l-1.5,-1.5zM721.29,776.08l1.5,1.5l-1.5,1.5l-1.5,-1.5zM557.75,773.84l1.5,1.5l-1.5,1.5l-1.5,-1.5zM641.29,779.25l1.5,1.5l-1.5,1.5l-1.5,-1.5zM701.99,768.68l1.5,1.5l-1.5,1.5l-1.5,-1.5zM776.51,765.63l1.5,1.5l-1.5,1.5l-1.5,-1.5zM609.47,777.13l1.5,1.5l-1.5,1.5l-1.5,-1.5zM530.37,772.3l1.5,1.5l-1.5,1.5l-1.5,-1.5zM496.85,775.53l1.5,1.5l-1.5,1.5l-1.5,-1.5zM712.43,773.81l1.5,1.5l-1.5,1.5l-1.5,-1.5zM745.39,769.15l1.5,1.5l-1.5,1.5l-1.5,-1.5zM691.84,774.2l1.5,1.5l-1.5,1.5l-1.5,-1.5zM657.54,771.71l1.5,1.5l-1.5,1.5l-1.5,-1.5zM734.84,780.5l1.5,1.5l-1.5,1.5l-1.5,-1.5zM626.1,775.45l1.5,1.5l-1.5,1.5l-1.5,-1.5zM503.23,776.13l1.5,1.5l-1.5,1.5l-1.5,-1.5zM677.53,781.38l1.5,1.5l-1.5,1.5l-1.5,-1.5zM729.48,768.62l1.5,1.5l-1.5,1.5l-1.5,-1.5zM599.86,775.54l1.5,1.5l-1.5,1.5l-1.5,-1.5zM491.91,771.81l1.5,1.5l-1.5,1.5l-1.5,-1.5zM535.14,765.61l1.5,1.5l-1.5,1.5l-1.5,-1.5zM502.72,777.33l1.5,1.5l-1.5,1.5l-1.5,-1.5zM523.64,767.96l1.5,1.5l-1.5,1.5l-1.5,-1.5zM601.39,779.19l1.5,1.5l-1.5,1.5l-1.5,-1.5zM509.15,771.59l1.5,1.5l-1.5,1.5l-1.5,-1.5zM648.49,779.4l1.5,1.5l-1.5,1.5l-1.5,-1.5zM728.69,779.05l1.5,1.5l-1.5,1.5l-1.5,-1.5zM567.95,770.98l1.5,1.5l-1.5,1.5l-1.5,-1.5zM591.83,779.42l1.5,1.5l-1.5,1.5l-1.5,-1.5zM769.84,766.22l1.5,1.5l-1.5,1.5l-1.5,-1.5zM537.57,767.68l1.5,1.5l-1.5,1.5l-1.5,-1.5zM554.55,772.23l1.5,1.5l-1.5,1.5l-1.5,-1.5zM660.29,768.23l1.5,1.5l-1.5,1.5l-1.5,-1.5zM486.42,771.04l1.5,1.5l-1.5,1.5l-1.5,-1.5zM594.94,773.69l1.5,1.5l-1.5,1.5l-1.5,-1.5zM768.46,775.93l1.5,1.5l-1.5,1.5l-1.5,-1.5zM638.4,774.62l1.5,1.5l-1.5,1.5l-1.5,-1.5zM686.17,764.47l1.5,1.5l-1.5,1.5l-1.5,-1.5zM752.54,777.54l1.5,1.5l-1.5,1.5l-1.5,-1.5zM745.11,777.86l1.5,1.5l-1.5,1.5l-1.5,-1.5zM601.82,770.68l1.5,1.5l-1.5,1.5l-1.5,-1.5zM515.97,774.92l1.5,1.5l-1.5,1.5l-1.5,-1.5zM503.7,764.71l1.5,1.5l-1.5,1.5l-1.5,-1.5zM547.24,766.42l1.5,1.5l-1.5,1.5l-1.5,-1.5zM586.26,764.45l1.5,1.5l-1.5,1.5l-1.5,-1.5zM485.27,766.22l1.5,1.5l-1.5,1.5l-1.5,-1.5zM515.36,770.04l1.5,1.5l-1.5,1.5l-1.5,-1.5zM492.78,779.24l1.5,1.5l-1.5,1.5l-1.5,-1.5zM667.7,766.17l1.5,1.5l-1.5,1.5l-1.5,-1.5zM560.17,769.75l1.5,1.5l-1.5,1.5l-1.5,-1.5zM593.43,765.71l1.5,1.5l-1.5,1.5l-1.5,-1.5zM737.5,781.38l1.5,1.5l-1.5,1.5l-1.5,-1.5zM623.69,772.21l1.5,1.5l-1.5,1.5l-1.5,-1.5zM510.72,765.34l1.5,1.5l-1.5,1.5l-1.5,-1.5zM587.03,768.27l1.5,1.5l-1.5,1.5l-1.5,-1.5zM731.54,766.41l1.5,1.5l-1.5,1.5l-1.5,-1.5zM492.06,780.62l1.5,1.5l-1.5,1.5l-1.5,-1.5zM642.2,766.14l1.5,1.5l-1.5,1.5l-1.5,-1.5zM646.63,763.99l1.5,1.5l-1.5,1.5l-1.5,-1.5zM642.15,781.11l1.5,1.5l-1.5,1.5l-1.5,-1.5zM741.78,776.03l1.5,1.5l-1.5,1.5l-1.5,-1.5zM562.8,770.1l1.5,1.5l-1.5,1.5l-1.5,-1.5zM534.84,777.39l1.5,1.5l-1.5,1.5l-1.5,-1.5zM643.49,777.52l1.5,1.5l-1.5,1.5l-1.5,-1.5zM583.18,767.51l1.5,1.5l-1.5,1.5l-1.5,-1.5zM726.38,781.23l1.5,1.5l-1.5,1.5l-1.5,-1.5zM738.6,778.01l1.5,1.5l-1.5,1.5l-1.5,-1.5zM728.41,776.82l1.5,1.5l-1.5,1.5l-1.5,-1.5zM552.59,772.82l1.5,1.5l-1.5,1.5l-1.5,-1.5zM590.87,764.02l1.5,1.5l-1.5,1.5l-1.5,-1.5zM493.5,768.53l1.5,1.5l-1.5,1.5l-1.5,-1.5zM562.23,775.97l1.5,1.5l-1.5,1.5l-1.5,-1.5zM769.48,771.55l1.5,1.5l-1.5,1.5l-1.5,-1.5zM763.68,781.28l1.5,1.5l-1.5,1.5l-1.5,-1.5zM769.03,770.06l1.5,1.5l-1.5,1.5l-1.5,-1.5zM550.72,767.58l1.5,1.5l-1.5,1.5l-1.5,-1.5zM543.66,767.18l1.5,1.5l-1.5,1.5l-1.5,-1.5zM670.67,779.71l1.5,1.5l-1.5,1.5l-1.5,-1.5zM734.98,772.13l1.5,1.5l-1.5,1.5l-1.5,-1.5zM679.27,777.89l1.5,1.5l-1.5,1.5l-1.5,-1.5zM510.4,775.39l1.5,1.5l-1.5,1.5l-1.5,-1.5zM755.59,777.58l1.5,1.5l-1.5,1.5l-1.5,-1.5zM708.14,772.1l1.5,1.5l-1.5,1.5l-1.5,-1.5zM538.26,777.7l1.5,1.5l-1.5,1.5l-1.5,-1.5zM584.02,777.91l1.5,1.5l-1.5,1.5l-1.5,-1.5zM773.98,770.63l1.5,1.5l-1.5,1.5l-1.5,-1.5zM604.49,780.54l1.5,1.5l-1.5,1.5l-1.5,-1.5zM700.61,766.56l1.5,1.5l-1.5,1.5l-1.5,-1.5zM522.96,766.22l1.5,1.5l-1.5,1.5l-1.5,-1.5zM754.12,778.02l1.5,1.5l-1.5,1.5l-1.5,-1.5zM528.64,778.38l1.5,1.5l-1.5,1.5l-1.5,-1.5zM776.55,775.33l1.5,1.5l-1.5,1.5l-1.5,-1.5zM589.34,773.38l1.5,1.5l-1.5,1.5l-1.5,-1.5zM524.13,763.76l1.5,1.5l-1.5,1.5l-1.5,-1.5zM773.75,775.19l1.5,1.5l-1.5,1.5l-1.5,-1.5zM641.7,780.31l1.5,1.5l-1.5,1.5l-1.5,-1.5zM614.13,779.19l1.5,1.5l-1.5,1.5l-1.5,-1.5zM730.73,767.3l1.5,1.5l-1.5,1.5l-1.5,-1.5zM560.05,768.77l1.5,1.5l-1.5,1.5l-1.5,-1.5zM556.69,774.06l1.5,1.5l-1.5,1.5l-1.5,-1.5zM562.28,771.04l1.5,1.5l-1.5,1.5l-1.5,-1.5zM524.16,779.88l1.5,1.5l-1.5,1.5l-1.5,-1.5zM590.34,771.75l1.5,1.5l-1.5,1.5l-1.5,-1.5zM658.57,779.78l1.5,1.5l-1.5,1.5l-1.5,-1.5zM610.21,780.02l1.5,1.5l-1.5,1.5l-1.5,-1.5zM634.29,773.07l1.5,1.5l-1.5,1.5l-1.5,-1.5zM640.79,763.84l1.5,1.5l-1.5,1.5l-1.5,-1.5zM616.01,766.8l1.5,1.5l-1.5,1.5l-1.5,-1.5zM486.37,777.89l1.5,1.5l-1.5,1.5l-1.5,-1.5zM536.42,772.02l1.5,1.5l-1.5,1.5l-1.5,-1.5zM700.73,773.52l1.5,1.5l-1.5,1.5l-1.5,-1.5zM582.08,772.83l1.5,1.5l-1.5,1.5l-1.5,-1.5zM650.28,777.62l1.5,1.5l-1.5,1.5l-1.5,-1.5zM516.74,773.59l1.5,1.5l-1.5,1.5l-1.5,-1.5zM559.05,768.48l1.5,1.5l-1.5,1.5l-1.5,-1.5zM714.72,772.64l1.5,1.5l-1.5,1.5l-1.5,-1.5zM652.15,777.18l1.5,1.5l-1.5,1.5l-1.5,-1.5zM756.39,771.48l1.5,1.5l-1.5,1.5l-1.5,-1.5zM667.24,772.6l1.5,1.5l-1.5,1.5l-1.5,-1.5zM637.41,775.97l1.5,1.5l-1.5,1.5l-1.5,-1.5zM619.64,773.1l1.5,1.5l-1.5,1.5l-1.5,-1.5zM627.27,780.45l1.5,1.5l-1.5,1.5l-1.5,-1.5zM693.01,779.28l1.5,1.5l-1.5,1.5l-1.5,-1.5zM765.22,768.17l1.5,1.5l-1.5,1.5l-1.5,-1.5zM651.49,780.48l1.5,1.5l-1.5,1.5l-1.5,-1.5zM734.85,765.97l1.5,1.5l-1.5,1.5l-1.5,-1.5zM521.35,771.46l1.5,1.5l-1.5,1.5l-1.5,-1.5zM506.76,767.83l1.5,1.5l-1.5,1.5l-1.5,-1.5zM506.93,775.55l1.5,1.5l-1.5,1.5l-1.5,-1.5zM718.19,779.65l1.5,1.5l-1.5,1.5l-1.5,-1.5zM531.1,776.39l1.5,1.5l-1.5,1.5l-1.5,-1.5zM681.43,766.07l1.5,1.5l-1.5,1.5l-1.5,-1.5zM747.58,780.92l1.5,1.5l-1.5,1.5l-1.5,-1.5zM550.46,780.65l1.5,1.5l-1.5,1.5l-1.5,-1.5zM603.56,772.27l1.5,1.5l-1.5,1.5l-1.5,-1.5zM779.39,778.48l1.5,1.5l-1.5,1.5l-1.5,-1.5zM533.19,771.27l1.5,1.5l-1.5,1.5l-1.5,-1.5zM638.44,769.6l1.5,1.5l-1.5,1.5l-1.5,-1.5zM543.38,769.23l1.5,1.5l-1.5,1.5l-1.5,-1.5zM699.82,763.85l1.5,1.5l-1.5,1.5l-1.5,-1.5z" fill="#ffa500" fill-opacity="0.112" stroke="#ffa500" stroke-opacity="0.160" stroke-width="0.7"/>
<rect x="482" y="760.8" width="4" height="3" fill="#ffa500"/>
<rect x="781" y="760.8" width="6.8" height="3" fill="#ffa500"/>
</g>
<rect x="71" y="35" width="334" height="1" fill="#000"/>
<rect x="71" y="138" width="334" height="1" fill="#000"/>
<rect x="71" y="35" width="1" height="104" fill="#000"/>
<rect x="404" y="35" width="1" height="104" fill="#000"/>
<rect x="66" y="65" width="5" height="1" fill="#000"/>
<rect x="66" y="114" width="5" height="1" fill="#000"/>
<rect x="112" y="139" width="1" height="5" fill="#000"/>
<rect x="165" y="139" width="1" height="5" fill="#000"/>
<rect x="218" y="139" width="1" height="5" fill="#000"/>
<rect x="271" y="139" width="1" height="5" fill="#000"/>
<rect x="323" y="139" width="1" height="5" fill="#000"/>
<rect x="376" y="139" width="1" height="5" fill="#000"/>
<rect x="467" y="35" width="335" height="1" fill="#000"/>
<rect x="467" y="138" width="335" height="1" fill="#000"/>
<rect x="467" y="35" width="1" height="104" fill="#000"/>
<rect x="801" y="35" width="1" height="104" fill="#000"/>
<rect x="462" y="82" width="5" height="1" fill="#000"/>
<rect x="462" y="134" width="5" height="1" fill="#000"/>
<rect x="509" y="139" width="1" height="5" fill="#000"/>
<rect x="562" y="139" width="1" height="5" fill="#000"/>
<rect x="615" y="139" width="1" height="5" fill="#000"/>
<rect x="667" y="139" width="1" height="5" fill="#000"/>
<rect x="720" y="139" width="1" height="5" fill="#000"/>
<rect x="773" y="139" width="1" height="5" fill="#000"/>
<rect x="71" y="197" width="334" height="1" fill="#000"/>
<rect x="71" y="300" width="334" height="1" fill="#000"/>
<rect x="71" y="197" width="1" height="104" fill="#000"/>
<rect x="404" y="197" width="1" height="104" fill="#000"/>
<rect x="66" y="234" width="5" height="1" fill="#000"/>
<rect x="66" y="276" width="5" height="1" fill="#000"/>
<rect x="112" y="301" width="1" height="5" fill="#000"/>
<rect x="165" y="301" width="1" height="5" fill="#000"/>
<rect x="218" y="301" width="1" height="5" fill="#000"/>
<rect x="271" y="301" width="1" height="5" fill="#000"/>
<rect x="323" y="301" width="1" height="5" fill="#000"/>
<rect x="376" y="301" width="1" height="5" fill="#000"/>
<rect x="467" y="197" width="335" height="1" fill="#000"/>
<rect x="467" y="300" width="335" height="1" fill="#000"/>
<rect x="467" y="197" width="1" height="104" fill="#000"/>
<rect x="801" y="197" width="1" height="104" fill="#000"/>
<rect x="462" y="240" width="5" height="1" fill="#000"/>
<rect x="462" y="285" width="5" height="1" fill="#000"/>
<rect x="509" y="301" width="1" height="5" fill="#000"/>
<rect x="562" y="301" width="1" height="5" fill="#000"/>
<rect x="615" y="301" width="1" height="5" fill="#000"/>
<rect x="667" y="301" width="1" height="5" fill="#000"/>
<rect x="720" y="301" width="1" height="5" fill="#000"/>
<rect x="773" y="301" width="1" height="5" fill="#000"/>
<rect x="71" y="359" width="334" height="1" fill="#000"/>
<rect x="71" y="462" width="334" height="1" fill="#000"/>
<rect x="71" y="359" width="1" height="104" fill="#000"/>
<rect x="404" y="359" width="1" height="104" fill="#000"/>
<rect x="66" y="373" width="5" height="1" fill="#000"/>
<rect x="66" y="408" width="5" height="1" fill="#000"/>
<rect x="66" y="442" width="5" height="1" fill="#000"/>
<rect x="112" y="463" width="1" height="5" fill="#000"/>
<rect x="165" y="463" width="1" height="5" fill="#000"/>
<rect x="218" y="463" width="1" height="5" fill="#000"/>
<rect x="271" y="463" width="1" height="5" fill="#000"/>
<rect x="323" y="463" width="1" height="5" fill="#000"/>
<rect x="376" y="463" width="1" height="5" fill="#000"/>
<rect x="467" y="359" width="335" height="1" fill="#000"/>
<rect x="467" y="462" width="335" height="1" fill="#000"/>
<rect x="467" y="359" width="1" height="104" fill="#000"/>
<rect x="801" y="359" width="1" height="104" fill="#000"/>
<rect x="462" y="394" width="5" height="1" fill="#000"/>
<rect x="462" y="435" width="5" height="1" fill="#000"/>
<rect x="509" y="463" width="1" height="5" fill="#000"/>
<rect x="562" y="463" width="1" height="5" fill="#000"/>
<rect x="615" y="463" width="1" height="5" fill="#000"/>
<rect x="667" y="463" width="1" height="5" fill="#000"/>
<rect x="720" y="463" width="1" height="5" fill="#000"/>
<rect x="773" y="463" width="1" height="5" fill="#000"/>
<rect x="71" y="522" width="334" height="1" fill="#000"/>
<rect x="71" y="625" width="334" height="1" fill="#000"/>
<rect x="71" y="522" width="1" height="104" fill="#000"/>
<rect x="404" y="522" width="1" height="104" fill="#000"/>
<rect x="66" y="541" width="5" height="1" fill="#000"/>
<rect x="66" y="584" width="5" height="1" fill="#000"/>
<rect x="112" y="626" width="1" height="5" fill="#000"/>
<rect x="165" y="626" width="1" height="5" fill="#000"/>
<rect x="218" y="626" width="1" height="5" fill="#000"/>
<rect x="271" y="626" width="1" height="5" fill="#000"/>
<rect x="323" y="626" width="1" height="5" fill="#000"/>
<rect x="376" y="626" width="1" height="5" fill="#000"/>
<rect x="467" y="522" width="335" height="1" fill="#000"/>
<rect x="467" y="625" width="335" height="1" fill="#000"/>
<rect x="467" y="522" width="1" height="104" fill="#000"/>
<rect x="801" y="522" width="1" height="104" fill="#000"/>
<rect x="462" y="542" width="5" height="1" fill="#000"/>
<rect x="462" y="573" width="5" height="1" fill="#000"/>
<rect x="462" y="605" width="5" height="1" fill="#000"/>
<rect x="509" y="626" width="1" height="5" fill="#000"/>
<rect x="562" y="626" width="1" height="5" fill="#000"/>
<rect x="615" y="626" width="1" height="5" fill="#000"/>
<rect x="667" y="626" width="1" height="5" fill="#000"/>
<rect x="720" y="626" width="1" height="5" fill="#000"/>
<rect x="773" y="626" width="1" height="5" fill="#000"/>
<rect x="71" y="684" width="334" height="1" fill="#000"/>
<rect x="71" y="787" width="334" height="1" fill="#000"/>
<rect x="71" y="684" width="1" height="104" fill="#000"/>
<rect x="404" y="684" width="1" height="104" fill="#000"/>
<rect x="66" y="716" width="5" height="1" fill="#000"/>
<rect x="66" y="751" width="5" height="1" fill="#000"/>
<rect x="66" y="787" width="5" height="1" fill="#000"/>
<rect x="112" y="788" width="1" height="5" fill="#000"/>
<rect x="165" y="788" width="1" height="5" fill="#000"/>
<rect x="218" y="788" width="1" height="5" fill="#000"/>
<rect x="271" y="788" width="1" height="5" fill="#000"/>
<rect x="323" y="788" width="1" height="5" fill="#000"/>
<rect x="376" y="788" width="1" height="5" fill="#000"/>
<rect x="467" y="684" width="335" height="1" fill="#000"/>
<rect x="467" y="787" width="335" height="1" fill="#000"/>
<rect x="467" y="684" width="1" height="104" fill="#000"/>
<rect x="801" y="684" width="1" height="104" fill="#000"/>
<rect x="462" y="690" width="5" height="1" fill="#000"/>
<rect x="462" y="726" width="5" height="1" fill="#000"/>
<rect x="462" y="762" width="5" height="1" fill="#000"/>
<rect x="509" y="788" width="1" height="5" fill="#000"/>
<rect x="562" y="788" width="1" height="5" fill="#000"/>
<rect x="615" y="788" width="1" height="5" fill="#000"/>
<rect x="667" y="788" width="1" height="5" fill="#000"/>
<rect x="720" y="788" width="1" height="5" fill="#000"/>
<rect x="773" y="788" width="1" height="5" fill="#000"/>
<rect x="71" y="846" width="334" height="1" fill="#000"/>
<rect x="71" y="949" width="334" height="1" fill="#000"/>
<rect x="71" y="846" width="1" height="104" fill="#000"/>
<rect x="404" y="846" width="1" height="104" fill="#000"/>
<rect x="66" y="846" width="5" height="1" fill="#000"/>
<rect x="66" y="897" width="5" height="1" fill="#000"/>
<rect x="66" y="949" width="5" height="1" fill="#000"/>
<rect x="71" y="950" width="1" height="5" fill="#000"/>
<rect x="138" y="950" width="1" height="5" fill="#000"/>
<rect x="204" y="950" width="1" height="5" fill="#000"/>
<rect x="271" y="950" width="1" height="5" fill="#000"/>
<rect x="338" y="950" width="1" height="5" fill="#000"/>
<rect x="404" y="950" width="1" height="5" fill="#000"/>
<rect x="467" y="846" width="335" height="1" fill="#000"/>
<rect x="467" y="949" width="335" height="1" fill="#000"/>
<rect x="467" y="846" width="1" height="104" fill="#000"/>
<rect x="801" y="846" width="1" height="104" fill="#000"/>
<rect x="462" y="846" width="5" height="1" fill="#000"/>
<rect x="462" y="897" width="5" height="1" fill="#000"/>
<rect x="462" y="949" width="5" height="1" fill="#000"/>
<rect x="467" y="950" width="1" height="5" fill="#000"/>
<rect x="534" y="950" width="1" height="5" fill="#000"/>
<rect x="600" y="950" width="1" height="5" fill="#000"/>
<rect x="667" y="950" width="1" height="5" fill="#000"/>
<rect x="734" y="950" width="1" height="5" fill="#000"/>
<rect x="801" y="950" width="1" height="5" fill="#000"/>
<rect x="71" y="1008" width="334" height="1" fill="#000"/>
<rect x="71" y="1111" width="334" height="1" fill="#000"/>
<rect x="71" y="1008" width="1" height="104" fill="#000"/>
<rect x="404" y="1008" width="1" height="104" fill="#000"/>
<rect x="66" y="1008" width="5" height="1" fill="#000"/>
<rect x="66" y="1059" width="5" height="1" fill="#000"/>
<rect x="66" y="1111" width="5" height="1" fill="#000"/>
<rect x="71" y="1112" width="1" height="5" fill="#000"/>
<rect x="138" y="1112" width="1" height="5" fill="#000"/>
<rect x="204" y="1112" width="1" height="5" fill="#000"/>
<rect x="271" y="1112" width="1" height="5" fill="#000"/>
<rect x="338" y="1112" width="1" height="5" fill="#000"/>
<rect x="404" y="1112" width="1" height="5" fill="#000"/>
<rect x="467" y="1008" width="335" height="1" fill="#000"/>
<rect x="467" y="1111" width="335" height="1" fill="#000"/>
<rect x="467" y="1008" width="1" height="104" fill="#000"/>
<rect x="801" y="1008" width="1" height="104" fill="#000"/>
<rect x="462" y="1008" width="5" height="1" fill="#000"/>
<rect x="462" y="1059" width="5" height="1" fill="#000"/>
<rect x="462" y="1111" width="5" height="1" fill="#000"/>
<rect x="467" y="1112" width="1" height="5" fill="#000"/>
<rect x="534" y="1112" width="1" height="5" fill="#000"/>
<rect x="600" y="1112" width="1" height="5" fill="#000"/>
<rect x="667" y="1112" width="1" height="5" fill="#000"/>
<rect x="734" y="1112" width="1" height="5" fill="#000"/>
<rect x="801" y="1112" width="1" height="5" fill="#000"/>
<text x="71.67" y="26.83" font-size="16.67" textLength="331.64" lengthAdjust="spacingAndGlyphs">NoRP 1GHz Stokes-I on 2019-08-29[JST]</text>
<text transform="translate(33.20,123.43) rotate(-90)" x="0" y="0" font-size="13.89" textLength="71.05" lengthAdjust="spacingAndGlyphs">Flux [SFU]</text>
<text x="92.68" y="159.00" font-size="13.89" textLength="39.48" lengthAdjust="spacingAndGlyphs">22:00</text>
<text x="146.49" y="159.00" font-size="13.89" textLength="38.44" lengthAdjust="spacingAndGlyphs">00:00</text>
<text x="199.29" y="159.00" font-size="13.89" textLength="38.44" lengthAdjust="spacingAndGlyphs">02:00</text>
<text x="251.09" y="159.00" font-size="13.89" textLength="38.44" lengthAdjust="spacingAndGlyphs">04:00</text>
<text x="304.83" y="159.00" font-size="13.89" textLength="37.54" lengthAdjust="spacingAndGlyphs">06:00</text>
<text x="357.63" y="159.00" font-size="13.89" textLength="37.54" lengthAdjust="spacingAndGlyphs">08:00</text>
<text x="45.33" y="69.74" font-size="13.89" textLength="14.92" lengthAdjust="spacingAndGlyphs">40</text>
<text x="43.31" y="118.74" font-size="13.89" textLength="16.97" lengthAdjust="spacingAndGlyphs">20</text>
<text x="547.45" y="26.33" font-size="16.67" textLength="172.06" lengthAdjust="spacingAndGlyphs">NoRP 1GHz Stokes-V</text>
<text x="489.26" y="159.00" font-size="13.89" textLength="39.48" lengthAdjust="spacingAndGlyphs">22:00</text>
<text x="542.08" y="159.00" font-size="13.89" textLength="38.44" lengthAdjust="spacingAndGlyphs">00:00</text>
<text x="595.89" y="159.00" font-size="13.89" textLength="37.42" lengthAdjust="spacingAndGlyphs">02:00</text>
<text x="648.69" y="159.00" font-size="13.89" textLength="37.42" lengthAdjust="spacingAndGlyphs">04:00</text>
<text x="701.43" y="159.00" font-size="13.89" textLength="37.57" lengthAdjust="spacingAndGlyphs">06:00</text>
<text x="753.22" y="159.00" font-size="13.89" textLength="38.56" lengthAdjust="spacingAndGlyphs">08:00</text>
<text x="450.70" y="86.84" font-size="13.89" textLength="7.43" lengthAdjust="spacingAndGlyphs">0</text>
<text x="438.08" y="138.84" font-size="13.89" textLength="18.67" lengthAdjust="spacingAndGlyphs">−2</text>
<text x="154.61" y="187.50" font-size="16.67" textLength="165.74" lengthAdjust="spacingAndGlyphs">NoRP 2GHz Stokes-I</text>
<text transform="translate(33.20,285.65) rotate(-90)" x="0" y="0" font-size="13.89" textLength="71.19" lengthAdjust="spacingAndGlyphs">Flux [SFU]</text>
<text x="92.68" y="321.17" font-size="13.89" textLength="39.48" lengthAdjust="spacingAndGlyphs">22:00</text>
<text x="146.49" y="321.17" font-size="13.89" textLength="38.44" lengthAdjust="spacingAndGlyphs">00:00</text>
<text x="199.29" y="321.17" font-size="13.89" textLength="38.44" lengthAdjust="spacingAndGlyphs">02:00</text>
<text x="251.09" y="321.17" font-size="13.89" textLength="38.44" lengthAdjust="spacingAndGlyphs">04:00</text>
<text x="304.83" y="321.17" font-size="13.89" textLength="37.54" lengthAdjust="spacingAndGlyphs">06:00</text>
<text x="357.63" y="321.17" font-size="13.89" textLength="37.54" lengthAdjust="spacingAndGlyphs">08:00</text>
<text x="43.35" y="240.04" font-size="13.89" textLength="15.91" lengthAdjust="spacingAndGlyphs">50</text>
<text x="43.35" y="280.74" font-size="13.89" textLength="15.91" lengthAdjust="spacingAndGlyphs">25</text>
<text x="547.45" y="187.50" font-size="16.67" textLength="172.06" lengthAdjust="spacingAndGlyphs">NoRP 2GHz Stokes-V</text>
<text x="489.26" y="321.17" font-size="13.89" textLength="39.48" lengthAdjust="spacingAndGlyphs">22:00</text>
<text x="542.08" y="321.17" font-size="13.89" textLength="38.44" lengthAdjust="spacingAndGlyphs">00:00</text>
<text x="595.89" y="321.17" font-size="13.89" textLength="37.42" lengthAdjust="spacingAndGlyphs">02:00</text>
<text x="648.69" y="321.17" font-size="13.89" textLength="37.42" lengthAdjust="spacingAndGlyphs">04:00</text>
<text x="701.43" y="321.17" font-size="13.89" textLength="37.57" lengthAdjust="spacingAndGlyphs">06:00</text>
<text x="753.22" y="321.17" font-size="13.89" textLength="38.56" lengthAdjust="spacingAndGlyphs">08:00</text>
<text x="450.70" y="244.74" font-size="13.89" textLength="7.43" lengthAdjust="spacingAndGlyphs">0</text>
<text x="438.08" y="289.84" font-size="13.89" textLength="18.67" lengthAdjust="spacingAndGlyphs">−5</text>
<text x="141.48" y="349.67" font-size="16.67" textLength="192.22" lengthAdjust="spacingAndGlyphs">NoRP 3.75GHz Stokes-I</text>
<text transform="translate(33.20,447.75) rotate(-90)" x="0" y="0" font-size="13.89" textLength="71.05" lengthAdjust="spacingAndGlyphs">Flux [SFU]</text>
<text x="92.68" y="483.34" font-size="13.89" textLength="39.48" lengthAdjust="spacingAndGlyphs">22:00</text>
<text x="146.49" y="483.34" font-size="13.89" textLength="38.44" lengthAdjust="spacingAndGlyphs">00:00</text>
<text x="199.29" y="483.34" font-size="13.89" textLength="38.44" lengthAdjust="spacingAndGlyphs">02:00</text>
<text x="251.09" y="483.34" font-size="13.89" textLength="38.44" lengthAdjust="spacingAndGlyphs">04:00</text>
<text x="304.83" y="483.34" font-size="13.89" textLength="37.54" lengthAdjust="spacingAndGlyphs">06:00</text>
<text x="357.63" y="483.34" font-size="13.89" textLength="37.54" lengthAdjust="spacingAndGlyphs">08:00</text>
<text x="44.39" y="378.94" font-size="13.89" textLength="14.85" lengthAdjust="spacingAndGlyphs">75</text>
<text x="43.35" y="413.46" font-size="13.89" textLength="15.91" lengthAdjust="spacingAndGlyphs">50</text>
<text x="43.35" y="446.99" font-size="13.89" textLength="15.91" lengthAdjust="spacingAndGlyphs">25</text>
<text x="534.32" y="349.67" font-size="16.67" textLength="197.50" lengthAdjust="spacingAndGlyphs">NoRP 3.75GHz Stokes-V</text>
<text x="489.26" y="483.34" font-size="13.89" textLength="39.48" lengthAdjust="spacingAndGlyphs">22:00</text>
<text x="542.08" y="483.34" font-size="13.89" textLength="38.44" lengthAdjust="spacingAndGlyphs">00:00</text>
<text x="595.89" y="483.34" font-size="13.89" textLength="37.42" lengthAdjust="spacingAndGlyphs">02:00</text>
<text x="648.69" y="483.34" font-size="13.89" textLength="37.42" lengthAdjust="spacingAndGlyphs">04:00</text>
<text x="701.43" y="483.34" font-size="13.89" textLength="37.57" lengthAdjust="spacingAndGlyphs">06:00</text>
<text x="753.22" y="483.34" font-size="13.89" textLength="38.56" lengthAdjust="spacingAndGlyphs">08:00</text>
<text x="436.53" y="398.84" font-size="13.89" textLength="21.22" lengthAdjust="spacingAndGlyphs">2.5</text>
<text x="436.55" y="440.84" font-size="13.89" textLength="20.16" lengthAdjust="spacingAndGlyphs">0.0</text>
<text x="146.80" y="512.84" font-size="16.67" textLength="181.91" lengthAdjust="spacingAndGlyphs">NoRP 9.4GHz Stokes-I</text>
<text transform="translate(24.45,609.93) rotate(-90)" x="0" y="0" font-size="13.89" textLength="71.05" lengthAdjust="spacingAndGlyphs">Flux [SFU]</text>
<text x="92.68" y="645.51" font-size="13.89" textLength="39.48" lengthAdjust="spacingAndGlyphs">22:00</text>
<text x="146.49" y="645.51" font-size="13.89" textLength="38.44" lengthAdjust="spacingAndGlyphs">00:00</text>
<text x="199.29" y="645.51" font-size="13.89" textLength="38.44" lengthAdjust="spacingAndGlyphs">02:00</text>
<text x="251.09" y="645.51" font-size="13.89" textLength="38.44" lengthAdjust="spacingAndGlyphs">04:00</text>
<text x="304.83" y="645.51" font-size="13.89" textLength="37.54" lengthAdjust="spacingAndGlyphs">06:00</text>
<text x="357.63" y="645.51" font-size="13.89" textLength="37.54" lengthAdjust="spacingAndGlyphs">08:00</text>
<text x="35.59" y="545.84" font-size="13.89" textLength="23.43" lengthAdjust="spacingAndGlyphs">400</text>
<text x="35.56" y="588.64" font-size="13.89" textLength="25.51" lengthAdjust="spacingAndGlyphs">200</text>
<text x="540.64" y="512.84" font-size="16.67" textLength="187.19" lengthAdjust="spacingAndGlyphs">NoRP 9.4GHz Stokes-V</text>
<text x="489.26" y="645.51" font-size="13.89" textLength="39.48" lengthAdjust="spacingAndGlyphs">22:00</text>
<text x="542.08" y="645.51" font-size="13.89" textLength="38.44" lengthAdjust="spacingAndGlyphs">00:00</text>
<text x="595.89" y="645.51" font-size="13.89" textLength="37.42" lengthAdjust="spacingAndGlyphs">02:00</text>
<text x="648.69" y="645.51" font-size="13.89" textLength="37.42" lengthAdjust="spacingAndGlyphs">04:00</text>
<text x="701.43" y="645.51" font-size="13.89" textLength="37.57" lengthAdjust="spacingAndGlyphs">06:00</text>
<text x="753.22" y="645.51" font-size="13.89" textLength="38.56" lengthAdjust="spacingAndGlyphs">08:00</text>
<text x="433.07" y="546.71" font-size="13.89" textLength="24.52" lengthAdjust="spacingAndGlyphs">100</text>
<text x="450.70" y="579.11" font-size="13.89" textLength="7.43" lengthAdjust="spacingAndGlyphs">0</text>
<text x="420.42" y="609.51" font-size="13.89" textLength="35.84" lengthAdjust="spacingAndGlyphs">−100</text>
<text x="148.35" y="675.01" font-size="16.67" textLength="176.94" lengthAdjust="spacingAndGlyphs">NoRP 17GHz Stokes-I</text>
<text transform="translate(24.45,772.10) rotate(-90)" x="0" y="0" font-size="13.89" textLength="71.05" lengthAdjust="spacingAndGlyphs">Flux [SFU]</text>
<text x="92.68" y="807.68" font-size="13.89" textLength="39.48" lengthAdjust="spacingAndGlyphs">22:00</text>
<text x="146.49" y="807.68" font-size="13.89" textLength="38.44" lengthAdjust="spacingAndGlyphs">00:00</text>
<text x="199.29" y="807.68" font-size="13.89" textLength="38.44" lengthAdjust="spacingAndGlyphs">02:00</text>
<text x="251.09" y="807.68" font-size="13.89" textLength="38.44" lengthAdjust="spacingAndGlyphs">04:00</text>
<text x="304.83" y="807.68" font-size="13.89" textLength="37.54" lengthAdjust="spacingAndGlyphs">06:00</text>
<text x="357.63" y="807.68" font-size="13.89" textLength="37.54" lengthAdjust="spacingAndGlyphs">08:00</text>
<text x="35.59" y="721.67" font-size="13.89" textLength="23.43" lengthAdjust="spacingAndGlyphs">500</text>
<text x="35.56" y="757.06" font-size="13.89" textLength="25.51" lengthAdjust="spacingAndGlyphs">250</text>
<text x="53.06" y="792.45" font-size="13.89" textLength="8.49" lengthAdjust="spacingAndGlyphs">0</text>
<text x="542.19" y="675.01" font-size="16.67" textLength="182.25" lengthAdjust="spacingAndGlyphs">NoRP 17GHz Stokes-V</text>
<text x="489.26" y="807.68" font-size="13.89" textLength="39.48" lengthAdjust="spacingAndGlyphs">22:00</text>
<text x="542.08" y="807.68" font-size="13.89" textLength="38.44" lengthAdjust="spacingAndGlyphs">00:00</text>
<text x="595.89" y="807.68" font-size="13.89" textLength="37.42" lengthAdjust="spacingAndGlyphs">02:00</text>
<text x="648.69" y="807.68" font-size="13.89" textLength="37.42" lengthAdjust="spacingAndGlyphs">04:00</text>
<text x="701.43" y="807.68" font-size="13.89" textLength="37.57" lengthAdjust="spacingAndGlyphs">06:00</text>
<text x="753.22" y="807.68" font-size="13.89" textLength="38.56" lengthAdjust="spacingAndGlyphs">08:00</text>
<text x="439.90" y="695.93" font-size="13.89" textLength="16.97" lengthAdjust="spacingAndGlyphs">50</text>
<text x="439.90" y="731.88" font-size="13.89" textLength="16.97" lengthAdjust="spacingAndGlyphs">25</text>
<text x="450.70" y="767.83" font-size="13.89" textLength="7.43" lengthAdjust="spacingAndGlyphs">0</text>
<text x="148.35" y="837.18" font-size="16.67" textLength="176.94" lengthAdjust="spacingAndGlyphs">NoRP 35GHz Stokes-I</text>
<text transform="translate(29.70,934.28) rotate(-90)" x="0" y="0" font-size="13.89" textLength="71.05" lengthAdjust="spacingAndGlyphs">Flux [SFU]</text>
<text x="61.37" y="971.05" font-size="13.89" textLength="20.16" lengthAdjust="spacingAndGlyphs">0.0</text>
<text x="127.97" y="971.05" font-size="13.89" textLength="20.16" lengthAdjust="spacingAndGlyphs">0.2</text>
<text x="194.53" y="971.05" font-size="13.89" textLength="19.31" lengthAdjust="spacingAndGlyphs">0.4</text>
<text x="261.98" y="971.05" font-size="13.89" textLength="19.47" lengthAdjust="spacingAndGlyphs">0.6</text>
<text x="328.61" y="971.05" font-size="13.89" textLength="20.44" lengthAdjust="spacingAndGlyphs">0.8</text>
<text x="395.35" y="971.05" font-size="13.89" textLength="19.15" lengthAdjust="spacingAndGlyphs">1.0</text>
<text x="40.99" y="953.62" font-size="13.89" textLength="19.15" lengthAdjust="spacingAndGlyphs">0.0</text>
<text x="40.99" y="903.12" font-size="13.89" textLength="19.15" lengthAdjust="spacingAndGlyphs">0.5</text>
<text x="40.49" y="850.62" font-size="13.89" textLength="19.27" lengthAdjust="spacingAndGlyphs">1.0</text>
<text x="188.36" y="905.57" font-size="27.78" textLength="110.39" lengthAdjust="spacingAndGlyphs">No Data</text>
<text x="542.19" y="837.18" font-size="16.67" textLength="182.25" lengthAdjust="spacingAndGlyphs">NoRP 35GHz Stokes-V</text>
<text x="458.12" y="971.05" font-size="13.89" textLength="19.31" lengthAdjust="spacingAndGlyphs">0.0</text>
<text x="524.81" y="971.05" font-size="13.89" textLength="20.16" lengthAdjust="spacingAndGlyphs">0.2</text>
<text x="591.30" y="971.05" font-size="13.89" textLength="20.32" lengthAdjust="spacingAndGlyphs">0.4</text>
<text x="657.89" y="971.05" font-size="13.89" textLength="19.26" lengthAdjust="spacingAndGlyphs">0.6</text>
<text x="724.40" y="971.05" font-size="13.89" textLength="20.39" lengthAdjust="spacingAndGlyphs">0.8</text>
<text x="792.10" y="971.05" font-size="13.89" textLength="19.21" lengthAdjust="spacingAndGlyphs">1.0</text>
<text x="436.55" y="953.62" font-size="13.89" textLength="20.16" lengthAdjust="spacingAndGlyphs">0.0</text>
<text x="436.55" y="903.12" font-size="13.89" textLength="20.16" lengthAdjust="spacingAndGlyphs">0.5</text>
<text x="437.51" y="850.62" font-size="13.89" textLength="19.15" lengthAdjust="spacingAndGlyphs">1.0</text>
<text x="584.96" y="905.57" font-size="27.78" textLength="110.39" lengthAdjust="spacingAndGlyphs">No Data</text>
<text x="148.42" y="999.35" font-size="16.67" textLength="175.80" lengthAdjust="spacingAndGlyphs">NoRP 80GHz Stokes-I</text>
<text transform="translate(29.70,1096.45) rotate(-90)" x="0" y="0" font-size="13.89" textLength="71.05" lengthAdjust="spacingAndGlyphs">Flux [SFU]</text>
<text x="205.64" y="1150.07" font-size="13.89" textLength="64.77" lengthAdjust="spacingAndGlyphs">Time[UT]</text>
<text x="61.37" y="1132.82" font-size="13.89" textLength="20.16" lengthAdjust="spacingAndGlyphs">0.0</text>
<text x="127.97" y="1132.82" font-size="13.89" textLength="20.16" lengthAdjust="spacingAndGlyphs">0.2</text>
<text x="194.53" y="1132.82" font-size="13.89" textLength="19.31" lengthAdjust="spacingAndGlyphs">0.4</text>
<text x="261.98" y="1132.82" font-size="13.89" textLength="19.47" lengthAdjust="spacingAndGlyphs">0.6</text>
<text x="328.61" y="1132.82" font-size="13.89" textLength="20.44" lengthAdjust="spacingAndGlyphs">0.8</text>
<text x="395.35" y="1132.82" font-size="13.89" textLength="19.15" lengthAdjust="spacingAndGlyphs">1.0</text>
<text x="40.99" y="1115.79" font-size="13.89" textLength="19.15" lengthAdjust="spacingAndGlyphs">0.0</text>
<text x="40.99" y="1065.29" font-size="13.89" textLength="19.15" lengthAdjust="spacingAndGlyphs">0.5</text>
<text x="40.93" y="1012.79" font-size="13.89" textLength="19.21" lengthAdjust="spacingAndGlyphs">1.0</text>
<text x="188.36" y="1068.74" font-size="27.78" textLength="110.39" lengthAdjust="spacingAndGlyphs">No Data</text>
<text x="542.25" y="999.35" font-size="16.67" textLength="182.13" lengthAdjust="spacingAndGlyphs">NoRP 80GHz Stokes-V</text>
<text x="602.21" y="1150.07" font-size="13.89" textLength="63.79" lengthAdjust="spacingAndGlyphs">Time[UT]</text>
<text x="458.12" y="1132.82" font-size="13.89" textLength="19.31" lengthAdjust="spacingAndGlyphs">0.0</text>
<text x="524.81" y="1132.82" font-size="13.89" textLength="20.16" lengthAdjust="spacingAndGlyphs">0.2</text>
<text x="591.30" y="1132.82" font-size="13.89" textLength="20.32" lengthAdjust="spacingAndGlyphs">0.4</text>
<text x="657.89" y="1132.82" font-size="13.89" textLength="19.26" lengthAdjust="spacingAndGlyphs">0.6</text>
<text x="724.40" y="1132.82" font-size="13.89" textLength="20.39" lengthAdjust="spacingAndGlyphs">0.8</text>
<text x="792.10" y="1132.82" font-size="13.89" textLength="19.21" lengthAdjust="spacingAndGlyphs">1.0</text>
<text x="436.55" y="1115.79" font-size="13.89" textLength="20.16" lengthAdjust="spacingAndGlyphs">0.0</text>
<text x="436.55" y="1065.29" font-size="13.89" textLength="20.16" lengthAdjust="spacingAndGlyphs">0.5</text>
<text x="437.51" y="1012.79" font-size="13.89" textLength="19.15" lengthAdjust="spacingAndGlyphs">1.0</text>
<text x="584.96" y="1068.74" font-size="27.78" textLength="110.39" lengthAdjust="spacingAndGlyphs">No Data</text>
</svg>
</body></html>
